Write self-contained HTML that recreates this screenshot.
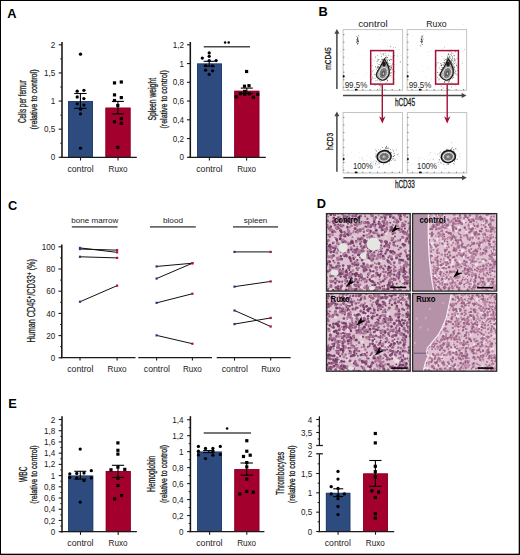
<!DOCTYPE html>
<html><head><meta charset="utf-8"><style>
html,body{margin:0;padding:0;background:#fff;overflow:hidden;}
svg{display:block;}
text{font-family:"Liberation Sans", sans-serif;}
</style></head><body>
<svg width="520" height="555" viewBox="0 0 520 555">
<text x="7.2" y="18.2" font-size="12.8" text-anchor="start" font-weight="bold" fill="#000">A</text>
<rect x="68" y="101.05000000000001" width="25" height="56.25" fill="#2e4b80"/>
<rect x="68.40" y="101.45" width="24.20" height="55.85" fill="none" stroke="#213d70" stroke-width="0.8"/>
<rect x="105.5" y="107.7" width="25" height="49.60000000000001" fill="#a4002e"/>
<rect x="105.90" y="108.10" width="24.20" height="49.20" fill="none" stroke="#8a0025" stroke-width="0.8"/>
<line x1="62" y1="42" x2="62" y2="158.0" stroke="#161616" stroke-width="1.55"/>
<line x1="58.7" y1="157.3" x2="62" y2="157.3" stroke="#1a1a1a" stroke-width="1.1"/>
<text x="55.2" y="160.4" font-size="8.7" text-anchor="end" fill="#1a1a1a" textLength="4.5" lengthAdjust="spacingAndGlyphs">0</text>
<line x1="58.7" y1="129.175" x2="62" y2="129.175" stroke="#1a1a1a" stroke-width="1.1"/>
<text x="55.2" y="132.28" font-size="8.7" text-anchor="end" fill="#1a1a1a" textLength="11.26" lengthAdjust="spacingAndGlyphs">0,5</text>
<line x1="58.7" y1="101.05000000000001" x2="62" y2="101.05000000000001" stroke="#1a1a1a" stroke-width="1.1"/>
<text x="55.2" y="104.15" font-size="8.7" text-anchor="end" fill="#1a1a1a" textLength="4.5" lengthAdjust="spacingAndGlyphs">1</text>
<line x1="58.7" y1="72.92500000000001" x2="62" y2="72.92500000000001" stroke="#1a1a1a" stroke-width="1.1"/>
<text x="55.2" y="76.03" font-size="8.7" text-anchor="end" fill="#1a1a1a" textLength="11.26" lengthAdjust="spacingAndGlyphs">1,5</text>
<line x1="58.7" y1="44.80000000000001" x2="62" y2="44.80000000000001" stroke="#1a1a1a" stroke-width="1.1"/>
<text x="55.2" y="47.9" font-size="8.7" text-anchor="end" fill="#1a1a1a" textLength="4.5" lengthAdjust="spacingAndGlyphs">2</text>
<line x1="60.3" y1="143.2375" x2="62" y2="143.2375" stroke="#1a1a1a" stroke-width="1.0"/>
<line x1="60.3" y1="115.11250000000001" x2="62" y2="115.11250000000001" stroke="#1a1a1a" stroke-width="1.0"/>
<line x1="60.3" y1="86.98750000000001" x2="62" y2="86.98750000000001" stroke="#1a1a1a" stroke-width="1.0"/>
<line x1="60.3" y1="58.86250000000001" x2="62" y2="58.86250000000001" stroke="#1a1a1a" stroke-width="1.0"/>
<line x1="60.5" y1="157.3" x2="136.8" y2="157.3" stroke="#1a1a1a" stroke-width="1.25"/>
<line x1="80.5" y1="157.3" x2="80.5" y2="160.5" stroke="#1a1a1a" stroke-width="1.1"/>
<line x1="118" y1="157.3" x2="118" y2="160.5" stroke="#1a1a1a" stroke-width="1.1"/>
<text x="80.5" y="171.6" font-size="8.3" text-anchor="middle" fill="#1a1a1a" textLength="26.2" lengthAdjust="spacingAndGlyphs">control</text>
<text x="118.1" y="171.6" font-size="8.3" text-anchor="middle" fill="#1a1a1a" textLength="19.0" lengthAdjust="spacingAndGlyphs">Ruxo</text>
<text transform="translate(26.2,101.5) rotate(-90)" x="0" y="0" font-size="10" text-anchor="middle" fill="#1a1a1a" stroke="#1a1a1a" stroke-width="0.28" textLength="43" lengthAdjust="spacingAndGlyphs">Cells per femur</text>
<text transform="translate(37.3,99.4) rotate(-90)" x="0" y="0" font-size="8.5" text-anchor="middle" fill="#1a1a1a" stroke="#1a1a1a" stroke-width="0.28" textLength="60" lengthAdjust="spacingAndGlyphs">(relative to control)</text>
<line x1="80.4" y1="93.5" x2="80.4" y2="108.3" stroke="#000" stroke-width="1.1"/>
<line x1="74.2" y1="93.5" x2="86.60000000000001" y2="93.5" stroke="#000" stroke-width="1.1"/>
<line x1="74.2" y1="108.3" x2="86.60000000000001" y2="108.3" stroke="#000" stroke-width="1.1"/>
<circle cx="80.5" cy="54.2" r="1.65" fill="#000"/>
<circle cx="77.2" cy="91.2" r="1.65" fill="#000"/>
<circle cx="83.9" cy="90.3" r="1.65" fill="#000"/>
<circle cx="77.2" cy="97" r="1.65" fill="#000"/>
<circle cx="83.9" cy="98.6" r="1.65" fill="#000"/>
<circle cx="77.2" cy="103.8" r="1.65" fill="#000"/>
<circle cx="83.9" cy="105.1" r="1.65" fill="#000"/>
<circle cx="80.5" cy="109.2" r="1.65" fill="#000"/>
<circle cx="80.5" cy="113.9" r="1.65" fill="#000"/>
<circle cx="80.5" cy="148.2" r="1.65" fill="#000"/>
<line x1="117.9" y1="101.4" x2="117.9" y2="113.9" stroke="#000" stroke-width="1.1"/>
<line x1="111.9" y1="101.4" x2="123.9" y2="101.4" stroke="#000" stroke-width="1.1"/>
<line x1="111.9" y1="113.9" x2="123.9" y2="113.9" stroke="#000" stroke-width="1.1"/>
<rect x="112.90" y="81.30" width="3.2" height="3.2" fill="#000"/>
<rect x="119.70" y="80.40" width="3.2" height="3.2" fill="#000"/>
<rect x="112.90" y="93.30" width="3.2" height="3.2" fill="#000"/>
<rect x="119.70" y="96.00" width="3.2" height="3.2" fill="#000"/>
<rect x="112.90" y="98.90" width="3.2" height="3.2" fill="#000"/>
<rect x="116.20" y="103.90" width="3.2" height="3.2" fill="#000"/>
<rect x="119.70" y="117.10" width="3.2" height="3.2" fill="#000"/>
<rect x="112.90" y="120.20" width="3.2" height="3.2" fill="#000"/>
<rect x="119.70" y="121.70" width="3.2" height="3.2" fill="#000"/>
<rect x="116.20" y="145.80" width="3.2" height="3.2" fill="#000"/>
<rect x="197" y="63.55000000000001" width="25" height="93.75" fill="#2e4b80"/>
<rect x="197.40" y="63.95" width="24.20" height="93.35" fill="none" stroke="#213d70" stroke-width="0.8"/>
<rect x="234.3" y="90.8" width="25" height="66.50000000000001" fill="#a4002e"/>
<rect x="234.70" y="91.20" width="24.20" height="66.10" fill="none" stroke="#8a0025" stroke-width="0.8"/>
<line x1="190.3" y1="42" x2="190.3" y2="158.0" stroke="#161616" stroke-width="1.55"/>
<line x1="187.0" y1="157.3" x2="190.3" y2="157.3" stroke="#1a1a1a" stroke-width="1.1"/>
<text x="184" y="160.4" font-size="8.7" text-anchor="end" fill="#1a1a1a" textLength="4.5" lengthAdjust="spacingAndGlyphs">0</text>
<line x1="187.0" y1="138.55" x2="190.3" y2="138.55" stroke="#1a1a1a" stroke-width="1.1"/>
<text x="184" y="141.65" font-size="8.7" text-anchor="end" fill="#1a1a1a" textLength="11.26" lengthAdjust="spacingAndGlyphs">0,2</text>
<line x1="187.0" y1="119.80000000000001" x2="190.3" y2="119.80000000000001" stroke="#1a1a1a" stroke-width="1.1"/>
<text x="184" y="122.9" font-size="8.7" text-anchor="end" fill="#1a1a1a" textLength="11.26" lengthAdjust="spacingAndGlyphs">0,4</text>
<line x1="187.0" y1="101.05000000000001" x2="190.3" y2="101.05000000000001" stroke="#1a1a1a" stroke-width="1.1"/>
<text x="184" y="104.15" font-size="8.7" text-anchor="end" fill="#1a1a1a" textLength="11.26" lengthAdjust="spacingAndGlyphs">0,6</text>
<line x1="187.0" y1="82.30000000000001" x2="190.3" y2="82.30000000000001" stroke="#1a1a1a" stroke-width="1.1"/>
<text x="184" y="85.4" font-size="8.7" text-anchor="end" fill="#1a1a1a" textLength="11.26" lengthAdjust="spacingAndGlyphs">0,8</text>
<line x1="187.0" y1="63.55000000000001" x2="190.3" y2="63.55000000000001" stroke="#1a1a1a" stroke-width="1.1"/>
<text x="184" y="66.65" font-size="8.7" text-anchor="end" fill="#1a1a1a" textLength="4.5" lengthAdjust="spacingAndGlyphs">1</text>
<line x1="187.0" y1="44.80000000000001" x2="190.3" y2="44.80000000000001" stroke="#1a1a1a" stroke-width="1.1"/>
<text x="184" y="47.9" font-size="8.7" text-anchor="end" fill="#1a1a1a" textLength="11.26" lengthAdjust="spacingAndGlyphs">1,2</text>
<line x1="188.5" y1="157.3" x2="265.8" y2="157.3" stroke="#1a1a1a" stroke-width="1.25"/>
<line x1="209.4" y1="157.3" x2="209.4" y2="160.5" stroke="#1a1a1a" stroke-width="1.1"/>
<line x1="246.6" y1="157.3" x2="246.6" y2="160.5" stroke="#1a1a1a" stroke-width="1.1"/>
<text x="209.35" y="171.6" font-size="8.3" text-anchor="middle" fill="#1a1a1a" textLength="26.2" lengthAdjust="spacingAndGlyphs">control</text>
<text x="246.65" y="171.6" font-size="8.3" text-anchor="middle" fill="#1a1a1a" textLength="19.0" lengthAdjust="spacingAndGlyphs">Ruxo</text>
<text transform="translate(156.2,99.2) rotate(-90)" x="0" y="0" font-size="10" text-anchor="middle" fill="#1a1a1a" stroke="#1a1a1a" stroke-width="0.28" textLength="42.4" lengthAdjust="spacingAndGlyphs">Spleen weight</text>
<text transform="translate(166.5,99.4) rotate(-90)" x="0" y="0" font-size="8.5" text-anchor="middle" fill="#1a1a1a" stroke="#1a1a1a" stroke-width="0.28" textLength="58.3" lengthAdjust="spacingAndGlyphs">(relative to control)</text>
<line x1="203.7" y1="46.8" x2="250" y2="46.8" stroke="#4a4a4a" stroke-width="1.5"/>
<circle cx="225.1" cy="42.5" r="1.25" fill="#000"/>
<circle cx="228.7" cy="42.5" r="1.25" fill="#000"/>
<line x1="209.2" y1="61.3" x2="209.2" y2="66.2" stroke="#000" stroke-width="1.1"/>
<line x1="203.6" y1="61.3" x2="214.79999999999998" y2="61.3" stroke="#000" stroke-width="1.1"/>
<line x1="203.6" y1="66.2" x2="214.79999999999998" y2="66.2" stroke="#000" stroke-width="1.1"/>
<circle cx="209.2" cy="52.9" r="1.65" fill="#000"/>
<circle cx="202.3" cy="58.1" r="1.65" fill="#000"/>
<circle cx="209.2" cy="56.3" r="1.65" fill="#000"/>
<circle cx="209.2" cy="60.6" r="1.65" fill="#000"/>
<circle cx="216.1" cy="60.6" r="1.65" fill="#000"/>
<circle cx="205.6" cy="65.6" r="1.65" fill="#000"/>
<circle cx="212.6" cy="65.9" r="1.65" fill="#000"/>
<circle cx="205.6" cy="70.2" r="1.65" fill="#000"/>
<circle cx="212.6" cy="70.8" r="1.65" fill="#000"/>
<circle cx="209.2" cy="74.4" r="1.65" fill="#000"/>
<line x1="246.8" y1="88.1" x2="246.8" y2="93.6" stroke="#000" stroke-width="1.1"/>
<line x1="240.8" y1="88.1" x2="252.8" y2="88.1" stroke="#000" stroke-width="1.1"/>
<line x1="240.8" y1="93.6" x2="252.8" y2="93.6" stroke="#000" stroke-width="1.1"/>
<rect x="245.00" y="69.90" width="3.2" height="3.2" fill="#000"/>
<rect x="242.90" y="84.60" width="3.2" height="3.2" fill="#000"/>
<rect x="247.40" y="84.10" width="3.2" height="3.2" fill="#000"/>
<rect x="238.80" y="92.10" width="3.2" height="3.2" fill="#000"/>
<rect x="243.10" y="92.70" width="3.2" height="3.2" fill="#000"/>
<rect x="247.70" y="92.20" width="3.2" height="3.2" fill="#000"/>
<rect x="256.10" y="92.70" width="3.2" height="3.2" fill="#000"/>
<rect x="234.50" y="95.10" width="3.2" height="3.2" fill="#000"/>
<rect x="251.80" y="95.60" width="3.2" height="3.2" fill="#000"/>
<rect x="243.10" y="89.80" width="3.2" height="3.2" fill="#000"/>
<text x="318.4" y="16.0" font-size="12.8" text-anchor="start" font-weight="bold" fill="#000">B</text>
<text x="372.9" y="27.1" font-size="9.8" text-anchor="middle" fill="#1a1a1a" textLength="29.4" lengthAdjust="spacingAndGlyphs">control</text>
<text x="436.5" y="26.9" font-size="9.8" text-anchor="middle" fill="#1a1a1a" textLength="20.4" lengthAdjust="spacingAndGlyphs">Ruxo</text>
<line x1="336.9" y1="33.0" x2="336.9" y2="89.0" stroke="#444" stroke-width="1.5"/>
<path d="M334.4,33.8 L336.9,29.0 L339.4,33.8 Z" fill="#444"/>
<line x1="343" y1="95.4" x2="462.5" y2="95.4" stroke="#444" stroke-width="1.5"/>
<path d="M461.7,92.9 L466.5,95.4 L461.7,97.9 Z" fill="#444"/>
<line x1="336.9" y1="115.4" x2="336.9" y2="171.8" stroke="#444" stroke-width="1.5"/>
<path d="M334.4,116.2 L336.9,111.4 L339.4,116.2 Z" fill="#444"/>
<line x1="343.4" y1="177.7" x2="462.8" y2="177.7" stroke="#444" stroke-width="1.5"/>
<path d="M462.0,175.2 L466.8,177.7 L462.0,180.2 Z" fill="#444"/>
<text transform="translate(331.4,58.6) rotate(-90)" x="0" y="0" font-size="9.4" text-anchor="middle" fill="#1a1a1a" stroke="#1a1a1a" stroke-width="0.28" textLength="22.5" lengthAdjust="spacingAndGlyphs">mCD45</text>
<text transform="translate(332.5,141.4) rotate(-90)" x="0" y="0" font-size="9.4" text-anchor="middle" fill="#1a1a1a" stroke="#1a1a1a" stroke-width="0.28" textLength="17.3" lengthAdjust="spacingAndGlyphs">hCD3</text>
<text x="394.9" y="105.6" font-size="10" text-anchor="start" fill="#1a1a1a" textLength="20.1" lengthAdjust="spacingAndGlyphs" stroke="#1a1a1a" stroke-width="0.3">hCD45</text>
<text x="394.9" y="188.1" font-size="10" text-anchor="start" fill="#1a1a1a" textLength="19.9" lengthAdjust="spacingAndGlyphs" stroke="#1a1a1a" stroke-width="0.3">hCD33</text>
<rect x="343.1" y="29.6" width="59.5" height="60.699999999999996" fill="#fff" stroke="#c4c4c4" stroke-width="1"/>
<line x1="343.1" y1="34.6" x2="344.40000000000003" y2="34.6" stroke="#666" stroke-width="0.8"/>
<line x1="343.1" y1="42.1" x2="344.40000000000003" y2="42.1" stroke="#666" stroke-width="0.8"/>
<line x1="343.1" y1="49.7" x2="344.40000000000003" y2="49.7" stroke="#666" stroke-width="0.8"/>
<line x1="343.1" y1="57.2" x2="344.40000000000003" y2="57.2" stroke="#666" stroke-width="0.8"/>
<line x1="343.1" y1="64.7" x2="344.40000000000003" y2="64.7" stroke="#666" stroke-width="0.8"/>
<line x1="343.1" y1="72.2" x2="344.40000000000003" y2="72.2" stroke="#666" stroke-width="0.8"/>
<line x1="343.1" y1="79.8" x2="344.40000000000003" y2="79.8" stroke="#666" stroke-width="0.8"/>
<line x1="343.1" y1="87.3" x2="344.40000000000003" y2="87.3" stroke="#666" stroke-width="0.8"/>
<line x1="348.1" y1="89.0" x2="348.1" y2="90.3" stroke="#666" stroke-width="0.8"/>
<line x1="355.5" y1="89.0" x2="355.5" y2="90.3" stroke="#666" stroke-width="0.8"/>
<line x1="362.8" y1="89.0" x2="362.8" y2="90.3" stroke="#666" stroke-width="0.8"/>
<line x1="370.2" y1="89.0" x2="370.2" y2="90.3" stroke="#666" stroke-width="0.8"/>
<line x1="377.5" y1="89.0" x2="377.5" y2="90.3" stroke="#666" stroke-width="0.8"/>
<line x1="384.9" y1="89.0" x2="384.9" y2="90.3" stroke="#666" stroke-width="0.8"/>
<line x1="392.2" y1="89.0" x2="392.2" y2="90.3" stroke="#666" stroke-width="0.8"/>
<line x1="399.6" y1="89.0" x2="399.6" y2="90.3" stroke="#666" stroke-width="0.8"/>
<ellipse cx="343.70000000000005" cy="76.3" rx="0.9" ry="1.4" fill="#111"/>
<ellipse cx="356.2" cy="89.7" rx="1.5" ry="0.9" fill="#111"/>
<circle cx="357.5" cy="41.8" r="0.4" fill="#333"/>
<circle cx="357.6" cy="39.8" r="0.4" fill="#333"/>
<circle cx="357.1" cy="40.1" r="0.4" fill="#333"/>
<circle cx="358.4" cy="41.6" r="0.4" fill="#333"/>
<circle cx="358.3" cy="41.2" r="0.4" fill="#333"/>
<circle cx="357.9" cy="41.0" r="0.4" fill="#333"/>
<circle cx="356.7" cy="42.7" r="0.4" fill="#333"/>
<circle cx="358.0" cy="41.8" r="0.4" fill="#333"/>
<circle cx="356.7" cy="36.4" r="0.4" fill="#333"/>
<circle cx="357.2" cy="39.5" r="0.4" fill="#333"/>
<circle cx="357.9" cy="40.5" r="0.4" fill="#333"/>
<circle cx="358.0" cy="39.1" r="0.4" fill="#333"/>
<circle cx="357.9" cy="41.5" r="0.4" fill="#333"/>
<circle cx="357.3" cy="44.7" r="0.4" fill="#333"/>
<circle cx="358.0" cy="43.5" r="0.4" fill="#333"/>
<circle cx="357.3" cy="38.8" r="0.4" fill="#333"/>
<circle cx="357.5" cy="40.3" r="0.4" fill="#333"/>
<circle cx="358.1" cy="41.2" r="0.4" fill="#333"/>
<circle cx="357.4" cy="38.3" r="0.4" fill="#333"/>
<circle cx="357.4" cy="43.5" r="0.4" fill="#333"/>
<circle cx="357.2" cy="41.2" r="0.4" fill="#333"/>
<circle cx="358.0" cy="37.0" r="0.4" fill="#333"/>
<circle cx="357.7" cy="43.7" r="0.4" fill="#333"/>
<circle cx="356.5" cy="39.8" r="0.4" fill="#333"/>
<circle cx="357.6" cy="38.6" r="0.4" fill="#333"/>
<circle cx="358.0" cy="40.5" r="0.4" fill="#333"/>
<circle cx="356.8" cy="42.6" r="0.4" fill="#333"/>
<circle cx="358.1" cy="42.9" r="0.4" fill="#333"/>
<circle cx="358.6" cy="41.5" r="0.4" fill="#333"/>
<circle cx="357.8" cy="37.5" r="0.4" fill="#333"/>
<circle cx="358.1" cy="39.1" r="0.4" fill="#333"/>
<circle cx="357.4" cy="37.6" r="0.4" fill="#333"/>
<circle cx="357.1" cy="39.3" r="0.4" fill="#333"/>
<circle cx="358.5" cy="35.7" r="0.4" fill="#333"/>
<circle cx="356.8" cy="41.2" r="0.4" fill="#333"/>
<circle cx="388.3" cy="68.1" r="0.3" fill="#aaa"/>
<circle cx="341.5" cy="24.7" r="0.3" fill="#aaa"/>
<circle cx="373.1" cy="49.7" r="0.3" fill="#aaa"/>
<circle cx="352.4" cy="73.7" r="0.3" fill="#aaa"/>
<circle cx="383.5" cy="62.2" r="0.3" fill="#aaa"/>
<circle cx="371.5" cy="66.1" r="0.3" fill="#aaa"/>
<circle cx="390.4" cy="68.7" r="0.3" fill="#aaa"/>
<circle cx="375.4" cy="67.7" r="0.3" fill="#aaa"/>
<circle cx="346.1" cy="77.9" r="0.3" fill="#aaa"/>
<circle cx="381.5" cy="67.4" r="0.3" fill="#aaa"/>
<circle cx="340.5" cy="51.1" r="0.3" fill="#aaa"/>
<circle cx="379.9" cy="34.6" r="0.3" fill="#aaa"/>
<circle cx="365.5" cy="74.3" r="0.3" fill="#aaa"/>
<circle cx="349.7" cy="82.5" r="0.3" fill="#aaa"/>
<circle cx="375.8" cy="57.9" r="0.3" fill="#aaa"/>
<circle cx="372.6" cy="69.1" r="0.3" fill="#aaa"/>
<circle cx="369.8" cy="76.0" r="0.3" fill="#aaa"/>
<circle cx="358.8" cy="54.2" r="0.3" fill="#aaa"/>
<circle cx="382.7" cy="60.4" r="0.3" fill="#aaa"/>
<circle cx="355.8" cy="73.3" r="0.3" fill="#aaa"/>
<circle cx="388.6" cy="53.8" r="0.3" fill="#aaa"/>
<circle cx="348.8" cy="58.1" r="0.3" fill="#aaa"/>
<circle cx="366.0" cy="55.8" r="0.3" fill="#aaa"/>
<circle cx="387.8" cy="45.6" r="0.3" fill="#aaa"/>
<circle cx="385.7" cy="42.2" r="0.3" fill="#aaa"/>
<circle cx="357.1" cy="68.8" r="0.3" fill="#aaa"/>
<circle cx="383.9" cy="72.0" r="0.3" fill="#aaa"/>
<circle cx="372.9" cy="62.0" r="0.3" fill="#aaa"/>
<circle cx="370.2" cy="68.1" r="0.3" fill="#aaa"/>
<circle cx="365.6" cy="63.9" r="0.3" fill="#aaa"/>
<circle cx="376.1" cy="60.0" r="0.3" fill="#aaa"/>
<circle cx="378.8" cy="67.9" r="0.3" fill="#aaa"/>
<circle cx="396.2" cy="64.5" r="0.3" fill="#aaa"/>
<circle cx="362.1" cy="54.8" r="0.3" fill="#aaa"/>
<circle cx="367.9" cy="72.9" r="0.3" fill="#aaa"/>
<circle cx="381.7" cy="69.1" r="0.4" fill="#666"/>
<circle cx="399.0" cy="49.7" r="0.4" fill="#666"/>
<circle cx="378.3" cy="66.8" r="0.4" fill="#666"/>
<circle cx="385.5" cy="69.0" r="0.4" fill="#666"/>
<circle cx="380.6" cy="71.0" r="0.4" fill="#666"/>
<circle cx="386.8" cy="63.0" r="0.4" fill="#666"/>
<circle cx="395.0" cy="72.9" r="0.4" fill="#666"/>
<circle cx="381.8" cy="65.0" r="0.4" fill="#666"/>
<circle cx="383.3" cy="65.8" r="0.4" fill="#666"/>
<circle cx="372.3" cy="58.8" r="0.4" fill="#666"/>
<circle cx="391.8" cy="59.2" r="0.4" fill="#666"/>
<circle cx="381.6" cy="73.8" r="0.4" fill="#666"/>
<circle cx="384.8" cy="79.3" r="0.4" fill="#666"/>
<circle cx="376.9" cy="61.4" r="0.4" fill="#666"/>
<circle cx="381.1" cy="70.9" r="0.4" fill="#666"/>
<circle cx="395.8" cy="47.7" r="0.4" fill="#666"/>
<circle cx="392.8" cy="57.1" r="0.4" fill="#666"/>
<circle cx="391.0" cy="56.2" r="0.4" fill="#666"/>
<circle cx="382.2" cy="76.0" r="0.4" fill="#666"/>
<circle cx="383.0" cy="67.8" r="0.4" fill="#666"/>
<circle cx="387.7" cy="68.9" r="0.4" fill="#666"/>
<circle cx="380.2" cy="78.2" r="0.4" fill="#666"/>
<circle cx="389.9" cy="65.9" r="0.4" fill="#666"/>
<circle cx="400.0" cy="61.9" r="0.4" fill="#666"/>
<circle cx="389.2" cy="65.9" r="0.4" fill="#666"/>
<circle cx="383.2" cy="72.2" r="0.4" fill="#666"/>
<circle cx="383.8" cy="71.8" r="0.4" fill="#666"/>
<circle cx="380.5" cy="52.8" r="0.4" fill="#666"/>
<circle cx="389.4" cy="60.1" r="0.4" fill="#666"/>
<circle cx="382.8" cy="53.8" r="0.4" fill="#666"/>
<circle cx="388.5" cy="74.2" r="0.4" fill="#666"/>
<circle cx="393.5" cy="61.6" r="0.4" fill="#666"/>
<circle cx="386.9" cy="57.9" r="0.4" fill="#666"/>
<circle cx="384.1" cy="79.9" r="0.4" fill="#666"/>
<circle cx="376.3" cy="77.2" r="0.4" fill="#666"/>
<circle cx="389.3" cy="66.7" r="0.4" fill="#666"/>
<circle cx="371.5" cy="74.4" r="0.4" fill="#666"/>
<circle cx="385.2" cy="61.9" r="0.4" fill="#666"/>
<circle cx="385.1" cy="70.3" r="0.4" fill="#666"/>
<circle cx="393.8" cy="61.0" r="0.4" fill="#666"/>
<circle cx="386.1" cy="79.6" r="0.4" fill="#666"/>
<circle cx="391.6" cy="67.4" r="0.4" fill="#666"/>
<circle cx="378.2" cy="73.3" r="0.4" fill="#666"/>
<circle cx="384.5" cy="67.7" r="0.4" fill="#666"/>
<circle cx="391.6" cy="66.7" r="0.4" fill="#666"/>
<circle cx="374.1" cy="60.2" r="0.4" fill="#666"/>
<circle cx="373.4" cy="70.1" r="0.4" fill="#666"/>
<circle cx="387.2" cy="62.4" r="0.4" fill="#666"/>
<circle cx="382.2" cy="72.9" r="0.4" fill="#666"/>
<circle cx="381.4" cy="76.9" r="0.4" fill="#666"/>
<circle cx="381.4" cy="74.5" r="0.4" fill="#666"/>
<circle cx="387.5" cy="81.1" r="0.4" fill="#666"/>
<circle cx="378.9" cy="72.3" r="0.4" fill="#666"/>
<circle cx="377.8" cy="55.5" r="0.4" fill="#666"/>
<circle cx="372.3" cy="71.9" r="0.4" fill="#666"/>
<circle cx="378.3" cy="64.7" r="0.4" fill="#666"/>
<circle cx="383.3" cy="66.1" r="0.4" fill="#666"/>
<circle cx="380.8" cy="67.5" r="0.4" fill="#666"/>
<circle cx="392.7" cy="69.6" r="0.4" fill="#666"/>
<circle cx="384.4" cy="75.0" r="0.4" fill="#666"/>
<circle cx="386.2" cy="56.7" r="0.4" fill="#666"/>
<circle cx="379.0" cy="74.0" r="0.4" fill="#666"/>
<circle cx="377.7" cy="59.6" r="0.4" fill="#666"/>
<circle cx="387.1" cy="74.1" r="0.4" fill="#666"/>
<circle cx="382.3" cy="72.8" r="0.4" fill="#666"/>
<circle cx="387.8" cy="57.8" r="0.4" fill="#666"/>
<circle cx="378.2" cy="59.4" r="0.4" fill="#666"/>
<circle cx="389.9" cy="63.6" r="0.4" fill="#666"/>
<circle cx="381.7" cy="59.4" r="0.4" fill="#666"/>
<circle cx="377.2" cy="63.4" r="0.4" fill="#666"/>
<circle cx="377.7" cy="67.6" r="0.4" fill="#666"/>
<circle cx="372.2" cy="65.6" r="0.4" fill="#666"/>
<circle cx="385.7" cy="50.8" r="0.4" fill="#666"/>
<circle cx="388.3" cy="65.6" r="0.4" fill="#666"/>
<circle cx="375.6" cy="56.6" r="0.4" fill="#666"/>
<circle cx="386.7" cy="63.5" r="0.4" fill="#666"/>
<circle cx="386.2" cy="73.5" r="0.4" fill="#666"/>
<circle cx="386.6" cy="70.1" r="0.4" fill="#666"/>
<circle cx="389.0" cy="73.6" r="0.4" fill="#666"/>
<circle cx="391.3" cy="51.3" r="0.4" fill="#666"/>
<circle cx="385.4" cy="77.9" r="0.4" fill="#666"/>
<circle cx="383.9" cy="62.6" r="0.4" fill="#666"/>
<circle cx="397.6" cy="56.0" r="0.4" fill="#666"/>
<circle cx="380.7" cy="85.8" r="0.4" fill="#666"/>
<circle cx="378.1" cy="70.5" r="0.4" fill="#666"/>
<circle cx="393.5" cy="68.5" r="0.4" fill="#666"/>
<circle cx="384.7" cy="74.3" r="0.4" fill="#666"/>
<circle cx="380.1" cy="64.6" r="0.4" fill="#666"/>
<circle cx="383.6" cy="73.3" r="0.4" fill="#666"/>
<circle cx="384.5" cy="65.1" r="0.4" fill="#666"/>
<circle cx="380.2" cy="62.4" r="0.4" fill="#666"/>
<circle cx="388.2" cy="68.7" r="0.4" fill="#666"/>
<circle cx="382.1" cy="58.9" r="0.4" fill="#666"/>
<circle cx="394.2" cy="79.3" r="0.4" fill="#666"/>
<circle cx="393.4" cy="47.7" r="0.4" fill="#666"/>
<circle cx="386.0" cy="71.2" r="0.4" fill="#666"/>
<circle cx="391.2" cy="72.4" r="0.4" fill="#666"/>
<circle cx="382.6" cy="70.5" r="0.4" fill="#666"/>
<circle cx="372.5" cy="71.6" r="0.4" fill="#666"/>
<circle cx="387.4" cy="61.7" r="0.4" fill="#666"/>
<circle cx="386.3" cy="82.4" r="0.4" fill="#666"/>
<circle cx="379.1" cy="59.4" r="0.4" fill="#666"/>
<circle cx="385.2" cy="68.4" r="0.4" fill="#666"/>
<circle cx="384.6" cy="58.6" r="0.4" fill="#666"/>
<circle cx="391.9" cy="77.7" r="0.4" fill="#666"/>
<circle cx="381.7" cy="54.6" r="0.4" fill="#666"/>
<circle cx="390.0" cy="76.7" r="0.4" fill="#666"/>
<circle cx="391.0" cy="75.5" r="0.4" fill="#666"/>
<circle cx="379.4" cy="67.3" r="0.4" fill="#666"/>
<circle cx="375.7" cy="57.7" r="0.4" fill="#666"/>
<circle cx="384.0" cy="64.3" r="0.45" fill="#333"/>
<circle cx="383.3" cy="61.7" r="0.45" fill="#333"/>
<circle cx="385.3" cy="64.2" r="0.45" fill="#333"/>
<circle cx="385.8" cy="63.7" r="0.45" fill="#333"/>
<circle cx="383.2" cy="65.0" r="0.45" fill="#333"/>
<circle cx="385.7" cy="59.9" r="0.45" fill="#333"/>
<circle cx="383.4" cy="62.2" r="0.45" fill="#333"/>
<circle cx="384.3" cy="63.1" r="0.45" fill="#333"/>
<circle cx="384.5" cy="63.2" r="0.45" fill="#333"/>
<circle cx="385.7" cy="58.3" r="0.45" fill="#333"/>
<circle cx="384.5" cy="66.4" r="0.45" fill="#333"/>
<circle cx="385.8" cy="62.2" r="0.45" fill="#333"/>
<circle cx="386.6" cy="59.7" r="0.45" fill="#333"/>
<circle cx="380.7" cy="61.6" r="0.45" fill="#333"/>
<circle cx="382.0" cy="64.5" r="0.45" fill="#333"/>
<circle cx="385.1" cy="53.1" r="0.45" fill="#333"/>
<circle cx="380.9" cy="67.2" r="0.45" fill="#333"/>
<circle cx="385.3" cy="57.8" r="0.45" fill="#333"/>
<circle cx="382.6" cy="63.8" r="0.45" fill="#333"/>
<circle cx="385.6" cy="63.5" r="0.45" fill="#333"/>
<circle cx="387.1" cy="65.9" r="0.45" fill="#333"/>
<circle cx="384.0" cy="64.6" r="0.45" fill="#333"/>
<circle cx="387.2" cy="66.9" r="0.45" fill="#333"/>
<circle cx="388.0" cy="59.6" r="0.45" fill="#333"/>
<circle cx="383.6" cy="64.9" r="0.45" fill="#333"/>
<circle cx="383.0" cy="66.0" r="0.45" fill="#333"/>
<circle cx="385.0" cy="66.0" r="0.45" fill="#333"/>
<circle cx="381.6" cy="71.0" r="0.45" fill="#333"/>
<circle cx="387.5" cy="62.7" r="0.45" fill="#333"/>
<circle cx="382.2" cy="71.3" r="0.45" fill="#333"/>
<circle cx="383.1" cy="65.3" r="0.45" fill="#333"/>
<circle cx="386.8" cy="63.3" r="0.45" fill="#333"/>
<circle cx="382.1" cy="62.5" r="0.45" fill="#333"/>
<circle cx="384.3" cy="66.6" r="0.45" fill="#333"/>
<circle cx="386.3" cy="63.2" r="0.45" fill="#333"/>
<circle cx="385.9" cy="65.0" r="0.45" fill="#333"/>
<circle cx="385.1" cy="62.9" r="0.45" fill="#333"/>
<circle cx="383.5" cy="64.7" r="0.45" fill="#333"/>
<circle cx="383.1" cy="59.8" r="0.45" fill="#333"/>
<circle cx="386.2" cy="57.7" r="0.45" fill="#333"/>
<circle cx="385.9" cy="55.6" r="0.45" fill="#333"/>
<circle cx="382.7" cy="64.1" r="0.45" fill="#333"/>
<circle cx="385.9" cy="62.8" r="0.45" fill="#333"/>
<circle cx="385.7" cy="57.7" r="0.45" fill="#333"/>
<circle cx="388.0" cy="65.5" r="0.45" fill="#333"/>
<circle cx="390.6" cy="65.9" r="0.45" fill="#2a2a2a"/>
<circle cx="387.4" cy="57.5" r="0.45" fill="#2a2a2a"/>
<circle cx="384.8" cy="77.7" r="0.45" fill="#2a2a2a"/>
<circle cx="375.6" cy="66.8" r="0.45" fill="#2a2a2a"/>
<circle cx="390.8" cy="59.2" r="0.45" fill="#2a2a2a"/>
<circle cx="378.4" cy="60.0" r="0.45" fill="#2a2a2a"/>
<circle cx="384.4" cy="59.6" r="0.45" fill="#2a2a2a"/>
<circle cx="383.2" cy="71.8" r="0.45" fill="#2a2a2a"/>
<circle cx="384.7" cy="75.8" r="0.45" fill="#2a2a2a"/>
<circle cx="387.3" cy="80.3" r="0.45" fill="#2a2a2a"/>
<circle cx="379.3" cy="64.6" r="0.45" fill="#2a2a2a"/>
<circle cx="381.8" cy="61.1" r="0.45" fill="#2a2a2a"/>
<circle cx="383.3" cy="70.0" r="0.45" fill="#2a2a2a"/>
<circle cx="389.7" cy="60.1" r="0.45" fill="#2a2a2a"/>
<circle cx="378.4" cy="68.0" r="0.45" fill="#2a2a2a"/>
<circle cx="383.6" cy="67.7" r="0.45" fill="#2a2a2a"/>
<circle cx="385.3" cy="64.9" r="0.45" fill="#2a2a2a"/>
<circle cx="385.9" cy="73.6" r="0.45" fill="#2a2a2a"/>
<circle cx="385.0" cy="65.4" r="0.45" fill="#2a2a2a"/>
<circle cx="389.7" cy="51.4" r="0.45" fill="#2a2a2a"/>
<circle cx="379.4" cy="68.8" r="0.45" fill="#2a2a2a"/>
<circle cx="376.7" cy="69.1" r="0.45" fill="#2a2a2a"/>
<circle cx="387.7" cy="61.0" r="0.45" fill="#2a2a2a"/>
<circle cx="383.4" cy="67.6" r="0.45" fill="#2a2a2a"/>
<circle cx="384.2" cy="75.0" r="0.45" fill="#2a2a2a"/>
<circle cx="385.6" cy="64.3" r="0.45" fill="#2a2a2a"/>
<circle cx="383.2" cy="69.4" r="0.45" fill="#2a2a2a"/>
<circle cx="386.1" cy="73.2" r="0.45" fill="#2a2a2a"/>
<circle cx="383.9" cy="59.8" r="0.45" fill="#2a2a2a"/>
<circle cx="383.9" cy="64.5" r="0.45" fill="#2a2a2a"/>
<circle cx="379.2" cy="67.6" r="0.45" fill="#2a2a2a"/>
<circle cx="381.3" cy="70.0" r="0.45" fill="#2a2a2a"/>
<circle cx="387.0" cy="68.1" r="0.45" fill="#2a2a2a"/>
<circle cx="394.5" cy="71.6" r="0.45" fill="#2a2a2a"/>
<circle cx="388.2" cy="72.7" r="0.45" fill="#2a2a2a"/>
<circle cx="394.4" cy="55.8" r="0.45" fill="#2a2a2a"/>
<circle cx="379.8" cy="70.6" r="0.45" fill="#2a2a2a"/>
<circle cx="380.5" cy="86.9" r="0.45" fill="#2a2a2a"/>
<circle cx="381.9" cy="79.3" r="0.45" fill="#2a2a2a"/>
<circle cx="384.7" cy="77.7" r="0.45" fill="#2a2a2a"/>
<circle cx="386.3" cy="69.8" r="0.45" fill="#2a2a2a"/>
<circle cx="388.6" cy="63.6" r="0.45" fill="#2a2a2a"/>
<circle cx="391.3" cy="65.1" r="0.45" fill="#2a2a2a"/>
<circle cx="379.5" cy="84.8" r="0.45" fill="#2a2a2a"/>
<circle cx="382.7" cy="69.9" r="0.45" fill="#2a2a2a"/>
<circle cx="388.7" cy="72.1" r="0.45" fill="#2a2a2a"/>
<circle cx="379.6" cy="70.6" r="0.45" fill="#2a2a2a"/>
<circle cx="384.5" cy="75.8" r="0.45" fill="#2a2a2a"/>
<circle cx="376.0" cy="80.7" r="0.45" fill="#2a2a2a"/>
<circle cx="390.9" cy="72.9" r="0.45" fill="#2a2a2a"/>
<circle cx="385.9" cy="67.6" r="0.45" fill="#2a2a2a"/>
<circle cx="391.6" cy="67.6" r="0.45" fill="#2a2a2a"/>
<circle cx="387.8" cy="67.9" r="0.45" fill="#2a2a2a"/>
<circle cx="378.9" cy="73.9" r="0.45" fill="#2a2a2a"/>
<circle cx="389.5" cy="72.1" r="0.45" fill="#2a2a2a"/>
<circle cx="378.8" cy="74.5" r="0.45" fill="#2a2a2a"/>
<circle cx="382.7" cy="72.1" r="0.45" fill="#2a2a2a"/>
<circle cx="387.5" cy="80.2" r="0.45" fill="#2a2a2a"/>
<circle cx="375.8" cy="84.7" r="0.45" fill="#2a2a2a"/>
<circle cx="381.8" cy="75.4" r="0.45" fill="#2a2a2a"/>
<circle cx="381.0" cy="68.8" r="0.45" fill="#2a2a2a"/>
<circle cx="371.7" cy="79.4" r="0.45" fill="#2a2a2a"/>
<circle cx="392.6" cy="64.0" r="0.45" fill="#2a2a2a"/>
<circle cx="381.2" cy="56.8" r="0.45" fill="#2a2a2a"/>
<circle cx="389.9" cy="68.8" r="0.45" fill="#2a2a2a"/>
<circle cx="384.2" cy="67.9" r="0.45" fill="#2a2a2a"/>
<circle cx="385.9" cy="62.5" r="0.45" fill="#2a2a2a"/>
<circle cx="387.4" cy="60.4" r="0.45" fill="#2a2a2a"/>
<circle cx="382.6" cy="72.1" r="0.45" fill="#2a2a2a"/>
<circle cx="386.3" cy="69.3" r="0.45" fill="#2a2a2a"/>
<circle cx="379.4" cy="69.8" r="0.45" fill="#2a2a2a"/>
<circle cx="377.7" cy="79.9" r="0.45" fill="#2a2a2a"/>
<circle cx="387.3" cy="70.5" r="0.45" fill="#2a2a2a"/>
<circle cx="383.4" cy="64.6" r="0.45" fill="#2a2a2a"/>
<circle cx="380.5" cy="66.2" r="0.45" fill="#2a2a2a"/>
<circle cx="383.7" cy="74.1" r="0.45" fill="#2a2a2a"/>
<circle cx="381.0" cy="85.2" r="0.45" fill="#2a2a2a"/>
<circle cx="380.6" cy="69.1" r="0.45" fill="#2a2a2a"/>
<circle cx="400.4" cy="61.9" r="0.45" fill="#2a2a2a"/>
<circle cx="381.0" cy="70.4" r="0.45" fill="#2a2a2a"/>
<circle cx="383.4" cy="73.1" r="0.45" fill="#2a2a2a"/>
<circle cx="381.8" cy="72.2" r="0.45" fill="#2a2a2a"/>
<circle cx="382.0" cy="75.4" r="0.45" fill="#2a2a2a"/>
<circle cx="377.7" cy="61.1" r="0.45" fill="#2a2a2a"/>
<circle cx="386.2" cy="63.1" r="0.45" fill="#2a2a2a"/>
<circle cx="377.6" cy="72.7" r="0.45" fill="#2a2a2a"/>
<circle cx="379.3" cy="73.4" r="0.45" fill="#2a2a2a"/>
<circle cx="386.2" cy="73.3" r="0.45" fill="#2a2a2a"/>
<circle cx="386.2" cy="70.2" r="0.45" fill="#2a2a2a"/>
<circle cx="377.7" cy="67.7" r="0.45" fill="#2a2a2a"/>
<circle cx="387.0" cy="67.2" r="0.45" fill="#2a2a2a"/>
<circle cx="381.4" cy="75.0" r="0.45" fill="#2a2a2a"/>
<circle cx="378.3" cy="73.0" r="0.45" fill="#2a2a2a"/>
<circle cx="393.1" cy="69.3" r="0.45" fill="#2a2a2a"/>
<circle cx="384.7" cy="69.3" r="0.45" fill="#2a2a2a"/>
<circle cx="389.6" cy="74.7" r="0.45" fill="#2a2a2a"/>
<circle cx="389.3" cy="66.8" r="0.45" fill="#2a2a2a"/>
<circle cx="383.7" cy="70.0" r="0.45" fill="#2a2a2a"/>
<circle cx="372.5" cy="77.0" r="0.45" fill="#2a2a2a"/>
<circle cx="391.9" cy="59.7" r="0.45" fill="#2a2a2a"/>
<circle cx="387.2" cy="70.4" r="0.45" fill="#2a2a2a"/>
<circle cx="384.7" cy="73.3" r="0.45" fill="#2a2a2a"/>
<circle cx="377.7" cy="66.3" r="0.45" fill="#2a2a2a"/>
<circle cx="391.6" cy="68.6" r="0.45" fill="#2a2a2a"/>
<circle cx="382.6" cy="59.3" r="0.45" fill="#2a2a2a"/>
<circle cx="377.6" cy="70.4" r="0.45" fill="#2a2a2a"/>
<circle cx="390.0" cy="75.7" r="0.45" fill="#2a2a2a"/>
<circle cx="379.2" cy="85.6" r="0.45" fill="#2a2a2a"/>
<circle cx="383.1" cy="64.7" r="0.45" fill="#2a2a2a"/>
<circle cx="384.6" cy="74.6" r="0.45" fill="#2a2a2a"/>
<circle cx="382.2" cy="60.6" r="0.45" fill="#2a2a2a"/>
<circle cx="384.3" cy="72.2" r="0.45" fill="#2a2a2a"/>
<circle cx="378.6" cy="66.7" r="0.45" fill="#2a2a2a"/>
<circle cx="380.2" cy="72.4" r="0.45" fill="#2a2a2a"/>
<circle cx="383.4" cy="69.3" r="0.45" fill="#2a2a2a"/>
<circle cx="379.6" cy="76.7" r="0.45" fill="#2a2a2a"/>
<circle cx="390.6" cy="69.8" r="0.45" fill="#2a2a2a"/>
<circle cx="389.2" cy="66.3" r="0.45" fill="#2a2a2a"/>
<circle cx="382.2" cy="75.3" r="0.45" fill="#2a2a2a"/>
<circle cx="391.2" cy="69.9" r="0.45" fill="#2a2a2a"/>
<circle cx="382.9" cy="71.3" r="0.45" fill="#2a2a2a"/>
<circle cx="377.2" cy="67.8" r="0.45" fill="#2a2a2a"/>
<circle cx="379.9" cy="71.5" r="0.45" fill="#2a2a2a"/>
<circle cx="383.7" cy="54.9" r="0.45" fill="#2a2a2a"/>
<circle cx="383.2" cy="71.9" r="0.45" fill="#2a2a2a"/>
<circle cx="379.1" cy="75.2" r="0.45" fill="#2a2a2a"/>
<circle cx="384.0" cy="65.6" r="0.45" fill="#2a2a2a"/>
<circle cx="389.6" cy="60.2" r="0.45" fill="#2a2a2a"/>
<circle cx="380.8" cy="68.9" r="0.45" fill="#2a2a2a"/>
<circle cx="387.8" cy="70.3" r="0.45" fill="#2a2a2a"/>
<circle cx="386.7" cy="66.2" r="0.45" fill="#2a2a2a"/>
<circle cx="380.9" cy="81.8" r="0.45" fill="#2a2a2a"/>
<circle cx="374.9" cy="85.0" r="0.45" fill="#2a2a2a"/>
<circle cx="380.9" cy="69.2" r="0.45" fill="#2a2a2a"/>
<circle cx="381.9" cy="77.3" r="0.45" fill="#2a2a2a"/>
<circle cx="383.5" cy="53.9" r="0.45" fill="#2a2a2a"/>
<circle cx="384.4" cy="76.4" r="0.45" fill="#2a2a2a"/>
<circle cx="379.9" cy="88.9" r="0.45" fill="#2a2a2a"/>
<circle cx="384.0" cy="72.1" r="0.45" fill="#2a2a2a"/>
<circle cx="386.8" cy="74.1" r="0.45" fill="#2a2a2a"/>
<circle cx="393.9" cy="64.3" r="0.45" fill="#2a2a2a"/>
<circle cx="390.6" cy="46.2" r="0.45" fill="#2a2a2a"/>
<circle cx="388.1" cy="68.9" r="0.45" fill="#2a2a2a"/>
<circle cx="382.4" cy="86.1" r="0.45" fill="#2a2a2a"/>
<circle cx="384.3" cy="68.4" r="0.45" fill="#2a2a2a"/>
<circle cx="383.6" cy="63.6" r="0.45" fill="#2a2a2a"/>
<circle cx="379.4" cy="73.4" r="0.45" fill="#2a2a2a"/>
<circle cx="383.7" cy="70.6" r="0.45" fill="#2a2a2a"/>
<circle cx="380.7" cy="76.0" r="0.45" fill="#2a2a2a"/>
<circle cx="386.2" cy="69.9" r="0.45" fill="#2a2a2a"/>
<circle cx="386.9" cy="70.1" r="0.45" fill="#2a2a2a"/>
<circle cx="375.1" cy="78.1" r="0.45" fill="#2a2a2a"/>
<circle cx="388.1" cy="64.4" r="0.45" fill="#2a2a2a"/>
<circle cx="387.5" cy="74.1" r="0.45" fill="#2a2a2a"/>
<circle cx="373.0" cy="78.5" r="0.45" fill="#2a2a2a"/>
<circle cx="382.9" cy="76.7" r="0.45" fill="#2a2a2a"/>
<circle cx="384.9" cy="69.4" r="0.45" fill="#2a2a2a"/>
<circle cx="374.6" cy="74.2" r="0.45" fill="#2a2a2a"/>
<circle cx="384.5" cy="68.2" r="0.45" fill="#2a2a2a"/>
<circle cx="385.0" cy="71.2" r="0.45" fill="#2a2a2a"/>
<circle cx="387.5" cy="68.7" r="0.45" fill="#2a2a2a"/>
<circle cx="388.8" cy="55.6" r="0.45" fill="#2a2a2a"/>
<circle cx="380.2" cy="74.0" r="0.45" fill="#2a2a2a"/>
<circle cx="390.4" cy="69.7" r="0.45" fill="#2a2a2a"/>
<circle cx="379.3" cy="80.6" r="0.45" fill="#2a2a2a"/>
<circle cx="380.5" cy="74.6" r="0.45" fill="#2a2a2a"/>
<circle cx="390.9" cy="73.0" r="0.45" fill="#2a2a2a"/>
<circle cx="390.8" cy="67.2" r="0.45" fill="#2a2a2a"/>
<circle cx="384.8" cy="69.9" r="0.45" fill="#2a2a2a"/>
<circle cx="381.4" cy="77.9" r="0.45" fill="#2a2a2a"/>
<path d="M384.40000000000003,58.99999999999999 C386.70000000000005,63.599999999999994 390.20000000000005,66.6 389.20000000000005,73.6 C388.20000000000005,78.6 384.20000000000005,80.8 381.70000000000005,80.1 C377.20000000000005,78.6 375.20000000000005,75.6 376.70000000000005,73.1 C379.20000000000005,68.6 382.20000000000005,63.599999999999994 384.40000000000003,58.99999999999999 Z" fill="#a5a5a5" stroke="#1a1a1a" stroke-width="1.2"/>
<ellipse cx="383.20000000000005" cy="73.1" rx="4.0" ry="5.8" transform="rotate(20 383.20000000000005 73.1)" fill="#7a7a7a" stroke="#e8e8e8" stroke-width="0.9"/>
<ellipse cx="383.20000000000005" cy="73.39999999999999" rx="2.3" ry="3.5" transform="rotate(20 383.20000000000005 73.39999999999999)" fill="#5a5a5a" stroke="#9a9a9a" stroke-width="0.5"/>
<ellipse cx="383.40000000000003" cy="73.6" rx="0.6" ry="1.2" fill="#ddd"/>
<ellipse cx="384.00000000000006" cy="64.1" rx="1.8" ry="2.6" fill="#1a1a1a"/>
<rect x="370.7" y="50.6" width="22.8" height="33.5" fill="none" stroke="#a31035" stroke-width="1.5"/>
<text x="344.70000000000005" y="87.6" font-size="8.9" text-anchor="start" fill="#262626" textLength="22.6" lengthAdjust="spacingAndGlyphs">99.5%</text>
<rect x="407.1" y="29.6" width="59.5" height="60.699999999999996" fill="#fff" stroke="#c4c4c4" stroke-width="1"/>
<line x1="407.1" y1="34.6" x2="408.40000000000003" y2="34.6" stroke="#666" stroke-width="0.8"/>
<line x1="407.1" y1="42.1" x2="408.40000000000003" y2="42.1" stroke="#666" stroke-width="0.8"/>
<line x1="407.1" y1="49.7" x2="408.40000000000003" y2="49.7" stroke="#666" stroke-width="0.8"/>
<line x1="407.1" y1="57.2" x2="408.40000000000003" y2="57.2" stroke="#666" stroke-width="0.8"/>
<line x1="407.1" y1="64.7" x2="408.40000000000003" y2="64.7" stroke="#666" stroke-width="0.8"/>
<line x1="407.1" y1="72.2" x2="408.40000000000003" y2="72.2" stroke="#666" stroke-width="0.8"/>
<line x1="407.1" y1="79.8" x2="408.40000000000003" y2="79.8" stroke="#666" stroke-width="0.8"/>
<line x1="407.1" y1="87.3" x2="408.40000000000003" y2="87.3" stroke="#666" stroke-width="0.8"/>
<line x1="412.1" y1="89.0" x2="412.1" y2="90.3" stroke="#666" stroke-width="0.8"/>
<line x1="419.5" y1="89.0" x2="419.5" y2="90.3" stroke="#666" stroke-width="0.8"/>
<line x1="426.8" y1="89.0" x2="426.8" y2="90.3" stroke="#666" stroke-width="0.8"/>
<line x1="434.2" y1="89.0" x2="434.2" y2="90.3" stroke="#666" stroke-width="0.8"/>
<line x1="441.5" y1="89.0" x2="441.5" y2="90.3" stroke="#666" stroke-width="0.8"/>
<line x1="448.9" y1="89.0" x2="448.9" y2="90.3" stroke="#666" stroke-width="0.8"/>
<line x1="456.2" y1="89.0" x2="456.2" y2="90.3" stroke="#666" stroke-width="0.8"/>
<line x1="463.6" y1="89.0" x2="463.6" y2="90.3" stroke="#666" stroke-width="0.8"/>
<ellipse cx="407.70000000000005" cy="76.3" rx="0.9" ry="1.4" fill="#111"/>
<ellipse cx="420.2" cy="89.7" rx="1.5" ry="0.9" fill="#111"/>
<circle cx="423.1" cy="39.0" r="0.4" fill="#333"/>
<circle cx="421.4" cy="41.8" r="0.4" fill="#333"/>
<circle cx="421.1" cy="41.8" r="0.4" fill="#333"/>
<circle cx="422.0" cy="39.9" r="0.4" fill="#333"/>
<circle cx="422.0" cy="36.9" r="0.4" fill="#333"/>
<circle cx="422.2" cy="36.9" r="0.4" fill="#333"/>
<circle cx="421.3" cy="39.3" r="0.4" fill="#333"/>
<circle cx="421.5" cy="42.7" r="0.4" fill="#333"/>
<circle cx="421.7" cy="39.6" r="0.4" fill="#333"/>
<circle cx="422.0" cy="44.4" r="0.4" fill="#333"/>
<circle cx="421.7" cy="41.5" r="0.4" fill="#333"/>
<circle cx="422.4" cy="41.2" r="0.4" fill="#333"/>
<circle cx="420.9" cy="46.6" r="0.4" fill="#333"/>
<circle cx="423.0" cy="35.8" r="0.4" fill="#333"/>
<circle cx="421.7" cy="41.6" r="0.4" fill="#333"/>
<circle cx="422.3" cy="42.2" r="0.4" fill="#333"/>
<circle cx="421.5" cy="38.1" r="0.4" fill="#333"/>
<circle cx="421.8" cy="43.1" r="0.4" fill="#333"/>
<circle cx="421.0" cy="38.1" r="0.4" fill="#333"/>
<circle cx="421.7" cy="36.0" r="0.4" fill="#333"/>
<circle cx="421.5" cy="39.6" r="0.4" fill="#333"/>
<circle cx="422.0" cy="38.9" r="0.4" fill="#333"/>
<circle cx="421.2" cy="39.7" r="0.4" fill="#333"/>
<circle cx="421.7" cy="39.0" r="0.4" fill="#333"/>
<circle cx="421.7" cy="42.4" r="0.4" fill="#333"/>
<circle cx="422.4" cy="44.7" r="0.4" fill="#333"/>
<circle cx="421.2" cy="39.6" r="0.4" fill="#333"/>
<circle cx="420.2" cy="45.2" r="0.4" fill="#333"/>
<circle cx="421.3" cy="40.5" r="0.4" fill="#333"/>
<circle cx="422.0" cy="37.3" r="0.4" fill="#333"/>
<circle cx="422.0" cy="40.5" r="0.4" fill="#333"/>
<circle cx="420.6" cy="41.3" r="0.4" fill="#333"/>
<circle cx="422.4" cy="36.1" r="0.4" fill="#333"/>
<circle cx="422.2" cy="41.1" r="0.4" fill="#333"/>
<circle cx="422.0" cy="41.7" r="0.4" fill="#333"/>
<circle cx="450.4" cy="56.9" r="0.3" fill="#aaa"/>
<circle cx="444.3" cy="54.3" r="0.3" fill="#aaa"/>
<circle cx="442.3" cy="48.6" r="0.3" fill="#aaa"/>
<circle cx="430.6" cy="84.2" r="0.3" fill="#aaa"/>
<circle cx="438.3" cy="57.8" r="0.3" fill="#aaa"/>
<circle cx="416.1" cy="48.9" r="0.3" fill="#aaa"/>
<circle cx="434.8" cy="73.2" r="0.3" fill="#aaa"/>
<circle cx="438.1" cy="67.3" r="0.3" fill="#aaa"/>
<circle cx="431.5" cy="78.9" r="0.3" fill="#aaa"/>
<circle cx="426.6" cy="52.3" r="0.3" fill="#aaa"/>
<circle cx="444.5" cy="60.9" r="0.3" fill="#aaa"/>
<circle cx="428.2" cy="51.9" r="0.3" fill="#aaa"/>
<circle cx="428.5" cy="68.7" r="0.3" fill="#aaa"/>
<circle cx="437.1" cy="43.1" r="0.3" fill="#aaa"/>
<circle cx="438.1" cy="62.5" r="0.3" fill="#aaa"/>
<circle cx="418.1" cy="70.8" r="0.3" fill="#aaa"/>
<circle cx="428.2" cy="55.3" r="0.3" fill="#aaa"/>
<circle cx="443.2" cy="78.5" r="0.3" fill="#aaa"/>
<circle cx="422.5" cy="66.1" r="0.3" fill="#aaa"/>
<circle cx="419.8" cy="92.4" r="0.3" fill="#aaa"/>
<circle cx="425.2" cy="76.7" r="0.3" fill="#aaa"/>
<circle cx="423.0" cy="71.4" r="0.3" fill="#aaa"/>
<circle cx="463.2" cy="24.4" r="0.3" fill="#aaa"/>
<circle cx="426.0" cy="67.0" r="0.3" fill="#aaa"/>
<circle cx="430.8" cy="50.6" r="0.3" fill="#aaa"/>
<circle cx="462.2" cy="61.1" r="0.3" fill="#aaa"/>
<circle cx="409.1" cy="72.0" r="0.3" fill="#aaa"/>
<circle cx="408.0" cy="76.1" r="0.3" fill="#aaa"/>
<circle cx="424.0" cy="62.0" r="0.3" fill="#aaa"/>
<circle cx="449.8" cy="61.7" r="0.3" fill="#aaa"/>
<circle cx="412.6" cy="36.3" r="0.3" fill="#aaa"/>
<circle cx="448.7" cy="70.4" r="0.3" fill="#aaa"/>
<circle cx="420.7" cy="72.0" r="0.3" fill="#aaa"/>
<circle cx="439.1" cy="69.1" r="0.3" fill="#aaa"/>
<circle cx="400.5" cy="55.8" r="0.3" fill="#aaa"/>
<circle cx="450.8" cy="73.5" r="0.4" fill="#666"/>
<circle cx="458.2" cy="49.1" r="0.4" fill="#666"/>
<circle cx="447.8" cy="70.6" r="0.4" fill="#666"/>
<circle cx="462.6" cy="63.1" r="0.4" fill="#666"/>
<circle cx="446.5" cy="66.4" r="0.4" fill="#666"/>
<circle cx="453.5" cy="64.5" r="0.4" fill="#666"/>
<circle cx="455.5" cy="62.3" r="0.4" fill="#666"/>
<circle cx="450.7" cy="63.0" r="0.4" fill="#666"/>
<circle cx="450.6" cy="61.6" r="0.4" fill="#666"/>
<circle cx="438.0" cy="72.6" r="0.4" fill="#666"/>
<circle cx="451.0" cy="62.8" r="0.4" fill="#666"/>
<circle cx="446.8" cy="74.5" r="0.4" fill="#666"/>
<circle cx="443.8" cy="64.3" r="0.4" fill="#666"/>
<circle cx="449.5" cy="71.4" r="0.4" fill="#666"/>
<circle cx="451.6" cy="50.0" r="0.4" fill="#666"/>
<circle cx="453.4" cy="70.9" r="0.4" fill="#666"/>
<circle cx="448.9" cy="64.5" r="0.4" fill="#666"/>
<circle cx="450.5" cy="63.7" r="0.4" fill="#666"/>
<circle cx="445.1" cy="59.4" r="0.4" fill="#666"/>
<circle cx="446.8" cy="61.0" r="0.4" fill="#666"/>
<circle cx="441.2" cy="69.8" r="0.4" fill="#666"/>
<circle cx="440.4" cy="69.7" r="0.4" fill="#666"/>
<circle cx="442.5" cy="67.8" r="0.4" fill="#666"/>
<circle cx="454.3" cy="70.2" r="0.4" fill="#666"/>
<circle cx="444.6" cy="65.9" r="0.4" fill="#666"/>
<circle cx="453.0" cy="53.6" r="0.4" fill="#666"/>
<circle cx="444.9" cy="66.9" r="0.4" fill="#666"/>
<circle cx="445.8" cy="66.5" r="0.4" fill="#666"/>
<circle cx="449.9" cy="73.5" r="0.4" fill="#666"/>
<circle cx="451.1" cy="72.4" r="0.4" fill="#666"/>
<circle cx="446.9" cy="66.0" r="0.4" fill="#666"/>
<circle cx="447.6" cy="63.8" r="0.4" fill="#666"/>
<circle cx="451.4" cy="53.2" r="0.4" fill="#666"/>
<circle cx="446.7" cy="65.9" r="0.4" fill="#666"/>
<circle cx="443.6" cy="65.0" r="0.4" fill="#666"/>
<circle cx="451.1" cy="66.1" r="0.4" fill="#666"/>
<circle cx="464.3" cy="49.7" r="0.4" fill="#666"/>
<circle cx="451.5" cy="52.3" r="0.4" fill="#666"/>
<circle cx="446.6" cy="88.3" r="0.4" fill="#666"/>
<circle cx="435.9" cy="63.9" r="0.4" fill="#666"/>
<circle cx="451.4" cy="65.1" r="0.4" fill="#666"/>
<circle cx="456.1" cy="50.3" r="0.4" fill="#666"/>
<circle cx="451.4" cy="70.7" r="0.4" fill="#666"/>
<circle cx="449.7" cy="62.1" r="0.4" fill="#666"/>
<circle cx="452.4" cy="63.8" r="0.4" fill="#666"/>
<circle cx="450.5" cy="63.0" r="0.4" fill="#666"/>
<circle cx="437.5" cy="63.0" r="0.4" fill="#666"/>
<circle cx="447.4" cy="72.7" r="0.4" fill="#666"/>
<circle cx="444.1" cy="65.1" r="0.4" fill="#666"/>
<circle cx="450.8" cy="68.6" r="0.4" fill="#666"/>
<circle cx="449.4" cy="83.7" r="0.4" fill="#666"/>
<circle cx="448.4" cy="50.6" r="0.4" fill="#666"/>
<circle cx="448.7" cy="79.6" r="0.4" fill="#666"/>
<circle cx="450.7" cy="74.2" r="0.4" fill="#666"/>
<circle cx="446.9" cy="60.2" r="0.4" fill="#666"/>
<circle cx="454.6" cy="60.9" r="0.4" fill="#666"/>
<circle cx="441.9" cy="56.3" r="0.4" fill="#666"/>
<circle cx="455.6" cy="85.0" r="0.4" fill="#666"/>
<circle cx="446.6" cy="60.0" r="0.4" fill="#666"/>
<circle cx="451.1" cy="61.2" r="0.4" fill="#666"/>
<circle cx="454.6" cy="67.9" r="0.4" fill="#666"/>
<circle cx="439.9" cy="75.0" r="0.4" fill="#666"/>
<circle cx="444.9" cy="67.4" r="0.4" fill="#666"/>
<circle cx="448.9" cy="64.2" r="0.4" fill="#666"/>
<circle cx="451.4" cy="61.8" r="0.4" fill="#666"/>
<circle cx="444.6" cy="47.0" r="0.4" fill="#666"/>
<circle cx="443.9" cy="58.9" r="0.4" fill="#666"/>
<circle cx="448.0" cy="67.0" r="0.4" fill="#666"/>
<circle cx="450.6" cy="68.3" r="0.4" fill="#666"/>
<circle cx="446.1" cy="60.0" r="0.4" fill="#666"/>
<circle cx="438.5" cy="62.2" r="0.4" fill="#666"/>
<circle cx="449.3" cy="71.4" r="0.4" fill="#666"/>
<circle cx="448.0" cy="65.1" r="0.4" fill="#666"/>
<circle cx="452.6" cy="68.1" r="0.4" fill="#666"/>
<circle cx="450.3" cy="72.1" r="0.4" fill="#666"/>
<circle cx="446.1" cy="76.9" r="0.4" fill="#666"/>
<circle cx="446.3" cy="63.0" r="0.4" fill="#666"/>
<circle cx="446.2" cy="59.3" r="0.4" fill="#666"/>
<circle cx="451.5" cy="82.3" r="0.4" fill="#666"/>
<circle cx="447.0" cy="71.0" r="0.4" fill="#666"/>
<circle cx="451.9" cy="74.5" r="0.4" fill="#666"/>
<circle cx="456.9" cy="58.7" r="0.4" fill="#666"/>
<circle cx="444.1" cy="69.1" r="0.4" fill="#666"/>
<circle cx="454.8" cy="69.5" r="0.4" fill="#666"/>
<circle cx="444.9" cy="62.6" r="0.4" fill="#666"/>
<circle cx="447.1" cy="59.1" r="0.4" fill="#666"/>
<circle cx="456.8" cy="64.0" r="0.4" fill="#666"/>
<circle cx="443.2" cy="83.2" r="0.4" fill="#666"/>
<circle cx="453.1" cy="70.9" r="0.4" fill="#666"/>
<circle cx="444.3" cy="68.8" r="0.4" fill="#666"/>
<circle cx="454.5" cy="73.8" r="0.4" fill="#666"/>
<circle cx="454.0" cy="69.2" r="0.4" fill="#666"/>
<circle cx="451.1" cy="65.8" r="0.4" fill="#666"/>
<circle cx="447.2" cy="77.2" r="0.4" fill="#666"/>
<circle cx="441.5" cy="64.0" r="0.4" fill="#666"/>
<circle cx="450.7" cy="62.6" r="0.4" fill="#666"/>
<circle cx="444.9" cy="72.2" r="0.4" fill="#666"/>
<circle cx="456.3" cy="74.4" r="0.4" fill="#666"/>
<circle cx="453.4" cy="55.2" r="0.4" fill="#666"/>
<circle cx="457.2" cy="70.0" r="0.4" fill="#666"/>
<circle cx="450.7" cy="58.0" r="0.4" fill="#666"/>
<circle cx="450.5" cy="58.1" r="0.4" fill="#666"/>
<circle cx="447.4" cy="70.3" r="0.4" fill="#666"/>
<circle cx="447.7" cy="68.8" r="0.4" fill="#666"/>
<circle cx="440.8" cy="76.3" r="0.4" fill="#666"/>
<circle cx="449.4" cy="51.7" r="0.4" fill="#666"/>
<circle cx="449.1" cy="60.5" r="0.4" fill="#666"/>
<circle cx="444.2" cy="62.4" r="0.4" fill="#666"/>
<circle cx="452.4" cy="58.0" r="0.4" fill="#666"/>
<circle cx="444.2" cy="77.3" r="0.4" fill="#666"/>
<circle cx="450.3" cy="62.5" r="0.45" fill="#333"/>
<circle cx="449.1" cy="62.3" r="0.45" fill="#333"/>
<circle cx="447.8" cy="65.0" r="0.45" fill="#333"/>
<circle cx="451.0" cy="54.5" r="0.45" fill="#333"/>
<circle cx="449.6" cy="59.6" r="0.45" fill="#333"/>
<circle cx="450.7" cy="61.0" r="0.45" fill="#333"/>
<circle cx="446.8" cy="70.0" r="0.45" fill="#333"/>
<circle cx="447.7" cy="58.2" r="0.45" fill="#333"/>
<circle cx="448.2" cy="53.7" r="0.45" fill="#333"/>
<circle cx="444.4" cy="62.6" r="0.45" fill="#333"/>
<circle cx="449.3" cy="55.9" r="0.45" fill="#333"/>
<circle cx="444.9" cy="63.7" r="0.45" fill="#333"/>
<circle cx="447.5" cy="60.9" r="0.45" fill="#333"/>
<circle cx="448.0" cy="67.4" r="0.45" fill="#333"/>
<circle cx="451.7" cy="67.3" r="0.45" fill="#333"/>
<circle cx="448.8" cy="63.3" r="0.45" fill="#333"/>
<circle cx="451.0" cy="68.5" r="0.45" fill="#333"/>
<circle cx="447.6" cy="63.9" r="0.45" fill="#333"/>
<circle cx="449.2" cy="63.0" r="0.45" fill="#333"/>
<circle cx="449.0" cy="57.8" r="0.45" fill="#333"/>
<circle cx="449.2" cy="57.1" r="0.45" fill="#333"/>
<circle cx="450.7" cy="65.2" r="0.45" fill="#333"/>
<circle cx="444.7" cy="66.5" r="0.45" fill="#333"/>
<circle cx="452.5" cy="56.8" r="0.45" fill="#333"/>
<circle cx="451.7" cy="66.5" r="0.45" fill="#333"/>
<circle cx="454.3" cy="59.8" r="0.45" fill="#333"/>
<circle cx="449.4" cy="64.4" r="0.45" fill="#333"/>
<circle cx="448.9" cy="63.3" r="0.45" fill="#333"/>
<circle cx="452.5" cy="58.3" r="0.45" fill="#333"/>
<circle cx="447.5" cy="57.1" r="0.45" fill="#333"/>
<circle cx="448.2" cy="60.2" r="0.45" fill="#333"/>
<circle cx="449.2" cy="63.7" r="0.45" fill="#333"/>
<circle cx="449.5" cy="60.4" r="0.45" fill="#333"/>
<circle cx="446.8" cy="65.5" r="0.45" fill="#333"/>
<circle cx="450.2" cy="63.4" r="0.45" fill="#333"/>
<circle cx="446.4" cy="67.6" r="0.45" fill="#333"/>
<circle cx="446.8" cy="64.4" r="0.45" fill="#333"/>
<circle cx="451.4" cy="62.5" r="0.45" fill="#333"/>
<circle cx="451.6" cy="59.4" r="0.45" fill="#333"/>
<circle cx="450.6" cy="63.9" r="0.45" fill="#333"/>
<circle cx="444.7" cy="63.8" r="0.45" fill="#333"/>
<circle cx="445.5" cy="66.3" r="0.45" fill="#333"/>
<circle cx="447.4" cy="61.6" r="0.45" fill="#333"/>
<circle cx="449.6" cy="61.7" r="0.45" fill="#333"/>
<circle cx="449.8" cy="60.9" r="0.45" fill="#333"/>
<circle cx="450.6" cy="71.2" r="0.45" fill="#2a2a2a"/>
<circle cx="455.4" cy="51.8" r="0.45" fill="#2a2a2a"/>
<circle cx="452.6" cy="72.1" r="0.45" fill="#2a2a2a"/>
<circle cx="439.8" cy="67.9" r="0.45" fill="#2a2a2a"/>
<circle cx="447.1" cy="78.1" r="0.45" fill="#2a2a2a"/>
<circle cx="439.2" cy="78.9" r="0.45" fill="#2a2a2a"/>
<circle cx="441.1" cy="86.0" r="0.45" fill="#2a2a2a"/>
<circle cx="445.4" cy="74.5" r="0.45" fill="#2a2a2a"/>
<circle cx="448.9" cy="62.0" r="0.45" fill="#2a2a2a"/>
<circle cx="450.2" cy="78.0" r="0.45" fill="#2a2a2a"/>
<circle cx="452.2" cy="78.3" r="0.45" fill="#2a2a2a"/>
<circle cx="449.3" cy="58.0" r="0.45" fill="#2a2a2a"/>
<circle cx="446.6" cy="64.5" r="0.45" fill="#2a2a2a"/>
<circle cx="442.7" cy="72.8" r="0.45" fill="#2a2a2a"/>
<circle cx="449.8" cy="68.8" r="0.45" fill="#2a2a2a"/>
<circle cx="448.8" cy="69.4" r="0.45" fill="#2a2a2a"/>
<circle cx="446.8" cy="75.5" r="0.45" fill="#2a2a2a"/>
<circle cx="453.5" cy="67.0" r="0.45" fill="#2a2a2a"/>
<circle cx="437.7" cy="77.4" r="0.45" fill="#2a2a2a"/>
<circle cx="445.5" cy="77.8" r="0.45" fill="#2a2a2a"/>
<circle cx="441.4" cy="65.3" r="0.45" fill="#2a2a2a"/>
<circle cx="451.4" cy="60.4" r="0.45" fill="#2a2a2a"/>
<circle cx="443.7" cy="74.2" r="0.45" fill="#2a2a2a"/>
<circle cx="448.4" cy="82.6" r="0.45" fill="#2a2a2a"/>
<circle cx="447.4" cy="59.3" r="0.45" fill="#2a2a2a"/>
<circle cx="447.6" cy="77.3" r="0.45" fill="#2a2a2a"/>
<circle cx="451.7" cy="61.6" r="0.45" fill="#2a2a2a"/>
<circle cx="449.1" cy="76.7" r="0.45" fill="#2a2a2a"/>
<circle cx="451.3" cy="67.7" r="0.45" fill="#2a2a2a"/>
<circle cx="447.1" cy="75.9" r="0.45" fill="#2a2a2a"/>
<circle cx="449.8" cy="56.7" r="0.45" fill="#2a2a2a"/>
<circle cx="447.9" cy="73.9" r="0.45" fill="#2a2a2a"/>
<circle cx="445.6" cy="76.1" r="0.45" fill="#2a2a2a"/>
<circle cx="445.4" cy="68.6" r="0.45" fill="#2a2a2a"/>
<circle cx="445.0" cy="73.5" r="0.45" fill="#2a2a2a"/>
<circle cx="455.2" cy="70.9" r="0.45" fill="#2a2a2a"/>
<circle cx="452.8" cy="83.7" r="0.45" fill="#2a2a2a"/>
<circle cx="449.7" cy="75.3" r="0.45" fill="#2a2a2a"/>
<circle cx="455.8" cy="71.7" r="0.45" fill="#2a2a2a"/>
<circle cx="449.8" cy="62.7" r="0.45" fill="#2a2a2a"/>
<circle cx="446.4" cy="79.9" r="0.45" fill="#2a2a2a"/>
<circle cx="449.0" cy="73.8" r="0.45" fill="#2a2a2a"/>
<circle cx="446.4" cy="70.9" r="0.45" fill="#2a2a2a"/>
<circle cx="439.0" cy="74.9" r="0.45" fill="#2a2a2a"/>
<circle cx="448.7" cy="62.0" r="0.45" fill="#2a2a2a"/>
<circle cx="446.5" cy="63.3" r="0.45" fill="#2a2a2a"/>
<circle cx="448.8" cy="78.6" r="0.45" fill="#2a2a2a"/>
<circle cx="439.5" cy="74.2" r="0.45" fill="#2a2a2a"/>
<circle cx="453.0" cy="67.6" r="0.45" fill="#2a2a2a"/>
<circle cx="443.1" cy="62.7" r="0.45" fill="#2a2a2a"/>
<circle cx="444.1" cy="71.4" r="0.45" fill="#2a2a2a"/>
<circle cx="451.2" cy="55.8" r="0.45" fill="#2a2a2a"/>
<circle cx="452.5" cy="60.1" r="0.45" fill="#2a2a2a"/>
<circle cx="454.6" cy="63.4" r="0.45" fill="#2a2a2a"/>
<circle cx="446.8" cy="63.2" r="0.45" fill="#2a2a2a"/>
<circle cx="442.2" cy="78.0" r="0.45" fill="#2a2a2a"/>
<circle cx="449.9" cy="75.5" r="0.45" fill="#2a2a2a"/>
<circle cx="452.9" cy="60.1" r="0.45" fill="#2a2a2a"/>
<circle cx="446.8" cy="65.5" r="0.45" fill="#2a2a2a"/>
<circle cx="442.2" cy="72.0" r="0.45" fill="#2a2a2a"/>
<circle cx="446.3" cy="64.1" r="0.45" fill="#2a2a2a"/>
<circle cx="448.3" cy="54.5" r="0.45" fill="#2a2a2a"/>
<circle cx="447.0" cy="80.0" r="0.45" fill="#2a2a2a"/>
<circle cx="450.9" cy="63.8" r="0.45" fill="#2a2a2a"/>
<circle cx="435.6" cy="67.0" r="0.45" fill="#2a2a2a"/>
<circle cx="452.2" cy="74.0" r="0.45" fill="#2a2a2a"/>
<circle cx="448.1" cy="81.6" r="0.45" fill="#2a2a2a"/>
<circle cx="453.7" cy="68.9" r="0.45" fill="#2a2a2a"/>
<circle cx="450.3" cy="77.0" r="0.45" fill="#2a2a2a"/>
<circle cx="442.1" cy="64.9" r="0.45" fill="#2a2a2a"/>
<circle cx="441.8" cy="67.1" r="0.45" fill="#2a2a2a"/>
<circle cx="452.8" cy="63.8" r="0.45" fill="#2a2a2a"/>
<circle cx="435.6" cy="75.6" r="0.45" fill="#2a2a2a"/>
<circle cx="445.7" cy="80.6" r="0.45" fill="#2a2a2a"/>
<circle cx="439.4" cy="75.2" r="0.45" fill="#2a2a2a"/>
<circle cx="451.7" cy="86.9" r="0.45" fill="#2a2a2a"/>
<circle cx="446.1" cy="71.6" r="0.45" fill="#2a2a2a"/>
<circle cx="444.6" cy="76.6" r="0.45" fill="#2a2a2a"/>
<circle cx="452.0" cy="72.3" r="0.45" fill="#2a2a2a"/>
<circle cx="440.0" cy="73.0" r="0.45" fill="#2a2a2a"/>
<circle cx="444.1" cy="73.6" r="0.45" fill="#2a2a2a"/>
<circle cx="444.8" cy="81.5" r="0.45" fill="#2a2a2a"/>
<circle cx="453.7" cy="68.8" r="0.45" fill="#2a2a2a"/>
<circle cx="444.9" cy="82.6" r="0.45" fill="#2a2a2a"/>
<circle cx="444.3" cy="72.2" r="0.45" fill="#2a2a2a"/>
<circle cx="449.7" cy="80.5" r="0.45" fill="#2a2a2a"/>
<circle cx="453.2" cy="62.0" r="0.45" fill="#2a2a2a"/>
<circle cx="441.6" cy="69.8" r="0.45" fill="#2a2a2a"/>
<circle cx="443.1" cy="87.9" r="0.45" fill="#2a2a2a"/>
<circle cx="441.2" cy="76.4" r="0.45" fill="#2a2a2a"/>
<circle cx="455.2" cy="60.0" r="0.45" fill="#2a2a2a"/>
<circle cx="443.8" cy="69.9" r="0.45" fill="#2a2a2a"/>
<circle cx="445.9" cy="68.3" r="0.45" fill="#2a2a2a"/>
<circle cx="451.7" cy="65.4" r="0.45" fill="#2a2a2a"/>
<circle cx="451.3" cy="66.5" r="0.45" fill="#2a2a2a"/>
<circle cx="444.0" cy="72.9" r="0.45" fill="#2a2a2a"/>
<circle cx="444.5" cy="71.1" r="0.45" fill="#2a2a2a"/>
<circle cx="454.5" cy="72.8" r="0.45" fill="#2a2a2a"/>
<circle cx="445.3" cy="74.8" r="0.45" fill="#2a2a2a"/>
<circle cx="443.4" cy="76.8" r="0.45" fill="#2a2a2a"/>
<circle cx="440.6" cy="72.3" r="0.45" fill="#2a2a2a"/>
<circle cx="447.5" cy="63.9" r="0.45" fill="#2a2a2a"/>
<circle cx="457.4" cy="67.1" r="0.45" fill="#2a2a2a"/>
<circle cx="453.7" cy="77.3" r="0.45" fill="#2a2a2a"/>
<circle cx="456.4" cy="65.8" r="0.45" fill="#2a2a2a"/>
<circle cx="449.3" cy="81.8" r="0.45" fill="#2a2a2a"/>
<circle cx="447.5" cy="69.0" r="0.45" fill="#2a2a2a"/>
<circle cx="457.9" cy="75.2" r="0.45" fill="#2a2a2a"/>
<circle cx="447.4" cy="65.2" r="0.45" fill="#2a2a2a"/>
<circle cx="448.8" cy="73.0" r="0.45" fill="#2a2a2a"/>
<circle cx="444.2" cy="82.0" r="0.45" fill="#2a2a2a"/>
<circle cx="445.1" cy="72.8" r="0.45" fill="#2a2a2a"/>
<circle cx="456.5" cy="65.6" r="0.45" fill="#2a2a2a"/>
<circle cx="447.7" cy="84.1" r="0.45" fill="#2a2a2a"/>
<circle cx="444.6" cy="60.5" r="0.45" fill="#2a2a2a"/>
<circle cx="447.8" cy="56.0" r="0.45" fill="#2a2a2a"/>
<circle cx="454.2" cy="58.3" r="0.45" fill="#2a2a2a"/>
<circle cx="446.3" cy="80.7" r="0.45" fill="#2a2a2a"/>
<circle cx="441.5" cy="65.4" r="0.45" fill="#2a2a2a"/>
<circle cx="437.5" cy="72.3" r="0.45" fill="#2a2a2a"/>
<circle cx="445.2" cy="67.1" r="0.45" fill="#2a2a2a"/>
<circle cx="446.6" cy="73.9" r="0.45" fill="#2a2a2a"/>
<circle cx="446.2" cy="69.7" r="0.45" fill="#2a2a2a"/>
<circle cx="445.1" cy="70.0" r="0.45" fill="#2a2a2a"/>
<circle cx="442.5" cy="68.7" r="0.45" fill="#2a2a2a"/>
<circle cx="440.6" cy="63.7" r="0.45" fill="#2a2a2a"/>
<circle cx="455.8" cy="73.7" r="0.45" fill="#2a2a2a"/>
<circle cx="441.6" cy="69.9" r="0.45" fill="#2a2a2a"/>
<circle cx="447.6" cy="57.4" r="0.45" fill="#2a2a2a"/>
<circle cx="442.7" cy="73.9" r="0.45" fill="#2a2a2a"/>
<circle cx="449.6" cy="70.0" r="0.45" fill="#2a2a2a"/>
<circle cx="446.4" cy="61.3" r="0.45" fill="#2a2a2a"/>
<circle cx="452.9" cy="73.9" r="0.45" fill="#2a2a2a"/>
<circle cx="448.8" cy="54.3" r="0.45" fill="#2a2a2a"/>
<circle cx="435.7" cy="84.7" r="0.45" fill="#2a2a2a"/>
<circle cx="442.9" cy="67.8" r="0.45" fill="#2a2a2a"/>
<circle cx="449.0" cy="69.4" r="0.45" fill="#2a2a2a"/>
<circle cx="449.9" cy="60.4" r="0.45" fill="#2a2a2a"/>
<circle cx="439.0" cy="79.9" r="0.45" fill="#2a2a2a"/>
<circle cx="442.3" cy="74.6" r="0.45" fill="#2a2a2a"/>
<circle cx="441.1" cy="65.6" r="0.45" fill="#2a2a2a"/>
<circle cx="446.3" cy="77.5" r="0.45" fill="#2a2a2a"/>
<circle cx="441.4" cy="72.4" r="0.45" fill="#2a2a2a"/>
<circle cx="451.2" cy="65.7" r="0.45" fill="#2a2a2a"/>
<circle cx="452.0" cy="64.8" r="0.45" fill="#2a2a2a"/>
<circle cx="444.3" cy="68.7" r="0.45" fill="#2a2a2a"/>
<circle cx="436.2" cy="65.1" r="0.45" fill="#2a2a2a"/>
<circle cx="447.0" cy="58.6" r="0.45" fill="#2a2a2a"/>
<circle cx="444.0" cy="74.6" r="0.45" fill="#2a2a2a"/>
<circle cx="442.8" cy="78.0" r="0.45" fill="#2a2a2a"/>
<circle cx="445.9" cy="59.4" r="0.45" fill="#2a2a2a"/>
<circle cx="453.4" cy="75.2" r="0.45" fill="#2a2a2a"/>
<circle cx="453.8" cy="66.0" r="0.45" fill="#2a2a2a"/>
<circle cx="450.5" cy="73.1" r="0.45" fill="#2a2a2a"/>
<circle cx="450.4" cy="71.3" r="0.45" fill="#2a2a2a"/>
<circle cx="454.5" cy="67.6" r="0.45" fill="#2a2a2a"/>
<circle cx="447.2" cy="58.6" r="0.45" fill="#2a2a2a"/>
<circle cx="454.5" cy="66.9" r="0.45" fill="#2a2a2a"/>
<circle cx="445.5" cy="62.1" r="0.45" fill="#2a2a2a"/>
<circle cx="448.9" cy="60.8" r="0.45" fill="#2a2a2a"/>
<circle cx="448.0" cy="65.4" r="0.45" fill="#2a2a2a"/>
<circle cx="447.7" cy="62.7" r="0.45" fill="#2a2a2a"/>
<circle cx="449.0" cy="67.0" r="0.45" fill="#2a2a2a"/>
<circle cx="447.6" cy="72.0" r="0.45" fill="#2a2a2a"/>
<circle cx="454.6" cy="55.8" r="0.45" fill="#2a2a2a"/>
<circle cx="447.4" cy="63.9" r="0.45" fill="#2a2a2a"/>
<circle cx="454.9" cy="60.7" r="0.45" fill="#2a2a2a"/>
<circle cx="445.3" cy="67.0" r="0.45" fill="#2a2a2a"/>
<circle cx="443.8" cy="76.3" r="0.45" fill="#2a2a2a"/>
<circle cx="443.4" cy="75.9" r="0.45" fill="#2a2a2a"/>
<path d="M448.40000000000003,58.99999999999999 C450.70000000000005,63.599999999999994 454.20000000000005,66.6 453.20000000000005,73.6 C452.20000000000005,78.6 448.20000000000005,80.8 445.70000000000005,80.1 C441.20000000000005,78.6 439.20000000000005,75.6 440.70000000000005,73.1 C443.20000000000005,68.6 446.20000000000005,63.599999999999994 448.40000000000003,58.99999999999999 Z" fill="#a5a5a5" stroke="#1a1a1a" stroke-width="1.2"/>
<ellipse cx="447.20000000000005" cy="73.1" rx="4.0" ry="5.8" transform="rotate(20 447.20000000000005 73.1)" fill="#7a7a7a" stroke="#e8e8e8" stroke-width="0.9"/>
<ellipse cx="447.20000000000005" cy="73.39999999999999" rx="2.3" ry="3.5" transform="rotate(20 447.20000000000005 73.39999999999999)" fill="#5a5a5a" stroke="#9a9a9a" stroke-width="0.5"/>
<ellipse cx="447.40000000000003" cy="73.6" rx="0.6" ry="1.2" fill="#ddd"/>
<ellipse cx="448.00000000000006" cy="64.1" rx="1.8" ry="2.6" fill="#1a1a1a"/>
<rect x="435.6" y="50.6" width="22.8" height="33.5" fill="none" stroke="#a31035" stroke-width="1.5"/>
<text x="408.70000000000005" y="87.6" font-size="8.9" text-anchor="start" fill="#262626" textLength="22.6" lengthAdjust="spacingAndGlyphs">99.5%</text>
<rect x="343.1" y="112.5" width="59.39999999999998" height="60.5" fill="#fff" stroke="#c4c4c4" stroke-width="1"/>
<line x1="343.1" y1="117.5" x2="344.40000000000003" y2="117.5" stroke="#666" stroke-width="0.8"/>
<line x1="343.1" y1="125.0" x2="344.40000000000003" y2="125.0" stroke="#666" stroke-width="0.8"/>
<line x1="343.1" y1="132.5" x2="344.40000000000003" y2="132.5" stroke="#666" stroke-width="0.8"/>
<line x1="343.1" y1="140.0" x2="344.40000000000003" y2="140.0" stroke="#666" stroke-width="0.8"/>
<line x1="343.1" y1="147.5" x2="344.40000000000003" y2="147.5" stroke="#666" stroke-width="0.8"/>
<line x1="343.1" y1="155.0" x2="344.40000000000003" y2="155.0" stroke="#666" stroke-width="0.8"/>
<line x1="343.1" y1="162.5" x2="344.40000000000003" y2="162.5" stroke="#666" stroke-width="0.8"/>
<line x1="343.1" y1="170.0" x2="344.40000000000003" y2="170.0" stroke="#666" stroke-width="0.8"/>
<line x1="348.1" y1="171.7" x2="348.1" y2="173.0" stroke="#666" stroke-width="0.8"/>
<line x1="355.4" y1="171.7" x2="355.4" y2="173.0" stroke="#666" stroke-width="0.8"/>
<line x1="362.8" y1="171.7" x2="362.8" y2="173.0" stroke="#666" stroke-width="0.8"/>
<line x1="370.1" y1="171.7" x2="370.1" y2="173.0" stroke="#666" stroke-width="0.8"/>
<line x1="377.5" y1="171.7" x2="377.5" y2="173.0" stroke="#666" stroke-width="0.8"/>
<line x1="384.8" y1="171.7" x2="384.8" y2="173.0" stroke="#666" stroke-width="0.8"/>
<line x1="392.2" y1="171.7" x2="392.2" y2="173.0" stroke="#666" stroke-width="0.8"/>
<line x1="399.5" y1="171.7" x2="399.5" y2="173.0" stroke="#666" stroke-width="0.8"/>
<ellipse cx="343.70000000000005" cy="159.1" rx="0.9" ry="1.4" fill="#111"/>
<ellipse cx="356.2" cy="172.4" rx="1.5" ry="0.9" fill="#111"/>
<circle cx="351.4" cy="152.8" r="0.3" fill="#aaa"/>
<circle cx="372.9" cy="161.7" r="0.3" fill="#aaa"/>
<circle cx="367.0" cy="160.5" r="0.3" fill="#aaa"/>
<circle cx="367.0" cy="155.1" r="0.3" fill="#aaa"/>
<circle cx="370.7" cy="157.9" r="0.3" fill="#aaa"/>
<circle cx="371.0" cy="160.4" r="0.3" fill="#aaa"/>
<circle cx="347.3" cy="154.9" r="0.3" fill="#aaa"/>
<circle cx="372.1" cy="159.5" r="0.3" fill="#aaa"/>
<circle cx="359.9" cy="161.0" r="0.3" fill="#aaa"/>
<circle cx="359.7" cy="157.8" r="0.3" fill="#aaa"/>
<circle cx="363.9" cy="160.6" r="0.3" fill="#aaa"/>
<circle cx="375.2" cy="160.2" r="0.3" fill="#aaa"/>
<circle cx="378.1" cy="167.2" r="0.3" fill="#aaa"/>
<circle cx="376.8" cy="164.2" r="0.3" fill="#aaa"/>
<circle cx="364.1" cy="160.5" r="0.3" fill="#aaa"/>
<circle cx="362.0" cy="157.1" r="0.3" fill="#aaa"/>
<circle cx="362.6" cy="157.4" r="0.3" fill="#aaa"/>
<circle cx="376.2" cy="162.1" r="0.3" fill="#aaa"/>
<circle cx="359.5" cy="152.3" r="0.3" fill="#aaa"/>
<circle cx="362.7" cy="158.3" r="0.3" fill="#aaa"/>
<circle cx="354.4" cy="155.5" r="0.3" fill="#aaa"/>
<circle cx="345.1" cy="162.3" r="0.3" fill="#aaa"/>
<circle cx="362.6" cy="170.3" r="0.3" fill="#aaa"/>
<circle cx="362.9" cy="159.4" r="0.3" fill="#aaa"/>
<circle cx="374.7" cy="160.5" r="0.3" fill="#aaa"/>
<circle cx="385.8" cy="153.4" r="0.4" fill="#777"/>
<circle cx="385.1" cy="161.8" r="0.4" fill="#777"/>
<circle cx="392.9" cy="159.5" r="0.4" fill="#777"/>
<circle cx="384.0" cy="155.9" r="0.4" fill="#777"/>
<circle cx="383.1" cy="160.4" r="0.4" fill="#777"/>
<circle cx="380.1" cy="159.9" r="0.4" fill="#777"/>
<circle cx="392.8" cy="158.2" r="0.4" fill="#777"/>
<circle cx="383.0" cy="160.9" r="0.4" fill="#777"/>
<circle cx="381.1" cy="153.7" r="0.4" fill="#777"/>
<circle cx="381.3" cy="161.9" r="0.4" fill="#777"/>
<circle cx="392.3" cy="149.7" r="0.4" fill="#777"/>
<circle cx="381.6" cy="155.3" r="0.4" fill="#777"/>
<circle cx="398.7" cy="153.9" r="0.4" fill="#777"/>
<circle cx="380.3" cy="149.5" r="0.4" fill="#777"/>
<circle cx="384.4" cy="160.8" r="0.4" fill="#777"/>
<circle cx="393.8" cy="150.5" r="0.4" fill="#777"/>
<circle cx="381.6" cy="154.6" r="0.4" fill="#777"/>
<circle cx="378.3" cy="162.1" r="0.4" fill="#777"/>
<circle cx="382.3" cy="161.1" r="0.4" fill="#777"/>
<circle cx="375.8" cy="153.7" r="0.4" fill="#777"/>
<circle cx="385.7" cy="151.7" r="0.4" fill="#777"/>
<circle cx="389.2" cy="153.6" r="0.4" fill="#777"/>
<circle cx="381.2" cy="159.7" r="0.4" fill="#777"/>
<circle cx="386.5" cy="146.4" r="0.4" fill="#777"/>
<circle cx="394.8" cy="153.4" r="0.4" fill="#777"/>
<circle cx="386.2" cy="146.8" r="0.4" fill="#777"/>
<circle cx="381.7" cy="155.2" r="0.4" fill="#777"/>
<circle cx="388.3" cy="147.6" r="0.4" fill="#777"/>
<circle cx="378.4" cy="149.3" r="0.4" fill="#777"/>
<circle cx="385.0" cy="156.8" r="0.4" fill="#777"/>
<circle cx="376.9" cy="156.2" r="0.4" fill="#777"/>
<circle cx="390.4" cy="159.9" r="0.4" fill="#777"/>
<circle cx="388.2" cy="152.7" r="0.4" fill="#777"/>
<circle cx="378.7" cy="153.9" r="0.4" fill="#777"/>
<circle cx="382.8" cy="156.9" r="0.4" fill="#777"/>
<circle cx="388.0" cy="161.3" r="0.4" fill="#777"/>
<circle cx="385.3" cy="150.6" r="0.4" fill="#777"/>
<circle cx="394.2" cy="155.6" r="0.4" fill="#777"/>
<circle cx="384.9" cy="152.2" r="0.4" fill="#777"/>
<circle cx="375.4" cy="155.0" r="0.4" fill="#777"/>
<circle cx="388.5" cy="150.4" r="0.4" fill="#777"/>
<circle cx="379.8" cy="158.4" r="0.4" fill="#777"/>
<circle cx="387.7" cy="156.9" r="0.4" fill="#777"/>
<circle cx="390.8" cy="159.0" r="0.4" fill="#777"/>
<circle cx="383.3" cy="160.3" r="0.4" fill="#777"/>
<circle cx="382.1" cy="159.6" r="0.4" fill="#777"/>
<circle cx="386.8" cy="155.6" r="0.4" fill="#777"/>
<circle cx="390.0" cy="153.2" r="0.4" fill="#777"/>
<circle cx="392.1" cy="156.2" r="0.4" fill="#777"/>
<circle cx="385.3" cy="152.7" r="0.4" fill="#777"/>
<circle cx="381.3" cy="155.1" r="0.45" fill="#333"/>
<circle cx="384.1" cy="156.3" r="0.45" fill="#333"/>
<circle cx="397.6" cy="154.7" r="0.45" fill="#333"/>
<circle cx="387.0" cy="152.0" r="0.45" fill="#333"/>
<circle cx="381.7" cy="155.8" r="0.45" fill="#333"/>
<circle cx="384.5" cy="152.1" r="0.45" fill="#333"/>
<circle cx="390.7" cy="152.1" r="0.45" fill="#333"/>
<circle cx="386.6" cy="146.3" r="0.45" fill="#333"/>
<circle cx="385.2" cy="157.1" r="0.45" fill="#333"/>
<circle cx="386.3" cy="158.0" r="0.45" fill="#333"/>
<circle cx="386.2" cy="156.3" r="0.45" fill="#333"/>
<circle cx="376.5" cy="155.9" r="0.45" fill="#333"/>
<circle cx="376.2" cy="161.3" r="0.45" fill="#333"/>
<circle cx="385.9" cy="155.0" r="0.45" fill="#333"/>
<circle cx="381.0" cy="155.0" r="0.45" fill="#333"/>
<circle cx="394.2" cy="160.1" r="0.45" fill="#333"/>
<circle cx="386.1" cy="160.8" r="0.45" fill="#333"/>
<circle cx="376.4" cy="151.0" r="0.45" fill="#333"/>
<circle cx="382.0" cy="153.5" r="0.45" fill="#333"/>
<circle cx="382.9" cy="157.5" r="0.45" fill="#333"/>
<circle cx="396.3" cy="149.9" r="0.45" fill="#333"/>
<circle cx="385.4" cy="157.0" r="0.45" fill="#333"/>
<circle cx="385.8" cy="159.5" r="0.45" fill="#333"/>
<circle cx="390.6" cy="149.4" r="0.45" fill="#333"/>
<circle cx="385.3" cy="154.9" r="0.45" fill="#333"/>
<circle cx="384.6" cy="150.1" r="0.45" fill="#333"/>
<circle cx="375.2" cy="149.9" r="0.45" fill="#333"/>
<circle cx="387.2" cy="156.1" r="0.45" fill="#333"/>
<circle cx="382.5" cy="147.4" r="0.45" fill="#333"/>
<circle cx="382.6" cy="153.8" r="0.45" fill="#333"/>
<circle cx="378.2" cy="154.5" r="0.45" fill="#333"/>
<circle cx="388.3" cy="157.2" r="0.45" fill="#333"/>
<circle cx="385.4" cy="158.0" r="0.45" fill="#333"/>
<circle cx="382.6" cy="157.1" r="0.45" fill="#333"/>
<circle cx="385.7" cy="158.1" r="0.45" fill="#333"/>
<circle cx="384.5" cy="155.7" r="0.45" fill="#333"/>
<circle cx="383.6" cy="153.9" r="0.45" fill="#333"/>
<circle cx="394.4" cy="155.2" r="0.45" fill="#333"/>
<circle cx="389.2" cy="163.9" r="0.45" fill="#333"/>
<circle cx="388.8" cy="148.7" r="0.45" fill="#333"/>
<circle cx="388.6" cy="158.3" r="0.45" fill="#333"/>
<circle cx="393.9" cy="158.5" r="0.45" fill="#333"/>
<circle cx="386.7" cy="150.9" r="0.45" fill="#333"/>
<circle cx="381.7" cy="158.2" r="0.45" fill="#333"/>
<circle cx="385.8" cy="151.8" r="0.45" fill="#333"/>
<circle cx="382.9" cy="155.1" r="0.45" fill="#333"/>
<circle cx="385.5" cy="157.2" r="0.45" fill="#333"/>
<circle cx="382.4" cy="152.0" r="0.45" fill="#333"/>
<circle cx="391.7" cy="160.4" r="0.45" fill="#333"/>
<circle cx="385.6" cy="160.0" r="0.45" fill="#333"/>
<circle cx="387.4" cy="157.9" r="0.45" fill="#333"/>
<circle cx="386.0" cy="152.7" r="0.45" fill="#333"/>
<circle cx="388.3" cy="159.1" r="0.45" fill="#333"/>
<circle cx="383.5" cy="164.4" r="0.45" fill="#333"/>
<circle cx="395.3" cy="160.1" r="0.45" fill="#333"/>
<circle cx="393.7" cy="156.3" r="0.45" fill="#333"/>
<circle cx="382.9" cy="154.3" r="0.45" fill="#333"/>
<circle cx="381.8" cy="157.5" r="0.45" fill="#333"/>
<circle cx="385.5" cy="158.6" r="0.45" fill="#333"/>
<circle cx="379.4" cy="167.0" r="0.45" fill="#333"/>
<circle cx="394.0" cy="153.2" r="0.45" fill="#333"/>
<circle cx="388.1" cy="157.0" r="0.45" fill="#333"/>
<circle cx="385.8" cy="155.0" r="0.45" fill="#333"/>
<circle cx="383.5" cy="153.3" r="0.45" fill="#333"/>
<circle cx="385.6" cy="155.8" r="0.45" fill="#333"/>
<circle cx="385.2" cy="152.6" r="0.45" fill="#333"/>
<circle cx="385.1" cy="156.2" r="0.45" fill="#333"/>
<circle cx="386.1" cy="151.5" r="0.45" fill="#333"/>
<circle cx="387.7" cy="159.1" r="0.45" fill="#333"/>
<circle cx="386.9" cy="154.0" r="0.45" fill="#333"/>
<circle cx="382.7" cy="155.9" r="0.45" fill="#333"/>
<circle cx="389.6" cy="160.8" r="0.45" fill="#333"/>
<circle cx="383.5" cy="154.0" r="0.45" fill="#333"/>
<circle cx="386.6" cy="156.4" r="0.45" fill="#333"/>
<circle cx="380.4" cy="154.6" r="0.45" fill="#333"/>
<circle cx="385.2" cy="158.7" r="0.45" fill="#333"/>
<circle cx="379.0" cy="153.9" r="0.45" fill="#333"/>
<circle cx="385.5" cy="151.0" r="0.45" fill="#333"/>
<circle cx="385.7" cy="157.2" r="0.45" fill="#333"/>
<circle cx="383.3" cy="152.5" r="0.45" fill="#333"/>
<circle cx="384.3" cy="155.0" r="0.45" fill="#333"/>
<circle cx="385.3" cy="152.6" r="0.45" fill="#333"/>
<circle cx="387.4" cy="148.7" r="0.45" fill="#333"/>
<circle cx="384.2" cy="156.3" r="0.45" fill="#333"/>
<circle cx="388.1" cy="152.7" r="0.45" fill="#333"/>
<circle cx="386.5" cy="153.4" r="0.45" fill="#333"/>
<circle cx="389.8" cy="161.5" r="0.45" fill="#333"/>
<circle cx="383.8" cy="158.2" r="0.45" fill="#333"/>
<circle cx="382.3" cy="160.8" r="0.45" fill="#333"/>
<circle cx="389.8" cy="154.7" r="0.45" fill="#333"/>
<circle cx="380.8" cy="159.0" r="0.45" fill="#333"/>
<circle cx="390.7" cy="158.6" r="0.45" fill="#333"/>
<circle cx="386.1" cy="148.4" r="0.45" fill="#333"/>
<circle cx="383.8" cy="162.1" r="0.45" fill="#333"/>
<circle cx="381.3" cy="161.7" r="0.45" fill="#333"/>
<circle cx="393.3" cy="156.5" r="0.45" fill="#333"/>
<circle cx="389.0" cy="153.5" r="0.45" fill="#333"/>
<circle cx="379.9" cy="157.2" r="0.45" fill="#333"/>
<circle cx="384.0" cy="156.2" r="0.45" fill="#333"/>
<circle cx="387.5" cy="154.7" r="0.45" fill="#333"/>
<circle cx="386.1" cy="157.4" r="0.45" fill="#333"/>
<circle cx="386.9" cy="162.8" r="0.45" fill="#333"/>
<circle cx="386.8" cy="155.9" r="0.45" fill="#333"/>
<circle cx="383.4" cy="154.1" r="0.45" fill="#333"/>
<circle cx="390.5" cy="155.0" r="0.45" fill="#333"/>
<circle cx="379.9" cy="155.4" r="0.45" fill="#333"/>
<circle cx="383.9" cy="154.7" r="0.45" fill="#333"/>
<circle cx="387.9" cy="150.5" r="0.45" fill="#333"/>
<circle cx="387.0" cy="156.0" r="0.45" fill="#333"/>
<circle cx="380.2" cy="157.7" r="0.45" fill="#333"/>
<circle cx="385.1" cy="158.0" r="0.45" fill="#333"/>
<circle cx="383.4" cy="157.8" r="0.45" fill="#333"/>
<circle cx="377.0" cy="154.2" r="0.45" fill="#333"/>
<circle cx="389.2" cy="158.9" r="0.45" fill="#333"/>
<circle cx="384.2" cy="153.9" r="0.45" fill="#333"/>
<circle cx="386.9" cy="147.2" r="0.45" fill="#333"/>
<circle cx="382.4" cy="159.5" r="0.45" fill="#333"/>
<circle cx="386.4" cy="151.5" r="0.45" fill="#333"/>
<circle cx="379.0" cy="163.7" r="0.45" fill="#333"/>
<circle cx="384.5" cy="152.7" r="0.45" fill="#333"/>
<circle cx="386.1" cy="159.3" r="0.45" fill="#333"/>
<circle cx="375.7" cy="163.3" r="0.45" fill="#333"/>
<circle cx="385.5" cy="147.6" r="0.45" fill="#333"/>
<circle cx="386.0" cy="148.7" r="0.45" fill="#333"/>
<circle cx="389.9" cy="156.1" r="0.45" fill="#333"/>
<circle cx="393.3" cy="151.1" r="0.45" fill="#333"/>
<circle cx="386.1" cy="159.9" r="0.45" fill="#333"/>
<circle cx="381.5" cy="154.3" r="0.45" fill="#333"/>
<circle cx="383.3" cy="156.3" r="0.45" fill="#333"/>
<circle cx="381.1" cy="159.2" r="0.45" fill="#333"/>
<circle cx="387.2" cy="155.7" r="0.45" fill="#333"/>
<circle cx="391.4" cy="152.8" r="0.45" fill="#333"/>
<circle cx="389.5" cy="152.5" r="0.45" fill="#333"/>
<circle cx="385.8" cy="148.1" r="0.45" fill="#333"/>
<circle cx="385.5" cy="155.2" r="0.45" fill="#333"/>
<circle cx="382.2" cy="154.5" r="0.45" fill="#333"/>
<circle cx="382.7" cy="153.9" r="0.45" fill="#333"/>
<circle cx="375.4" cy="156.7" r="0.45" fill="#333"/>
<circle cx="382.1" cy="154.9" r="0.45" fill="#333"/>
<circle cx="380.5" cy="156.9" r="0.45" fill="#333"/>
<circle cx="387.8" cy="154.2" r="0.45" fill="#333"/>
<circle cx="384.4" cy="161.6" r="0.45" fill="#333"/>
<circle cx="389.9" cy="158.2" r="0.45" fill="#333"/>
<circle cx="389.2" cy="153.5" r="0.45" fill="#333"/>
<circle cx="385.6" cy="160.3" r="0.45" fill="#333"/>
<circle cx="382.5" cy="156.4" r="0.45" fill="#333"/>
<circle cx="386.8" cy="157.0" r="0.45" fill="#333"/>
<circle cx="384.9" cy="160.0" r="0.45" fill="#333"/>
<circle cx="385.0" cy="159.0" r="0.45" fill="#333"/>
<circle cx="389.9" cy="157.2" r="0.45" fill="#333"/>
<circle cx="380.2" cy="156.8" r="0.35" fill="#999"/>
<circle cx="371.8" cy="162.7" r="0.35" fill="#999"/>
<circle cx="381.6" cy="162.1" r="0.35" fill="#999"/>
<circle cx="373.0" cy="164.1" r="0.35" fill="#999"/>
<circle cx="373.6" cy="161.4" r="0.35" fill="#999"/>
<circle cx="377.6" cy="162.5" r="0.35" fill="#999"/>
<circle cx="380.2" cy="162.2" r="0.35" fill="#999"/>
<circle cx="374.6" cy="164.5" r="0.35" fill="#999"/>
<circle cx="382.2" cy="158.5" r="0.35" fill="#999"/>
<circle cx="379.7" cy="158.5" r="0.35" fill="#999"/>
<circle cx="372.9" cy="162.5" r="0.35" fill="#999"/>
<circle cx="378.1" cy="167.2" r="0.35" fill="#999"/>
<circle cx="377.6" cy="164.7" r="0.35" fill="#999"/>
<circle cx="379.3" cy="160.7" r="0.35" fill="#999"/>
<circle cx="380.6" cy="157.5" r="0.35" fill="#999"/>
<circle cx="382.5" cy="159.1" r="0.35" fill="#999"/>
<circle cx="372.0" cy="165.3" r="0.35" fill="#999"/>
<circle cx="381.0" cy="160.1" r="0.35" fill="#999"/>
<circle cx="384.7" cy="156.1" r="0.35" fill="#999"/>
<circle cx="381.1" cy="160.7" r="0.35" fill="#999"/>
<circle cx="375.3" cy="164.9" r="0.35" fill="#999"/>
<circle cx="370.5" cy="161.8" r="0.35" fill="#999"/>
<circle cx="379.3" cy="157.4" r="0.35" fill="#999"/>
<circle cx="376.0" cy="158.0" r="0.35" fill="#999"/>
<circle cx="377.3" cy="158.4" r="0.35" fill="#999"/>
<ellipse cx="384.1" cy="156.6" rx="7.1" ry="6.0" transform="rotate(-10 384.1 156.6)" fill="#8a8a8a" stroke="#111" stroke-width="1.4"/>
<ellipse cx="384.1" cy="156.79999999999998" rx="5.2" ry="4.3" transform="rotate(-10 384.1 156.6)" fill="#777" stroke="#f2f2f2" stroke-width="0.9"/>
<ellipse cx="384.1" cy="156.9" rx="3" ry="2.4" fill="#8d8d8d" stroke="#555" stroke-width="0.6"/>
<circle cx="383.8" cy="156.79999999999998" r="0.8" fill="#eee"/>
<text x="352.90000000000003" y="168.6" font-size="8.9" text-anchor="start" fill="#262626" textLength="19.9" lengthAdjust="spacingAndGlyphs">100%</text>
<rect x="407.3" y="112.5" width="59.39999999999998" height="60.5" fill="#fff" stroke="#c4c4c4" stroke-width="1"/>
<line x1="407.3" y1="117.5" x2="408.6" y2="117.5" stroke="#666" stroke-width="0.8"/>
<line x1="407.3" y1="125.0" x2="408.6" y2="125.0" stroke="#666" stroke-width="0.8"/>
<line x1="407.3" y1="132.5" x2="408.6" y2="132.5" stroke="#666" stroke-width="0.8"/>
<line x1="407.3" y1="140.0" x2="408.6" y2="140.0" stroke="#666" stroke-width="0.8"/>
<line x1="407.3" y1="147.5" x2="408.6" y2="147.5" stroke="#666" stroke-width="0.8"/>
<line x1="407.3" y1="155.0" x2="408.6" y2="155.0" stroke="#666" stroke-width="0.8"/>
<line x1="407.3" y1="162.5" x2="408.6" y2="162.5" stroke="#666" stroke-width="0.8"/>
<line x1="407.3" y1="170.0" x2="408.6" y2="170.0" stroke="#666" stroke-width="0.8"/>
<line x1="412.3" y1="171.7" x2="412.3" y2="173.0" stroke="#666" stroke-width="0.8"/>
<line x1="419.6" y1="171.7" x2="419.6" y2="173.0" stroke="#666" stroke-width="0.8"/>
<line x1="427.0" y1="171.7" x2="427.0" y2="173.0" stroke="#666" stroke-width="0.8"/>
<line x1="434.3" y1="171.7" x2="434.3" y2="173.0" stroke="#666" stroke-width="0.8"/>
<line x1="441.7" y1="171.7" x2="441.7" y2="173.0" stroke="#666" stroke-width="0.8"/>
<line x1="449.0" y1="171.7" x2="449.0" y2="173.0" stroke="#666" stroke-width="0.8"/>
<line x1="456.4" y1="171.7" x2="456.4" y2="173.0" stroke="#666" stroke-width="0.8"/>
<line x1="463.7" y1="171.7" x2="463.7" y2="173.0" stroke="#666" stroke-width="0.8"/>
<ellipse cx="407.90000000000003" cy="159.1" rx="0.9" ry="1.4" fill="#111"/>
<ellipse cx="420.4" cy="172.4" rx="1.5" ry="0.9" fill="#111"/>
<circle cx="430.0" cy="153.9" r="0.3" fill="#aaa"/>
<circle cx="430.9" cy="158.9" r="0.3" fill="#aaa"/>
<circle cx="427.8" cy="159.7" r="0.3" fill="#aaa"/>
<circle cx="428.3" cy="154.7" r="0.3" fill="#aaa"/>
<circle cx="406.8" cy="160.1" r="0.3" fill="#aaa"/>
<circle cx="419.8" cy="158.2" r="0.3" fill="#aaa"/>
<circle cx="430.7" cy="152.1" r="0.3" fill="#aaa"/>
<circle cx="421.2" cy="157.6" r="0.3" fill="#aaa"/>
<circle cx="418.8" cy="161.3" r="0.3" fill="#aaa"/>
<circle cx="426.2" cy="156.7" r="0.3" fill="#aaa"/>
<circle cx="419.4" cy="163.2" r="0.3" fill="#aaa"/>
<circle cx="422.0" cy="162.3" r="0.3" fill="#aaa"/>
<circle cx="430.9" cy="152.4" r="0.3" fill="#aaa"/>
<circle cx="418.6" cy="160.0" r="0.3" fill="#aaa"/>
<circle cx="430.0" cy="163.1" r="0.3" fill="#aaa"/>
<circle cx="433.7" cy="164.1" r="0.3" fill="#aaa"/>
<circle cx="424.3" cy="159.2" r="0.3" fill="#aaa"/>
<circle cx="433.5" cy="158.3" r="0.3" fill="#aaa"/>
<circle cx="435.8" cy="153.6" r="0.3" fill="#aaa"/>
<circle cx="432.5" cy="159.3" r="0.3" fill="#aaa"/>
<circle cx="411.6" cy="163.9" r="0.3" fill="#aaa"/>
<circle cx="429.8" cy="160.1" r="0.3" fill="#aaa"/>
<circle cx="418.7" cy="158.1" r="0.3" fill="#aaa"/>
<circle cx="439.4" cy="156.7" r="0.3" fill="#aaa"/>
<circle cx="399.5" cy="156.6" r="0.3" fill="#aaa"/>
<circle cx="444.1" cy="156.9" r="0.4" fill="#777"/>
<circle cx="446.6" cy="152.5" r="0.4" fill="#777"/>
<circle cx="447.6" cy="160.6" r="0.4" fill="#777"/>
<circle cx="446.2" cy="165.1" r="0.4" fill="#777"/>
<circle cx="445.6" cy="152.1" r="0.4" fill="#777"/>
<circle cx="454.3" cy="155.6" r="0.4" fill="#777"/>
<circle cx="446.2" cy="159.9" r="0.4" fill="#777"/>
<circle cx="439.9" cy="155.3" r="0.4" fill="#777"/>
<circle cx="454.6" cy="152.0" r="0.4" fill="#777"/>
<circle cx="444.6" cy="159.5" r="0.4" fill="#777"/>
<circle cx="454.0" cy="153.2" r="0.4" fill="#777"/>
<circle cx="440.9" cy="157.3" r="0.4" fill="#777"/>
<circle cx="452.9" cy="157.1" r="0.4" fill="#777"/>
<circle cx="457.9" cy="150.6" r="0.4" fill="#777"/>
<circle cx="447.5" cy="155.9" r="0.4" fill="#777"/>
<circle cx="453.9" cy="149.3" r="0.4" fill="#777"/>
<circle cx="451.5" cy="142.4" r="0.4" fill="#777"/>
<circle cx="452.4" cy="151.1" r="0.4" fill="#777"/>
<circle cx="453.0" cy="156.7" r="0.4" fill="#777"/>
<circle cx="444.2" cy="157.1" r="0.4" fill="#777"/>
<circle cx="451.8" cy="156.8" r="0.4" fill="#777"/>
<circle cx="444.0" cy="153.3" r="0.4" fill="#777"/>
<circle cx="444.9" cy="168.2" r="0.4" fill="#777"/>
<circle cx="448.6" cy="154.7" r="0.4" fill="#777"/>
<circle cx="444.4" cy="161.4" r="0.4" fill="#777"/>
<circle cx="449.6" cy="161.4" r="0.4" fill="#777"/>
<circle cx="453.8" cy="153.5" r="0.4" fill="#777"/>
<circle cx="451.4" cy="149.6" r="0.4" fill="#777"/>
<circle cx="447.4" cy="153.6" r="0.4" fill="#777"/>
<circle cx="444.0" cy="157.6" r="0.4" fill="#777"/>
<circle cx="451.4" cy="160.7" r="0.4" fill="#777"/>
<circle cx="433.3" cy="159.2" r="0.4" fill="#777"/>
<circle cx="444.8" cy="155.2" r="0.4" fill="#777"/>
<circle cx="452.4" cy="155.8" r="0.4" fill="#777"/>
<circle cx="449.2" cy="153.3" r="0.4" fill="#777"/>
<circle cx="452.6" cy="155.5" r="0.4" fill="#777"/>
<circle cx="440.9" cy="157.7" r="0.4" fill="#777"/>
<circle cx="441.6" cy="153.4" r="0.4" fill="#777"/>
<circle cx="450.6" cy="155.0" r="0.4" fill="#777"/>
<circle cx="449.0" cy="151.7" r="0.4" fill="#777"/>
<circle cx="447.5" cy="152.1" r="0.4" fill="#777"/>
<circle cx="452.6" cy="156.9" r="0.4" fill="#777"/>
<circle cx="459.9" cy="156.3" r="0.4" fill="#777"/>
<circle cx="445.4" cy="155.0" r="0.4" fill="#777"/>
<circle cx="446.0" cy="158.1" r="0.4" fill="#777"/>
<circle cx="460.0" cy="153.9" r="0.4" fill="#777"/>
<circle cx="437.7" cy="154.7" r="0.4" fill="#777"/>
<circle cx="444.6" cy="159.5" r="0.4" fill="#777"/>
<circle cx="450.3" cy="156.2" r="0.4" fill="#777"/>
<circle cx="456.7" cy="148.6" r="0.4" fill="#777"/>
<circle cx="447.9" cy="164.3" r="0.45" fill="#333"/>
<circle cx="449.6" cy="152.8" r="0.45" fill="#333"/>
<circle cx="439.2" cy="153.1" r="0.45" fill="#333"/>
<circle cx="439.4" cy="159.4" r="0.45" fill="#333"/>
<circle cx="450.4" cy="159.6" r="0.45" fill="#333"/>
<circle cx="447.8" cy="153.8" r="0.45" fill="#333"/>
<circle cx="448.3" cy="163.9" r="0.45" fill="#333"/>
<circle cx="442.2" cy="158.9" r="0.45" fill="#333"/>
<circle cx="449.9" cy="158.3" r="0.45" fill="#333"/>
<circle cx="448.0" cy="158.4" r="0.45" fill="#333"/>
<circle cx="452.2" cy="154.6" r="0.45" fill="#333"/>
<circle cx="447.1" cy="156.0" r="0.45" fill="#333"/>
<circle cx="445.0" cy="156.5" r="0.45" fill="#333"/>
<circle cx="448.1" cy="157.2" r="0.45" fill="#333"/>
<circle cx="455.9" cy="159.2" r="0.45" fill="#333"/>
<circle cx="448.0" cy="158.8" r="0.45" fill="#333"/>
<circle cx="451.1" cy="158.5" r="0.45" fill="#333"/>
<circle cx="449.5" cy="157.0" r="0.45" fill="#333"/>
<circle cx="446.3" cy="153.8" r="0.45" fill="#333"/>
<circle cx="454.1" cy="159.7" r="0.45" fill="#333"/>
<circle cx="452.2" cy="156.9" r="0.45" fill="#333"/>
<circle cx="449.7" cy="154.1" r="0.45" fill="#333"/>
<circle cx="442.7" cy="160.7" r="0.45" fill="#333"/>
<circle cx="449.3" cy="153.8" r="0.45" fill="#333"/>
<circle cx="446.7" cy="161.9" r="0.45" fill="#333"/>
<circle cx="443.8" cy="164.7" r="0.45" fill="#333"/>
<circle cx="454.3" cy="163.9" r="0.45" fill="#333"/>
<circle cx="446.2" cy="156.9" r="0.45" fill="#333"/>
<circle cx="447.2" cy="157.3" r="0.45" fill="#333"/>
<circle cx="447.4" cy="153.6" r="0.45" fill="#333"/>
<circle cx="452.5" cy="151.9" r="0.45" fill="#333"/>
<circle cx="447.7" cy="158.7" r="0.45" fill="#333"/>
<circle cx="446.5" cy="155.2" r="0.45" fill="#333"/>
<circle cx="450.1" cy="154.3" r="0.45" fill="#333"/>
<circle cx="444.0" cy="157.3" r="0.45" fill="#333"/>
<circle cx="450.1" cy="162.6" r="0.45" fill="#333"/>
<circle cx="445.8" cy="161.0" r="0.45" fill="#333"/>
<circle cx="445.5" cy="155.8" r="0.45" fill="#333"/>
<circle cx="448.1" cy="157.5" r="0.45" fill="#333"/>
<circle cx="454.5" cy="161.4" r="0.45" fill="#333"/>
<circle cx="448.0" cy="161.7" r="0.45" fill="#333"/>
<circle cx="454.0" cy="157.8" r="0.45" fill="#333"/>
<circle cx="447.1" cy="160.3" r="0.45" fill="#333"/>
<circle cx="449.1" cy="157.5" r="0.45" fill="#333"/>
<circle cx="448.8" cy="158.8" r="0.45" fill="#333"/>
<circle cx="454.8" cy="158.8" r="0.45" fill="#333"/>
<circle cx="449.4" cy="160.0" r="0.45" fill="#333"/>
<circle cx="453.9" cy="150.9" r="0.45" fill="#333"/>
<circle cx="453.5" cy="149.4" r="0.45" fill="#333"/>
<circle cx="451.9" cy="157.6" r="0.45" fill="#333"/>
<circle cx="455.4" cy="155.3" r="0.45" fill="#333"/>
<circle cx="446.3" cy="153.8" r="0.45" fill="#333"/>
<circle cx="444.9" cy="160.4" r="0.45" fill="#333"/>
<circle cx="447.3" cy="153.8" r="0.45" fill="#333"/>
<circle cx="450.4" cy="152.7" r="0.45" fill="#333"/>
<circle cx="446.8" cy="155.0" r="0.45" fill="#333"/>
<circle cx="457.4" cy="159.4" r="0.45" fill="#333"/>
<circle cx="446.7" cy="150.6" r="0.45" fill="#333"/>
<circle cx="450.3" cy="156.0" r="0.45" fill="#333"/>
<circle cx="451.1" cy="157.7" r="0.45" fill="#333"/>
<circle cx="448.9" cy="159.9" r="0.45" fill="#333"/>
<circle cx="452.7" cy="155.8" r="0.45" fill="#333"/>
<circle cx="446.9" cy="154.9" r="0.45" fill="#333"/>
<circle cx="450.6" cy="151.2" r="0.45" fill="#333"/>
<circle cx="447.6" cy="153.6" r="0.45" fill="#333"/>
<circle cx="444.2" cy="160.0" r="0.45" fill="#333"/>
<circle cx="449.0" cy="156.3" r="0.45" fill="#333"/>
<circle cx="450.9" cy="149.6" r="0.45" fill="#333"/>
<circle cx="449.2" cy="157.2" r="0.45" fill="#333"/>
<circle cx="451.2" cy="151.1" r="0.45" fill="#333"/>
<circle cx="452.2" cy="156.0" r="0.45" fill="#333"/>
<circle cx="455.8" cy="158.6" r="0.45" fill="#333"/>
<circle cx="453.7" cy="163.2" r="0.45" fill="#333"/>
<circle cx="448.6" cy="154.6" r="0.45" fill="#333"/>
<circle cx="446.7" cy="153.1" r="0.45" fill="#333"/>
<circle cx="446.9" cy="149.3" r="0.45" fill="#333"/>
<circle cx="449.2" cy="157.8" r="0.45" fill="#333"/>
<circle cx="452.7" cy="153.6" r="0.45" fill="#333"/>
<circle cx="453.9" cy="152.0" r="0.45" fill="#333"/>
<circle cx="446.5" cy="149.5" r="0.45" fill="#333"/>
<circle cx="445.2" cy="154.2" r="0.45" fill="#333"/>
<circle cx="455.5" cy="156.2" r="0.45" fill="#333"/>
<circle cx="445.4" cy="159.3" r="0.45" fill="#333"/>
<circle cx="450.7" cy="154.7" r="0.45" fill="#333"/>
<circle cx="448.9" cy="155.0" r="0.45" fill="#333"/>
<circle cx="445.0" cy="150.5" r="0.45" fill="#333"/>
<circle cx="450.2" cy="160.8" r="0.45" fill="#333"/>
<circle cx="454.4" cy="153.4" r="0.45" fill="#333"/>
<circle cx="445.9" cy="156.3" r="0.45" fill="#333"/>
<circle cx="453.0" cy="156.3" r="0.45" fill="#333"/>
<circle cx="447.2" cy="158.1" r="0.45" fill="#333"/>
<circle cx="448.9" cy="158.2" r="0.45" fill="#333"/>
<circle cx="445.9" cy="151.4" r="0.45" fill="#333"/>
<circle cx="450.2" cy="158.7" r="0.45" fill="#333"/>
<circle cx="444.6" cy="157.1" r="0.45" fill="#333"/>
<circle cx="452.1" cy="153.7" r="0.45" fill="#333"/>
<circle cx="448.8" cy="164.1" r="0.45" fill="#333"/>
<circle cx="453.5" cy="158.7" r="0.45" fill="#333"/>
<circle cx="447.2" cy="163.0" r="0.45" fill="#333"/>
<circle cx="442.1" cy="156.3" r="0.45" fill="#333"/>
<circle cx="453.4" cy="159.9" r="0.45" fill="#333"/>
<circle cx="444.7" cy="154.9" r="0.45" fill="#333"/>
<circle cx="447.8" cy="149.1" r="0.45" fill="#333"/>
<circle cx="452.2" cy="157.3" r="0.45" fill="#333"/>
<circle cx="447.9" cy="158.5" r="0.45" fill="#333"/>
<circle cx="452.5" cy="156.3" r="0.45" fill="#333"/>
<circle cx="452.8" cy="160.8" r="0.45" fill="#333"/>
<circle cx="447.4" cy="157.2" r="0.45" fill="#333"/>
<circle cx="448.2" cy="160.4" r="0.45" fill="#333"/>
<circle cx="448.0" cy="158.3" r="0.45" fill="#333"/>
<circle cx="449.7" cy="156.2" r="0.45" fill="#333"/>
<circle cx="455.7" cy="153.7" r="0.45" fill="#333"/>
<circle cx="455.5" cy="157.3" r="0.45" fill="#333"/>
<circle cx="454.0" cy="153.9" r="0.45" fill="#333"/>
<circle cx="453.5" cy="157.6" r="0.45" fill="#333"/>
<circle cx="447.0" cy="157.8" r="0.45" fill="#333"/>
<circle cx="448.6" cy="156.1" r="0.45" fill="#333"/>
<circle cx="453.4" cy="152.0" r="0.45" fill="#333"/>
<circle cx="440.7" cy="152.0" r="0.45" fill="#333"/>
<circle cx="446.6" cy="154.4" r="0.45" fill="#333"/>
<circle cx="449.8" cy="158.1" r="0.45" fill="#333"/>
<circle cx="456.3" cy="155.1" r="0.45" fill="#333"/>
<circle cx="450.1" cy="153.0" r="0.45" fill="#333"/>
<circle cx="452.8" cy="160.2" r="0.45" fill="#333"/>
<circle cx="452.2" cy="147.7" r="0.45" fill="#333"/>
<circle cx="454.3" cy="160.6" r="0.45" fill="#333"/>
<circle cx="450.7" cy="149.9" r="0.45" fill="#333"/>
<circle cx="448.5" cy="158.5" r="0.45" fill="#333"/>
<circle cx="449.8" cy="152.8" r="0.45" fill="#333"/>
<circle cx="446.7" cy="160.5" r="0.45" fill="#333"/>
<circle cx="445.5" cy="162.7" r="0.45" fill="#333"/>
<circle cx="449.5" cy="157.1" r="0.45" fill="#333"/>
<circle cx="443.3" cy="155.6" r="0.45" fill="#333"/>
<circle cx="450.2" cy="150.1" r="0.45" fill="#333"/>
<circle cx="455.6" cy="148.7" r="0.45" fill="#333"/>
<circle cx="444.4" cy="157.7" r="0.45" fill="#333"/>
<circle cx="451.8" cy="158.1" r="0.45" fill="#333"/>
<circle cx="447.4" cy="155.8" r="0.45" fill="#333"/>
<circle cx="447.6" cy="154.4" r="0.45" fill="#333"/>
<circle cx="440.2" cy="162.5" r="0.45" fill="#333"/>
<circle cx="450.2" cy="156.4" r="0.45" fill="#333"/>
<circle cx="446.9" cy="157.7" r="0.45" fill="#333"/>
<circle cx="449.0" cy="155.8" r="0.45" fill="#333"/>
<circle cx="451.5" cy="148.8" r="0.45" fill="#333"/>
<circle cx="448.9" cy="152.1" r="0.45" fill="#333"/>
<circle cx="449.5" cy="161.7" r="0.45" fill="#333"/>
<circle cx="444.8" cy="157.0" r="0.45" fill="#333"/>
<circle cx="447.8" cy="160.1" r="0.45" fill="#333"/>
<circle cx="443.5" cy="151.4" r="0.45" fill="#333"/>
<circle cx="450.7" cy="154.3" r="0.45" fill="#333"/>
<circle cx="441.9" cy="163.2" r="0.35" fill="#999"/>
<circle cx="438.2" cy="162.0" r="0.35" fill="#999"/>
<circle cx="443.3" cy="161.0" r="0.35" fill="#999"/>
<circle cx="441.1" cy="163.5" r="0.35" fill="#999"/>
<circle cx="451.4" cy="154.8" r="0.35" fill="#999"/>
<circle cx="448.2" cy="152.7" r="0.35" fill="#999"/>
<circle cx="447.9" cy="156.8" r="0.35" fill="#999"/>
<circle cx="442.6" cy="159.7" r="0.35" fill="#999"/>
<circle cx="438.4" cy="159.9" r="0.35" fill="#999"/>
<circle cx="441.8" cy="163.7" r="0.35" fill="#999"/>
<circle cx="446.8" cy="157.4" r="0.35" fill="#999"/>
<circle cx="439.4" cy="160.6" r="0.35" fill="#999"/>
<circle cx="438.9" cy="166.4" r="0.35" fill="#999"/>
<circle cx="445.2" cy="159.3" r="0.35" fill="#999"/>
<circle cx="439.3" cy="160.0" r="0.35" fill="#999"/>
<circle cx="448.6" cy="158.9" r="0.35" fill="#999"/>
<circle cx="439.2" cy="164.5" r="0.35" fill="#999"/>
<circle cx="438.2" cy="164.2" r="0.35" fill="#999"/>
<circle cx="437.9" cy="162.1" r="0.35" fill="#999"/>
<circle cx="444.8" cy="160.2" r="0.35" fill="#999"/>
<circle cx="445.8" cy="156.9" r="0.35" fill="#999"/>
<circle cx="450.2" cy="159.2" r="0.35" fill="#999"/>
<circle cx="442.7" cy="161.4" r="0.35" fill="#999"/>
<circle cx="438.9" cy="162.1" r="0.35" fill="#999"/>
<circle cx="436.8" cy="163.8" r="0.35" fill="#999"/>
<ellipse cx="448.3" cy="156.6" rx="7.1" ry="6.0" transform="rotate(-10 448.3 156.6)" fill="#8a8a8a" stroke="#111" stroke-width="1.4"/>
<ellipse cx="448.3" cy="156.79999999999998" rx="5.2" ry="4.3" transform="rotate(-10 448.3 156.6)" fill="#777" stroke="#f2f2f2" stroke-width="0.9"/>
<ellipse cx="448.3" cy="156.9" rx="3" ry="2.4" fill="#8d8d8d" stroke="#555" stroke-width="0.6"/>
<circle cx="448.0" cy="156.79999999999998" r="0.8" fill="#eee"/>
<text x="417.1" y="168.6" font-size="8.9" text-anchor="start" fill="#262626" textLength="19.9" lengthAdjust="spacingAndGlyphs">100%</text>
<line x1="382.3" y1="84.8" x2="382.3" y2="121" stroke="#a31035" stroke-width="1.4"/>
<path d="M379.1,116.2 L382.3,123.6 L385.5,116.2 L382.3,118.6 Z" fill="#a31035"/>
<line x1="447.20000000000005" y1="84.8" x2="447.20000000000005" y2="121" stroke="#a31035" stroke-width="1.4"/>
<path d="M444.00000000000006,116.2 L447.20000000000005,123.6 L450.40000000000003,116.2 L447.20000000000005,118.6 Z" fill="#a31035"/>
<text x="8.0" y="210.2" font-size="12.8" text-anchor="start" font-weight="bold" fill="#000">C</text>
<line x1="61.8" y1="244.4" x2="61.8" y2="358.2" stroke="#161616" stroke-width="1.55"/>
<line x1="58.5" y1="357.8" x2="61.8" y2="357.8" stroke="#1a1a1a" stroke-width="1.1"/>
<text x="55.2" y="360.9" font-size="8.7" text-anchor="end" fill="#1a1a1a" textLength="4.5" lengthAdjust="spacingAndGlyphs">0</text>
<line x1="58.5" y1="335.6" x2="61.8" y2="335.6" stroke="#1a1a1a" stroke-width="1.1"/>
<text x="55.2" y="338.7" font-size="8.7" text-anchor="end" fill="#1a1a1a" textLength="9.01" lengthAdjust="spacingAndGlyphs">20</text>
<line x1="58.5" y1="313.4" x2="61.8" y2="313.4" stroke="#1a1a1a" stroke-width="1.1"/>
<text x="55.2" y="316.5" font-size="8.7" text-anchor="end" fill="#1a1a1a" textLength="9.01" lengthAdjust="spacingAndGlyphs">40</text>
<line x1="58.5" y1="291.2" x2="61.8" y2="291.2" stroke="#1a1a1a" stroke-width="1.1"/>
<text x="55.2" y="294.3" font-size="8.7" text-anchor="end" fill="#1a1a1a" textLength="9.01" lengthAdjust="spacingAndGlyphs">60</text>
<line x1="58.5" y1="269.0" x2="61.8" y2="269.0" stroke="#1a1a1a" stroke-width="1.1"/>
<text x="55.2" y="272.1" font-size="8.7" text-anchor="end" fill="#1a1a1a" textLength="9.01" lengthAdjust="spacingAndGlyphs">80</text>
<line x1="58.5" y1="246.8" x2="61.8" y2="246.8" stroke="#1a1a1a" stroke-width="1.1"/>
<text x="55.2" y="249.9" font-size="8.7" text-anchor="end" fill="#1a1a1a" textLength="13.51" lengthAdjust="spacingAndGlyphs">100</text>
<line x1="60.099999999999994" y1="346.7" x2="61.8" y2="346.7" stroke="#1a1a1a" stroke-width="1.0"/>
<line x1="60.099999999999994" y1="324.5" x2="61.8" y2="324.5" stroke="#1a1a1a" stroke-width="1.0"/>
<line x1="60.099999999999994" y1="302.3" x2="61.8" y2="302.3" stroke="#1a1a1a" stroke-width="1.0"/>
<line x1="60.099999999999994" y1="280.1" x2="61.8" y2="280.1" stroke="#1a1a1a" stroke-width="1.0"/>
<line x1="60.099999999999994" y1="257.9" x2="61.8" y2="257.9" stroke="#1a1a1a" stroke-width="1.0"/>
<text transform="translate(34.8,300.8) rotate(-90)" font-size="10" stroke="#1a1a1a" stroke-width="0.25" text-anchor="middle" fill="#1a1a1a" textLength="83.4" lengthAdjust="spacingAndGlyphs">Human CD45<tspan dy="-3.2" font-size="7">+</tspan><tspan dy="3.2">/CD33</tspan><tspan dy="-3.2" font-size="7">+</tspan><tspan dy="3.2"> (%)</tspan></text>
<text x="94.8" y="223.4" font-size="8.1" text-anchor="middle" fill="#1a1a1a" textLength="47" lengthAdjust="spacingAndGlyphs">bone marrow</text>
<line x1="71.8" y1="226.9" x2="117.6" y2="226.9" stroke="#6a6a6a" stroke-width="1.6"/>
<line x1="60.5" y1="357.5" x2="135.5" y2="357.5" stroke="#1a1a1a" stroke-width="1.25"/>
<line x1="80" y1="357.5" x2="80" y2="360.6" stroke="#1a1a1a" stroke-width="1.1"/>
<line x1="117.1" y1="357.5" x2="117.1" y2="360.6" stroke="#1a1a1a" stroke-width="1.1"/>
<text x="80.3" y="371.6" font-size="8.3" text-anchor="middle" fill="#1a1a1a" textLength="26.2" lengthAdjust="spacingAndGlyphs">control</text>
<text x="117.1" y="371.6" font-size="8.3" text-anchor="middle" fill="#1a1a1a" textLength="19.0" lengthAdjust="spacingAndGlyphs">Ruxo</text>
<line x1="80" y1="247.91" x2="117.1" y2="252.35" stroke="#111" stroke-width="1.0"/>
<line x1="80" y1="249.02" x2="117.1" y2="250.13" stroke="#111" stroke-width="1.0"/>
<line x1="80" y1="256.79" x2="117.1" y2="257.9" stroke="#111" stroke-width="1.0"/>
<line x1="80" y1="301.75" x2="117.1" y2="285.65" stroke="#111" stroke-width="1.0"/>
<rect x="78.90" y="246.81" width="2.2" height="2.2" fill="#203c80"/>
<rect x="116.00" y="251.25" width="2.2" height="2.2" fill="#b3122f"/>
<rect x="78.90" y="247.92" width="2.2" height="2.2" fill="#203c80"/>
<rect x="116.00" y="249.03" width="2.2" height="2.2" fill="#b3122f"/>
<rect x="78.90" y="255.69" width="2.2" height="2.2" fill="#203c80"/>
<rect x="116.00" y="256.80" width="2.2" height="2.2" fill="#b3122f"/>
<rect x="78.90" y="300.64" width="2.2" height="2.2" fill="#203c80"/>
<rect x="116.00" y="284.55" width="2.2" height="2.2" fill="#b3122f"/>
<text x="173" y="223.4" font-size="8.1" text-anchor="middle" fill="#1a1a1a" textLength="20" lengthAdjust="spacingAndGlyphs">blood</text>
<line x1="149.9" y1="226.9" x2="195.8" y2="226.9" stroke="#6a6a6a" stroke-width="1.6"/>
<line x1="138.3" y1="357.5" x2="212" y2="357.5" stroke="#1a1a1a" stroke-width="1.25"/>
<line x1="156.6" y1="357.5" x2="156.6" y2="360.6" stroke="#1a1a1a" stroke-width="1.1"/>
<line x1="192.4" y1="357.5" x2="192.4" y2="360.6" stroke="#1a1a1a" stroke-width="1.1"/>
<text x="156.9" y="371.6" font-size="8.3" text-anchor="middle" fill="#1a1a1a" textLength="26.2" lengthAdjust="spacingAndGlyphs">control</text>
<text x="192.4" y="371.6" font-size="8.3" text-anchor="middle" fill="#1a1a1a" textLength="19.0" lengthAdjust="spacingAndGlyphs">Ruxo</text>
<line x1="156.6" y1="266.45" x2="192.4" y2="263.23" stroke="#111" stroke-width="1.0"/>
<line x1="156.6" y1="278.55" x2="192.4" y2="263.23" stroke="#111" stroke-width="1.0"/>
<line x1="156.6" y1="302.86" x2="192.4" y2="293.75" stroke="#111" stroke-width="1.0"/>
<line x1="156.6" y1="335.38" x2="192.4" y2="343.7" stroke="#111" stroke-width="1.0"/>
<rect x="155.50" y="265.35" width="2.2" height="2.2" fill="#203c80"/>
<rect x="191.30" y="262.13" width="2.2" height="2.2" fill="#b3122f"/>
<rect x="155.50" y="277.45" width="2.2" height="2.2" fill="#203c80"/>
<rect x="191.30" y="262.13" width="2.2" height="2.2" fill="#b3122f"/>
<rect x="155.50" y="301.75" width="2.2" height="2.2" fill="#203c80"/>
<rect x="191.30" y="292.65" width="2.2" height="2.2" fill="#b3122f"/>
<rect x="155.50" y="334.28" width="2.2" height="2.2" fill="#203c80"/>
<rect x="191.30" y="342.60" width="2.2" height="2.2" fill="#b3122f"/>
<text x="255.5" y="223.4" font-size="8.1" text-anchor="middle" fill="#1a1a1a" textLength="23.7" lengthAdjust="spacingAndGlyphs">spleen</text>
<line x1="233" y1="226.9" x2="278.1" y2="226.9" stroke="#6a6a6a" stroke-width="1.6"/>
<line x1="216.7" y1="357.5" x2="290.7" y2="357.5" stroke="#1a1a1a" stroke-width="1.25"/>
<line x1="234.5" y1="357.5" x2="234.5" y2="360.6" stroke="#1a1a1a" stroke-width="1.1"/>
<line x1="270.7" y1="357.5" x2="270.7" y2="360.6" stroke="#1a1a1a" stroke-width="1.1"/>
<text x="234.8" y="371.6" font-size="8.3" text-anchor="middle" fill="#1a1a1a" textLength="26.2" lengthAdjust="spacingAndGlyphs">control</text>
<text x="270.7" y="371.6" font-size="8.3" text-anchor="middle" fill="#1a1a1a" textLength="19.0" lengthAdjust="spacingAndGlyphs">Ruxo</text>
<line x1="234.5" y1="251.91" x2="270.7" y2="251.91" stroke="#111" stroke-width="1.0"/>
<line x1="234.5" y1="286.65" x2="270.7" y2="281.43" stroke="#111" stroke-width="1.0"/>
<line x1="234.5" y1="310.51" x2="270.7" y2="326.5" stroke="#111" stroke-width="1.0"/>
<line x1="234.5" y1="324.06" x2="270.7" y2="317.95" stroke="#111" stroke-width="1.0"/>
<rect x="233.40" y="250.81" width="2.2" height="2.2" fill="#203c80"/>
<rect x="269.60" y="250.81" width="2.2" height="2.2" fill="#b3122f"/>
<rect x="233.40" y="285.55" width="2.2" height="2.2" fill="#203c80"/>
<rect x="269.60" y="280.33" width="2.2" height="2.2" fill="#b3122f"/>
<rect x="233.40" y="309.41" width="2.2" height="2.2" fill="#203c80"/>
<rect x="269.60" y="325.40" width="2.2" height="2.2" fill="#b3122f"/>
<rect x="233.40" y="322.96" width="2.2" height="2.2" fill="#203c80"/>
<rect x="269.60" y="316.85" width="2.2" height="2.2" fill="#b3122f"/>
<text x="316.8" y="208.1" font-size="12.8" text-anchor="start" font-weight="bold" fill="#000">D</text>
<defs><filter id="hb" x="-5%" y="-5%" width="110%" height="110%"><feGaussianBlur stdDeviation="0.35"/></filter></defs>
<clipPath id="c1"><rect x="326.5" y="213.6" width="83.69999999999999" height="77.50000000000003"/></clipPath>
<g clip-path="url(#c1)"><g filter="url(#hb)">
<rect x="324.5" y="211.6" width="87.69999999999999" height="81.50000000000003" fill="#dcc2cf"/>
<g fill="#e8d8e0"><circle cx="364.4" cy="257.0" r="1.7"/><circle cx="365.5" cy="253.0" r="1.4"/><circle cx="342.0" cy="253.3" r="1.4"/><circle cx="392.9" cy="220.9" r="1.1"/><circle cx="334.1" cy="276.3" r="1.5"/><circle cx="330.0" cy="289.7" r="1.8"/><circle cx="381.2" cy="261.3" r="1.0"/><circle cx="327.8" cy="254.5" r="0.9"/><circle cx="342.4" cy="232.4" r="0.8"/><circle cx="365.3" cy="247.7" r="1.6"/><circle cx="370.0" cy="263.2" r="1.3"/><circle cx="381.9" cy="249.0" r="1.1"/><circle cx="410.0" cy="290.8" r="1.6"/><circle cx="385.7" cy="238.0" r="1.0"/><circle cx="350.7" cy="219.0" r="1.6"/><circle cx="360.0" cy="279.2" r="1.2"/><circle cx="406.7" cy="279.3" r="0.8"/><circle cx="344.1" cy="284.1" r="1.3"/><circle cx="408.6" cy="244.4" r="0.9"/><circle cx="379.2" cy="273.9" r="1.1"/><circle cx="333.8" cy="239.4" r="1.8"/><circle cx="389.9" cy="222.7" r="1.0"/><circle cx="335.0" cy="218.2" r="1.6"/><circle cx="341.4" cy="256.9" r="1.2"/><circle cx="342.5" cy="270.3" r="0.9"/><circle cx="380.4" cy="222.6" r="1.2"/><circle cx="344.3" cy="234.5" r="1.8"/><circle cx="393.7" cy="237.2" r="1.7"/><circle cx="344.1" cy="244.2" r="1.7"/><circle cx="380.2" cy="221.4" r="1.8"/><circle cx="344.3" cy="233.6" r="1.6"/><circle cx="354.0" cy="236.6" r="0.9"/><circle cx="334.0" cy="258.8" r="1.0"/><circle cx="376.8" cy="242.4" r="1.3"/><circle cx="406.8" cy="251.1" r="1.4"/><circle cx="399.0" cy="227.8" r="1.0"/><circle cx="402.5" cy="277.0" r="1.0"/><circle cx="342.4" cy="270.9" r="1.7"/><circle cx="343.0" cy="287.2" r="1.7"/><circle cx="377.0" cy="246.3" r="0.9"/><circle cx="329.7" cy="288.2" r="1.0"/><circle cx="385.5" cy="233.5" r="1.6"/><circle cx="376.4" cy="236.3" r="1.0"/><circle cx="386.8" cy="218.9" r="1.0"/><circle cx="373.3" cy="279.7" r="1.4"/><circle cx="350.0" cy="284.7" r="1.0"/><circle cx="327.9" cy="234.5" r="1.2"/><circle cx="331.6" cy="227.3" r="1.2"/><circle cx="374.4" cy="223.8" r="1.2"/><circle cx="401.1" cy="289.6" r="1.5"/><circle cx="384.4" cy="258.9" r="0.9"/><circle cx="329.4" cy="215.0" r="1.7"/><circle cx="385.2" cy="288.2" r="0.8"/><circle cx="379.7" cy="251.0" r="1.5"/><circle cx="353.2" cy="291.1" r="0.9"/><circle cx="372.2" cy="270.7" r="1.7"/><circle cx="388.2" cy="268.1" r="1.6"/><circle cx="403.1" cy="240.9" r="1.5"/><circle cx="401.9" cy="281.1" r="1.2"/><circle cx="392.7" cy="280.5" r="1.4"/><circle cx="378.8" cy="243.2" r="1.4"/><circle cx="377.5" cy="219.8" r="1.4"/><circle cx="409.6" cy="281.8" r="1.5"/><circle cx="359.0" cy="270.6" r="1.4"/><circle cx="363.4" cy="278.6" r="0.9"/><circle cx="389.3" cy="215.9" r="1.4"/><circle cx="366.8" cy="231.4" r="1.5"/><circle cx="368.1" cy="261.2" r="1.7"/><circle cx="347.9" cy="214.5" r="1.1"/><circle cx="383.3" cy="229.3" r="1.0"/><circle cx="402.3" cy="264.7" r="1.2"/><circle cx="401.1" cy="238.9" r="1.5"/><circle cx="343.1" cy="247.0" r="1.6"/><circle cx="403.0" cy="281.8" r="1.2"/><circle cx="375.3" cy="238.1" r="0.9"/><circle cx="368.1" cy="278.5" r="1.6"/><circle cx="386.0" cy="287.2" r="1.1"/><circle cx="340.7" cy="248.5" r="1.1"/><circle cx="344.4" cy="245.7" r="1.4"/><circle cx="367.8" cy="238.0" r="1.6"/><circle cx="408.7" cy="248.7" r="0.9"/><circle cx="329.1" cy="281.2" r="0.8"/><circle cx="385.8" cy="257.8" r="1.1"/><circle cx="392.7" cy="215.1" r="0.9"/><circle cx="364.6" cy="215.5" r="1.6"/><circle cx="346.4" cy="224.5" r="0.8"/><circle cx="379.2" cy="248.2" r="1.4"/><circle cx="381.3" cy="276.2" r="1.8"/><circle cx="383.8" cy="229.0" r="1.3"/><circle cx="341.5" cy="214.4" r="1.3"/><circle cx="386.3" cy="227.5" r="1.1"/><circle cx="355.4" cy="267.6" r="1.3"/><circle cx="377.9" cy="272.2" r="1.2"/><circle cx="392.8" cy="283.8" r="0.9"/><circle cx="404.6" cy="269.6" r="0.9"/><circle cx="364.5" cy="262.1" r="1.7"/><circle cx="358.0" cy="257.7" r="1.7"/><circle cx="393.2" cy="286.8" r="1.3"/><circle cx="381.0" cy="229.5" r="1.5"/><circle cx="395.0" cy="263.3" r="1.5"/><circle cx="344.4" cy="283.3" r="1.8"/><circle cx="408.3" cy="255.2" r="1.6"/><circle cx="353.3" cy="284.1" r="1.7"/><circle cx="355.7" cy="220.0" r="1.2"/><circle cx="372.6" cy="273.1" r="1.3"/><circle cx="328.9" cy="276.3" r="0.9"/><circle cx="393.4" cy="227.0" r="1.1"/><circle cx="392.4" cy="224.5" r="0.9"/><circle cx="369.7" cy="269.7" r="1.6"/><circle cx="384.2" cy="286.9" r="1.3"/><circle cx="405.9" cy="220.3" r="1.0"/><circle cx="370.6" cy="236.1" r="1.5"/><circle cx="380.0" cy="254.1" r="1.6"/><circle cx="373.4" cy="237.8" r="1.2"/><circle cx="397.2" cy="283.4" r="1.0"/><circle cx="397.7" cy="288.7" r="1.3"/><circle cx="374.5" cy="229.2" r="1.3"/><circle cx="368.6" cy="260.5" r="0.8"/><circle cx="407.6" cy="253.6" r="1.2"/><circle cx="393.5" cy="257.2" r="1.3"/><circle cx="384.3" cy="218.7" r="1.3"/><circle cx="361.1" cy="287.8" r="1.7"/><circle cx="349.0" cy="250.3" r="0.9"/><circle cx="362.8" cy="276.8" r="1.7"/><circle cx="366.4" cy="238.2" r="1.0"/><circle cx="378.2" cy="285.3" r="0.9"/><circle cx="391.7" cy="215.4" r="1.0"/><circle cx="345.5" cy="266.8" r="1.1"/><circle cx="356.2" cy="261.6" r="0.9"/><circle cx="387.7" cy="223.1" r="1.3"/><circle cx="347.5" cy="228.9" r="1.3"/><circle cx="363.1" cy="242.7" r="1.2"/><circle cx="370.8" cy="226.0" r="1.0"/><circle cx="379.3" cy="263.1" r="1.3"/><circle cx="397.8" cy="261.0" r="1.7"/><circle cx="346.0" cy="271.0" r="1.6"/><circle cx="402.1" cy="238.1" r="1.1"/><circle cx="403.7" cy="230.5" r="1.8"/><circle cx="400.8" cy="224.0" r="1.0"/><circle cx="387.3" cy="233.7" r="0.9"/></g>
<g fill="#80466f"><circle cx="379.6" cy="276.7" r="1.0"/><circle cx="366.7" cy="227.1" r="1.0"/><circle cx="398.2" cy="292.3" r="1.3"/><circle cx="336.3" cy="267.1" r="1.4"/><circle cx="342.9" cy="242.0" r="1.4"/><circle cx="391.3" cy="291.5" r="0.9"/><circle cx="333.2" cy="247.8" r="1.2"/><circle cx="390.8" cy="215.3" r="1.5"/><circle cx="381.8" cy="227.6" r="1.3"/><circle cx="325.3" cy="232.8" r="1.3"/><circle cx="333.5" cy="255.7" r="1.4"/><circle cx="367.9" cy="222.5" r="1.4"/><circle cx="365.2" cy="278.7" r="0.9"/><circle cx="343.2" cy="265.6" r="1.3"/><circle cx="372.5" cy="275.8" r="1.1"/><circle cx="367.8" cy="255.4" r="1.3"/><circle cx="380.7" cy="254.3" r="1.4"/><circle cx="329.7" cy="236.7" r="1.1"/><circle cx="338.1" cy="286.6" r="1.4"/><circle cx="326.0" cy="250.8" r="1.1"/><circle cx="394.2" cy="274.7" r="1.3"/><circle cx="398.7" cy="278.6" r="1.1"/><circle cx="351.3" cy="249.7" r="1.1"/><circle cx="390.0" cy="275.5" r="1.3"/><circle cx="374.0" cy="248.9" r="1.4"/><circle cx="390.7" cy="256.9" r="1.0"/><circle cx="327.7" cy="249.3" r="0.9"/><circle cx="326.8" cy="265.3" r="0.9"/><circle cx="340.8" cy="256.3" r="1.2"/><circle cx="374.3" cy="238.7" r="1.4"/><circle cx="370.2" cy="245.9" r="1.1"/><circle cx="361.5" cy="221.6" r="0.9"/><circle cx="342.3" cy="281.6" r="1.0"/><circle cx="380.0" cy="227.2" r="1.3"/><circle cx="339.4" cy="281.8" r="1.3"/><circle cx="331.0" cy="285.6" r="1.3"/><circle cx="399.6" cy="214.1" r="1.5"/><circle cx="370.3" cy="291.9" r="1.0"/><circle cx="365.9" cy="287.8" r="1.3"/><circle cx="410.6" cy="261.4" r="1.0"/><circle cx="345.6" cy="280.0" r="0.9"/><circle cx="352.7" cy="242.9" r="1.4"/><circle cx="337.7" cy="260.1" r="1.0"/><circle cx="386.5" cy="229.2" r="1.3"/><circle cx="389.2" cy="283.1" r="1.4"/><circle cx="400.5" cy="247.6" r="1.2"/><circle cx="363.4" cy="279.5" r="1.0"/><circle cx="326.8" cy="225.4" r="1.3"/><circle cx="371.1" cy="265.9" r="1.5"/><circle cx="326.4" cy="244.2" r="1.1"/><circle cx="355.1" cy="228.5" r="1.5"/><circle cx="330.8" cy="252.1" r="1.4"/><circle cx="365.4" cy="222.1" r="1.0"/><circle cx="392.0" cy="227.9" r="1.3"/><circle cx="336.2" cy="221.7" r="1.1"/><circle cx="335.3" cy="283.1" r="1.3"/><circle cx="360.8" cy="229.6" r="1.1"/><circle cx="354.7" cy="284.8" r="1.3"/><circle cx="344.7" cy="255.7" r="1.5"/><circle cx="335.0" cy="249.8" r="1.1"/><circle cx="356.6" cy="279.4" r="0.9"/><circle cx="360.7" cy="257.3" r="1.4"/><circle cx="374.3" cy="222.2" r="1.2"/><circle cx="344.6" cy="276.6" r="1.4"/><circle cx="374.3" cy="252.4" r="1.1"/><circle cx="362.3" cy="248.3" r="1.1"/><circle cx="359.6" cy="229.7" r="1.3"/><circle cx="342.9" cy="273.8" r="1.1"/><circle cx="349.6" cy="267.0" r="1.1"/><circle cx="344.3" cy="232.0" r="1.1"/><circle cx="336.6" cy="239.3" r="1.3"/><circle cx="389.1" cy="245.7" r="1.0"/><circle cx="363.8" cy="247.2" r="1.2"/><circle cx="403.2" cy="270.9" r="1.5"/><circle cx="355.7" cy="279.4" r="1.3"/><circle cx="358.5" cy="275.1" r="1.2"/><circle cx="386.2" cy="243.9" r="1.3"/><circle cx="351.4" cy="280.7" r="1.5"/><circle cx="397.4" cy="291.6" r="1.0"/><circle cx="382.1" cy="217.5" r="0.9"/><circle cx="401.0" cy="216.6" r="0.9"/><circle cx="362.8" cy="267.0" r="1.2"/><circle cx="370.1" cy="258.9" r="0.9"/><circle cx="403.3" cy="231.3" r="1.3"/><circle cx="370.3" cy="232.4" r="1.0"/><circle cx="407.3" cy="217.2" r="0.9"/><circle cx="395.0" cy="232.9" r="0.9"/><circle cx="359.7" cy="278.6" r="0.9"/><circle cx="365.3" cy="226.5" r="1.0"/><circle cx="352.5" cy="263.7" r="1.3"/><circle cx="355.5" cy="216.3" r="1.2"/><circle cx="366.2" cy="269.8" r="1.5"/><circle cx="379.1" cy="221.8" r="1.2"/><circle cx="360.2" cy="243.8" r="1.2"/><circle cx="407.1" cy="238.5" r="1.5"/><circle cx="365.2" cy="216.2" r="1.0"/><circle cx="370.3" cy="251.4" r="0.9"/><circle cx="346.5" cy="255.7" r="1.2"/><circle cx="341.1" cy="274.0" r="1.3"/><circle cx="352.5" cy="274.1" r="1.3"/><circle cx="364.5" cy="246.8" r="1.5"/><circle cx="341.5" cy="232.2" r="1.2"/><circle cx="329.3" cy="250.2" r="1.1"/><circle cx="401.1" cy="287.1" r="1.1"/><circle cx="381.8" cy="230.0" r="1.2"/><circle cx="341.7" cy="286.0" r="1.2"/><circle cx="340.1" cy="221.2" r="1.3"/><circle cx="326.8" cy="227.2" r="1.2"/><circle cx="383.2" cy="280.9" r="1.4"/><circle cx="384.2" cy="288.3" r="0.9"/><circle cx="400.1" cy="216.7" r="1.1"/><circle cx="392.9" cy="229.6" r="1.1"/><circle cx="348.1" cy="220.8" r="1.2"/><circle cx="350.5" cy="243.5" r="1.3"/><circle cx="404.9" cy="279.7" r="0.9"/><circle cx="408.3" cy="254.9" r="0.9"/><circle cx="337.5" cy="243.3" r="1.2"/><circle cx="405.3" cy="261.7" r="1.0"/><circle cx="382.1" cy="229.1" r="1.0"/><circle cx="388.0" cy="273.4" r="1.1"/><circle cx="378.5" cy="287.8" r="1.5"/><circle cx="381.3" cy="245.5" r="1.0"/><circle cx="349.0" cy="286.4" r="0.9"/><circle cx="358.2" cy="254.9" r="0.9"/><circle cx="363.8" cy="251.1" r="0.9"/><circle cx="391.2" cy="270.5" r="1.1"/><circle cx="404.9" cy="214.6" r="1.0"/><circle cx="386.6" cy="241.9" r="1.5"/><circle cx="332.4" cy="274.9" r="1.2"/><circle cx="348.0" cy="266.0" r="1.0"/><circle cx="324.6" cy="211.7" r="1.3"/><circle cx="327.1" cy="224.8" r="1.0"/><circle cx="373.1" cy="259.0" r="1.3"/><circle cx="399.5" cy="218.2" r="0.9"/><circle cx="404.5" cy="271.0" r="1.5"/><circle cx="404.9" cy="228.6" r="1.1"/><circle cx="388.0" cy="285.2" r="1.4"/><circle cx="351.0" cy="242.4" r="1.3"/><circle cx="410.5" cy="254.9" r="1.2"/><circle cx="392.7" cy="251.5" r="1.5"/><circle cx="325.5" cy="245.8" r="1.4"/><circle cx="390.9" cy="267.3" r="0.9"/><circle cx="393.7" cy="278.9" r="1.4"/><circle cx="324.6" cy="256.2" r="1.5"/><circle cx="356.0" cy="214.2" r="1.5"/><circle cx="340.0" cy="220.2" r="1.2"/><circle cx="391.7" cy="226.8" r="1.0"/><circle cx="357.7" cy="249.9" r="1.4"/><circle cx="333.3" cy="290.6" r="1.5"/><circle cx="377.2" cy="289.8" r="1.0"/><circle cx="356.9" cy="248.8" r="1.1"/><circle cx="327.1" cy="250.8" r="1.4"/><circle cx="369.7" cy="292.2" r="1.4"/><circle cx="392.7" cy="234.0" r="1.1"/><circle cx="335.9" cy="287.6" r="1.3"/><circle cx="333.2" cy="221.2" r="1.5"/><circle cx="396.5" cy="257.8" r="1.5"/><circle cx="406.5" cy="272.2" r="0.9"/><circle cx="385.3" cy="241.6" r="1.4"/><circle cx="351.4" cy="225.9" r="1.1"/><circle cx="330.8" cy="265.7" r="1.4"/><circle cx="378.2" cy="241.2" r="1.3"/><circle cx="403.2" cy="243.9" r="1.2"/><circle cx="348.6" cy="267.9" r="1.3"/><circle cx="389.8" cy="272.2" r="1.3"/><circle cx="388.9" cy="213.5" r="1.0"/><circle cx="375.5" cy="217.8" r="1.2"/><circle cx="370.6" cy="287.0" r="1.1"/><circle cx="341.2" cy="211.7" r="1.4"/><circle cx="410.6" cy="259.6" r="1.2"/><circle cx="377.9" cy="282.9" r="1.0"/><circle cx="338.2" cy="290.4" r="1.5"/><circle cx="343.5" cy="225.5" r="0.9"/><circle cx="389.3" cy="247.5" r="1.0"/><circle cx="359.0" cy="276.2" r="1.2"/><circle cx="399.1" cy="229.8" r="1.2"/><circle cx="337.3" cy="258.0" r="1.1"/><circle cx="394.3" cy="288.8" r="1.2"/><circle cx="333.8" cy="217.9" r="1.5"/><circle cx="390.2" cy="222.7" r="1.0"/><circle cx="327.8" cy="271.4" r="1.3"/><circle cx="399.9" cy="256.3" r="1.1"/><circle cx="378.9" cy="235.9" r="1.5"/><circle cx="393.7" cy="287.1" r="1.4"/><circle cx="326.2" cy="225.1" r="1.3"/><circle cx="399.5" cy="259.7" r="1.3"/><circle cx="329.6" cy="261.6" r="1.0"/><circle cx="406.2" cy="233.0" r="1.1"/><circle cx="346.5" cy="272.2" r="1.4"/><circle cx="334.1" cy="215.2" r="1.0"/><circle cx="346.3" cy="275.2" r="1.5"/><circle cx="367.7" cy="244.1" r="1.1"/><circle cx="362.1" cy="260.1" r="1.4"/><circle cx="338.2" cy="262.9" r="1.1"/><circle cx="409.1" cy="241.6" r="1.4"/><circle cx="370.6" cy="226.7" r="1.4"/><circle cx="403.5" cy="225.6" r="1.5"/><circle cx="374.9" cy="284.9" r="1.4"/><circle cx="393.4" cy="217.7" r="1.4"/><circle cx="346.7" cy="221.3" r="1.3"/><circle cx="338.6" cy="244.2" r="1.1"/><circle cx="361.6" cy="251.1" r="1.3"/><circle cx="345.8" cy="255.2" r="1.4"/><circle cx="380.0" cy="275.2" r="1.3"/><circle cx="349.7" cy="220.9" r="1.3"/><circle cx="390.7" cy="286.5" r="1.5"/><circle cx="349.2" cy="267.8" r="1.1"/><circle cx="348.0" cy="223.7" r="1.0"/><circle cx="407.0" cy="255.6" r="1.3"/><circle cx="394.3" cy="262.7" r="1.3"/><circle cx="367.4" cy="230.6" r="1.3"/><circle cx="373.3" cy="271.3" r="1.2"/><circle cx="385.2" cy="218.1" r="1.5"/><circle cx="340.8" cy="225.3" r="1.5"/><circle cx="340.6" cy="235.8" r="1.4"/><circle cx="379.0" cy="263.5" r="1.5"/><circle cx="388.4" cy="257.6" r="1.1"/><circle cx="342.6" cy="272.8" r="1.4"/><circle cx="406.7" cy="291.3" r="1.4"/><circle cx="391.1" cy="252.6" r="1.2"/><circle cx="366.4" cy="281.7" r="1.1"/></g>
<g fill="#8f567f"><circle cx="397.5" cy="246.0" r="1.0"/><circle cx="347.1" cy="285.9" r="1.4"/><circle cx="369.6" cy="252.2" r="1.3"/><circle cx="338.5" cy="250.0" r="1.4"/><circle cx="392.2" cy="259.3" r="1.1"/><circle cx="387.9" cy="249.8" r="1.3"/><circle cx="400.0" cy="240.7" r="0.9"/><circle cx="388.1" cy="268.6" r="1.3"/><circle cx="390.6" cy="227.1" r="1.2"/><circle cx="404.6" cy="224.7" r="1.3"/><circle cx="357.2" cy="250.6" r="1.1"/><circle cx="363.7" cy="278.6" r="1.2"/><circle cx="390.0" cy="243.4" r="1.1"/><circle cx="391.1" cy="278.9" r="1.1"/><circle cx="343.9" cy="216.3" r="1.2"/><circle cx="361.5" cy="245.9" r="1.0"/><circle cx="338.7" cy="263.4" r="1.1"/><circle cx="387.4" cy="260.1" r="1.2"/><circle cx="404.1" cy="277.6" r="1.3"/><circle cx="374.7" cy="226.1" r="1.4"/><circle cx="372.2" cy="254.4" r="1.5"/><circle cx="383.9" cy="269.3" r="1.0"/><circle cx="336.7" cy="228.3" r="1.4"/><circle cx="350.2" cy="220.0" r="1.0"/><circle cx="371.8" cy="235.9" r="1.1"/><circle cx="368.4" cy="223.2" r="1.5"/><circle cx="369.8" cy="269.9" r="1.2"/><circle cx="364.2" cy="271.1" r="1.5"/><circle cx="359.9" cy="275.4" r="1.1"/><circle cx="380.7" cy="273.8" r="1.0"/><circle cx="360.1" cy="239.0" r="1.0"/><circle cx="361.5" cy="277.2" r="1.3"/><circle cx="341.7" cy="226.4" r="1.2"/><circle cx="340.3" cy="230.0" r="1.3"/><circle cx="349.5" cy="273.2" r="1.0"/><circle cx="388.9" cy="213.9" r="1.5"/><circle cx="406.0" cy="252.3" r="0.9"/><circle cx="374.4" cy="255.9" r="1.3"/><circle cx="386.2" cy="289.6" r="1.2"/><circle cx="391.3" cy="292.0" r="1.4"/><circle cx="346.7" cy="256.6" r="1.1"/><circle cx="404.5" cy="283.7" r="1.2"/><circle cx="328.8" cy="245.7" r="1.0"/><circle cx="372.7" cy="225.0" r="1.1"/><circle cx="348.6" cy="213.1" r="1.4"/><circle cx="369.4" cy="257.8" r="1.0"/><circle cx="360.5" cy="250.6" r="1.2"/><circle cx="391.9" cy="240.2" r="1.2"/><circle cx="389.6" cy="285.6" r="1.2"/><circle cx="374.1" cy="232.9" r="1.3"/><circle cx="404.3" cy="214.7" r="1.3"/><circle cx="337.6" cy="227.3" r="1.0"/><circle cx="333.6" cy="213.2" r="1.3"/><circle cx="384.7" cy="290.2" r="1.0"/><circle cx="381.2" cy="241.1" r="1.5"/><circle cx="374.3" cy="245.9" r="1.3"/><circle cx="397.4" cy="276.9" r="1.0"/><circle cx="379.0" cy="235.4" r="1.5"/><circle cx="365.9" cy="268.1" r="1.0"/><circle cx="384.1" cy="222.9" r="1.3"/><circle cx="387.8" cy="244.9" r="1.5"/><circle cx="324.9" cy="239.0" r="1.5"/><circle cx="341.0" cy="235.3" r="1.5"/><circle cx="369.6" cy="212.5" r="0.9"/><circle cx="347.7" cy="229.0" r="1.0"/><circle cx="389.7" cy="256.1" r="1.0"/><circle cx="352.7" cy="255.4" r="0.9"/><circle cx="411.1" cy="246.7" r="1.2"/><circle cx="358.7" cy="286.7" r="1.4"/><circle cx="376.6" cy="287.5" r="1.2"/><circle cx="340.9" cy="286.9" r="1.4"/><circle cx="341.7" cy="234.4" r="0.9"/><circle cx="372.7" cy="285.4" r="1.4"/><circle cx="367.4" cy="218.8" r="1.2"/><circle cx="352.2" cy="289.6" r="1.2"/><circle cx="342.9" cy="274.1" r="1.3"/><circle cx="385.4" cy="266.4" r="0.9"/><circle cx="382.2" cy="248.5" r="0.9"/><circle cx="338.2" cy="217.5" r="1.2"/><circle cx="351.6" cy="240.4" r="1.0"/><circle cx="360.8" cy="216.0" r="1.3"/><circle cx="339.4" cy="220.1" r="1.4"/><circle cx="333.7" cy="280.9" r="1.0"/><circle cx="327.3" cy="240.9" r="1.2"/><circle cx="331.8" cy="267.5" r="1.1"/><circle cx="333.1" cy="275.5" r="1.5"/><circle cx="377.9" cy="255.9" r="1.2"/><circle cx="364.2" cy="241.8" r="1.5"/><circle cx="355.6" cy="252.3" r="1.5"/><circle cx="333.4" cy="223.0" r="0.9"/><circle cx="403.4" cy="232.5" r="1.3"/><circle cx="406.8" cy="291.1" r="1.5"/><circle cx="339.4" cy="274.3" r="1.5"/><circle cx="326.6" cy="214.2" r="1.3"/><circle cx="345.1" cy="283.5" r="1.0"/><circle cx="343.0" cy="248.4" r="1.4"/><circle cx="342.4" cy="214.4" r="1.2"/><circle cx="331.4" cy="273.8" r="1.2"/><circle cx="328.4" cy="257.0" r="1.1"/><circle cx="361.3" cy="266.2" r="1.1"/><circle cx="406.2" cy="239.5" r="0.9"/><circle cx="387.2" cy="288.7" r="1.0"/><circle cx="388.2" cy="286.9" r="1.5"/><circle cx="406.4" cy="266.8" r="1.0"/><circle cx="398.7" cy="249.5" r="1.0"/><circle cx="359.6" cy="215.8" r="0.9"/><circle cx="410.3" cy="286.3" r="1.4"/><circle cx="386.9" cy="277.6" r="0.9"/><circle cx="381.0" cy="216.9" r="0.9"/><circle cx="386.9" cy="214.8" r="1.2"/><circle cx="342.0" cy="258.9" r="1.2"/><circle cx="346.0" cy="278.0" r="1.3"/><circle cx="389.3" cy="282.5" r="1.0"/><circle cx="331.1" cy="230.1" r="1.4"/><circle cx="395.2" cy="245.8" r="0.9"/><circle cx="357.3" cy="265.2" r="1.4"/><circle cx="402.3" cy="225.9" r="1.5"/><circle cx="344.4" cy="241.3" r="1.2"/><circle cx="363.5" cy="270.1" r="1.1"/><circle cx="375.0" cy="292.9" r="1.0"/><circle cx="376.4" cy="259.1" r="0.9"/><circle cx="410.1" cy="226.6" r="1.4"/><circle cx="388.2" cy="269.9" r="1.3"/><circle cx="400.3" cy="214.3" r="1.1"/><circle cx="380.7" cy="225.3" r="1.4"/><circle cx="349.6" cy="265.8" r="1.1"/><circle cx="411.9" cy="219.7" r="1.3"/><circle cx="356.6" cy="268.1" r="1.2"/><circle cx="330.2" cy="270.0" r="1.4"/><circle cx="337.8" cy="275.4" r="0.9"/><circle cx="366.8" cy="285.8" r="1.2"/><circle cx="359.5" cy="218.1" r="1.2"/><circle cx="374.4" cy="219.6" r="1.4"/><circle cx="366.9" cy="222.4" r="0.9"/><circle cx="349.2" cy="215.6" r="1.1"/><circle cx="403.5" cy="276.0" r="1.4"/><circle cx="338.3" cy="248.9" r="1.1"/><circle cx="354.0" cy="245.8" r="1.2"/><circle cx="334.9" cy="219.4" r="1.0"/><circle cx="398.8" cy="276.8" r="1.4"/><circle cx="374.4" cy="290.6" r="1.5"/><circle cx="355.4" cy="250.2" r="1.4"/><circle cx="340.4" cy="238.4" r="1.1"/><circle cx="367.4" cy="289.9" r="1.4"/><circle cx="335.1" cy="225.0" r="1.5"/><circle cx="332.5" cy="212.0" r="1.5"/><circle cx="411.5" cy="227.9" r="0.9"/><circle cx="325.2" cy="273.4" r="0.9"/><circle cx="394.0" cy="279.7" r="1.3"/><circle cx="385.9" cy="272.1" r="1.0"/><circle cx="409.6" cy="228.8" r="1.4"/><circle cx="375.8" cy="267.6" r="1.3"/><circle cx="338.2" cy="292.0" r="1.4"/><circle cx="325.8" cy="261.7" r="1.5"/><circle cx="399.3" cy="274.5" r="1.2"/><circle cx="410.1" cy="257.4" r="1.5"/><circle cx="408.3" cy="235.7" r="0.9"/><circle cx="326.1" cy="280.7" r="1.2"/><circle cx="335.5" cy="237.9" r="1.0"/><circle cx="407.6" cy="231.1" r="0.9"/><circle cx="385.4" cy="229.8" r="0.9"/><circle cx="342.8" cy="211.9" r="1.2"/><circle cx="340.9" cy="251.8" r="1.1"/><circle cx="409.2" cy="235.5" r="1.5"/><circle cx="369.4" cy="249.9" r="0.9"/><circle cx="325.8" cy="258.6" r="1.0"/><circle cx="377.7" cy="235.2" r="1.0"/><circle cx="346.2" cy="217.0" r="1.4"/><circle cx="402.1" cy="211.7" r="1.3"/><circle cx="380.8" cy="282.0" r="1.3"/><circle cx="345.8" cy="221.2" r="1.4"/><circle cx="344.5" cy="234.3" r="0.9"/><circle cx="382.5" cy="226.2" r="1.3"/><circle cx="350.8" cy="233.5" r="1.1"/><circle cx="409.6" cy="250.8" r="1.1"/><circle cx="340.0" cy="269.6" r="1.2"/><circle cx="363.4" cy="228.6" r="1.1"/><circle cx="380.2" cy="287.7" r="1.0"/><circle cx="360.9" cy="246.5" r="1.0"/><circle cx="368.8" cy="267.6" r="0.9"/><circle cx="398.7" cy="272.7" r="1.5"/><circle cx="398.3" cy="254.9" r="1.5"/><circle cx="349.0" cy="213.2" r="0.9"/><circle cx="349.9" cy="265.9" r="1.2"/><circle cx="374.3" cy="282.8" r="1.2"/><circle cx="400.7" cy="253.8" r="1.4"/><circle cx="364.4" cy="268.9" r="1.3"/><circle cx="340.1" cy="271.2" r="1.1"/><circle cx="393.4" cy="233.1" r="1.1"/><circle cx="337.5" cy="265.9" r="1.3"/><circle cx="379.5" cy="242.3" r="1.0"/><circle cx="354.6" cy="265.0" r="1.4"/><circle cx="364.0" cy="267.8" r="1.0"/><circle cx="340.3" cy="289.2" r="1.5"/><circle cx="335.3" cy="267.6" r="1.0"/><circle cx="352.6" cy="216.1" r="1.4"/><circle cx="370.4" cy="236.4" r="1.2"/></g>
<g fill="#733d65"><circle cx="384.3" cy="285.9" r="0.9"/><circle cx="340.4" cy="248.6" r="1.1"/><circle cx="341.2" cy="259.2" r="1.4"/><circle cx="340.7" cy="276.6" r="1.2"/><circle cx="348.4" cy="290.0" r="1.1"/><circle cx="347.2" cy="234.1" r="1.2"/><circle cx="371.0" cy="251.0" r="1.2"/><circle cx="349.4" cy="270.0" r="0.9"/><circle cx="384.5" cy="215.9" r="1.4"/><circle cx="328.9" cy="292.2" r="0.9"/><circle cx="380.6" cy="267.2" r="1.4"/><circle cx="371.0" cy="292.9" r="1.4"/><circle cx="345.4" cy="220.9" r="1.4"/><circle cx="379.3" cy="240.9" r="1.3"/><circle cx="381.8" cy="292.2" r="1.1"/><circle cx="356.9" cy="219.5" r="0.9"/><circle cx="367.9" cy="273.9" r="1.0"/><circle cx="337.0" cy="240.8" r="1.1"/><circle cx="403.6" cy="267.6" r="1.2"/><circle cx="394.9" cy="236.4" r="1.0"/><circle cx="356.2" cy="241.4" r="1.3"/><circle cx="340.0" cy="273.5" r="1.4"/><circle cx="348.5" cy="220.2" r="0.9"/><circle cx="364.8" cy="240.2" r="1.3"/><circle cx="404.7" cy="245.1" r="1.4"/><circle cx="358.6" cy="254.7" r="1.5"/><circle cx="402.9" cy="244.4" r="1.3"/><circle cx="407.1" cy="256.5" r="1.2"/><circle cx="338.3" cy="224.4" r="1.0"/><circle cx="379.6" cy="288.0" r="1.5"/><circle cx="342.0" cy="271.2" r="1.1"/><circle cx="348.5" cy="249.9" r="1.2"/><circle cx="388.3" cy="261.6" r="1.5"/><circle cx="347.4" cy="227.0" r="1.3"/><circle cx="366.4" cy="245.6" r="1.1"/><circle cx="339.3" cy="272.4" r="1.3"/><circle cx="335.3" cy="278.8" r="1.3"/><circle cx="356.4" cy="273.4" r="1.4"/><circle cx="374.0" cy="244.8" r="1.2"/><circle cx="376.9" cy="272.9" r="1.5"/><circle cx="370.6" cy="231.1" r="1.3"/><circle cx="407.0" cy="283.3" r="1.5"/><circle cx="364.2" cy="235.7" r="0.9"/><circle cx="351.4" cy="248.7" r="1.1"/><circle cx="351.3" cy="278.2" r="1.5"/><circle cx="376.2" cy="230.3" r="1.5"/><circle cx="392.6" cy="285.7" r="1.3"/><circle cx="383.1" cy="256.2" r="1.4"/><circle cx="399.3" cy="260.8" r="0.9"/><circle cx="329.2" cy="246.3" r="1.4"/><circle cx="329.9" cy="245.1" r="1.3"/><circle cx="332.0" cy="230.1" r="1.1"/><circle cx="375.8" cy="292.7" r="1.2"/><circle cx="358.1" cy="217.5" r="1.1"/><circle cx="356.2" cy="224.1" r="0.9"/><circle cx="337.4" cy="228.3" r="1.2"/><circle cx="344.3" cy="235.4" r="1.3"/><circle cx="395.4" cy="291.1" r="1.3"/><circle cx="383.0" cy="289.4" r="1.0"/><circle cx="367.7" cy="251.5" r="1.0"/><circle cx="347.0" cy="281.1" r="1.3"/><circle cx="326.5" cy="243.5" r="1.5"/><circle cx="375.9" cy="249.8" r="1.5"/><circle cx="330.8" cy="214.5" r="1.5"/><circle cx="358.2" cy="239.4" r="0.9"/><circle cx="396.7" cy="283.7" r="1.0"/><circle cx="400.8" cy="216.0" r="1.1"/><circle cx="389.4" cy="268.1" r="1.4"/><circle cx="346.6" cy="269.9" r="1.0"/><circle cx="334.9" cy="215.1" r="1.1"/><circle cx="330.4" cy="247.4" r="1.0"/><circle cx="348.5" cy="244.2" r="1.0"/><circle cx="366.8" cy="241.4" r="1.2"/><circle cx="337.8" cy="212.2" r="1.3"/><circle cx="356.5" cy="274.1" r="1.4"/><circle cx="349.0" cy="285.4" r="1.3"/><circle cx="333.8" cy="223.2" r="1.0"/><circle cx="392.9" cy="284.0" r="0.9"/><circle cx="329.3" cy="261.8" r="1.5"/><circle cx="370.8" cy="248.4" r="1.3"/><circle cx="394.5" cy="253.3" r="0.9"/><circle cx="400.8" cy="269.6" r="1.2"/><circle cx="340.2" cy="238.8" r="1.5"/><circle cx="411.7" cy="242.4" r="1.3"/><circle cx="354.7" cy="262.4" r="1.0"/><circle cx="411.7" cy="268.0" r="1.5"/><circle cx="353.7" cy="259.2" r="1.1"/><circle cx="357.4" cy="260.0" r="1.1"/><circle cx="350.8" cy="271.9" r="1.0"/><circle cx="370.7" cy="271.4" r="1.1"/><circle cx="346.1" cy="290.1" r="1.4"/><circle cx="368.1" cy="253.7" r="0.9"/><circle cx="332.6" cy="232.1" r="1.4"/><circle cx="407.3" cy="264.3" r="1.1"/><circle cx="396.4" cy="275.8" r="0.9"/><circle cx="400.6" cy="219.5" r="1.2"/><circle cx="398.1" cy="221.7" r="1.2"/><circle cx="399.5" cy="274.6" r="1.0"/><circle cx="354.9" cy="225.0" r="1.1"/><circle cx="347.0" cy="216.8" r="1.1"/><circle cx="337.8" cy="289.1" r="1.4"/><circle cx="400.0" cy="271.7" r="0.9"/><circle cx="391.6" cy="259.1" r="1.3"/><circle cx="356.4" cy="289.1" r="1.3"/><circle cx="326.3" cy="255.4" r="1.3"/><circle cx="349.6" cy="257.3" r="1.2"/><circle cx="348.4" cy="234.8" r="1.5"/><circle cx="382.4" cy="286.5" r="1.1"/><circle cx="368.8" cy="257.7" r="1.5"/><circle cx="374.1" cy="221.4" r="1.1"/><circle cx="327.3" cy="220.7" r="1.5"/><circle cx="360.2" cy="238.9" r="1.1"/><circle cx="370.6" cy="238.9" r="1.2"/><circle cx="344.9" cy="236.2" r="1.4"/><circle cx="393.8" cy="242.5" r="1.2"/><circle cx="330.8" cy="226.7" r="1.3"/><circle cx="344.1" cy="217.9" r="1.5"/><circle cx="353.5" cy="257.9" r="1.2"/><circle cx="402.8" cy="260.3" r="1.3"/><circle cx="384.8" cy="232.0" r="1.0"/><circle cx="371.9" cy="249.1" r="1.5"/><circle cx="405.1" cy="274.0" r="1.0"/><circle cx="375.7" cy="224.4" r="1.0"/><circle cx="333.0" cy="267.6" r="1.2"/><circle cx="326.5" cy="253.3" r="1.2"/><circle cx="410.6" cy="282.6" r="1.0"/><circle cx="378.0" cy="274.8" r="1.5"/><circle cx="385.4" cy="253.6" r="1.2"/><circle cx="385.1" cy="213.8" r="1.3"/><circle cx="359.4" cy="239.3" r="1.1"/><circle cx="379.2" cy="245.1" r="1.3"/><circle cx="361.0" cy="274.1" r="0.9"/><circle cx="357.8" cy="282.0" r="1.5"/><circle cx="410.2" cy="269.7" r="1.4"/><circle cx="388.2" cy="289.1" r="1.4"/><circle cx="354.6" cy="289.3" r="1.0"/><circle cx="374.4" cy="289.3" r="1.2"/><circle cx="385.5" cy="213.9" r="1.5"/><circle cx="343.0" cy="268.9" r="1.1"/><circle cx="378.8" cy="223.8" r="1.4"/><circle cx="383.9" cy="225.6" r="1.3"/><circle cx="355.0" cy="274.3" r="1.5"/><circle cx="383.0" cy="268.3" r="0.9"/><circle cx="356.1" cy="231.9" r="1.1"/><circle cx="363.7" cy="255.9" r="1.5"/><circle cx="389.4" cy="283.8" r="1.4"/><circle cx="403.5" cy="272.1" r="1.3"/><circle cx="351.2" cy="283.2" r="1.1"/><circle cx="340.9" cy="230.9" r="1.5"/><circle cx="387.1" cy="222.9" r="1.3"/><circle cx="411.1" cy="213.9" r="1.5"/><circle cx="328.1" cy="234.8" r="1.0"/><circle cx="400.4" cy="239.5" r="0.9"/><circle cx="410.4" cy="271.9" r="1.3"/><circle cx="356.0" cy="264.3" r="0.9"/><circle cx="327.6" cy="249.0" r="1.3"/><circle cx="372.5" cy="281.4" r="1.5"/><circle cx="355.0" cy="219.2" r="1.5"/><circle cx="357.2" cy="264.6" r="1.5"/><circle cx="410.0" cy="235.0" r="1.3"/><circle cx="333.0" cy="289.8" r="0.9"/><circle cx="377.9" cy="245.8" r="1.1"/><circle cx="363.5" cy="235.7" r="1.1"/><circle cx="331.1" cy="256.7" r="1.2"/><circle cx="401.2" cy="260.1" r="1.4"/><circle cx="358.4" cy="264.0" r="1.1"/><circle cx="406.3" cy="277.3" r="1.4"/><circle cx="327.1" cy="263.7" r="1.2"/><circle cx="355.5" cy="290.8" r="1.3"/><circle cx="411.5" cy="258.7" r="1.5"/><circle cx="389.9" cy="281.8" r="0.9"/><circle cx="392.8" cy="238.6" r="1.4"/><circle cx="394.1" cy="252.8" r="1.5"/><circle cx="383.1" cy="229.9" r="0.9"/><circle cx="352.3" cy="241.6" r="1.4"/><circle cx="351.1" cy="248.4" r="0.9"/><circle cx="346.0" cy="271.2" r="1.2"/><circle cx="368.3" cy="274.8" r="1.1"/><circle cx="367.6" cy="242.4" r="1.3"/><circle cx="333.0" cy="243.1" r="1.2"/><circle cx="375.4" cy="284.7" r="1.0"/><circle cx="390.6" cy="251.5" r="1.4"/><circle cx="335.4" cy="247.9" r="1.2"/><circle cx="355.2" cy="292.4" r="1.3"/><circle cx="347.6" cy="219.9" r="1.5"/><circle cx="387.3" cy="250.1" r="1.4"/><circle cx="361.6" cy="277.0" r="1.3"/><circle cx="384.5" cy="258.6" r="1.0"/><circle cx="325.7" cy="236.2" r="1.1"/><circle cx="351.7" cy="242.4" r="0.9"/><circle cx="365.2" cy="242.8" r="1.2"/><circle cx="351.0" cy="261.1" r="1.4"/><circle cx="405.3" cy="232.2" r="0.9"/><circle cx="367.9" cy="248.2" r="0.9"/><circle cx="369.7" cy="279.6" r="1.3"/><circle cx="404.0" cy="269.1" r="1.3"/><circle cx="361.3" cy="241.6" r="1.1"/><circle cx="372.0" cy="215.8" r="1.4"/><circle cx="404.9" cy="282.3" r="0.9"/><circle cx="408.4" cy="212.8" r="0.9"/><circle cx="373.0" cy="224.6" r="1.5"/><circle cx="408.2" cy="259.1" r="1.4"/><circle cx="337.0" cy="273.1" r="1.0"/><circle cx="333.3" cy="260.8" r="1.0"/><circle cx="350.2" cy="258.5" r="1.5"/><circle cx="393.4" cy="290.8" r="1.1"/><circle cx="381.3" cy="251.3" r="1.2"/><circle cx="410.2" cy="256.1" r="1.1"/><circle cx="346.9" cy="281.7" r="1.1"/><circle cx="337.8" cy="227.4" r="1.5"/><circle cx="325.9" cy="215.9" r="1.5"/><circle cx="367.6" cy="277.2" r="1.0"/><circle cx="388.8" cy="266.9" r="1.4"/><circle cx="355.6" cy="276.1" r="1.2"/><circle cx="337.4" cy="271.3" r="1.5"/><circle cx="384.5" cy="246.3" r="1.2"/><circle cx="333.7" cy="251.7" r="1.4"/><circle cx="375.9" cy="217.3" r="1.0"/><circle cx="363.7" cy="264.7" r="1.0"/><circle cx="390.8" cy="230.0" r="1.4"/><circle cx="390.2" cy="216.8" r="1.3"/><circle cx="382.2" cy="234.9" r="1.4"/><circle cx="356.8" cy="231.7" r="1.1"/><circle cx="370.8" cy="281.1" r="1.1"/><circle cx="354.2" cy="249.7" r="0.9"/><circle cx="327.7" cy="290.0" r="1.2"/><circle cx="390.0" cy="271.9" r="1.5"/><circle cx="331.2" cy="281.2" r="1.5"/><circle cx="363.6" cy="263.5" r="1.3"/><circle cx="399.3" cy="290.8" r="1.2"/></g>
<g fill="#9d648c"><circle cx="397.5" cy="277.0" r="0.9"/><circle cx="352.9" cy="218.5" r="1.2"/><circle cx="391.8" cy="274.0" r="1.0"/><circle cx="334.0" cy="230.9" r="1.1"/><circle cx="328.9" cy="227.5" r="0.9"/><circle cx="383.1" cy="289.5" r="1.5"/><circle cx="372.0" cy="260.2" r="1.5"/><circle cx="403.9" cy="246.6" r="1.0"/><circle cx="334.6" cy="262.5" r="0.9"/><circle cx="363.3" cy="266.0" r="1.3"/><circle cx="331.8" cy="257.6" r="1.4"/><circle cx="409.3" cy="264.7" r="0.9"/><circle cx="380.1" cy="223.3" r="1.0"/><circle cx="395.2" cy="279.6" r="1.5"/><circle cx="332.6" cy="281.9" r="0.9"/><circle cx="407.6" cy="276.9" r="1.5"/><circle cx="345.3" cy="212.5" r="1.5"/><circle cx="364.0" cy="231.7" r="1.3"/><circle cx="378.4" cy="254.6" r="1.3"/><circle cx="351.1" cy="275.9" r="1.0"/><circle cx="384.3" cy="275.3" r="1.0"/><circle cx="409.0" cy="237.4" r="0.9"/><circle cx="384.8" cy="220.2" r="1.3"/><circle cx="325.6" cy="242.3" r="1.0"/><circle cx="327.3" cy="292.1" r="1.1"/><circle cx="330.9" cy="286.6" r="1.5"/><circle cx="358.3" cy="238.6" r="1.3"/><circle cx="406.0" cy="241.0" r="1.5"/><circle cx="383.4" cy="271.7" r="1.3"/><circle cx="365.5" cy="223.3" r="0.9"/><circle cx="393.6" cy="244.5" r="1.3"/><circle cx="411.7" cy="279.9" r="1.4"/><circle cx="329.3" cy="270.7" r="1.4"/><circle cx="401.4" cy="231.5" r="1.0"/><circle cx="401.1" cy="290.9" r="1.3"/><circle cx="339.6" cy="247.5" r="1.4"/><circle cx="368.2" cy="287.7" r="1.5"/><circle cx="398.0" cy="240.5" r="0.9"/><circle cx="387.0" cy="222.6" r="1.1"/><circle cx="332.4" cy="291.7" r="1.5"/><circle cx="393.9" cy="230.8" r="1.2"/><circle cx="368.0" cy="247.0" r="1.4"/><circle cx="381.5" cy="253.2" r="1.0"/><circle cx="402.6" cy="223.1" r="1.2"/><circle cx="359.0" cy="280.3" r="1.1"/><circle cx="376.6" cy="273.5" r="1.2"/><circle cx="411.6" cy="267.0" r="1.0"/><circle cx="351.0" cy="261.1" r="0.9"/><circle cx="372.6" cy="237.2" r="1.3"/><circle cx="336.8" cy="280.7" r="1.2"/><circle cx="380.0" cy="218.9" r="0.9"/><circle cx="386.2" cy="229.7" r="1.0"/><circle cx="404.5" cy="233.8" r="1.2"/><circle cx="378.9" cy="245.1" r="0.9"/><circle cx="330.5" cy="249.4" r="1.1"/><circle cx="348.4" cy="251.9" r="1.5"/><circle cx="402.2" cy="236.9" r="1.2"/><circle cx="348.3" cy="232.1" r="1.1"/><circle cx="371.7" cy="276.9" r="1.1"/><circle cx="326.8" cy="255.8" r="1.0"/><circle cx="403.1" cy="283.4" r="0.9"/><circle cx="342.2" cy="282.3" r="0.9"/><circle cx="394.0" cy="271.5" r="1.1"/><circle cx="366.8" cy="280.1" r="1.0"/><circle cx="395.6" cy="241.3" r="1.1"/><circle cx="370.6" cy="212.4" r="1.5"/><circle cx="405.6" cy="221.5" r="1.2"/><circle cx="389.1" cy="292.2" r="0.9"/><circle cx="409.4" cy="273.0" r="0.9"/><circle cx="373.2" cy="275.8" r="1.5"/><circle cx="343.8" cy="235.1" r="1.0"/><circle cx="361.7" cy="278.4" r="1.0"/><circle cx="364.4" cy="287.7" r="1.0"/><circle cx="344.0" cy="213.3" r="1.2"/><circle cx="330.3" cy="249.3" r="1.4"/><circle cx="356.9" cy="223.3" r="0.9"/><circle cx="404.0" cy="265.7" r="1.4"/><circle cx="400.3" cy="290.1" r="1.4"/><circle cx="398.8" cy="215.4" r="1.1"/><circle cx="343.3" cy="255.3" r="1.1"/><circle cx="331.9" cy="276.1" r="1.1"/><circle cx="371.1" cy="224.9" r="1.2"/><circle cx="327.3" cy="246.8" r="1.0"/><circle cx="386.1" cy="251.9" r="1.3"/><circle cx="394.9" cy="267.3" r="1.3"/><circle cx="345.0" cy="232.9" r="1.3"/><circle cx="355.4" cy="224.6" r="1.1"/><circle cx="406.5" cy="213.2" r="1.4"/><circle cx="330.5" cy="276.3" r="1.4"/><circle cx="355.8" cy="285.8" r="1.5"/><circle cx="327.4" cy="289.4" r="1.5"/><circle cx="337.1" cy="228.4" r="1.5"/><circle cx="386.0" cy="230.9" r="1.1"/><circle cx="365.6" cy="266.9" r="1.4"/><circle cx="384.6" cy="265.6" r="1.0"/><circle cx="374.9" cy="263.1" r="0.9"/><circle cx="409.6" cy="234.4" r="0.9"/><circle cx="405.7" cy="264.3" r="1.4"/><circle cx="381.0" cy="266.6" r="1.5"/><circle cx="407.2" cy="263.7" r="1.0"/><circle cx="360.2" cy="230.8" r="1.5"/><circle cx="331.4" cy="246.6" r="1.3"/><circle cx="408.1" cy="281.0" r="1.5"/><circle cx="393.9" cy="269.3" r="1.0"/><circle cx="382.6" cy="228.3" r="1.1"/><circle cx="357.5" cy="284.8" r="1.5"/><circle cx="407.8" cy="265.0" r="1.2"/><circle cx="410.4" cy="239.4" r="0.9"/><circle cx="329.0" cy="229.2" r="0.9"/><circle cx="379.4" cy="284.4" r="1.1"/><circle cx="385.0" cy="279.1" r="1.3"/><circle cx="401.5" cy="229.4" r="1.3"/><circle cx="328.4" cy="240.4" r="1.3"/><circle cx="325.8" cy="241.3" r="1.3"/><circle cx="358.7" cy="252.7" r="1.2"/><circle cx="385.2" cy="272.3" r="0.9"/><circle cx="371.4" cy="239.0" r="1.2"/><circle cx="389.8" cy="231.3" r="1.0"/><circle cx="382.9" cy="221.4" r="1.5"/><circle cx="352.6" cy="212.2" r="1.2"/><circle cx="344.3" cy="247.1" r="1.4"/><circle cx="327.0" cy="283.1" r="1.0"/><circle cx="340.3" cy="248.3" r="1.0"/><circle cx="393.9" cy="245.0" r="1.2"/><circle cx="369.0" cy="243.2" r="1.1"/><circle cx="361.6" cy="275.9" r="1.1"/><circle cx="348.8" cy="230.7" r="1.3"/><circle cx="408.7" cy="223.3" r="1.2"/><circle cx="340.1" cy="249.3" r="1.5"/><circle cx="361.4" cy="237.5" r="1.0"/><circle cx="377.0" cy="267.5" r="1.1"/><circle cx="329.5" cy="264.4" r="1.0"/><circle cx="365.6" cy="212.5" r="1.4"/><circle cx="405.2" cy="251.0" r="1.3"/><circle cx="404.4" cy="226.1" r="1.1"/><circle cx="361.4" cy="280.6" r="1.1"/><circle cx="410.3" cy="279.2" r="1.1"/><circle cx="381.4" cy="242.1" r="1.4"/><circle cx="335.3" cy="232.0" r="1.1"/><circle cx="377.4" cy="212.8" r="1.2"/><circle cx="391.0" cy="264.2" r="0.9"/><circle cx="328.2" cy="216.4" r="0.9"/><circle cx="357.8" cy="224.5" r="1.0"/><circle cx="362.8" cy="248.8" r="1.4"/><circle cx="350.4" cy="286.0" r="1.1"/><circle cx="331.3" cy="281.4" r="0.9"/><circle cx="328.8" cy="250.3" r="0.9"/><circle cx="362.3" cy="238.4" r="1.5"/><circle cx="370.8" cy="214.3" r="1.0"/><circle cx="339.5" cy="258.9" r="1.5"/><circle cx="368.5" cy="226.4" r="1.1"/><circle cx="345.9" cy="249.1" r="1.3"/><circle cx="334.6" cy="214.6" r="1.4"/><circle cx="329.9" cy="271.1" r="0.9"/><circle cx="357.7" cy="269.9" r="1.2"/><circle cx="372.7" cy="215.9" r="1.3"/><circle cx="395.4" cy="289.8" r="1.2"/><circle cx="352.9" cy="251.7" r="1.3"/><circle cx="348.1" cy="291.5" r="1.4"/><circle cx="396.9" cy="222.3" r="1.5"/><circle cx="350.2" cy="218.6" r="1.1"/><circle cx="341.0" cy="246.7" r="0.9"/><circle cx="371.4" cy="216.2" r="0.9"/><circle cx="357.4" cy="231.2" r="1.5"/><circle cx="406.5" cy="280.8" r="1.5"/><circle cx="345.2" cy="216.7" r="1.5"/><circle cx="354.9" cy="280.7" r="1.1"/><circle cx="351.2" cy="223.3" r="1.2"/><circle cx="380.0" cy="224.6" r="1.5"/><circle cx="342.2" cy="247.9" r="1.2"/><circle cx="411.0" cy="235.2" r="1.4"/><circle cx="411.5" cy="273.2" r="1.4"/><circle cx="389.3" cy="281.2" r="1.2"/><circle cx="360.3" cy="223.4" r="1.4"/><circle cx="336.5" cy="253.1" r="0.9"/><circle cx="328.7" cy="227.9" r="0.9"/><circle cx="328.6" cy="257.1" r="1.4"/><circle cx="327.0" cy="277.4" r="1.0"/><circle cx="384.5" cy="276.4" r="1.2"/><circle cx="408.2" cy="291.6" r="1.2"/><circle cx="354.2" cy="224.4" r="0.9"/><circle cx="391.7" cy="292.5" r="1.3"/><circle cx="344.0" cy="235.4" r="0.9"/><circle cx="410.2" cy="285.6" r="0.9"/><circle cx="362.6" cy="292.0" r="1.3"/><circle cx="412.1" cy="243.7" r="1.3"/><circle cx="345.5" cy="241.9" r="1.4"/><circle cx="347.6" cy="274.1" r="1.1"/><circle cx="363.5" cy="255.5" r="1.4"/><circle cx="349.4" cy="288.5" r="1.5"/><circle cx="392.2" cy="238.2" r="1.1"/><circle cx="370.6" cy="240.7" r="1.0"/><circle cx="349.7" cy="275.8" r="1.2"/><circle cx="380.3" cy="257.6" r="1.1"/><circle cx="352.5" cy="237.2" r="0.9"/><circle cx="395.5" cy="270.7" r="1.2"/><circle cx="349.2" cy="277.6" r="1.2"/><circle cx="387.0" cy="245.8" r="1.4"/><circle cx="328.6" cy="288.6" r="1.0"/><circle cx="372.8" cy="232.4" r="1.0"/><circle cx="328.3" cy="256.6" r="1.0"/><circle cx="386.7" cy="227.5" r="1.3"/><circle cx="410.0" cy="283.3" r="1.4"/><circle cx="404.6" cy="287.4" r="1.0"/><circle cx="379.1" cy="212.2" r="0.9"/><circle cx="338.1" cy="258.6" r="1.0"/><circle cx="367.0" cy="255.0" r="1.0"/><circle cx="397.0" cy="220.2" r="1.2"/><circle cx="401.0" cy="269.6" r="1.5"/><circle cx="350.3" cy="220.8" r="1.2"/><circle cx="389.5" cy="262.4" r="1.5"/><circle cx="409.4" cy="243.2" r="1.4"/><circle cx="403.1" cy="237.4" r="1.2"/><circle cx="327.9" cy="261.7" r="1.3"/><circle cx="339.6" cy="228.8" r="1.0"/><circle cx="329.7" cy="228.8" r="1.5"/><circle cx="391.9" cy="282.0" r="1.3"/><circle cx="357.4" cy="229.8" r="1.0"/><circle cx="407.0" cy="233.7" r="1.5"/><circle cx="339.3" cy="265.9" r="1.5"/><circle cx="330.0" cy="234.5" r="0.9"/><circle cx="371.9" cy="292.3" r="1.2"/><circle cx="374.5" cy="233.0" r="1.3"/></g>
<g fill="#ad7b9a"><circle cx="368.8" cy="273.4" r="1.5"/><circle cx="327.8" cy="256.6" r="1.5"/><circle cx="353.2" cy="249.7" r="1.1"/><circle cx="341.6" cy="225.1" r="1.4"/><circle cx="360.1" cy="284.7" r="1.3"/><circle cx="325.4" cy="240.6" r="0.9"/><circle cx="382.4" cy="258.0" r="0.9"/><circle cx="369.0" cy="290.4" r="1.4"/><circle cx="361.4" cy="254.5" r="1.1"/><circle cx="334.8" cy="269.4" r="1.3"/><circle cx="409.4" cy="271.1" r="1.0"/><circle cx="375.8" cy="276.5" r="1.1"/><circle cx="358.7" cy="224.2" r="1.2"/><circle cx="343.8" cy="274.0" r="1.1"/><circle cx="341.8" cy="240.9" r="1.0"/><circle cx="359.8" cy="289.5" r="1.4"/><circle cx="411.6" cy="233.3" r="0.9"/><circle cx="331.8" cy="272.6" r="1.5"/><circle cx="398.6" cy="270.2" r="1.0"/><circle cx="358.0" cy="219.9" r="0.9"/><circle cx="393.8" cy="265.4" r="1.2"/><circle cx="333.8" cy="242.4" r="1.1"/><circle cx="372.2" cy="257.3" r="1.5"/><circle cx="365.7" cy="245.1" r="1.5"/><circle cx="334.8" cy="220.9" r="1.1"/><circle cx="394.0" cy="221.7" r="1.3"/><circle cx="359.3" cy="240.7" r="1.0"/><circle cx="380.2" cy="268.5" r="1.0"/><circle cx="350.4" cy="233.9" r="1.5"/><circle cx="349.5" cy="232.0" r="0.9"/><circle cx="327.4" cy="249.2" r="1.1"/><circle cx="393.2" cy="253.7" r="1.4"/><circle cx="380.2" cy="291.7" r="1.0"/><circle cx="392.9" cy="225.1" r="1.2"/><circle cx="376.8" cy="269.8" r="1.2"/><circle cx="401.7" cy="238.1" r="0.9"/><circle cx="389.3" cy="275.2" r="1.2"/><circle cx="338.5" cy="267.9" r="1.4"/><circle cx="387.4" cy="291.1" r="1.0"/><circle cx="357.9" cy="232.5" r="1.3"/><circle cx="363.9" cy="222.7" r="1.5"/><circle cx="330.4" cy="281.1" r="1.3"/><circle cx="343.8" cy="254.0" r="1.5"/><circle cx="324.8" cy="256.2" r="0.9"/><circle cx="379.0" cy="251.6" r="1.1"/><circle cx="360.9" cy="241.5" r="1.2"/><circle cx="384.1" cy="214.9" r="1.5"/><circle cx="399.6" cy="228.3" r="1.4"/><circle cx="358.6" cy="268.2" r="1.0"/><circle cx="352.9" cy="213.2" r="1.2"/><circle cx="355.3" cy="257.2" r="0.9"/><circle cx="372.8" cy="265.1" r="1.0"/><circle cx="348.3" cy="213.6" r="1.1"/><circle cx="404.3" cy="213.5" r="0.9"/><circle cx="352.9" cy="270.6" r="1.3"/><circle cx="339.8" cy="217.0" r="0.9"/><circle cx="399.6" cy="262.8" r="1.5"/><circle cx="365.5" cy="279.8" r="1.0"/><circle cx="377.2" cy="258.3" r="1.5"/><circle cx="353.3" cy="232.5" r="1.1"/><circle cx="358.6" cy="280.8" r="1.2"/><circle cx="398.6" cy="288.7" r="1.0"/><circle cx="386.2" cy="230.8" r="0.9"/><circle cx="348.9" cy="219.9" r="0.9"/><circle cx="356.4" cy="242.1" r="1.3"/><circle cx="352.2" cy="266.3" r="0.9"/><circle cx="406.2" cy="253.8" r="1.0"/><circle cx="394.2" cy="211.9" r="1.4"/><circle cx="332.8" cy="293.0" r="0.9"/><circle cx="374.0" cy="225.8" r="1.3"/><circle cx="387.0" cy="224.4" r="1.3"/><circle cx="360.0" cy="251.8" r="1.3"/><circle cx="367.4" cy="264.9" r="1.5"/><circle cx="409.2" cy="212.2" r="1.1"/><circle cx="391.5" cy="215.5" r="0.9"/><circle cx="384.4" cy="228.8" r="0.9"/><circle cx="359.3" cy="267.9" r="0.9"/><circle cx="398.4" cy="240.8" r="1.0"/><circle cx="387.3" cy="246.9" r="0.9"/><circle cx="340.3" cy="245.3" r="1.2"/><circle cx="367.2" cy="230.5" r="0.9"/><circle cx="337.8" cy="243.4" r="1.4"/><circle cx="362.0" cy="275.2" r="1.0"/><circle cx="331.1" cy="256.4" r="1.5"/><circle cx="360.7" cy="223.3" r="1.2"/><circle cx="367.2" cy="257.0" r="0.9"/><circle cx="411.9" cy="258.2" r="1.1"/><circle cx="353.7" cy="231.0" r="1.0"/><circle cx="335.3" cy="237.8" r="0.9"/><circle cx="370.7" cy="255.6" r="1.2"/><circle cx="361.7" cy="290.0" r="1.3"/><circle cx="409.7" cy="239.0" r="1.2"/><circle cx="337.1" cy="258.8" r="1.1"/><circle cx="367.6" cy="266.8" r="1.4"/><circle cx="401.9" cy="224.9" r="1.2"/><circle cx="334.3" cy="272.3" r="1.3"/><circle cx="349.1" cy="215.7" r="1.4"/><circle cx="394.5" cy="232.4" r="0.9"/><circle cx="366.8" cy="235.3" r="1.2"/><circle cx="410.4" cy="230.4" r="1.4"/><circle cx="350.0" cy="289.2" r="1.1"/><circle cx="386.3" cy="215.7" r="1.0"/><circle cx="399.9" cy="281.4" r="1.1"/><circle cx="391.4" cy="256.8" r="1.5"/><circle cx="340.6" cy="290.6" r="1.4"/><circle cx="324.7" cy="249.5" r="1.2"/><circle cx="335.7" cy="246.3" r="1.4"/><circle cx="378.5" cy="215.4" r="0.9"/><circle cx="389.7" cy="271.1" r="0.9"/><circle cx="326.4" cy="279.7" r="1.3"/><circle cx="332.3" cy="271.5" r="1.2"/><circle cx="375.3" cy="232.1" r="1.1"/><circle cx="338.3" cy="213.7" r="1.1"/><circle cx="328.7" cy="249.3" r="1.5"/><circle cx="329.0" cy="212.3" r="1.3"/><circle cx="337.3" cy="258.7" r="0.9"/><circle cx="379.4" cy="279.6" r="1.0"/><circle cx="326.9" cy="286.4" r="1.0"/><circle cx="368.8" cy="240.9" r="1.0"/><circle cx="404.2" cy="261.7" r="1.0"/><circle cx="369.4" cy="237.0" r="1.4"/><circle cx="349.5" cy="227.2" r="1.3"/><circle cx="368.5" cy="230.1" r="1.5"/><circle cx="351.7" cy="281.9" r="1.1"/><circle cx="411.3" cy="284.6" r="1.4"/><circle cx="351.8" cy="226.0" r="1.2"/><circle cx="356.1" cy="261.2" r="1.1"/><circle cx="337.5" cy="259.9" r="1.0"/><circle cx="368.4" cy="252.3" r="1.3"/><circle cx="330.4" cy="234.2" r="0.9"/><circle cx="383.8" cy="258.6" r="1.5"/><circle cx="375.3" cy="228.6" r="1.1"/><circle cx="347.5" cy="242.6" r="1.1"/><circle cx="380.7" cy="249.8" r="1.3"/><circle cx="388.0" cy="275.3" r="1.3"/><circle cx="340.6" cy="271.2" r="1.3"/><circle cx="329.7" cy="222.3" r="1.1"/><circle cx="401.4" cy="271.4" r="1.3"/><circle cx="343.3" cy="247.9" r="1.5"/><circle cx="345.4" cy="280.4" r="1.5"/><circle cx="400.4" cy="231.9" r="1.2"/><circle cx="356.9" cy="225.9" r="1.3"/><circle cx="335.8" cy="268.9" r="1.2"/><circle cx="367.3" cy="237.6" r="1.1"/><circle cx="395.3" cy="218.9" r="1.3"/><circle cx="368.7" cy="226.2" r="1.0"/><circle cx="351.9" cy="221.3" r="1.2"/><circle cx="360.8" cy="253.6" r="1.2"/><circle cx="336.8" cy="225.4" r="1.0"/><circle cx="343.1" cy="240.0" r="1.4"/><circle cx="336.6" cy="227.7" r="1.2"/><circle cx="390.8" cy="278.3" r="1.0"/><circle cx="332.5" cy="234.8" r="1.4"/><circle cx="385.7" cy="224.2" r="1.1"/><circle cx="329.7" cy="267.6" r="1.1"/><circle cx="351.0" cy="247.6" r="1.3"/><circle cx="342.4" cy="284.8" r="0.9"/><circle cx="372.4" cy="244.2" r="1.2"/><circle cx="327.0" cy="212.2" r="1.2"/><circle cx="326.6" cy="219.9" r="1.3"/><circle cx="365.0" cy="255.1" r="1.4"/><circle cx="397.0" cy="255.4" r="1.5"/><circle cx="365.0" cy="287.4" r="1.5"/><circle cx="366.0" cy="247.1" r="1.1"/><circle cx="326.2" cy="271.6" r="1.0"/><circle cx="369.2" cy="233.7" r="1.3"/><circle cx="342.5" cy="248.4" r="1.4"/><circle cx="336.5" cy="290.5" r="1.5"/><circle cx="383.8" cy="213.3" r="1.0"/><circle cx="405.0" cy="216.5" r="1.1"/><circle cx="399.5" cy="261.4" r="1.1"/><circle cx="360.3" cy="284.4" r="0.9"/><circle cx="390.1" cy="280.1" r="1.4"/><circle cx="338.3" cy="257.8" r="1.2"/><circle cx="384.9" cy="229.8" r="1.3"/><circle cx="340.0" cy="245.4" r="0.9"/><circle cx="354.7" cy="281.7" r="0.9"/><circle cx="376.6" cy="264.0" r="0.9"/><circle cx="405.5" cy="233.7" r="1.2"/><circle cx="411.1" cy="284.0" r="1.2"/><circle cx="378.4" cy="288.6" r="1.3"/><circle cx="342.1" cy="291.3" r="1.0"/><circle cx="400.7" cy="266.9" r="1.1"/><circle cx="406.5" cy="262.3" r="1.3"/><circle cx="372.5" cy="253.8" r="1.4"/><circle cx="327.6" cy="225.6" r="1.3"/><circle cx="407.5" cy="235.5" r="1.1"/><circle cx="405.8" cy="250.0" r="0.9"/><circle cx="336.8" cy="252.9" r="1.3"/><circle cx="343.4" cy="271.4" r="1.5"/><circle cx="357.2" cy="246.8" r="1.0"/><circle cx="326.0" cy="259.8" r="1.0"/><circle cx="380.1" cy="256.3" r="1.0"/><circle cx="349.6" cy="275.6" r="1.2"/><circle cx="365.8" cy="256.7" r="1.3"/><circle cx="352.9" cy="289.4" r="1.3"/><circle cx="354.4" cy="253.6" r="0.9"/><circle cx="377.2" cy="233.6" r="1.3"/><circle cx="370.4" cy="256.3" r="1.0"/><circle cx="358.8" cy="250.2" r="1.3"/><circle cx="411.9" cy="248.7" r="1.3"/><circle cx="365.0" cy="281.9" r="1.3"/><circle cx="331.7" cy="229.8" r="1.2"/><circle cx="326.0" cy="237.6" r="1.2"/><circle cx="368.0" cy="225.5" r="1.4"/><circle cx="330.4" cy="230.6" r="1.4"/><circle cx="345.0" cy="253.0" r="1.3"/><circle cx="397.1" cy="274.5" r="1.2"/><circle cx="378.2" cy="256.4" r="1.1"/><circle cx="348.0" cy="230.6" r="1.2"/><circle cx="350.7" cy="288.1" r="1.4"/><circle cx="397.6" cy="226.1" r="1.5"/><circle cx="391.8" cy="291.8" r="1.3"/><circle cx="364.7" cy="213.9" r="1.1"/><circle cx="362.8" cy="253.6" r="1.1"/><circle cx="406.8" cy="293.1" r="0.9"/><circle cx="380.8" cy="247.7" r="0.9"/><circle cx="349.6" cy="275.3" r="1.4"/><circle cx="392.0" cy="238.6" r="1.4"/><circle cx="378.5" cy="251.6" r="0.9"/><circle cx="337.1" cy="221.3" r="1.2"/><circle cx="349.4" cy="218.6" r="0.9"/><circle cx="374.1" cy="218.5" r="1.4"/><circle cx="354.9" cy="213.9" r="1.2"/><circle cx="405.9" cy="265.6" r="1.4"/><circle cx="362.7" cy="229.0" r="1.3"/><circle cx="383.6" cy="234.1" r="1.2"/><circle cx="357.4" cy="291.6" r="1.2"/><circle cx="357.5" cy="263.0" r="1.5"/></g>
<ellipse cx="373.5" cy="244.1" rx="6.8" ry="6.6" fill="#e4e6e1"/>
<ellipse cx="342.8" cy="247.9" rx="4.7" ry="4.5" fill="#e4e6e1"/>
<ellipse cx="363.3" cy="255.9" rx="3.2" ry="3.0" fill="#e4e6e1"/>
<ellipse cx="334.5" cy="272.4" rx="4.2" ry="3.0" fill="#e4e6e1"/>
<ellipse cx="372" cy="288" rx="3" ry="2" fill="#e4e6e1"/>
</g></g>
<rect x="326.5" y="213.6" width="83.69999999999999" height="77.50000000000003" fill="none" stroke="#2a2a2a" stroke-width="1.3"/>
<clipPath id="c2"><rect x="412.6" y="213.6" width="84.09999999999997" height="77.50000000000003"/></clipPath>
<g clip-path="url(#c2)"><g filter="url(#hb)">
<rect x="410.6" y="211.6" width="88.09999999999997" height="81.50000000000003" fill="#dfc3d1"/>
<g fill="#efe2e9"><circle cx="452.5" cy="264.6" r="1.5"/><circle cx="424.6" cy="214.4" r="1.2"/><circle cx="435.6" cy="276.4" r="1.5"/><circle cx="463.2" cy="256.9" r="1.5"/><circle cx="424.8" cy="247.7" r="1.0"/><circle cx="488.8" cy="218.2" r="1.6"/><circle cx="418.9" cy="266.8" r="1.1"/><circle cx="446.6" cy="278.9" r="0.8"/><circle cx="417.7" cy="284.5" r="1.3"/><circle cx="420.3" cy="290.1" r="1.7"/><circle cx="422.1" cy="246.4" r="0.9"/><circle cx="438.9" cy="261.8" r="1.0"/><circle cx="471.2" cy="217.6" r="1.0"/><circle cx="481.2" cy="244.6" r="1.2"/><circle cx="462.7" cy="250.5" r="1.2"/><circle cx="415.2" cy="269.9" r="1.8"/><circle cx="494.7" cy="265.0" r="1.2"/><circle cx="443.1" cy="267.1" r="1.5"/><circle cx="422.2" cy="231.8" r="1.2"/><circle cx="455.6" cy="276.4" r="1.3"/><circle cx="415.0" cy="277.3" r="1.2"/><circle cx="456.2" cy="230.8" r="1.2"/><circle cx="445.3" cy="273.4" r="0.9"/><circle cx="458.9" cy="227.4" r="1.5"/><circle cx="415.7" cy="235.0" r="1.1"/><circle cx="466.2" cy="217.6" r="1.3"/><circle cx="430.2" cy="235.4" r="1.3"/><circle cx="493.2" cy="250.9" r="1.8"/><circle cx="426.7" cy="285.2" r="1.2"/><circle cx="428.5" cy="271.6" r="1.7"/><circle cx="413.2" cy="234.4" r="1.6"/><circle cx="441.3" cy="232.3" r="0.8"/><circle cx="416.0" cy="261.6" r="1.8"/><circle cx="496.6" cy="252.6" r="0.8"/><circle cx="439.7" cy="274.6" r="1.6"/><circle cx="466.4" cy="231.4" r="1.3"/><circle cx="452.7" cy="262.2" r="1.1"/><circle cx="492.2" cy="282.9" r="1.0"/><circle cx="437.1" cy="281.3" r="1.1"/><circle cx="492.0" cy="253.5" r="1.5"/><circle cx="471.9" cy="230.2" r="1.1"/><circle cx="434.0" cy="266.6" r="1.5"/><circle cx="423.7" cy="282.3" r="1.2"/><circle cx="432.9" cy="247.3" r="1.8"/><circle cx="459.7" cy="262.0" r="1.7"/><circle cx="493.5" cy="272.5" r="1.2"/><circle cx="462.1" cy="283.4" r="1.6"/><circle cx="461.4" cy="240.5" r="1.2"/><circle cx="474.5" cy="257.3" r="0.8"/><circle cx="472.3" cy="283.6" r="1.6"/><circle cx="488.1" cy="284.2" r="1.3"/><circle cx="479.0" cy="243.0" r="0.9"/><circle cx="442.3" cy="237.8" r="1.7"/><circle cx="470.6" cy="255.6" r="1.4"/><circle cx="423.1" cy="255.0" r="1.5"/><circle cx="445.7" cy="232.6" r="1.2"/><circle cx="439.8" cy="266.7" r="0.9"/><circle cx="420.2" cy="237.8" r="1.5"/><circle cx="476.5" cy="264.7" r="1.7"/><circle cx="443.3" cy="215.9" r="1.3"/><circle cx="449.9" cy="227.5" r="1.5"/><circle cx="441.3" cy="232.1" r="1.1"/><circle cx="492.0" cy="214.2" r="1.2"/><circle cx="436.1" cy="229.2" r="1.2"/><circle cx="431.1" cy="284.8" r="1.3"/><circle cx="471.3" cy="226.2" r="1.3"/><circle cx="463.6" cy="278.9" r="1.0"/><circle cx="451.3" cy="279.8" r="1.6"/><circle cx="431.7" cy="255.3" r="1.6"/><circle cx="445.8" cy="265.8" r="1.5"/><circle cx="494.4" cy="256.5" r="1.5"/><circle cx="442.1" cy="270.3" r="1.1"/><circle cx="454.6" cy="241.6" r="1.1"/><circle cx="424.0" cy="231.1" r="1.3"/><circle cx="433.8" cy="217.2" r="1.6"/><circle cx="436.6" cy="286.2" r="1.4"/><circle cx="445.3" cy="281.3" r="1.7"/><circle cx="439.6" cy="223.4" r="1.4"/><circle cx="483.5" cy="260.8" r="1.6"/><circle cx="447.3" cy="261.5" r="1.1"/><circle cx="446.8" cy="243.0" r="1.2"/><circle cx="446.2" cy="276.2" r="1.0"/><circle cx="429.8" cy="233.3" r="1.8"/><circle cx="456.6" cy="217.7" r="1.6"/><circle cx="486.1" cy="277.2" r="1.2"/><circle cx="474.4" cy="237.3" r="0.9"/><circle cx="485.4" cy="278.2" r="1.0"/><circle cx="486.6" cy="215.5" r="1.1"/><circle cx="413.7" cy="226.9" r="1.0"/><circle cx="472.8" cy="236.6" r="1.0"/><circle cx="428.1" cy="237.8" r="1.7"/><circle cx="463.6" cy="221.5" r="1.5"/><circle cx="457.7" cy="248.4" r="1.3"/><circle cx="467.4" cy="275.7" r="1.3"/><circle cx="466.0" cy="249.8" r="1.4"/><circle cx="445.3" cy="245.8" r="1.3"/><circle cx="472.7" cy="235.2" r="1.7"/><circle cx="453.9" cy="279.9" r="1.5"/><circle cx="493.0" cy="266.5" r="1.2"/><circle cx="446.7" cy="260.7" r="1.6"/><circle cx="483.2" cy="223.6" r="0.9"/><circle cx="421.7" cy="220.1" r="0.9"/><circle cx="413.3" cy="232.9" r="0.9"/><circle cx="470.2" cy="261.3" r="1.8"/><circle cx="493.4" cy="271.5" r="1.7"/><circle cx="415.0" cy="231.3" r="1.7"/><circle cx="452.6" cy="229.6" r="1.6"/><circle cx="448.2" cy="255.7" r="1.1"/><circle cx="432.9" cy="220.4" r="1.4"/><circle cx="492.7" cy="290.1" r="1.6"/><circle cx="491.1" cy="241.7" r="1.1"/><circle cx="490.3" cy="260.1" r="1.5"/><circle cx="413.7" cy="231.3" r="1.3"/><circle cx="474.1" cy="277.6" r="1.6"/><circle cx="441.2" cy="243.2" r="1.7"/><circle cx="495.8" cy="251.2" r="1.0"/><circle cx="465.1" cy="255.1" r="1.2"/><circle cx="432.0" cy="243.5" r="1.4"/><circle cx="423.3" cy="255.5" r="1.8"/><circle cx="475.2" cy="233.1" r="1.2"/><circle cx="421.2" cy="270.7" r="1.4"/><circle cx="427.1" cy="256.1" r="1.4"/><circle cx="461.1" cy="242.9" r="1.1"/><circle cx="442.4" cy="290.9" r="1.1"/><circle cx="454.9" cy="249.2" r="1.0"/><circle cx="446.2" cy="229.5" r="1.1"/><circle cx="443.5" cy="240.7" r="1.7"/><circle cx="437.6" cy="239.4" r="1.5"/><circle cx="446.0" cy="253.6" r="1.4"/><circle cx="418.8" cy="265.6" r="0.9"/><circle cx="433.6" cy="276.4" r="1.8"/><circle cx="469.3" cy="226.9" r="1.2"/><circle cx="436.4" cy="278.8" r="1.0"/><circle cx="429.1" cy="263.1" r="1.4"/><circle cx="462.2" cy="250.7" r="1.8"/><circle cx="451.2" cy="286.2" r="1.2"/><circle cx="451.7" cy="241.5" r="1.5"/><circle cx="475.8" cy="232.1" r="1.3"/><circle cx="473.7" cy="252.5" r="1.5"/><circle cx="464.4" cy="269.0" r="1.2"/><circle cx="438.4" cy="215.5" r="1.7"/><circle cx="479.0" cy="243.8" r="1.8"/><circle cx="488.5" cy="225.3" r="1.6"/><circle cx="448.0" cy="238.0" r="1.1"/><circle cx="447.4" cy="217.6" r="0.9"/><circle cx="422.4" cy="237.4" r="1.0"/><circle cx="422.8" cy="278.1" r="1.2"/><circle cx="453.8" cy="260.2" r="1.7"/><circle cx="424.9" cy="231.3" r="1.7"/><circle cx="489.1" cy="285.8" r="1.3"/></g>
<g fill="#b0799a"><circle cx="426.9" cy="279.9" r="1.0"/><circle cx="442.6" cy="235.0" r="1.1"/><circle cx="414.1" cy="236.3" r="0.9"/><circle cx="487.4" cy="237.3" r="1.3"/><circle cx="473.8" cy="291.9" r="0.8"/><circle cx="446.8" cy="225.9" r="0.9"/><circle cx="497.6" cy="267.4" r="1.0"/><circle cx="465.8" cy="265.6" r="0.8"/><circle cx="445.2" cy="256.3" r="1.0"/><circle cx="469.8" cy="213.1" r="1.1"/><circle cx="468.0" cy="269.4" r="1.0"/><circle cx="412.8" cy="238.8" r="0.8"/><circle cx="411.0" cy="218.5" r="0.8"/><circle cx="478.0" cy="243.1" r="0.8"/><circle cx="436.9" cy="270.9" r="0.7"/><circle cx="496.7" cy="286.7" r="0.9"/><circle cx="415.9" cy="222.6" r="1.1"/><circle cx="495.8" cy="262.3" r="1.2"/><circle cx="491.5" cy="213.9" r="0.7"/><circle cx="475.3" cy="274.2" r="1.3"/><circle cx="470.1" cy="291.9" r="1.0"/><circle cx="446.3" cy="262.8" r="1.3"/><circle cx="435.3" cy="260.1" r="0.8"/><circle cx="483.3" cy="279.1" r="0.8"/><circle cx="465.8" cy="248.8" r="1.1"/><circle cx="411.1" cy="263.7" r="1.0"/><circle cx="491.4" cy="213.8" r="1.0"/><circle cx="465.8" cy="255.7" r="1.2"/><circle cx="482.4" cy="242.1" r="1.3"/><circle cx="478.3" cy="259.1" r="0.9"/><circle cx="492.8" cy="268.3" r="0.9"/><circle cx="461.4" cy="272.8" r="1.0"/><circle cx="463.4" cy="277.4" r="0.9"/><circle cx="470.1" cy="271.8" r="1.0"/><circle cx="435.0" cy="244.8" r="1.3"/><circle cx="433.9" cy="266.5" r="1.3"/><circle cx="478.2" cy="213.5" r="1.2"/><circle cx="442.4" cy="226.9" r="0.9"/><circle cx="455.4" cy="237.3" r="1.3"/><circle cx="411.6" cy="257.2" r="0.9"/><circle cx="439.5" cy="274.4" r="0.8"/><circle cx="457.1" cy="264.6" r="1.0"/><circle cx="439.0" cy="215.8" r="1.0"/><circle cx="448.5" cy="275.0" r="0.7"/><circle cx="433.5" cy="270.1" r="0.9"/><circle cx="460.7" cy="283.2" r="0.8"/><circle cx="442.4" cy="268.0" r="0.9"/><circle cx="466.1" cy="230.1" r="0.9"/><circle cx="442.7" cy="244.5" r="0.8"/><circle cx="432.0" cy="215.8" r="0.7"/><circle cx="411.0" cy="222.2" r="1.0"/><circle cx="460.1" cy="240.2" r="1.0"/><circle cx="493.4" cy="247.1" r="0.8"/><circle cx="485.9" cy="250.6" r="0.9"/><circle cx="437.9" cy="233.7" r="1.0"/><circle cx="458.4" cy="242.5" r="0.8"/><circle cx="478.1" cy="224.0" r="0.8"/><circle cx="465.4" cy="263.5" r="0.9"/><circle cx="433.6" cy="239.6" r="0.9"/><circle cx="486.9" cy="289.4" r="0.8"/><circle cx="493.7" cy="284.7" r="1.0"/><circle cx="456.6" cy="265.6" r="1.3"/><circle cx="488.4" cy="291.2" r="0.9"/><circle cx="439.9" cy="283.7" r="1.1"/><circle cx="426.5" cy="228.0" r="1.0"/><circle cx="486.9" cy="265.5" r="1.2"/><circle cx="459.8" cy="267.8" r="0.8"/><circle cx="483.2" cy="286.4" r="1.0"/><circle cx="434.6" cy="289.7" r="1.2"/><circle cx="494.7" cy="241.7" r="1.1"/><circle cx="459.0" cy="283.9" r="0.7"/><circle cx="478.2" cy="248.7" r="0.9"/><circle cx="490.8" cy="278.8" r="1.2"/><circle cx="478.5" cy="219.2" r="1.0"/><circle cx="420.2" cy="276.8" r="1.3"/><circle cx="453.5" cy="219.0" r="1.2"/><circle cx="430.0" cy="279.4" r="0.8"/><circle cx="424.9" cy="275.2" r="0.8"/><circle cx="412.4" cy="269.9" r="0.8"/><circle cx="493.0" cy="229.5" r="1.1"/><circle cx="469.0" cy="250.4" r="1.3"/><circle cx="452.6" cy="279.5" r="1.1"/><circle cx="428.1" cy="252.3" r="0.9"/><circle cx="484.8" cy="234.2" r="1.2"/><circle cx="453.8" cy="219.1" r="0.8"/><circle cx="484.2" cy="233.9" r="1.0"/><circle cx="474.1" cy="284.2" r="0.8"/><circle cx="433.2" cy="234.0" r="1.0"/><circle cx="421.5" cy="243.6" r="1.3"/><circle cx="446.6" cy="226.1" r="1.2"/><circle cx="415.7" cy="240.8" r="1.2"/><circle cx="474.2" cy="282.3" r="1.2"/><circle cx="489.4" cy="259.0" r="1.0"/><circle cx="420.2" cy="254.8" r="1.3"/><circle cx="420.2" cy="281.2" r="0.9"/><circle cx="427.2" cy="275.1" r="1.2"/><circle cx="439.6" cy="222.7" r="0.8"/><circle cx="473.4" cy="253.9" r="1.1"/><circle cx="491.8" cy="264.8" r="0.9"/><circle cx="429.3" cy="251.7" r="0.8"/><circle cx="437.1" cy="217.2" r="0.8"/><circle cx="481.1" cy="270.7" r="1.0"/><circle cx="450.3" cy="222.1" r="1.2"/><circle cx="464.3" cy="286.8" r="0.9"/><circle cx="494.3" cy="255.0" r="1.3"/><circle cx="497.8" cy="243.5" r="0.8"/><circle cx="419.3" cy="270.4" r="1.1"/><circle cx="454.0" cy="247.8" r="1.0"/><circle cx="481.5" cy="224.8" r="0.9"/><circle cx="444.3" cy="262.3" r="0.8"/><circle cx="475.7" cy="232.4" r="1.2"/><circle cx="483.9" cy="274.6" r="1.1"/><circle cx="440.1" cy="212.0" r="0.8"/><circle cx="464.9" cy="273.4" r="1.2"/><circle cx="417.9" cy="275.8" r="1.1"/><circle cx="460.0" cy="250.5" r="1.0"/><circle cx="473.4" cy="258.2" r="1.3"/><circle cx="412.6" cy="233.5" r="0.9"/><circle cx="494.6" cy="289.3" r="1.2"/><circle cx="411.7" cy="245.2" r="1.0"/><circle cx="413.1" cy="215.5" r="1.2"/><circle cx="487.1" cy="240.1" r="1.0"/><circle cx="437.9" cy="224.9" r="1.1"/><circle cx="437.9" cy="265.3" r="1.3"/><circle cx="468.9" cy="292.6" r="0.8"/><circle cx="440.7" cy="216.1" r="1.0"/><circle cx="497.6" cy="279.9" r="1.2"/><circle cx="460.3" cy="254.7" r="0.7"/><circle cx="480.8" cy="262.1" r="0.8"/><circle cx="479.3" cy="262.4" r="0.8"/><circle cx="458.1" cy="267.2" r="0.8"/><circle cx="435.5" cy="285.4" r="1.3"/><circle cx="493.9" cy="216.6" r="1.1"/><circle cx="433.9" cy="292.6" r="1.2"/><circle cx="428.5" cy="280.6" r="1.0"/><circle cx="461.7" cy="223.1" r="1.2"/><circle cx="433.5" cy="278.5" r="1.2"/><circle cx="498.0" cy="285.9" r="1.2"/><circle cx="477.5" cy="213.8" r="0.9"/><circle cx="496.1" cy="237.9" r="1.1"/><circle cx="453.2" cy="288.8" r="0.8"/><circle cx="429.8" cy="256.5" r="1.3"/><circle cx="459.0" cy="245.2" r="1.0"/><circle cx="453.4" cy="266.4" r="1.1"/><circle cx="440.0" cy="290.5" r="1.2"/><circle cx="494.5" cy="291.8" r="0.8"/><circle cx="474.5" cy="279.6" r="1.1"/><circle cx="424.9" cy="235.9" r="1.1"/><circle cx="419.5" cy="225.8" r="1.1"/><circle cx="477.3" cy="252.0" r="0.8"/><circle cx="453.2" cy="242.6" r="1.2"/><circle cx="440.0" cy="273.0" r="0.9"/><circle cx="427.0" cy="231.9" r="0.9"/><circle cx="498.6" cy="227.0" r="0.9"/><circle cx="426.2" cy="278.9" r="1.1"/><circle cx="495.5" cy="250.3" r="0.8"/><circle cx="443.4" cy="268.1" r="1.0"/><circle cx="474.9" cy="250.8" r="1.2"/><circle cx="474.6" cy="285.3" r="1.2"/><circle cx="452.9" cy="282.7" r="1.1"/><circle cx="413.6" cy="245.2" r="1.3"/><circle cx="486.3" cy="247.3" r="1.3"/><circle cx="455.9" cy="223.8" r="1.1"/><circle cx="433.4" cy="249.8" r="1.0"/><circle cx="443.3" cy="234.2" r="1.2"/><circle cx="494.9" cy="286.5" r="0.7"/><circle cx="441.6" cy="290.3" r="1.1"/><circle cx="423.3" cy="281.9" r="0.8"/><circle cx="425.3" cy="263.2" r="0.9"/><circle cx="458.6" cy="263.8" r="1.1"/><circle cx="483.5" cy="237.4" r="0.8"/><circle cx="459.5" cy="287.9" r="0.8"/><circle cx="442.0" cy="264.3" r="1.1"/><circle cx="457.4" cy="217.6" r="0.9"/><circle cx="491.5" cy="246.7" r="0.8"/><circle cx="476.6" cy="215.4" r="1.3"/><circle cx="487.2" cy="278.5" r="1.0"/><circle cx="447.7" cy="218.9" r="1.2"/><circle cx="421.2" cy="261.5" r="1.0"/><circle cx="423.9" cy="217.3" r="0.9"/><circle cx="439.9" cy="242.9" r="0.8"/><circle cx="472.0" cy="255.8" r="1.0"/><circle cx="483.3" cy="234.3" r="1.2"/><circle cx="492.9" cy="283.6" r="1.0"/><circle cx="417.9" cy="267.9" r="0.8"/><circle cx="447.4" cy="284.6" r="1.1"/><circle cx="420.9" cy="258.9" r="0.9"/><circle cx="414.8" cy="229.3" r="1.1"/><circle cx="448.7" cy="258.2" r="1.1"/><circle cx="424.4" cy="257.3" r="1.2"/><circle cx="417.8" cy="286.6" r="1.0"/><circle cx="452.4" cy="222.0" r="0.8"/><circle cx="417.0" cy="270.4" r="1.2"/><circle cx="483.3" cy="265.5" r="1.2"/><circle cx="436.1" cy="223.9" r="0.8"/><circle cx="411.0" cy="272.6" r="1.2"/><circle cx="425.0" cy="216.1" r="1.1"/><circle cx="472.4" cy="264.8" r="0.9"/><circle cx="491.0" cy="236.9" r="0.9"/><circle cx="417.9" cy="279.9" r="0.9"/><circle cx="437.4" cy="260.8" r="1.2"/><circle cx="489.7" cy="266.5" r="0.8"/><circle cx="496.9" cy="212.7" r="1.0"/><circle cx="448.3" cy="292.1" r="0.8"/><circle cx="455.0" cy="217.7" r="0.9"/><circle cx="460.6" cy="284.2" r="0.9"/><circle cx="423.2" cy="281.6" r="1.0"/><circle cx="437.1" cy="258.2" r="1.1"/><circle cx="466.0" cy="247.0" r="1.0"/><circle cx="452.0" cy="286.3" r="1.2"/><circle cx="440.2" cy="221.8" r="1.0"/><circle cx="490.5" cy="219.4" r="0.8"/><circle cx="461.7" cy="280.7" r="1.0"/><circle cx="477.5" cy="271.3" r="0.9"/><circle cx="450.2" cy="283.3" r="1.0"/><circle cx="494.6" cy="276.8" r="1.0"/><circle cx="473.9" cy="275.1" r="1.0"/><circle cx="414.5" cy="269.0" r="0.9"/><circle cx="497.7" cy="263.3" r="1.1"/><circle cx="424.1" cy="253.1" r="1.3"/><circle cx="454.0" cy="222.9" r="1.2"/><circle cx="425.1" cy="253.5" r="0.8"/><circle cx="480.5" cy="253.1" r="1.0"/><circle cx="457.2" cy="272.7" r="1.1"/><circle cx="417.6" cy="248.0" r="1.2"/><circle cx="460.4" cy="223.3" r="1.2"/><circle cx="421.7" cy="277.2" r="1.0"/><circle cx="431.0" cy="287.3" r="1.1"/><circle cx="433.5" cy="286.4" r="0.9"/><circle cx="429.8" cy="216.4" r="0.9"/><circle cx="469.1" cy="228.4" r="1.2"/><circle cx="497.5" cy="255.1" r="1.2"/><circle cx="475.7" cy="234.3" r="0.7"/><circle cx="461.6" cy="237.6" r="0.9"/><circle cx="447.0" cy="272.3" r="1.2"/><circle cx="423.0" cy="266.2" r="1.0"/><circle cx="437.8" cy="281.6" r="0.8"/><circle cx="484.0" cy="239.7" r="1.3"/><circle cx="486.1" cy="264.2" r="1.0"/><circle cx="442.3" cy="215.6" r="1.0"/><circle cx="414.7" cy="237.9" r="1.0"/><circle cx="417.2" cy="227.4" r="1.1"/><circle cx="469.3" cy="274.8" r="1.2"/><circle cx="472.6" cy="238.5" r="0.9"/><circle cx="477.5" cy="250.8" r="0.9"/><circle cx="473.1" cy="251.8" r="1.1"/><circle cx="435.4" cy="259.4" r="1.3"/><circle cx="453.4" cy="234.7" r="0.7"/><circle cx="488.7" cy="279.2" r="1.3"/><circle cx="468.4" cy="245.0" r="1.2"/><circle cx="470.0" cy="288.8" r="0.8"/><circle cx="471.4" cy="261.4" r="1.0"/><circle cx="425.8" cy="219.6" r="0.9"/><circle cx="456.5" cy="255.2" r="0.8"/><circle cx="491.0" cy="213.4" r="1.1"/><circle cx="416.1" cy="232.4" r="0.7"/><circle cx="467.5" cy="237.5" r="1.0"/><circle cx="473.7" cy="252.1" r="1.1"/><circle cx="495.0" cy="253.3" r="0.7"/><circle cx="421.9" cy="214.1" r="0.8"/><circle cx="496.3" cy="261.4" r="1.2"/><circle cx="491.5" cy="220.6" r="1.2"/><circle cx="485.9" cy="221.3" r="0.9"/><circle cx="451.5" cy="238.7" r="1.1"/><circle cx="489.8" cy="270.5" r="1.1"/><circle cx="418.7" cy="240.7" r="1.0"/><circle cx="421.1" cy="269.9" r="1.0"/><circle cx="415.7" cy="231.1" r="1.1"/><circle cx="431.9" cy="235.3" r="0.7"/><circle cx="459.9" cy="281.7" r="0.8"/><circle cx="465.8" cy="278.8" r="0.9"/><circle cx="497.9" cy="279.5" r="0.8"/><circle cx="488.7" cy="279.7" r="0.9"/><circle cx="423.1" cy="227.5" r="0.7"/><circle cx="459.7" cy="222.1" r="1.3"/><circle cx="453.4" cy="227.6" r="0.9"/><circle cx="451.6" cy="245.3" r="1.0"/><circle cx="430.8" cy="221.4" r="0.8"/><circle cx="477.9" cy="266.5" r="0.7"/><circle cx="461.0" cy="254.3" r="1.0"/><circle cx="457.6" cy="262.6" r="1.1"/><circle cx="475.6" cy="285.7" r="1.1"/><circle cx="433.2" cy="288.3" r="0.9"/><circle cx="433.3" cy="284.3" r="0.7"/><circle cx="420.6" cy="268.1" r="0.7"/><circle cx="441.8" cy="254.6" r="1.2"/><circle cx="460.7" cy="237.2" r="1.1"/><circle cx="438.9" cy="232.7" r="1.3"/><circle cx="482.3" cy="282.0" r="0.9"/><circle cx="473.0" cy="243.9" r="1.1"/><circle cx="469.5" cy="284.0" r="1.2"/><circle cx="493.5" cy="281.7" r="1.2"/><circle cx="437.3" cy="270.9" r="0.9"/><circle cx="436.2" cy="214.8" r="0.9"/><circle cx="417.7" cy="238.1" r="1.0"/><circle cx="429.6" cy="268.8" r="1.2"/><circle cx="426.4" cy="214.4" r="1.2"/><circle cx="454.6" cy="214.6" r="1.2"/><circle cx="459.4" cy="234.4" r="0.7"/><circle cx="435.8" cy="212.0" r="0.7"/><circle cx="477.9" cy="225.6" r="1.2"/><circle cx="441.8" cy="272.2" r="0.9"/><circle cx="442.9" cy="263.8" r="1.3"/><circle cx="431.1" cy="233.7" r="1.2"/></g>
<g fill="#a26a8c"><circle cx="442.9" cy="227.0" r="1.2"/><circle cx="485.2" cy="242.0" r="0.7"/><circle cx="483.3" cy="221.0" r="0.7"/><circle cx="423.8" cy="275.7" r="0.8"/><circle cx="483.4" cy="281.7" r="1.2"/><circle cx="431.7" cy="256.0" r="1.2"/><circle cx="418.3" cy="289.7" r="1.1"/><circle cx="452.9" cy="228.2" r="1.1"/><circle cx="445.0" cy="239.0" r="1.2"/><circle cx="470.3" cy="259.7" r="1.0"/><circle cx="445.1" cy="227.9" r="1.1"/><circle cx="423.3" cy="255.7" r="1.1"/><circle cx="475.0" cy="251.1" r="0.8"/><circle cx="418.4" cy="288.1" r="0.8"/><circle cx="496.7" cy="252.0" r="1.2"/><circle cx="414.3" cy="279.4" r="1.3"/><circle cx="466.1" cy="274.2" r="1.1"/><circle cx="423.0" cy="236.0" r="0.8"/><circle cx="480.5" cy="217.2" r="1.2"/><circle cx="474.1" cy="221.3" r="1.0"/><circle cx="412.4" cy="239.0" r="0.9"/><circle cx="430.6" cy="220.5" r="0.7"/><circle cx="453.0" cy="281.1" r="1.0"/><circle cx="478.7" cy="238.5" r="1.2"/><circle cx="425.7" cy="247.3" r="0.7"/><circle cx="492.3" cy="220.0" r="1.2"/><circle cx="458.3" cy="223.4" r="1.0"/><circle cx="487.7" cy="291.0" r="1.2"/><circle cx="448.8" cy="266.9" r="0.9"/><circle cx="473.0" cy="237.2" r="0.9"/><circle cx="465.9" cy="283.4" r="0.7"/><circle cx="476.8" cy="217.0" r="1.1"/><circle cx="452.9" cy="266.7" r="0.9"/><circle cx="470.5" cy="281.0" r="0.9"/><circle cx="434.4" cy="282.8" r="1.0"/><circle cx="456.7" cy="249.4" r="1.0"/><circle cx="435.3" cy="213.8" r="1.0"/><circle cx="458.4" cy="289.2" r="0.8"/><circle cx="454.5" cy="271.8" r="1.2"/><circle cx="447.9" cy="263.6" r="1.2"/><circle cx="413.4" cy="284.6" r="0.7"/><circle cx="433.4" cy="225.0" r="1.2"/><circle cx="445.2" cy="287.3" r="1.2"/><circle cx="442.7" cy="239.2" r="1.0"/><circle cx="447.9" cy="256.9" r="1.3"/><circle cx="410.9" cy="256.5" r="0.9"/><circle cx="416.3" cy="284.7" r="1.0"/><circle cx="489.9" cy="272.4" r="1.0"/><circle cx="436.4" cy="270.0" r="1.0"/><circle cx="479.5" cy="217.5" r="1.3"/><circle cx="494.5" cy="262.3" r="1.3"/><circle cx="461.6" cy="245.6" r="1.3"/><circle cx="435.3" cy="226.5" r="0.7"/><circle cx="419.2" cy="230.8" r="1.3"/><circle cx="425.0" cy="221.3" r="0.8"/><circle cx="467.6" cy="279.9" r="0.9"/><circle cx="471.7" cy="242.2" r="0.8"/><circle cx="424.0" cy="233.9" r="1.0"/><circle cx="464.1" cy="211.6" r="1.1"/><circle cx="444.9" cy="284.6" r="1.3"/><circle cx="469.6" cy="239.0" r="1.2"/><circle cx="482.1" cy="254.4" r="0.9"/><circle cx="426.3" cy="265.8" r="1.2"/><circle cx="472.3" cy="270.5" r="0.7"/><circle cx="428.7" cy="267.0" r="0.8"/><circle cx="435.9" cy="279.6" r="0.9"/><circle cx="491.1" cy="231.7" r="1.0"/><circle cx="451.5" cy="239.3" r="1.1"/><circle cx="434.9" cy="267.5" r="1.0"/><circle cx="459.3" cy="246.3" r="0.9"/><circle cx="455.7" cy="251.1" r="1.1"/><circle cx="430.0" cy="281.9" r="1.1"/><circle cx="457.6" cy="280.6" r="0.9"/><circle cx="493.6" cy="220.6" r="0.9"/><circle cx="485.4" cy="227.1" r="0.8"/><circle cx="468.6" cy="269.6" r="1.1"/><circle cx="419.3" cy="240.9" r="1.3"/><circle cx="491.8" cy="234.6" r="0.8"/><circle cx="481.0" cy="281.0" r="0.7"/><circle cx="420.0" cy="263.9" r="1.1"/><circle cx="475.8" cy="218.5" r="1.0"/><circle cx="424.1" cy="245.3" r="1.0"/><circle cx="417.1" cy="227.9" r="0.7"/><circle cx="424.5" cy="221.6" r="1.2"/><circle cx="440.0" cy="223.3" r="0.9"/><circle cx="494.4" cy="271.4" r="1.2"/><circle cx="474.6" cy="261.6" r="1.2"/><circle cx="469.5" cy="286.9" r="1.2"/><circle cx="418.8" cy="243.3" r="1.3"/><circle cx="431.0" cy="286.6" r="1.0"/><circle cx="413.9" cy="283.2" r="0.9"/><circle cx="442.3" cy="243.4" r="1.2"/><circle cx="444.0" cy="234.4" r="0.7"/><circle cx="413.1" cy="238.8" r="0.7"/><circle cx="497.9" cy="228.0" r="1.2"/><circle cx="413.1" cy="285.3" r="1.2"/><circle cx="462.8" cy="243.8" r="1.0"/><circle cx="426.2" cy="233.3" r="1.1"/><circle cx="428.9" cy="259.5" r="1.1"/><circle cx="468.0" cy="275.0" r="0.7"/><circle cx="445.6" cy="274.5" r="0.8"/><circle cx="476.8" cy="219.2" r="0.8"/><circle cx="490.0" cy="268.9" r="1.1"/><circle cx="474.0" cy="254.1" r="1.1"/><circle cx="437.4" cy="252.8" r="1.2"/><circle cx="488.5" cy="280.9" r="1.1"/><circle cx="476.3" cy="237.1" r="0.8"/><circle cx="451.1" cy="234.6" r="1.0"/><circle cx="486.7" cy="231.0" r="0.9"/><circle cx="471.4" cy="269.4" r="1.1"/><circle cx="486.3" cy="260.8" r="0.9"/><circle cx="491.7" cy="260.3" r="0.8"/><circle cx="414.2" cy="257.4" r="1.0"/><circle cx="436.2" cy="227.3" r="0.9"/><circle cx="493.0" cy="261.6" r="0.8"/><circle cx="491.6" cy="288.0" r="1.2"/><circle cx="454.1" cy="227.5" r="1.1"/><circle cx="493.1" cy="227.7" r="1.3"/><circle cx="438.9" cy="278.1" r="0.9"/><circle cx="463.8" cy="247.0" r="1.1"/><circle cx="473.1" cy="219.1" r="0.8"/><circle cx="430.5" cy="214.3" r="0.9"/><circle cx="492.2" cy="287.8" r="0.8"/><circle cx="489.4" cy="244.9" r="0.9"/><circle cx="469.6" cy="240.2" r="0.8"/><circle cx="470.2" cy="268.9" r="1.3"/><circle cx="420.9" cy="216.9" r="1.0"/><circle cx="415.5" cy="274.8" r="1.2"/><circle cx="421.3" cy="282.2" r="0.9"/><circle cx="440.4" cy="234.4" r="1.1"/><circle cx="443.9" cy="273.6" r="0.9"/><circle cx="411.3" cy="264.4" r="0.7"/><circle cx="449.2" cy="237.5" r="0.9"/><circle cx="429.2" cy="240.1" r="1.0"/><circle cx="496.5" cy="253.1" r="1.0"/><circle cx="498.5" cy="277.5" r="1.0"/><circle cx="467.8" cy="217.7" r="1.2"/><circle cx="481.0" cy="269.7" r="1.2"/><circle cx="435.9" cy="246.6" r="1.2"/><circle cx="459.7" cy="230.3" r="1.3"/><circle cx="467.9" cy="239.6" r="0.8"/><circle cx="487.1" cy="270.6" r="0.7"/><circle cx="431.2" cy="247.3" r="1.3"/><circle cx="435.0" cy="241.0" r="0.9"/><circle cx="431.5" cy="262.2" r="1.1"/><circle cx="420.8" cy="248.3" r="1.1"/><circle cx="488.6" cy="214.2" r="1.0"/><circle cx="433.4" cy="273.7" r="1.2"/><circle cx="414.6" cy="274.8" r="1.2"/><circle cx="437.5" cy="262.8" r="1.2"/><circle cx="417.6" cy="270.7" r="1.1"/><circle cx="453.6" cy="224.5" r="1.1"/><circle cx="493.4" cy="242.0" r="1.0"/><circle cx="459.7" cy="216.2" r="0.9"/><circle cx="440.6" cy="290.2" r="1.0"/><circle cx="445.2" cy="251.7" r="0.9"/><circle cx="462.0" cy="245.6" r="0.8"/><circle cx="423.5" cy="225.8" r="0.8"/><circle cx="426.1" cy="213.9" r="0.8"/><circle cx="459.2" cy="287.9" r="1.1"/><circle cx="440.8" cy="276.0" r="0.7"/><circle cx="421.3" cy="223.9" r="1.1"/><circle cx="435.6" cy="285.3" r="0.8"/><circle cx="457.0" cy="241.7" r="1.0"/><circle cx="430.1" cy="229.3" r="0.9"/><circle cx="471.0" cy="253.2" r="1.1"/><circle cx="458.1" cy="265.1" r="1.2"/><circle cx="485.6" cy="223.5" r="0.7"/><circle cx="465.1" cy="213.3" r="0.8"/><circle cx="481.2" cy="292.1" r="1.2"/><circle cx="442.4" cy="218.8" r="1.0"/><circle cx="466.3" cy="266.1" r="0.8"/><circle cx="413.6" cy="252.5" r="0.9"/><circle cx="459.0" cy="277.0" r="1.0"/><circle cx="497.2" cy="242.8" r="1.2"/><circle cx="445.0" cy="249.9" r="1.2"/><circle cx="437.1" cy="250.6" r="1.1"/><circle cx="452.5" cy="227.1" r="0.8"/><circle cx="465.9" cy="222.6" r="0.8"/><circle cx="436.2" cy="257.8" r="1.0"/><circle cx="491.4" cy="251.1" r="0.8"/><circle cx="421.1" cy="252.8" r="1.1"/><circle cx="457.2" cy="287.0" r="1.3"/><circle cx="484.4" cy="283.5" r="1.3"/><circle cx="421.6" cy="273.3" r="1.3"/><circle cx="413.8" cy="285.0" r="0.8"/><circle cx="461.9" cy="224.2" r="1.1"/><circle cx="447.3" cy="254.2" r="1.0"/><circle cx="463.3" cy="271.2" r="1.1"/><circle cx="457.5" cy="243.0" r="0.9"/><circle cx="442.6" cy="223.2" r="1.3"/><circle cx="492.2" cy="268.5" r="1.1"/><circle cx="464.1" cy="218.3" r="1.1"/><circle cx="468.5" cy="224.2" r="0.8"/><circle cx="419.5" cy="269.7" r="1.2"/><circle cx="452.6" cy="288.1" r="1.2"/><circle cx="422.1" cy="288.2" r="1.0"/><circle cx="437.0" cy="269.7" r="1.2"/><circle cx="475.3" cy="281.5" r="1.0"/><circle cx="488.8" cy="225.1" r="1.1"/><circle cx="441.3" cy="265.2" r="1.0"/><circle cx="467.4" cy="273.0" r="1.3"/><circle cx="427.0" cy="265.3" r="1.0"/><circle cx="448.5" cy="288.1" r="0.8"/><circle cx="436.7" cy="279.4" r="1.0"/><circle cx="427.7" cy="248.1" r="1.2"/><circle cx="411.8" cy="244.0" r="1.2"/><circle cx="472.2" cy="229.5" r="1.2"/><circle cx="438.9" cy="228.6" r="1.2"/><circle cx="450.1" cy="262.5" r="0.9"/><circle cx="424.3" cy="224.6" r="0.8"/><circle cx="423.2" cy="265.5" r="0.7"/><circle cx="450.1" cy="255.5" r="1.2"/><circle cx="490.6" cy="224.9" r="1.1"/><circle cx="441.1" cy="228.4" r="1.1"/><circle cx="476.5" cy="261.2" r="0.8"/><circle cx="455.8" cy="221.1" r="0.8"/><circle cx="440.0" cy="261.6" r="0.7"/><circle cx="441.5" cy="231.4" r="1.2"/><circle cx="462.3" cy="247.2" r="1.0"/><circle cx="463.9" cy="212.4" r="0.9"/><circle cx="465.1" cy="264.8" r="1.1"/><circle cx="420.7" cy="229.9" r="1.1"/><circle cx="458.0" cy="240.5" r="1.2"/><circle cx="456.6" cy="212.7" r="1.1"/><circle cx="483.8" cy="249.7" r="1.0"/><circle cx="447.3" cy="254.3" r="0.8"/><circle cx="423.4" cy="220.0" r="0.9"/><circle cx="440.3" cy="218.2" r="1.2"/><circle cx="459.0" cy="233.7" r="0.9"/><circle cx="477.7" cy="226.8" r="1.1"/><circle cx="419.9" cy="228.4" r="0.8"/><circle cx="447.9" cy="237.6" r="0.8"/><circle cx="457.8" cy="246.5" r="1.0"/><circle cx="450.7" cy="233.4" r="1.3"/><circle cx="479.6" cy="271.8" r="0.8"/><circle cx="494.4" cy="246.7" r="0.9"/><circle cx="455.6" cy="227.4" r="1.0"/><circle cx="482.7" cy="253.0" r="0.9"/><circle cx="440.4" cy="289.5" r="1.2"/><circle cx="492.5" cy="292.8" r="1.2"/><circle cx="442.5" cy="225.5" r="0.9"/><circle cx="444.0" cy="236.6" r="0.8"/><circle cx="489.8" cy="238.9" r="1.1"/><circle cx="420.2" cy="266.2" r="0.9"/><circle cx="485.2" cy="254.1" r="0.8"/><circle cx="432.5" cy="282.5" r="0.9"/><circle cx="412.5" cy="292.1" r="1.2"/><circle cx="429.3" cy="260.1" r="1.1"/><circle cx="429.1" cy="271.6" r="1.1"/><circle cx="450.0" cy="260.0" r="1.3"/><circle cx="445.4" cy="262.0" r="0.8"/><circle cx="437.6" cy="291.2" r="1.0"/><circle cx="492.0" cy="260.4" r="0.8"/><circle cx="487.0" cy="222.8" r="0.8"/><circle cx="475.9" cy="254.8" r="1.1"/><circle cx="411.1" cy="284.9" r="1.3"/><circle cx="424.5" cy="277.0" r="1.0"/><circle cx="451.7" cy="220.6" r="0.9"/><circle cx="422.9" cy="251.9" r="0.9"/><circle cx="485.7" cy="250.9" r="1.0"/><circle cx="486.1" cy="229.9" r="1.0"/><circle cx="421.9" cy="262.2" r="1.1"/><circle cx="456.5" cy="293.0" r="1.2"/><circle cx="446.2" cy="224.8" r="0.9"/><circle cx="432.2" cy="229.0" r="1.2"/><circle cx="416.3" cy="233.4" r="0.9"/><circle cx="494.0" cy="265.7" r="1.1"/><circle cx="439.2" cy="224.8" r="0.8"/><circle cx="425.6" cy="251.5" r="1.1"/><circle cx="438.8" cy="236.6" r="1.1"/><circle cx="449.7" cy="272.7" r="1.0"/><circle cx="427.2" cy="264.0" r="0.8"/><circle cx="471.3" cy="249.0" r="1.0"/><circle cx="497.0" cy="281.3" r="1.2"/><circle cx="483.9" cy="278.6" r="0.7"/><circle cx="476.9" cy="243.6" r="1.0"/><circle cx="483.2" cy="269.6" r="1.2"/><circle cx="436.7" cy="211.7" r="1.0"/><circle cx="446.2" cy="265.2" r="1.1"/><circle cx="478.8" cy="234.2" r="1.3"/><circle cx="469.4" cy="267.7" r="0.8"/><circle cx="423.0" cy="245.7" r="0.8"/><circle cx="486.0" cy="268.2" r="1.2"/><circle cx="433.6" cy="281.1" r="0.7"/><circle cx="420.9" cy="226.2" r="1.0"/><circle cx="453.9" cy="231.7" r="0.7"/><circle cx="451.0" cy="284.8" r="0.8"/><circle cx="474.6" cy="287.4" r="1.3"/><circle cx="460.2" cy="212.4" r="0.9"/><circle cx="467.9" cy="289.1" r="0.9"/><circle cx="474.0" cy="265.5" r="0.7"/><circle cx="495.4" cy="255.1" r="0.8"/><circle cx="457.2" cy="220.2" r="0.7"/><circle cx="437.6" cy="245.2" r="1.2"/><circle cx="458.5" cy="221.1" r="1.0"/><circle cx="435.5" cy="269.6" r="0.7"/><circle cx="470.4" cy="246.0" r="1.0"/><circle cx="493.8" cy="249.4" r="1.2"/><circle cx="478.1" cy="283.8" r="0.9"/><circle cx="464.2" cy="264.8" r="1.1"/><circle cx="434.8" cy="277.8" r="0.7"/><circle cx="428.6" cy="273.0" r="1.1"/><circle cx="479.4" cy="274.3" r="0.8"/><circle cx="456.6" cy="211.9" r="1.1"/><circle cx="487.1" cy="273.2" r="1.2"/><circle cx="490.4" cy="218.4" r="0.9"/><circle cx="456.2" cy="268.6" r="0.8"/><circle cx="431.7" cy="235.9" r="1.2"/><circle cx="449.0" cy="278.7" r="0.7"/><circle cx="418.8" cy="246.1" r="1.1"/><circle cx="448.4" cy="220.2" r="1.2"/><circle cx="440.5" cy="271.8" r="1.1"/><circle cx="459.1" cy="253.3" r="1.2"/><circle cx="448.7" cy="246.9" r="0.9"/><circle cx="411.8" cy="218.9" r="1.1"/><circle cx="467.5" cy="276.6" r="0.7"/><circle cx="424.9" cy="251.8" r="1.3"/><circle cx="442.5" cy="214.3" r="1.0"/><circle cx="455.3" cy="219.0" r="1.0"/><circle cx="435.0" cy="278.3" r="1.3"/><circle cx="473.3" cy="243.4" r="1.2"/><circle cx="468.5" cy="225.8" r="1.1"/><circle cx="424.0" cy="292.3" r="0.9"/><circle cx="461.6" cy="241.6" r="0.9"/><circle cx="427.2" cy="223.3" r="1.0"/><circle cx="472.5" cy="211.9" r="1.0"/><circle cx="417.5" cy="290.0" r="1.1"/><circle cx="424.8" cy="260.3" r="1.2"/><circle cx="443.8" cy="258.7" r="0.7"/><circle cx="491.3" cy="216.7" r="0.9"/><circle cx="490.5" cy="223.2" r="1.0"/><circle cx="420.2" cy="275.4" r="1.2"/><circle cx="426.8" cy="239.6" r="1.0"/><circle cx="423.7" cy="220.5" r="0.9"/><circle cx="419.7" cy="292.9" r="0.9"/><circle cx="489.7" cy="241.4" r="1.1"/><circle cx="492.5" cy="261.4" r="0.8"/><circle cx="468.0" cy="290.6" r="1.3"/><circle cx="478.3" cy="287.4" r="0.7"/><circle cx="497.8" cy="248.9" r="0.9"/><circle cx="463.7" cy="253.5" r="1.2"/><circle cx="483.6" cy="273.3" r="0.7"/><circle cx="454.9" cy="237.9" r="1.0"/><circle cx="493.6" cy="260.1" r="1.0"/><circle cx="437.8" cy="256.5" r="1.0"/><circle cx="459.9" cy="218.4" r="0.9"/><circle cx="444.5" cy="225.2" r="0.9"/><circle cx="412.4" cy="275.5" r="0.7"/><circle cx="471.5" cy="231.1" r="1.2"/><circle cx="480.7" cy="272.1" r="0.8"/><circle cx="426.1" cy="253.1" r="0.7"/><circle cx="417.2" cy="273.5" r="1.0"/><circle cx="483.1" cy="268.4" r="0.9"/><circle cx="464.9" cy="228.1" r="1.1"/><circle cx="430.2" cy="272.2" r="0.8"/><circle cx="498.1" cy="235.9" r="1.0"/><circle cx="488.8" cy="213.1" r="1.1"/><circle cx="490.3" cy="256.2" r="1.2"/><circle cx="419.2" cy="231.2" r="1.2"/><circle cx="417.2" cy="236.1" r="1.2"/><circle cx="451.5" cy="282.1" r="0.7"/><circle cx="450.7" cy="277.6" r="1.0"/><circle cx="442.5" cy="230.3" r="0.8"/><circle cx="453.1" cy="223.6" r="1.0"/><circle cx="415.6" cy="224.9" r="0.9"/><circle cx="474.1" cy="242.9" r="1.0"/><circle cx="445.0" cy="254.7" r="1.1"/></g>
<g fill="#bd88a7"><circle cx="459.2" cy="276.1" r="0.7"/><circle cx="412.5" cy="251.9" r="1.2"/><circle cx="480.7" cy="254.6" r="1.3"/><circle cx="479.1" cy="266.8" r="1.1"/><circle cx="472.4" cy="272.9" r="1.2"/><circle cx="494.7" cy="287.5" r="0.9"/><circle cx="498.1" cy="292.0" r="1.3"/><circle cx="479.3" cy="247.2" r="0.9"/><circle cx="415.1" cy="289.8" r="1.1"/><circle cx="456.1" cy="260.1" r="0.9"/><circle cx="417.6" cy="233.3" r="0.9"/><circle cx="479.6" cy="241.9" r="1.2"/><circle cx="498.6" cy="220.2" r="0.8"/><circle cx="427.9" cy="251.8" r="1.2"/><circle cx="451.3" cy="240.6" r="0.9"/><circle cx="443.1" cy="281.4" r="0.8"/><circle cx="465.8" cy="270.3" r="1.0"/><circle cx="467.1" cy="246.0" r="1.1"/><circle cx="433.2" cy="269.9" r="1.0"/><circle cx="492.9" cy="215.1" r="0.7"/><circle cx="494.1" cy="220.1" r="0.9"/><circle cx="427.2" cy="243.5" r="0.8"/><circle cx="453.3" cy="221.3" r="0.9"/><circle cx="455.9" cy="264.3" r="0.8"/><circle cx="464.4" cy="215.1" r="0.8"/><circle cx="419.8" cy="248.7" r="1.2"/><circle cx="436.1" cy="282.2" r="1.0"/><circle cx="430.9" cy="261.0" r="0.7"/><circle cx="446.3" cy="251.3" r="0.9"/><circle cx="451.3" cy="236.7" r="1.1"/><circle cx="448.6" cy="223.0" r="1.1"/><circle cx="472.4" cy="253.8" r="1.0"/><circle cx="481.7" cy="285.0" r="1.1"/><circle cx="451.1" cy="287.2" r="0.9"/><circle cx="497.0" cy="254.4" r="1.2"/><circle cx="437.0" cy="220.4" r="0.8"/><circle cx="469.6" cy="259.7" r="1.2"/><circle cx="419.1" cy="253.0" r="1.1"/><circle cx="460.2" cy="266.1" r="0.9"/><circle cx="468.9" cy="257.3" r="1.0"/><circle cx="447.5" cy="244.3" r="1.1"/><circle cx="424.6" cy="291.9" r="1.0"/><circle cx="476.7" cy="253.6" r="1.1"/><circle cx="423.5" cy="227.4" r="0.8"/><circle cx="481.0" cy="280.7" r="0.8"/><circle cx="427.1" cy="256.1" r="0.9"/><circle cx="486.6" cy="247.9" r="1.2"/><circle cx="462.0" cy="292.9" r="0.9"/><circle cx="420.0" cy="290.4" r="1.1"/><circle cx="483.3" cy="271.5" r="1.1"/><circle cx="490.2" cy="235.6" r="1.2"/><circle cx="459.0" cy="222.8" r="0.8"/><circle cx="437.3" cy="217.9" r="1.1"/><circle cx="410.7" cy="224.5" r="1.0"/><circle cx="486.5" cy="251.8" r="0.8"/><circle cx="493.2" cy="254.5" r="1.1"/><circle cx="492.4" cy="293.0" r="0.8"/><circle cx="479.2" cy="244.9" r="1.3"/><circle cx="449.6" cy="273.2" r="0.8"/><circle cx="420.5" cy="235.3" r="1.1"/><circle cx="429.6" cy="262.9" r="1.0"/><circle cx="443.1" cy="238.6" r="1.2"/><circle cx="424.2" cy="259.7" r="0.7"/><circle cx="428.0" cy="254.8" r="1.2"/><circle cx="469.3" cy="270.5" r="1.0"/><circle cx="474.0" cy="232.2" r="1.1"/><circle cx="494.0" cy="213.9" r="0.9"/><circle cx="439.1" cy="252.9" r="1.1"/><circle cx="493.6" cy="263.3" r="0.8"/><circle cx="459.6" cy="255.3" r="0.8"/><circle cx="488.6" cy="231.0" r="1.2"/><circle cx="423.1" cy="218.7" r="0.9"/><circle cx="438.9" cy="290.0" r="1.3"/><circle cx="461.2" cy="254.9" r="0.9"/><circle cx="472.5" cy="228.2" r="1.0"/><circle cx="417.0" cy="228.4" r="0.9"/><circle cx="436.1" cy="290.3" r="1.0"/><circle cx="434.2" cy="267.0" r="1.1"/><circle cx="497.7" cy="215.1" r="0.7"/><circle cx="411.8" cy="235.0" r="1.2"/><circle cx="422.8" cy="250.5" r="1.0"/><circle cx="484.7" cy="218.9" r="1.3"/><circle cx="429.9" cy="260.9" r="0.8"/><circle cx="437.0" cy="268.1" r="1.3"/><circle cx="439.0" cy="214.2" r="1.2"/><circle cx="430.7" cy="246.1" r="1.1"/><circle cx="485.4" cy="248.4" r="1.2"/><circle cx="433.5" cy="217.4" r="0.9"/><circle cx="413.2" cy="237.8" r="1.1"/><circle cx="447.4" cy="238.9" r="1.0"/><circle cx="419.6" cy="242.3" r="0.8"/><circle cx="420.6" cy="212.1" r="1.2"/><circle cx="444.7" cy="238.9" r="1.2"/><circle cx="455.0" cy="282.8" r="1.2"/><circle cx="439.9" cy="244.0" r="0.8"/><circle cx="463.8" cy="271.1" r="1.1"/><circle cx="462.2" cy="256.8" r="0.9"/><circle cx="436.7" cy="220.8" r="1.2"/><circle cx="420.3" cy="235.0" r="1.0"/><circle cx="497.4" cy="274.4" r="0.7"/><circle cx="417.8" cy="222.1" r="0.7"/><circle cx="426.0" cy="224.9" r="0.8"/><circle cx="486.5" cy="240.3" r="1.1"/><circle cx="465.8" cy="254.6" r="0.8"/><circle cx="473.1" cy="220.3" r="1.2"/><circle cx="420.4" cy="243.6" r="1.2"/><circle cx="484.6" cy="269.2" r="1.2"/><circle cx="417.3" cy="239.1" r="1.0"/><circle cx="434.2" cy="287.6" r="1.2"/><circle cx="411.0" cy="236.2" r="1.1"/><circle cx="424.6" cy="244.2" r="1.2"/><circle cx="444.3" cy="291.7" r="1.0"/><circle cx="463.8" cy="264.0" r="1.3"/><circle cx="426.8" cy="290.9" r="0.9"/><circle cx="471.1" cy="279.3" r="1.1"/><circle cx="436.3" cy="215.9" r="1.0"/><circle cx="492.9" cy="285.0" r="1.1"/><circle cx="472.4" cy="259.5" r="1.0"/><circle cx="494.2" cy="265.8" r="1.2"/><circle cx="483.9" cy="259.0" r="0.9"/><circle cx="435.0" cy="288.6" r="1.1"/><circle cx="474.6" cy="280.2" r="0.9"/><circle cx="426.2" cy="277.4" r="1.2"/><circle cx="443.7" cy="260.1" r="0.9"/><circle cx="484.3" cy="292.0" r="1.0"/><circle cx="471.6" cy="256.6" r="1.3"/><circle cx="497.2" cy="263.4" r="0.9"/><circle cx="451.4" cy="283.1" r="1.1"/><circle cx="489.3" cy="238.1" r="0.7"/><circle cx="411.4" cy="237.0" r="1.2"/><circle cx="475.6" cy="228.8" r="0.7"/><circle cx="430.1" cy="276.6" r="1.2"/><circle cx="455.8" cy="284.9" r="1.2"/><circle cx="436.1" cy="273.7" r="0.7"/><circle cx="474.2" cy="289.5" r="0.9"/><circle cx="425.6" cy="242.7" r="1.3"/><circle cx="452.8" cy="290.9" r="1.2"/><circle cx="454.7" cy="282.4" r="0.7"/><circle cx="433.4" cy="280.3" r="0.9"/><circle cx="455.6" cy="277.0" r="1.1"/><circle cx="447.4" cy="241.9" r="1.0"/><circle cx="436.0" cy="214.1" r="0.8"/><circle cx="453.5" cy="288.4" r="0.7"/><circle cx="423.9" cy="253.5" r="1.1"/><circle cx="476.2" cy="231.8" r="0.8"/><circle cx="495.7" cy="244.2" r="1.3"/><circle cx="426.9" cy="283.4" r="1.1"/><circle cx="488.8" cy="292.3" r="1.0"/><circle cx="433.9" cy="269.0" r="1.0"/><circle cx="476.2" cy="277.8" r="1.1"/><circle cx="495.8" cy="285.1" r="0.9"/><circle cx="421.2" cy="287.1" r="1.2"/><circle cx="491.6" cy="255.5" r="1.2"/><circle cx="497.2" cy="272.1" r="1.3"/><circle cx="431.8" cy="226.8" r="1.1"/><circle cx="482.3" cy="213.2" r="1.0"/><circle cx="427.2" cy="231.5" r="0.8"/><circle cx="426.4" cy="257.1" r="0.7"/><circle cx="472.6" cy="273.6" r="1.1"/><circle cx="424.8" cy="245.9" r="0.8"/><circle cx="440.8" cy="227.4" r="1.3"/><circle cx="473.8" cy="261.6" r="1.1"/><circle cx="489.4" cy="285.8" r="0.9"/><circle cx="412.0" cy="275.5" r="1.1"/><circle cx="440.2" cy="235.4" r="0.9"/><circle cx="464.1" cy="235.5" r="1.2"/><circle cx="497.2" cy="281.5" r="0.7"/><circle cx="483.1" cy="240.7" r="1.0"/><circle cx="458.0" cy="286.0" r="0.8"/><circle cx="414.9" cy="265.2" r="0.7"/><circle cx="434.8" cy="287.9" r="1.0"/><circle cx="419.1" cy="278.7" r="1.1"/><circle cx="430.0" cy="261.9" r="1.2"/><circle cx="454.4" cy="285.9" r="0.9"/><circle cx="460.0" cy="264.7" r="1.0"/><circle cx="467.4" cy="245.8" r="1.0"/><circle cx="426.7" cy="279.6" r="0.9"/><circle cx="458.1" cy="232.4" r="0.8"/><circle cx="422.0" cy="244.1" r="1.2"/><circle cx="410.8" cy="286.3" r="0.8"/><circle cx="458.4" cy="254.3" r="1.1"/><circle cx="456.6" cy="241.2" r="1.1"/><circle cx="456.0" cy="237.3" r="0.7"/><circle cx="493.2" cy="271.1" r="0.8"/><circle cx="421.0" cy="234.8" r="1.1"/><circle cx="437.8" cy="249.0" r="0.7"/><circle cx="468.3" cy="266.2" r="0.9"/><circle cx="498.1" cy="258.3" r="0.9"/><circle cx="457.8" cy="291.3" r="0.7"/><circle cx="498.0" cy="273.8" r="0.7"/><circle cx="472.7" cy="243.9" r="0.9"/><circle cx="447.0" cy="283.9" r="0.8"/><circle cx="459.6" cy="276.5" r="1.0"/><circle cx="491.6" cy="226.7" r="1.0"/><circle cx="431.4" cy="256.0" r="0.8"/><circle cx="444.9" cy="292.4" r="1.0"/><circle cx="490.6" cy="270.6" r="1.1"/><circle cx="453.0" cy="231.0" r="0.9"/><circle cx="441.3" cy="280.3" r="1.0"/><circle cx="467.4" cy="236.9" r="1.0"/><circle cx="490.3" cy="259.2" r="1.0"/><circle cx="414.5" cy="290.0" r="0.9"/><circle cx="414.2" cy="264.8" r="1.3"/><circle cx="471.6" cy="219.1" r="1.0"/><circle cx="453.2" cy="270.8" r="0.9"/><circle cx="474.5" cy="235.8" r="0.7"/><circle cx="494.7" cy="231.9" r="1.1"/><circle cx="428.9" cy="242.9" r="1.2"/><circle cx="476.3" cy="253.2" r="1.1"/><circle cx="492.0" cy="258.9" r="0.9"/><circle cx="486.1" cy="237.6" r="1.2"/><circle cx="458.7" cy="211.9" r="0.9"/><circle cx="472.8" cy="287.8" r="0.9"/><circle cx="414.3" cy="290.7" r="0.9"/><circle cx="449.2" cy="222.0" r="1.0"/><circle cx="442.1" cy="285.1" r="1.1"/><circle cx="428.8" cy="233.8" r="1.3"/><circle cx="456.4" cy="228.5" r="0.8"/><circle cx="413.0" cy="282.3" r="0.7"/><circle cx="446.9" cy="247.8" r="1.1"/><circle cx="492.1" cy="253.1" r="1.1"/><circle cx="425.1" cy="255.8" r="1.2"/><circle cx="428.8" cy="249.6" r="1.1"/><circle cx="468.9" cy="226.3" r="0.8"/><circle cx="463.4" cy="255.0" r="1.0"/><circle cx="497.2" cy="238.3" r="0.8"/><circle cx="439.1" cy="240.1" r="0.8"/><circle cx="446.7" cy="276.5" r="1.2"/><circle cx="426.6" cy="214.6" r="0.9"/><circle cx="470.8" cy="237.8" r="1.3"/><circle cx="480.0" cy="282.5" r="1.2"/><circle cx="422.6" cy="229.5" r="0.7"/><circle cx="446.5" cy="228.5" r="1.1"/><circle cx="498.4" cy="230.1" r="0.9"/><circle cx="446.5" cy="291.7" r="1.1"/><circle cx="431.1" cy="280.0" r="0.7"/><circle cx="421.5" cy="271.5" r="0.9"/><circle cx="462.5" cy="263.6" r="1.2"/><circle cx="431.5" cy="248.1" r="1.0"/><circle cx="424.4" cy="260.2" r="1.2"/><circle cx="414.9" cy="289.7" r="0.9"/><circle cx="450.8" cy="277.1" r="0.7"/><circle cx="474.0" cy="256.8" r="1.3"/><circle cx="420.2" cy="256.6" r="1.1"/><circle cx="416.6" cy="227.2" r="1.2"/><circle cx="451.6" cy="279.4" r="1.1"/><circle cx="455.6" cy="227.6" r="0.8"/><circle cx="436.0" cy="259.0" r="1.3"/><circle cx="498.2" cy="271.9" r="1.1"/><circle cx="428.6" cy="258.1" r="1.1"/><circle cx="458.0" cy="278.3" r="0.9"/><circle cx="422.5" cy="282.1" r="0.7"/><circle cx="419.9" cy="237.9" r="1.0"/><circle cx="436.7" cy="293.0" r="1.2"/><circle cx="457.6" cy="245.0" r="1.1"/><circle cx="471.4" cy="274.9" r="0.9"/><circle cx="455.3" cy="249.0" r="1.1"/><circle cx="498.5" cy="287.8" r="1.2"/><circle cx="486.0" cy="289.9" r="1.1"/><circle cx="470.6" cy="214.8" r="0.9"/><circle cx="439.3" cy="234.7" r="1.3"/><circle cx="448.6" cy="289.7" r="1.1"/><circle cx="430.8" cy="250.2" r="1.0"/><circle cx="429.2" cy="281.4" r="1.2"/><circle cx="443.4" cy="275.9" r="1.2"/><circle cx="495.9" cy="290.4" r="0.7"/><circle cx="452.5" cy="272.3" r="0.8"/><circle cx="466.0" cy="257.8" r="0.9"/><circle cx="482.0" cy="289.1" r="0.8"/><circle cx="459.1" cy="233.9" r="0.8"/><circle cx="485.7" cy="275.6" r="1.0"/><circle cx="481.4" cy="277.8" r="1.1"/><circle cx="489.2" cy="266.6" r="0.8"/><circle cx="492.4" cy="260.2" r="0.9"/><circle cx="450.2" cy="292.6" r="0.7"/><circle cx="493.9" cy="229.5" r="1.2"/><circle cx="459.8" cy="215.4" r="1.0"/><circle cx="455.3" cy="278.4" r="1.1"/><circle cx="473.8" cy="233.9" r="0.9"/><circle cx="461.8" cy="242.1" r="0.8"/><circle cx="473.7" cy="213.7" r="0.8"/><circle cx="425.8" cy="213.7" r="1.2"/><circle cx="449.8" cy="237.9" r="1.1"/><circle cx="439.8" cy="235.8" r="1.2"/><circle cx="488.9" cy="245.5" r="0.9"/><circle cx="436.8" cy="227.3" r="0.8"/><circle cx="477.2" cy="218.5" r="1.1"/><circle cx="443.1" cy="233.6" r="1.2"/><circle cx="491.9" cy="247.2" r="0.8"/><circle cx="472.4" cy="244.2" r="1.1"/><circle cx="471.1" cy="221.5" r="1.2"/><circle cx="483.5" cy="290.8" r="1.0"/><circle cx="462.9" cy="292.5" r="1.0"/><circle cx="490.0" cy="258.5" r="1.0"/><circle cx="439.1" cy="253.5" r="0.8"/><circle cx="477.4" cy="233.3" r="0.8"/><circle cx="470.7" cy="262.8" r="1.1"/><circle cx="421.0" cy="233.5" r="0.9"/><circle cx="490.5" cy="246.3" r="1.0"/><circle cx="469.9" cy="269.3" r="1.1"/><circle cx="492.3" cy="258.0" r="1.2"/><circle cx="464.9" cy="215.9" r="1.0"/><circle cx="455.7" cy="243.9" r="0.9"/><circle cx="435.6" cy="272.0" r="1.2"/><circle cx="430.8" cy="218.3" r="1.2"/><circle cx="442.8" cy="237.3" r="1.1"/><circle cx="455.8" cy="266.4" r="1.3"/><circle cx="456.5" cy="248.2" r="1.1"/><circle cx="460.7" cy="217.5" r="1.2"/><circle cx="497.4" cy="228.9" r="0.7"/><circle cx="422.2" cy="279.5" r="1.1"/><circle cx="425.0" cy="233.1" r="0.7"/><circle cx="460.6" cy="267.0" r="0.8"/><circle cx="455.6" cy="259.4" r="1.0"/><circle cx="449.5" cy="286.6" r="0.8"/><circle cx="471.3" cy="257.4" r="1.0"/><circle cx="494.1" cy="287.7" r="1.3"/><circle cx="484.5" cy="234.8" r="1.2"/><circle cx="483.4" cy="283.1" r="1.3"/><circle cx="492.9" cy="279.7" r="0.9"/><circle cx="485.8" cy="276.1" r="1.2"/><circle cx="436.7" cy="276.0" r="0.7"/><circle cx="492.2" cy="231.1" r="0.8"/><circle cx="430.4" cy="273.2" r="1.0"/><circle cx="445.2" cy="279.5" r="0.7"/><circle cx="466.1" cy="251.5" r="1.0"/><circle cx="423.8" cy="279.7" r="0.8"/><circle cx="467.6" cy="282.3" r="1.2"/><circle cx="490.5" cy="222.3" r="0.8"/><circle cx="425.2" cy="261.5" r="0.7"/><circle cx="493.5" cy="251.3" r="0.7"/><circle cx="484.9" cy="232.8" r="0.8"/><circle cx="441.3" cy="230.7" r="0.8"/><circle cx="494.5" cy="267.6" r="1.0"/><circle cx="480.3" cy="270.1" r="1.1"/><circle cx="467.1" cy="268.9" r="1.1"/><circle cx="419.2" cy="248.8" r="1.1"/><circle cx="487.4" cy="213.2" r="1.0"/><circle cx="459.9" cy="253.5" r="0.8"/><circle cx="441.8" cy="236.6" r="0.9"/><circle cx="435.9" cy="235.9" r="0.9"/><circle cx="453.8" cy="215.2" r="0.9"/><circle cx="415.5" cy="242.3" r="0.8"/></g>
<g fill="#9a6184"><circle cx="458.7" cy="247.8" r="1.1"/><circle cx="418.1" cy="256.1" r="1.0"/><circle cx="484.8" cy="284.7" r="1.0"/><circle cx="430.0" cy="244.8" r="1.0"/><circle cx="412.3" cy="223.4" r="1.0"/><circle cx="435.7" cy="273.2" r="0.8"/><circle cx="418.9" cy="251.5" r="0.9"/><circle cx="483.4" cy="266.1" r="1.2"/><circle cx="492.7" cy="253.5" r="1.0"/><circle cx="480.8" cy="219.5" r="1.2"/><circle cx="439.3" cy="288.0" r="1.0"/><circle cx="449.2" cy="252.3" r="1.2"/><circle cx="488.9" cy="224.4" r="0.8"/><circle cx="497.8" cy="280.5" r="0.9"/><circle cx="417.6" cy="238.4" r="0.7"/><circle cx="491.8" cy="257.2" r="0.8"/><circle cx="427.0" cy="223.9" r="1.2"/><circle cx="425.2" cy="246.0" r="1.2"/><circle cx="439.5" cy="221.7" r="1.3"/><circle cx="459.9" cy="283.5" r="1.2"/><circle cx="497.5" cy="268.4" r="0.8"/><circle cx="490.8" cy="284.3" r="0.9"/><circle cx="449.1" cy="288.5" r="1.2"/><circle cx="492.0" cy="228.5" r="1.1"/><circle cx="423.5" cy="276.1" r="0.9"/><circle cx="455.1" cy="260.4" r="1.1"/><circle cx="428.7" cy="267.8" r="1.1"/><circle cx="482.4" cy="218.7" r="1.2"/><circle cx="414.4" cy="262.0" r="1.2"/><circle cx="477.0" cy="225.9" r="0.8"/><circle cx="491.3" cy="229.8" r="1.2"/><circle cx="422.6" cy="279.4" r="1.2"/><circle cx="447.3" cy="284.6" r="0.8"/><circle cx="498.6" cy="225.8" r="1.1"/><circle cx="482.8" cy="278.2" r="1.1"/><circle cx="482.7" cy="282.2" r="1.1"/><circle cx="443.9" cy="234.4" r="0.9"/><circle cx="424.7" cy="281.7" r="1.0"/><circle cx="413.4" cy="253.3" r="1.0"/><circle cx="492.2" cy="271.0" r="0.9"/><circle cx="492.3" cy="282.6" r="1.1"/><circle cx="477.0" cy="268.2" r="0.9"/><circle cx="469.1" cy="219.9" r="1.2"/><circle cx="479.2" cy="245.5" r="0.7"/><circle cx="497.4" cy="213.4" r="0.9"/><circle cx="419.5" cy="218.1" r="0.8"/><circle cx="472.7" cy="212.2" r="1.2"/><circle cx="480.5" cy="216.8" r="1.2"/><circle cx="486.5" cy="220.9" r="1.3"/><circle cx="452.7" cy="257.5" r="1.0"/><circle cx="422.7" cy="258.1" r="0.8"/><circle cx="461.6" cy="283.1" r="1.0"/><circle cx="479.0" cy="244.3" r="0.8"/><circle cx="455.9" cy="220.9" r="1.2"/><circle cx="469.8" cy="215.7" r="1.1"/><circle cx="421.5" cy="292.3" r="1.2"/><circle cx="421.8" cy="215.6" r="0.8"/><circle cx="476.8" cy="270.5" r="0.7"/><circle cx="475.7" cy="249.2" r="0.8"/><circle cx="461.8" cy="256.1" r="0.8"/><circle cx="472.7" cy="228.6" r="1.2"/><circle cx="415.0" cy="240.9" r="0.9"/><circle cx="420.1" cy="253.2" r="0.7"/><circle cx="446.1" cy="268.5" r="0.9"/><circle cx="428.1" cy="248.1" r="1.1"/><circle cx="420.6" cy="223.4" r="0.9"/><circle cx="416.1" cy="272.4" r="1.0"/><circle cx="467.9" cy="269.6" r="1.2"/><circle cx="464.6" cy="269.8" r="0.9"/><circle cx="416.7" cy="278.7" r="1.0"/><circle cx="431.6" cy="263.2" r="0.7"/><circle cx="459.0" cy="289.6" r="1.3"/><circle cx="453.0" cy="226.2" r="1.0"/><circle cx="416.7" cy="236.7" r="0.7"/><circle cx="412.4" cy="289.6" r="0.8"/><circle cx="432.4" cy="286.4" r="1.2"/><circle cx="453.4" cy="236.4" r="1.3"/><circle cx="485.2" cy="260.1" r="1.0"/><circle cx="423.6" cy="235.1" r="1.0"/><circle cx="468.0" cy="271.4" r="0.9"/><circle cx="469.6" cy="251.9" r="0.9"/><circle cx="418.7" cy="292.8" r="1.1"/><circle cx="433.8" cy="225.9" r="1.0"/><circle cx="461.5" cy="255.5" r="1.2"/><circle cx="415.6" cy="221.0" r="1.2"/><circle cx="483.3" cy="287.0" r="1.1"/><circle cx="460.7" cy="234.8" r="0.9"/><circle cx="456.2" cy="228.9" r="1.0"/><circle cx="434.0" cy="289.2" r="0.9"/><circle cx="444.8" cy="220.6" r="1.0"/><circle cx="440.7" cy="265.1" r="1.2"/><circle cx="445.9" cy="223.4" r="0.7"/><circle cx="450.2" cy="271.4" r="1.2"/><circle cx="466.7" cy="235.2" r="1.2"/><circle cx="494.7" cy="264.2" r="1.2"/><circle cx="475.8" cy="275.6" r="1.2"/><circle cx="497.8" cy="239.7" r="1.0"/><circle cx="480.4" cy="243.1" r="1.2"/><circle cx="475.1" cy="234.6" r="1.0"/><circle cx="481.5" cy="231.5" r="0.9"/><circle cx="446.6" cy="278.1" r="1.1"/><circle cx="446.6" cy="231.9" r="1.2"/><circle cx="446.6" cy="272.3" r="1.0"/><circle cx="415.5" cy="254.1" r="1.2"/><circle cx="447.9" cy="225.1" r="1.2"/><circle cx="489.2" cy="255.5" r="0.9"/><circle cx="457.3" cy="276.6" r="0.8"/><circle cx="483.8" cy="225.1" r="0.9"/><circle cx="461.3" cy="240.8" r="0.8"/><circle cx="458.3" cy="243.1" r="0.7"/><circle cx="490.4" cy="231.8" r="0.8"/><circle cx="460.5" cy="239.5" r="1.1"/><circle cx="478.5" cy="269.2" r="0.9"/><circle cx="416.3" cy="216.8" r="1.0"/><circle cx="460.0" cy="215.1" r="1.0"/><circle cx="452.5" cy="282.9" r="0.8"/><circle cx="452.4" cy="237.3" r="0.7"/><circle cx="475.0" cy="235.3" r="0.7"/><circle cx="418.7" cy="279.4" r="1.0"/><circle cx="475.4" cy="278.3" r="1.0"/><circle cx="411.8" cy="217.3" r="1.2"/><circle cx="475.6" cy="250.7" r="1.1"/><circle cx="444.8" cy="288.3" r="1.1"/><circle cx="496.6" cy="237.4" r="1.0"/><circle cx="465.0" cy="213.7" r="0.8"/><circle cx="440.7" cy="274.1" r="1.0"/><circle cx="489.9" cy="227.0" r="0.9"/><circle cx="483.2" cy="278.2" r="0.8"/><circle cx="473.6" cy="287.1" r="1.2"/><circle cx="413.3" cy="228.4" r="1.3"/><circle cx="447.8" cy="244.5" r="0.9"/><circle cx="465.4" cy="215.6" r="1.3"/><circle cx="472.4" cy="267.0" r="0.7"/><circle cx="464.5" cy="279.7" r="0.8"/><circle cx="444.1" cy="288.8" r="0.8"/><circle cx="461.0" cy="290.5" r="0.8"/><circle cx="490.7" cy="227.8" r="0.8"/><circle cx="498.5" cy="231.0" r="0.8"/><circle cx="479.0" cy="276.4" r="0.8"/><circle cx="435.4" cy="272.1" r="0.8"/><circle cx="411.7" cy="249.4" r="1.0"/><circle cx="414.7" cy="273.8" r="0.8"/><circle cx="426.9" cy="247.9" r="1.0"/><circle cx="433.1" cy="276.4" r="0.9"/><circle cx="480.7" cy="266.6" r="0.8"/><circle cx="429.5" cy="268.4" r="1.1"/><circle cx="486.3" cy="252.0" r="1.0"/><circle cx="430.9" cy="255.4" r="1.0"/><circle cx="476.7" cy="234.1" r="0.7"/><circle cx="488.7" cy="241.1" r="1.3"/><circle cx="466.7" cy="262.1" r="1.1"/><circle cx="415.1" cy="252.1" r="1.2"/><circle cx="413.9" cy="233.2" r="1.0"/><circle cx="475.4" cy="233.3" r="1.2"/><circle cx="447.0" cy="249.6" r="0.9"/><circle cx="471.0" cy="221.7" r="1.2"/><circle cx="473.7" cy="243.8" r="1.3"/><circle cx="479.2" cy="277.5" r="0.9"/><circle cx="471.0" cy="229.6" r="1.2"/><circle cx="411.2" cy="217.7" r="0.9"/><circle cx="412.9" cy="252.0" r="1.1"/><circle cx="445.1" cy="221.8" r="0.7"/><circle cx="490.5" cy="264.8" r="1.2"/><circle cx="493.2" cy="237.1" r="0.9"/><circle cx="469.5" cy="232.3" r="1.2"/><circle cx="432.1" cy="212.3" r="0.7"/><circle cx="453.8" cy="213.8" r="0.7"/><circle cx="452.0" cy="238.5" r="1.0"/><circle cx="447.3" cy="241.6" r="0.8"/><circle cx="497.8" cy="283.0" r="1.1"/><circle cx="490.8" cy="275.4" r="0.8"/><circle cx="444.5" cy="241.1" r="1.0"/><circle cx="488.2" cy="263.4" r="0.8"/><circle cx="416.6" cy="265.5" r="0.8"/><circle cx="491.0" cy="213.5" r="1.0"/><circle cx="485.5" cy="226.9" r="1.1"/><circle cx="441.8" cy="211.8" r="0.9"/><circle cx="491.1" cy="246.7" r="0.7"/><circle cx="436.3" cy="229.2" r="1.2"/><circle cx="415.5" cy="283.5" r="0.8"/><circle cx="475.4" cy="280.7" r="0.9"/><circle cx="488.6" cy="274.7" r="0.8"/><circle cx="480.8" cy="278.8" r="1.0"/><circle cx="481.6" cy="228.7" r="1.0"/><circle cx="467.8" cy="282.4" r="0.7"/><circle cx="453.3" cy="229.7" r="1.2"/><circle cx="449.1" cy="267.3" r="1.2"/><circle cx="417.4" cy="234.5" r="1.3"/><circle cx="451.5" cy="291.6" r="0.7"/><circle cx="438.2" cy="249.1" r="0.7"/><circle cx="436.9" cy="224.8" r="1.3"/><circle cx="489.3" cy="247.9" r="0.7"/><circle cx="418.5" cy="233.9" r="1.0"/><circle cx="413.7" cy="240.8" r="1.2"/><circle cx="424.3" cy="275.3" r="0.8"/><circle cx="478.3" cy="284.0" r="1.2"/><circle cx="452.2" cy="225.4" r="0.8"/><circle cx="445.1" cy="250.7" r="1.0"/><circle cx="455.9" cy="240.3" r="1.2"/><circle cx="497.5" cy="235.6" r="0.8"/><circle cx="428.3" cy="282.5" r="1.0"/><circle cx="440.4" cy="261.8" r="0.8"/><circle cx="438.5" cy="281.6" r="1.2"/><circle cx="495.4" cy="261.8" r="1.2"/><circle cx="456.7" cy="262.6" r="1.0"/><circle cx="424.0" cy="268.0" r="1.1"/><circle cx="427.4" cy="217.2" r="0.8"/><circle cx="422.5" cy="275.2" r="1.1"/><circle cx="492.9" cy="286.8" r="0.8"/><circle cx="491.2" cy="254.3" r="0.8"/><circle cx="413.4" cy="288.1" r="1.0"/><circle cx="448.8" cy="233.1" r="1.3"/><circle cx="418.9" cy="231.9" r="1.1"/><circle cx="498.2" cy="253.3" r="1.2"/><circle cx="411.3" cy="227.6" r="1.3"/><circle cx="416.6" cy="275.0" r="0.7"/><circle cx="492.4" cy="267.0" r="0.9"/><circle cx="420.0" cy="278.0" r="0.8"/><circle cx="442.2" cy="283.0" r="0.9"/><circle cx="430.3" cy="284.8" r="1.3"/><circle cx="482.1" cy="259.4" r="0.8"/><circle cx="446.0" cy="292.6" r="1.3"/><circle cx="442.3" cy="279.1" r="1.2"/><circle cx="463.5" cy="254.8" r="1.0"/><circle cx="474.6" cy="225.8" r="1.1"/><circle cx="413.5" cy="257.2" r="1.0"/><circle cx="465.8" cy="216.9" r="1.2"/><circle cx="464.4" cy="261.3" r="1.3"/><circle cx="441.0" cy="259.5" r="0.9"/><circle cx="410.7" cy="224.8" r="1.2"/><circle cx="419.0" cy="231.0" r="1.0"/><circle cx="440.5" cy="274.5" r="0.9"/><circle cx="473.5" cy="212.1" r="1.1"/><circle cx="441.1" cy="290.0" r="0.8"/><circle cx="472.4" cy="260.8" r="1.0"/><circle cx="426.8" cy="285.8" r="1.2"/><circle cx="427.3" cy="269.0" r="1.1"/><circle cx="496.7" cy="235.2" r="0.9"/><circle cx="456.5" cy="277.8" r="0.8"/><circle cx="458.6" cy="292.4" r="1.0"/><circle cx="444.5" cy="236.4" r="0.7"/><circle cx="430.8" cy="228.9" r="1.1"/><circle cx="423.4" cy="250.2" r="1.1"/><circle cx="485.6" cy="250.8" r="1.2"/><circle cx="476.0" cy="250.0" r="0.8"/><circle cx="490.1" cy="244.2" r="0.9"/><circle cx="438.4" cy="223.0" r="1.0"/><circle cx="448.6" cy="290.4" r="1.1"/><circle cx="493.0" cy="279.1" r="1.0"/><circle cx="473.5" cy="224.1" r="0.8"/><circle cx="444.1" cy="267.3" r="0.8"/><circle cx="421.3" cy="218.2" r="1.2"/><circle cx="451.8" cy="272.0" r="1.0"/><circle cx="417.1" cy="218.6" r="1.1"/><circle cx="464.8" cy="227.5" r="1.2"/><circle cx="443.8" cy="268.4" r="0.8"/><circle cx="413.4" cy="273.1" r="1.3"/><circle cx="476.2" cy="291.9" r="1.2"/><circle cx="483.5" cy="253.1" r="1.1"/><circle cx="447.2" cy="261.7" r="0.8"/><circle cx="415.1" cy="239.6" r="1.2"/><circle cx="443.8" cy="287.4" r="1.2"/><circle cx="453.7" cy="250.4" r="1.2"/><circle cx="479.2" cy="245.5" r="1.2"/><circle cx="496.6" cy="286.3" r="0.9"/><circle cx="472.2" cy="276.6" r="1.0"/><circle cx="477.1" cy="251.2" r="1.1"/><circle cx="422.4" cy="244.0" r="1.1"/><circle cx="429.2" cy="240.8" r="0.7"/><circle cx="461.9" cy="243.8" r="0.9"/><circle cx="476.8" cy="222.1" r="0.7"/><circle cx="471.5" cy="244.8" r="0.8"/><circle cx="480.4" cy="248.9" r="0.9"/><circle cx="472.5" cy="262.0" r="0.8"/><circle cx="476.2" cy="231.9" r="0.9"/><circle cx="454.3" cy="249.2" r="1.2"/><circle cx="467.8" cy="257.9" r="0.9"/><circle cx="457.1" cy="221.5" r="0.7"/><circle cx="489.0" cy="243.6" r="0.9"/><circle cx="429.7" cy="258.4" r="1.1"/><circle cx="496.4" cy="227.9" r="1.2"/><circle cx="460.0" cy="229.8" r="1.2"/><circle cx="473.3" cy="220.1" r="1.2"/><circle cx="464.9" cy="247.6" r="1.0"/><circle cx="438.1" cy="268.6" r="1.2"/><circle cx="433.5" cy="226.9" r="1.3"/><circle cx="477.8" cy="286.9" r="1.2"/><circle cx="462.7" cy="279.4" r="0.9"/><circle cx="461.5" cy="266.6" r="0.8"/><circle cx="431.3" cy="251.7" r="0.9"/><circle cx="477.1" cy="235.0" r="0.7"/><circle cx="475.8" cy="277.0" r="1.2"/><circle cx="486.8" cy="214.8" r="1.2"/><circle cx="413.8" cy="249.6" r="0.8"/><circle cx="432.0" cy="232.4" r="1.0"/><circle cx="442.0" cy="278.5" r="0.9"/><circle cx="429.3" cy="276.4" r="1.2"/><circle cx="490.9" cy="238.3" r="1.0"/><circle cx="467.6" cy="237.8" r="0.8"/><circle cx="460.3" cy="222.2" r="1.1"/><circle cx="469.5" cy="240.1" r="0.7"/><circle cx="433.5" cy="271.0" r="0.8"/><circle cx="427.8" cy="226.5" r="1.1"/><circle cx="472.0" cy="289.1" r="1.0"/><circle cx="438.5" cy="287.0" r="1.3"/><circle cx="469.8" cy="222.1" r="0.9"/><circle cx="426.3" cy="235.4" r="1.0"/><circle cx="482.1" cy="228.6" r="0.9"/><circle cx="437.6" cy="260.9" r="1.1"/><circle cx="433.4" cy="262.4" r="1.0"/><circle cx="449.0" cy="279.5" r="0.9"/><circle cx="432.1" cy="234.6" r="1.1"/><circle cx="451.6" cy="291.1" r="0.9"/><circle cx="474.8" cy="269.7" r="1.0"/><circle cx="412.6" cy="285.7" r="1.2"/><circle cx="486.4" cy="250.8" r="1.1"/><circle cx="430.9" cy="220.9" r="0.8"/><circle cx="454.1" cy="257.0" r="1.3"/><circle cx="424.6" cy="268.4" r="1.3"/><circle cx="484.2" cy="240.7" r="0.9"/><circle cx="480.0" cy="231.0" r="1.2"/><circle cx="426.1" cy="260.3" r="1.2"/><circle cx="495.3" cy="212.5" r="0.9"/><circle cx="464.9" cy="268.5" r="1.2"/><circle cx="468.4" cy="269.7" r="1.1"/><circle cx="485.3" cy="234.7" r="1.0"/><circle cx="467.3" cy="290.2" r="0.9"/><circle cx="417.1" cy="272.4" r="0.8"/><circle cx="488.8" cy="211.9" r="0.9"/><circle cx="457.1" cy="255.9" r="0.8"/><circle cx="457.8" cy="218.7" r="1.1"/><circle cx="464.1" cy="284.4" r="1.0"/><circle cx="491.6" cy="281.3" r="0.8"/><circle cx="471.3" cy="284.0" r="0.7"/><circle cx="459.6" cy="220.6" r="1.1"/></g>
<path d="M405,210 L428.5,210 C428,230 428.5,255 430.5,270 C431.5,280 433,287 434.5,295 L405,295 Z" fill="#b494a9" stroke="#f4eef2" stroke-width="1.2"/>
</g></g>
<rect x="412.6" y="213.6" width="84.09999999999997" height="77.50000000000003" fill="none" stroke="#2a2a2a" stroke-width="1.3"/>
<clipPath id="c3"><rect x="326.5" y="293.5" width="83.69999999999999" height="77.69999999999999"/></clipPath>
<g clip-path="url(#c3)"><g filter="url(#hb)">
<rect x="324.5" y="291.5" width="87.69999999999999" height="81.69999999999999" fill="#dcc2cf"/>
<g fill="#e8d8e0"><circle cx="348.2" cy="346.7" r="1.5"/><circle cx="397.6" cy="307.9" r="1.0"/><circle cx="338.8" cy="311.0" r="1.5"/><circle cx="337.4" cy="334.8" r="1.0"/><circle cx="351.2" cy="327.0" r="1.6"/><circle cx="377.4" cy="294.6" r="1.1"/><circle cx="338.8" cy="361.2" r="1.6"/><circle cx="394.0" cy="357.7" r="1.5"/><circle cx="406.0" cy="355.2" r="1.1"/><circle cx="397.6" cy="331.3" r="1.6"/><circle cx="373.7" cy="326.9" r="1.2"/><circle cx="362.5" cy="317.9" r="0.9"/><circle cx="395.1" cy="355.5" r="1.8"/><circle cx="384.3" cy="336.6" r="1.5"/><circle cx="337.8" cy="346.1" r="1.2"/><circle cx="341.3" cy="309.2" r="1.3"/><circle cx="347.7" cy="329.2" r="1.4"/><circle cx="359.6" cy="303.7" r="1.3"/><circle cx="346.2" cy="311.8" r="1.0"/><circle cx="357.2" cy="299.2" r="1.5"/><circle cx="406.3" cy="323.8" r="1.5"/><circle cx="404.6" cy="296.9" r="0.9"/><circle cx="394.0" cy="358.6" r="1.4"/><circle cx="339.9" cy="325.6" r="1.7"/><circle cx="400.7" cy="355.9" r="1.0"/><circle cx="398.0" cy="322.6" r="1.5"/><circle cx="338.0" cy="369.0" r="1.4"/><circle cx="387.0" cy="310.0" r="1.4"/><circle cx="375.1" cy="339.4" r="1.2"/><circle cx="387.4" cy="320.0" r="1.1"/><circle cx="340.3" cy="346.6" r="0.9"/><circle cx="345.4" cy="298.9" r="1.4"/><circle cx="373.1" cy="335.7" r="0.8"/><circle cx="363.3" cy="320.2" r="0.9"/><circle cx="326.7" cy="371.0" r="0.9"/><circle cx="351.7" cy="314.4" r="1.4"/><circle cx="333.0" cy="330.0" r="1.2"/><circle cx="396.3" cy="293.9" r="1.1"/><circle cx="368.1" cy="368.9" r="1.3"/><circle cx="366.2" cy="345.5" r="1.1"/><circle cx="329.2" cy="332.5" r="1.7"/><circle cx="388.3" cy="313.6" r="1.5"/><circle cx="397.6" cy="313.6" r="1.4"/><circle cx="356.3" cy="312.5" r="1.1"/><circle cx="343.6" cy="320.8" r="0.8"/><circle cx="359.8" cy="300.2" r="1.6"/><circle cx="376.7" cy="293.8" r="1.6"/><circle cx="342.4" cy="330.9" r="1.4"/><circle cx="354.4" cy="316.0" r="1.2"/><circle cx="338.0" cy="360.6" r="0.9"/><circle cx="395.4" cy="310.5" r="1.1"/><circle cx="359.0" cy="296.1" r="0.9"/><circle cx="356.7" cy="327.8" r="1.7"/><circle cx="409.4" cy="296.9" r="1.3"/><circle cx="337.3" cy="355.9" r="1.1"/><circle cx="401.2" cy="335.9" r="0.9"/><circle cx="326.9" cy="312.8" r="1.7"/><circle cx="339.0" cy="330.7" r="1.2"/><circle cx="355.4" cy="355.8" r="1.0"/><circle cx="386.6" cy="345.3" r="1.7"/><circle cx="370.0" cy="365.0" r="1.2"/><circle cx="374.5" cy="341.7" r="1.6"/><circle cx="401.6" cy="302.5" r="0.9"/><circle cx="371.2" cy="356.6" r="1.3"/><circle cx="351.6" cy="368.2" r="1.1"/><circle cx="333.8" cy="297.5" r="0.8"/><circle cx="387.3" cy="301.8" r="1.5"/><circle cx="399.0" cy="371.2" r="1.6"/><circle cx="362.0" cy="341.8" r="1.6"/><circle cx="386.4" cy="316.1" r="1.6"/><circle cx="335.7" cy="317.5" r="1.8"/><circle cx="365.9" cy="314.3" r="1.6"/><circle cx="364.2" cy="293.8" r="0.8"/><circle cx="348.2" cy="319.3" r="1.7"/><circle cx="347.2" cy="359.6" r="1.7"/><circle cx="361.3" cy="370.7" r="1.6"/><circle cx="367.0" cy="313.8" r="1.3"/><circle cx="402.0" cy="335.2" r="1.0"/><circle cx="357.9" cy="330.5" r="1.0"/><circle cx="374.5" cy="296.2" r="1.6"/><circle cx="341.5" cy="301.5" r="1.4"/><circle cx="352.2" cy="362.3" r="1.3"/><circle cx="370.1" cy="358.3" r="1.0"/><circle cx="388.9" cy="343.9" r="1.2"/><circle cx="406.8" cy="295.2" r="1.7"/><circle cx="338.5" cy="358.7" r="1.0"/><circle cx="331.0" cy="332.4" r="1.7"/><circle cx="348.0" cy="331.3" r="1.4"/><circle cx="346.9" cy="334.7" r="0.8"/><circle cx="364.1" cy="352.5" r="1.1"/><circle cx="345.0" cy="297.4" r="1.5"/><circle cx="362.3" cy="364.5" r="1.5"/><circle cx="334.9" cy="364.5" r="1.7"/><circle cx="394.9" cy="358.1" r="1.5"/><circle cx="386.8" cy="345.3" r="1.4"/><circle cx="348.0" cy="303.9" r="1.5"/><circle cx="376.4" cy="297.9" r="1.4"/><circle cx="377.6" cy="333.2" r="1.6"/><circle cx="399.8" cy="323.1" r="1.6"/><circle cx="368.3" cy="337.9" r="1.2"/><circle cx="404.6" cy="328.0" r="1.8"/><circle cx="354.8" cy="345.7" r="1.7"/><circle cx="383.7" cy="322.7" r="0.9"/><circle cx="366.5" cy="325.7" r="1.6"/><circle cx="392.2" cy="370.1" r="1.2"/><circle cx="360.9" cy="337.3" r="1.5"/><circle cx="333.2" cy="310.2" r="0.9"/><circle cx="353.7" cy="316.8" r="1.8"/><circle cx="343.9" cy="366.0" r="1.1"/><circle cx="343.6" cy="369.2" r="0.9"/><circle cx="335.9" cy="303.5" r="0.9"/><circle cx="358.9" cy="310.0" r="1.0"/><circle cx="327.8" cy="347.8" r="0.8"/><circle cx="345.9" cy="337.4" r="1.7"/><circle cx="381.7" cy="348.6" r="1.5"/><circle cx="393.2" cy="359.8" r="1.0"/><circle cx="331.0" cy="341.7" r="1.3"/><circle cx="370.1" cy="354.3" r="1.0"/><circle cx="385.6" cy="326.6" r="1.2"/><circle cx="347.0" cy="315.4" r="1.4"/><circle cx="372.9" cy="364.0" r="1.1"/><circle cx="386.4" cy="301.0" r="1.5"/><circle cx="339.9" cy="360.1" r="1.8"/><circle cx="347.8" cy="356.3" r="1.0"/><circle cx="352.1" cy="301.5" r="1.2"/><circle cx="335.2" cy="348.2" r="1.4"/><circle cx="361.7" cy="348.7" r="1.0"/><circle cx="354.3" cy="321.7" r="0.8"/><circle cx="400.7" cy="300.4" r="0.9"/><circle cx="393.3" cy="357.1" r="1.2"/><circle cx="361.8" cy="304.3" r="0.8"/><circle cx="370.1" cy="312.4" r="1.0"/><circle cx="402.3" cy="295.0" r="1.2"/><circle cx="389.4" cy="351.5" r="0.9"/><circle cx="388.6" cy="337.3" r="1.4"/><circle cx="405.5" cy="355.6" r="1.4"/><circle cx="390.9" cy="331.7" r="1.4"/><circle cx="394.9" cy="341.6" r="1.2"/><circle cx="328.2" cy="354.9" r="1.1"/><circle cx="362.4" cy="315.8" r="1.4"/></g>
<g fill="#80466f"><circle cx="328.8" cy="329.2" r="1.2"/><circle cx="337.5" cy="304.2" r="1.0"/><circle cx="330.5" cy="355.3" r="1.4"/><circle cx="375.2" cy="322.9" r="0.9"/><circle cx="364.1" cy="307.6" r="1.3"/><circle cx="350.3" cy="337.3" r="1.3"/><circle cx="341.1" cy="333.6" r="0.9"/><circle cx="371.1" cy="365.8" r="1.1"/><circle cx="400.5" cy="324.4" r="1.5"/><circle cx="392.1" cy="358.7" r="1.1"/><circle cx="398.8" cy="292.2" r="1.1"/><circle cx="329.2" cy="367.8" r="1.5"/><circle cx="374.5" cy="312.4" r="1.2"/><circle cx="365.0" cy="370.3" r="0.9"/><circle cx="408.9" cy="306.4" r="1.2"/><circle cx="328.5" cy="296.2" r="1.3"/><circle cx="346.5" cy="367.6" r="1.4"/><circle cx="354.2" cy="337.7" r="1.0"/><circle cx="338.0" cy="333.6" r="1.5"/><circle cx="370.4" cy="355.2" r="0.9"/><circle cx="354.4" cy="363.2" r="1.5"/><circle cx="401.2" cy="299.4" r="0.9"/><circle cx="383.8" cy="368.7" r="1.5"/><circle cx="407.9" cy="368.9" r="0.9"/><circle cx="363.7" cy="344.7" r="1.0"/><circle cx="367.0" cy="352.6" r="1.0"/><circle cx="344.8" cy="314.4" r="1.0"/><circle cx="404.2" cy="310.0" r="1.1"/><circle cx="398.9" cy="311.2" r="1.3"/><circle cx="379.1" cy="305.9" r="1.0"/><circle cx="392.2" cy="295.7" r="1.1"/><circle cx="343.8" cy="339.5" r="0.9"/><circle cx="394.5" cy="339.3" r="0.9"/><circle cx="390.4" cy="356.0" r="0.9"/><circle cx="404.8" cy="340.5" r="1.5"/><circle cx="395.8" cy="314.7" r="1.1"/><circle cx="342.8" cy="345.6" r="1.3"/><circle cx="403.5" cy="293.4" r="0.9"/><circle cx="341.5" cy="361.3" r="1.5"/><circle cx="359.1" cy="325.1" r="1.2"/><circle cx="408.8" cy="347.4" r="1.1"/><circle cx="407.4" cy="358.6" r="1.0"/><circle cx="404.2" cy="344.3" r="1.5"/><circle cx="377.2" cy="315.1" r="1.4"/><circle cx="379.1" cy="370.8" r="1.1"/><circle cx="354.7" cy="327.7" r="1.1"/><circle cx="371.0" cy="369.5" r="0.9"/><circle cx="338.0" cy="350.8" r="1.0"/><circle cx="389.3" cy="335.9" r="0.9"/><circle cx="373.1" cy="363.1" r="1.2"/><circle cx="409.6" cy="306.5" r="1.1"/><circle cx="391.3" cy="344.4" r="1.3"/><circle cx="343.0" cy="352.4" r="0.9"/><circle cx="337.3" cy="365.3" r="1.3"/><circle cx="353.0" cy="296.1" r="1.0"/><circle cx="400.4" cy="342.5" r="1.2"/><circle cx="328.9" cy="368.1" r="1.2"/><circle cx="409.8" cy="370.7" r="0.9"/><circle cx="342.9" cy="349.4" r="1.4"/><circle cx="405.7" cy="363.3" r="0.9"/><circle cx="357.3" cy="331.8" r="1.5"/><circle cx="392.9" cy="347.4" r="1.1"/><circle cx="406.6" cy="325.6" r="0.9"/><circle cx="402.3" cy="361.1" r="1.4"/><circle cx="375.9" cy="296.5" r="0.9"/><circle cx="348.4" cy="343.7" r="1.1"/><circle cx="367.3" cy="310.1" r="1.0"/><circle cx="350.0" cy="306.0" r="1.0"/><circle cx="382.5" cy="297.6" r="1.5"/><circle cx="405.5" cy="367.3" r="1.0"/><circle cx="345.2" cy="366.0" r="0.9"/><circle cx="360.6" cy="305.6" r="1.2"/><circle cx="356.2" cy="324.3" r="1.3"/><circle cx="363.3" cy="305.1" r="1.4"/><circle cx="377.4" cy="319.3" r="0.9"/><circle cx="364.0" cy="329.3" r="1.4"/><circle cx="408.9" cy="294.9" r="1.0"/><circle cx="358.9" cy="296.2" r="1.1"/><circle cx="328.8" cy="355.8" r="1.3"/><circle cx="396.6" cy="320.7" r="1.2"/><circle cx="410.3" cy="359.0" r="0.9"/><circle cx="353.3" cy="295.7" r="1.1"/><circle cx="367.9" cy="318.8" r="1.1"/><circle cx="381.0" cy="333.3" r="1.0"/><circle cx="392.7" cy="351.3" r="1.4"/><circle cx="350.1" cy="341.2" r="1.4"/><circle cx="408.2" cy="326.7" r="1.3"/><circle cx="327.1" cy="319.0" r="1.5"/><circle cx="372.2" cy="305.7" r="1.0"/><circle cx="390.5" cy="366.8" r="1.4"/><circle cx="402.2" cy="320.2" r="1.4"/><circle cx="356.4" cy="315.8" r="1.0"/><circle cx="353.6" cy="346.6" r="1.5"/><circle cx="337.4" cy="323.8" r="1.4"/><circle cx="341.8" cy="322.8" r="1.1"/><circle cx="327.9" cy="296.0" r="1.4"/><circle cx="373.6" cy="358.1" r="1.3"/><circle cx="372.4" cy="362.7" r="1.5"/><circle cx="369.9" cy="296.4" r="1.4"/><circle cx="341.0" cy="366.2" r="1.5"/><circle cx="337.2" cy="347.6" r="1.2"/><circle cx="344.1" cy="301.2" r="1.0"/><circle cx="326.5" cy="328.5" r="1.0"/><circle cx="385.5" cy="342.1" r="1.1"/><circle cx="406.7" cy="305.4" r="0.9"/><circle cx="351.8" cy="325.3" r="1.2"/><circle cx="388.4" cy="318.9" r="1.1"/><circle cx="352.7" cy="355.4" r="1.5"/><circle cx="329.5" cy="315.9" r="1.1"/><circle cx="350.8" cy="314.5" r="1.0"/><circle cx="333.1" cy="302.6" r="1.4"/><circle cx="328.9" cy="306.6" r="1.3"/><circle cx="334.1" cy="355.7" r="1.5"/><circle cx="340.1" cy="356.2" r="1.1"/><circle cx="340.2" cy="311.8" r="1.5"/><circle cx="382.1" cy="345.6" r="1.3"/><circle cx="402.2" cy="326.3" r="1.0"/><circle cx="362.9" cy="336.7" r="1.0"/><circle cx="330.4" cy="335.1" r="1.5"/><circle cx="346.4" cy="337.9" r="0.9"/><circle cx="349.8" cy="351.0" r="1.2"/><circle cx="394.9" cy="367.2" r="1.0"/><circle cx="344.7" cy="367.3" r="1.5"/><circle cx="379.5" cy="365.6" r="1.0"/><circle cx="394.3" cy="323.3" r="1.5"/><circle cx="334.7" cy="339.5" r="1.2"/><circle cx="351.5" cy="327.3" r="0.9"/><circle cx="387.0" cy="293.3" r="1.0"/><circle cx="341.6" cy="368.8" r="0.9"/><circle cx="329.8" cy="311.4" r="0.9"/><circle cx="374.3" cy="310.1" r="1.4"/><circle cx="381.1" cy="306.5" r="1.0"/><circle cx="403.2" cy="355.2" r="0.9"/><circle cx="335.7" cy="369.7" r="1.0"/><circle cx="331.1" cy="367.1" r="1.3"/><circle cx="332.9" cy="359.5" r="1.2"/><circle cx="327.0" cy="313.2" r="1.3"/><circle cx="331.3" cy="363.4" r="1.2"/><circle cx="333.8" cy="327.4" r="1.1"/><circle cx="384.9" cy="297.2" r="1.2"/><circle cx="344.8" cy="333.6" r="1.0"/><circle cx="360.2" cy="294.9" r="1.5"/><circle cx="336.4" cy="360.8" r="1.5"/><circle cx="333.4" cy="327.4" r="1.3"/><circle cx="410.5" cy="315.3" r="1.3"/><circle cx="372.1" cy="372.1" r="1.5"/><circle cx="378.1" cy="336.8" r="0.9"/><circle cx="333.5" cy="324.0" r="1.4"/><circle cx="346.9" cy="305.5" r="1.0"/><circle cx="372.9" cy="292.1" r="0.9"/><circle cx="348.0" cy="370.9" r="1.1"/><circle cx="386.6" cy="341.6" r="1.0"/><circle cx="397.9" cy="317.4" r="1.0"/><circle cx="354.3" cy="352.7" r="1.2"/><circle cx="358.5" cy="371.3" r="1.4"/><circle cx="383.1" cy="302.1" r="1.4"/><circle cx="363.2" cy="336.8" r="1.1"/><circle cx="405.7" cy="366.5" r="1.5"/><circle cx="364.5" cy="327.0" r="1.4"/><circle cx="373.2" cy="328.5" r="1.2"/><circle cx="331.1" cy="293.4" r="1.4"/><circle cx="381.6" cy="345.8" r="0.9"/><circle cx="332.1" cy="340.0" r="1.5"/><circle cx="351.3" cy="342.4" r="1.0"/><circle cx="409.0" cy="350.1" r="1.0"/><circle cx="399.0" cy="316.8" r="1.2"/><circle cx="328.4" cy="348.2" r="1.5"/><circle cx="343.8" cy="366.8" r="1.1"/><circle cx="352.0" cy="304.4" r="1.0"/><circle cx="342.8" cy="343.1" r="1.5"/><circle cx="348.4" cy="306.3" r="1.4"/><circle cx="343.9" cy="318.5" r="1.3"/><circle cx="394.8" cy="354.7" r="0.9"/><circle cx="399.5" cy="365.8" r="1.2"/><circle cx="329.2" cy="363.2" r="1.4"/><circle cx="339.3" cy="291.9" r="1.1"/><circle cx="405.0" cy="320.6" r="1.2"/><circle cx="375.0" cy="345.7" r="1.1"/><circle cx="336.2" cy="362.3" r="1.5"/><circle cx="351.0" cy="356.2" r="1.2"/><circle cx="358.8" cy="370.8" r="1.1"/><circle cx="370.9" cy="325.2" r="1.2"/><circle cx="374.6" cy="316.2" r="0.9"/><circle cx="349.7" cy="297.6" r="1.0"/><circle cx="374.8" cy="331.6" r="1.2"/><circle cx="373.7" cy="346.4" r="1.0"/><circle cx="409.3" cy="350.9" r="0.9"/><circle cx="364.7" cy="354.2" r="1.5"/><circle cx="329.5" cy="338.5" r="1.0"/><circle cx="376.7" cy="372.3" r="1.5"/><circle cx="382.7" cy="366.1" r="1.5"/><circle cx="328.9" cy="304.9" r="1.5"/><circle cx="387.1" cy="338.7" r="0.9"/><circle cx="357.6" cy="307.8" r="1.1"/><circle cx="337.2" cy="366.4" r="0.9"/><circle cx="345.1" cy="372.2" r="1.4"/><circle cx="344.3" cy="335.9" r="1.5"/><circle cx="387.1" cy="349.6" r="1.0"/><circle cx="401.6" cy="293.6" r="1.5"/><circle cx="339.0" cy="325.5" r="1.3"/><circle cx="334.4" cy="292.8" r="1.0"/><circle cx="409.9" cy="336.3" r="1.1"/><circle cx="368.7" cy="308.7" r="1.5"/><circle cx="335.5" cy="311.6" r="1.3"/><circle cx="364.0" cy="362.5" r="1.1"/><circle cx="389.8" cy="359.4" r="1.1"/><circle cx="389.4" cy="295.5" r="0.9"/><circle cx="351.8" cy="338.7" r="1.0"/><circle cx="342.3" cy="354.3" r="1.1"/><circle cx="379.6" cy="365.3" r="1.0"/><circle cx="412.0" cy="360.0" r="1.2"/></g>
<g fill="#8f567f"><circle cx="390.3" cy="350.5" r="1.5"/><circle cx="373.4" cy="336.9" r="0.9"/><circle cx="378.5" cy="327.4" r="1.2"/><circle cx="330.3" cy="334.6" r="1.0"/><circle cx="379.6" cy="343.5" r="1.5"/><circle cx="368.7" cy="326.6" r="1.1"/><circle cx="387.0" cy="357.4" r="1.0"/><circle cx="387.6" cy="329.4" r="1.2"/><circle cx="382.6" cy="366.7" r="1.1"/><circle cx="391.6" cy="354.5" r="1.4"/><circle cx="354.4" cy="301.2" r="0.9"/><circle cx="407.5" cy="293.2" r="1.2"/><circle cx="400.5" cy="333.6" r="0.9"/><circle cx="352.1" cy="305.3" r="1.0"/><circle cx="379.8" cy="292.4" r="1.4"/><circle cx="402.9" cy="300.1" r="0.9"/><circle cx="400.0" cy="300.0" r="0.9"/><circle cx="332.1" cy="303.5" r="1.4"/><circle cx="356.6" cy="330.5" r="1.3"/><circle cx="407.6" cy="370.5" r="1.4"/><circle cx="339.6" cy="308.1" r="1.5"/><circle cx="363.3" cy="321.3" r="1.3"/><circle cx="373.0" cy="298.3" r="1.4"/><circle cx="372.8" cy="316.4" r="1.3"/><circle cx="380.1" cy="330.5" r="1.0"/><circle cx="326.9" cy="313.6" r="1.0"/><circle cx="375.2" cy="349.5" r="1.3"/><circle cx="343.8" cy="329.7" r="1.4"/><circle cx="349.0" cy="334.6" r="1.3"/><circle cx="352.3" cy="301.9" r="1.3"/><circle cx="390.5" cy="317.2" r="1.1"/><circle cx="335.1" cy="361.4" r="1.1"/><circle cx="402.5" cy="309.0" r="1.5"/><circle cx="355.4" cy="372.7" r="1.2"/><circle cx="381.2" cy="332.6" r="1.4"/><circle cx="406.3" cy="301.8" r="1.3"/><circle cx="348.6" cy="368.1" r="1.1"/><circle cx="376.9" cy="322.3" r="0.9"/><circle cx="377.4" cy="301.6" r="1.5"/><circle cx="343.5" cy="303.5" r="1.4"/><circle cx="345.1" cy="312.8" r="0.9"/><circle cx="346.7" cy="358.3" r="1.0"/><circle cx="365.3" cy="319.6" r="1.1"/><circle cx="338.8" cy="352.2" r="1.0"/><circle cx="380.7" cy="347.9" r="0.9"/><circle cx="378.3" cy="293.4" r="1.3"/><circle cx="368.8" cy="358.5" r="1.0"/><circle cx="386.1" cy="372.0" r="1.2"/><circle cx="343.0" cy="332.9" r="0.9"/><circle cx="338.4" cy="347.0" r="1.5"/><circle cx="336.5" cy="336.3" r="1.4"/><circle cx="336.2" cy="350.8" r="1.0"/><circle cx="348.6" cy="348.1" r="1.3"/><circle cx="324.5" cy="335.9" r="1.1"/><circle cx="405.9" cy="364.4" r="1.2"/><circle cx="337.3" cy="291.8" r="1.2"/><circle cx="363.0" cy="367.9" r="1.4"/><circle cx="335.7" cy="369.7" r="1.4"/><circle cx="350.1" cy="325.1" r="1.2"/><circle cx="410.7" cy="322.9" r="1.2"/><circle cx="395.5" cy="352.3" r="1.4"/><circle cx="344.1" cy="346.7" r="1.5"/><circle cx="328.0" cy="355.6" r="1.4"/><circle cx="393.1" cy="335.1" r="0.9"/><circle cx="380.5" cy="362.9" r="1.2"/><circle cx="393.0" cy="331.2" r="1.4"/><circle cx="355.9" cy="321.9" r="1.3"/><circle cx="330.0" cy="358.7" r="1.5"/><circle cx="352.9" cy="309.1" r="1.5"/><circle cx="327.8" cy="346.6" r="1.4"/><circle cx="397.0" cy="352.5" r="1.1"/><circle cx="397.6" cy="314.5" r="1.2"/><circle cx="338.1" cy="307.8" r="0.9"/><circle cx="406.7" cy="363.9" r="1.2"/><circle cx="359.2" cy="351.1" r="1.2"/><circle cx="339.8" cy="368.1" r="0.9"/><circle cx="324.6" cy="365.4" r="1.2"/><circle cx="360.1" cy="300.2" r="1.2"/><circle cx="380.3" cy="356.5" r="1.3"/><circle cx="381.7" cy="315.6" r="1.0"/><circle cx="407.4" cy="367.3" r="1.0"/><circle cx="343.1" cy="308.9" r="1.3"/><circle cx="370.3" cy="336.7" r="1.2"/><circle cx="343.1" cy="294.3" r="1.5"/><circle cx="366.0" cy="364.1" r="1.5"/><circle cx="387.9" cy="359.1" r="1.4"/><circle cx="362.1" cy="362.7" r="1.0"/><circle cx="350.0" cy="360.7" r="1.5"/><circle cx="342.8" cy="337.6" r="1.2"/><circle cx="406.4" cy="294.5" r="1.4"/><circle cx="382.3" cy="350.2" r="1.2"/><circle cx="361.5" cy="323.1" r="0.9"/><circle cx="368.8" cy="322.0" r="1.3"/><circle cx="331.6" cy="297.6" r="1.2"/><circle cx="349.8" cy="292.8" r="1.3"/><circle cx="326.9" cy="364.5" r="1.1"/><circle cx="355.1" cy="362.1" r="1.3"/><circle cx="333.2" cy="325.0" r="0.9"/><circle cx="366.0" cy="324.6" r="1.5"/><circle cx="348.1" cy="336.3" r="1.5"/><circle cx="376.6" cy="350.3" r="1.0"/><circle cx="327.9" cy="306.7" r="1.4"/><circle cx="331.8" cy="303.6" r="1.3"/><circle cx="388.1" cy="369.9" r="1.4"/><circle cx="348.4" cy="298.4" r="1.0"/><circle cx="356.6" cy="371.3" r="1.2"/><circle cx="352.0" cy="327.6" r="1.2"/><circle cx="348.7" cy="315.8" r="1.4"/><circle cx="384.5" cy="302.9" r="1.5"/><circle cx="351.4" cy="345.2" r="1.0"/><circle cx="349.2" cy="327.7" r="1.4"/><circle cx="410.3" cy="346.8" r="0.9"/><circle cx="331.4" cy="326.8" r="0.9"/><circle cx="353.1" cy="372.9" r="1.3"/><circle cx="355.8" cy="303.5" r="1.3"/><circle cx="338.1" cy="321.6" r="0.9"/><circle cx="386.3" cy="317.8" r="1.0"/><circle cx="384.9" cy="331.2" r="1.5"/><circle cx="411.4" cy="341.9" r="1.5"/><circle cx="347.5" cy="298.6" r="1.5"/><circle cx="356.1" cy="371.1" r="1.1"/><circle cx="356.3" cy="307.8" r="1.5"/><circle cx="340.3" cy="350.3" r="1.1"/><circle cx="325.6" cy="361.2" r="1.3"/><circle cx="402.2" cy="325.9" r="1.2"/><circle cx="333.8" cy="345.4" r="1.0"/><circle cx="410.4" cy="334.8" r="1.3"/><circle cx="366.7" cy="321.7" r="0.9"/><circle cx="380.3" cy="337.4" r="1.4"/><circle cx="348.6" cy="340.5" r="1.1"/><circle cx="339.5" cy="329.4" r="1.3"/><circle cx="392.6" cy="366.6" r="1.4"/><circle cx="412.1" cy="314.4" r="1.5"/><circle cx="380.4" cy="315.9" r="1.2"/><circle cx="378.1" cy="307.0" r="1.3"/><circle cx="366.0" cy="363.0" r="1.3"/><circle cx="398.8" cy="317.9" r="0.9"/><circle cx="352.0" cy="303.0" r="1.0"/><circle cx="353.9" cy="371.3" r="0.9"/><circle cx="388.0" cy="319.3" r="1.5"/><circle cx="329.4" cy="316.8" r="1.0"/><circle cx="384.2" cy="303.3" r="1.0"/><circle cx="392.4" cy="336.6" r="1.5"/><circle cx="370.8" cy="334.4" r="1.0"/><circle cx="386.1" cy="356.1" r="1.2"/><circle cx="376.1" cy="335.8" r="1.3"/><circle cx="350.3" cy="328.8" r="1.2"/><circle cx="399.3" cy="314.1" r="1.5"/><circle cx="395.1" cy="335.2" r="1.5"/><circle cx="400.2" cy="352.3" r="1.3"/><circle cx="407.6" cy="312.0" r="1.0"/><circle cx="404.9" cy="358.9" r="1.4"/><circle cx="346.2" cy="325.8" r="1.5"/><circle cx="341.8" cy="311.9" r="1.3"/><circle cx="339.2" cy="321.7" r="1.1"/><circle cx="376.3" cy="302.3" r="1.5"/><circle cx="352.5" cy="322.8" r="1.1"/><circle cx="408.6" cy="352.7" r="1.4"/><circle cx="369.9" cy="296.5" r="1.2"/><circle cx="405.8" cy="372.4" r="1.0"/><circle cx="350.1" cy="326.3" r="1.2"/><circle cx="408.1" cy="332.5" r="1.2"/><circle cx="389.3" cy="307.9" r="1.5"/><circle cx="376.8" cy="321.8" r="0.9"/><circle cx="338.8" cy="330.2" r="1.3"/><circle cx="399.2" cy="330.0" r="1.0"/><circle cx="332.2" cy="343.9" r="1.0"/><circle cx="342.7" cy="297.0" r="1.5"/><circle cx="337.6" cy="332.6" r="0.9"/><circle cx="331.5" cy="292.0" r="0.9"/><circle cx="398.5" cy="366.9" r="1.3"/><circle cx="395.8" cy="295.2" r="0.9"/><circle cx="368.3" cy="320.6" r="0.9"/><circle cx="334.0" cy="338.0" r="0.9"/><circle cx="387.1" cy="297.1" r="1.3"/><circle cx="410.7" cy="372.9" r="1.0"/><circle cx="389.5" cy="301.6" r="1.0"/><circle cx="348.8" cy="313.8" r="1.5"/><circle cx="380.6" cy="336.0" r="0.9"/><circle cx="354.7" cy="315.2" r="1.1"/><circle cx="328.0" cy="358.0" r="1.4"/><circle cx="391.7" cy="297.9" r="0.9"/><circle cx="384.9" cy="350.2" r="1.2"/><circle cx="389.1" cy="342.5" r="1.1"/><circle cx="337.7" cy="315.3" r="1.1"/><circle cx="379.7" cy="317.9" r="1.4"/><circle cx="366.0" cy="330.8" r="1.2"/><circle cx="364.1" cy="319.6" r="1.3"/><circle cx="353.6" cy="336.2" r="1.2"/><circle cx="356.4" cy="349.9" r="1.4"/><circle cx="385.4" cy="312.0" r="1.3"/><circle cx="333.0" cy="315.2" r="1.3"/><circle cx="349.6" cy="339.5" r="1.1"/><circle cx="386.9" cy="359.6" r="1.2"/><circle cx="367.8" cy="346.9" r="1.1"/><circle cx="404.9" cy="338.7" r="1.1"/><circle cx="398.3" cy="343.3" r="0.9"/><circle cx="364.1" cy="328.1" r="1.1"/><circle cx="370.6" cy="335.0" r="1.5"/><circle cx="409.0" cy="296.5" r="1.0"/><circle cx="366.5" cy="323.1" r="0.9"/><circle cx="348.5" cy="315.6" r="1.5"/><circle cx="384.8" cy="354.8" r="1.5"/><circle cx="410.6" cy="364.4" r="1.3"/><circle cx="368.0" cy="366.4" r="1.1"/><circle cx="344.8" cy="311.6" r="1.0"/><circle cx="411.1" cy="358.6" r="0.9"/><circle cx="407.0" cy="323.5" r="1.4"/><circle cx="331.3" cy="367.7" r="1.4"/><circle cx="352.9" cy="345.8" r="1.2"/><circle cx="410.3" cy="330.0" r="1.2"/><circle cx="400.4" cy="361.8" r="1.0"/><circle cx="378.0" cy="358.0" r="1.4"/><circle cx="411.5" cy="343.6" r="1.4"/><circle cx="337.0" cy="352.7" r="1.3"/><circle cx="374.0" cy="326.0" r="1.5"/><circle cx="329.0" cy="314.7" r="1.0"/><circle cx="384.3" cy="304.0" r="1.5"/><circle cx="360.3" cy="370.9" r="0.9"/><circle cx="360.8" cy="311.1" r="1.5"/><circle cx="386.0" cy="298.6" r="1.1"/><circle cx="405.6" cy="331.1" r="1.4"/><circle cx="401.9" cy="333.1" r="1.0"/><circle cx="329.3" cy="339.6" r="1.1"/><circle cx="392.6" cy="352.0" r="0.9"/><circle cx="399.4" cy="367.4" r="1.0"/><circle cx="404.1" cy="329.3" r="1.4"/><circle cx="351.4" cy="299.1" r="0.9"/><circle cx="399.8" cy="353.8" r="1.3"/><circle cx="382.0" cy="364.9" r="1.3"/><circle cx="350.4" cy="328.4" r="1.4"/><circle cx="411.8" cy="302.8" r="1.3"/><circle cx="350.3" cy="295.9" r="1.0"/><circle cx="383.3" cy="335.1" r="1.3"/><circle cx="406.9" cy="316.8" r="1.3"/><circle cx="402.6" cy="297.8" r="1.3"/><circle cx="398.5" cy="301.8" r="1.5"/><circle cx="361.5" cy="366.4" r="1.1"/><circle cx="383.7" cy="365.9" r="1.0"/><circle cx="336.8" cy="314.7" r="1.4"/><circle cx="325.3" cy="298.7" r="1.0"/><circle cx="399.0" cy="309.6" r="1.1"/><circle cx="355.3" cy="309.5" r="1.1"/></g>
<g fill="#733d65"><circle cx="409.8" cy="295.2" r="1.5"/><circle cx="387.6" cy="364.1" r="0.9"/><circle cx="360.8" cy="355.1" r="1.2"/><circle cx="398.6" cy="297.7" r="0.9"/><circle cx="375.6" cy="347.6" r="1.4"/><circle cx="380.7" cy="340.7" r="0.9"/><circle cx="343.6" cy="346.9" r="1.1"/><circle cx="397.3" cy="341.9" r="1.1"/><circle cx="363.9" cy="327.4" r="1.4"/><circle cx="396.8" cy="332.2" r="1.5"/><circle cx="357.4" cy="315.0" r="1.5"/><circle cx="400.4" cy="364.8" r="1.5"/><circle cx="377.4" cy="329.8" r="1.4"/><circle cx="399.6" cy="322.1" r="1.5"/><circle cx="396.3" cy="335.4" r="1.1"/><circle cx="374.2" cy="292.3" r="1.0"/><circle cx="408.4" cy="327.8" r="1.1"/><circle cx="333.6" cy="346.3" r="1.2"/><circle cx="380.1" cy="342.4" r="1.0"/><circle cx="349.3" cy="309.9" r="0.9"/><circle cx="335.7" cy="364.6" r="1.0"/><circle cx="353.0" cy="372.8" r="1.4"/><circle cx="375.8" cy="349.6" r="1.4"/><circle cx="329.8" cy="325.2" r="1.2"/><circle cx="388.6" cy="364.5" r="1.2"/><circle cx="373.8" cy="332.3" r="1.0"/><circle cx="378.7" cy="320.8" r="0.9"/><circle cx="403.3" cy="356.6" r="0.9"/><circle cx="357.0" cy="331.1" r="1.0"/><circle cx="337.7" cy="342.3" r="1.5"/><circle cx="411.2" cy="370.6" r="1.0"/><circle cx="343.7" cy="323.2" r="1.4"/><circle cx="347.9" cy="341.0" r="1.4"/><circle cx="328.7" cy="354.7" r="1.5"/><circle cx="374.5" cy="345.3" r="1.1"/><circle cx="336.6" cy="308.1" r="1.5"/><circle cx="334.4" cy="360.8" r="1.4"/><circle cx="358.3" cy="330.8" r="1.2"/><circle cx="328.3" cy="368.4" r="1.5"/><circle cx="406.8" cy="314.9" r="1.2"/><circle cx="360.9" cy="293.2" r="1.3"/><circle cx="344.0" cy="361.6" r="1.2"/><circle cx="365.5" cy="313.3" r="1.1"/><circle cx="344.3" cy="299.5" r="1.4"/><circle cx="409.0" cy="298.1" r="1.4"/><circle cx="373.0" cy="313.5" r="0.9"/><circle cx="359.8" cy="294.0" r="1.1"/><circle cx="394.1" cy="324.3" r="0.9"/><circle cx="356.3" cy="339.9" r="1.5"/><circle cx="361.0" cy="298.1" r="0.9"/><circle cx="385.9" cy="305.6" r="0.9"/><circle cx="354.4" cy="351.2" r="1.1"/><circle cx="372.6" cy="343.8" r="1.4"/><circle cx="406.3" cy="363.2" r="1.1"/><circle cx="364.0" cy="361.7" r="1.2"/><circle cx="397.2" cy="308.8" r="0.9"/><circle cx="382.9" cy="350.3" r="1.0"/><circle cx="407.2" cy="316.6" r="1.4"/><circle cx="373.2" cy="336.4" r="1.4"/><circle cx="364.0" cy="309.5" r="1.1"/><circle cx="401.9" cy="325.6" r="0.9"/><circle cx="355.9" cy="326.5" r="0.9"/><circle cx="363.5" cy="312.5" r="1.5"/><circle cx="391.5" cy="326.6" r="1.4"/><circle cx="372.2" cy="318.6" r="1.1"/><circle cx="380.1" cy="305.5" r="1.4"/><circle cx="359.5" cy="371.8" r="1.0"/><circle cx="398.5" cy="347.6" r="1.0"/><circle cx="362.2" cy="361.1" r="1.3"/><circle cx="409.5" cy="319.5" r="1.5"/><circle cx="338.8" cy="341.4" r="1.5"/><circle cx="369.4" cy="339.4" r="1.0"/><circle cx="326.9" cy="364.9" r="1.5"/><circle cx="377.2" cy="304.1" r="1.5"/><circle cx="358.9" cy="329.2" r="0.9"/><circle cx="380.6" cy="349.4" r="0.9"/><circle cx="380.8" cy="332.3" r="0.9"/><circle cx="395.2" cy="294.5" r="1.3"/><circle cx="367.7" cy="337.8" r="1.1"/><circle cx="379.3" cy="304.9" r="1.4"/><circle cx="385.3" cy="294.5" r="1.2"/><circle cx="346.1" cy="327.3" r="1.4"/><circle cx="402.3" cy="340.0" r="1.1"/><circle cx="335.8" cy="305.3" r="1.1"/><circle cx="385.0" cy="315.7" r="1.2"/><circle cx="344.2" cy="327.1" r="1.5"/><circle cx="363.4" cy="333.4" r="1.1"/><circle cx="403.0" cy="364.9" r="1.5"/><circle cx="334.3" cy="343.8" r="1.2"/><circle cx="391.1" cy="296.2" r="1.1"/><circle cx="366.6" cy="306.3" r="1.4"/><circle cx="373.8" cy="370.0" r="0.9"/><circle cx="336.7" cy="341.4" r="1.1"/><circle cx="328.3" cy="313.8" r="1.1"/><circle cx="341.1" cy="349.3" r="1.5"/><circle cx="335.4" cy="303.7" r="1.3"/><circle cx="361.1" cy="299.2" r="1.1"/><circle cx="324.6" cy="327.1" r="1.1"/><circle cx="402.1" cy="359.9" r="1.2"/><circle cx="390.2" cy="345.8" r="1.3"/><circle cx="380.8" cy="298.0" r="1.4"/><circle cx="366.3" cy="293.6" r="1.3"/><circle cx="389.5" cy="303.4" r="0.9"/><circle cx="385.0" cy="332.6" r="1.4"/><circle cx="369.5" cy="345.9" r="1.0"/><circle cx="396.3" cy="364.3" r="0.9"/><circle cx="405.5" cy="336.5" r="1.1"/><circle cx="367.6" cy="331.8" r="1.3"/><circle cx="401.2" cy="302.9" r="1.0"/><circle cx="331.0" cy="347.5" r="1.4"/><circle cx="336.8" cy="333.2" r="1.0"/><circle cx="390.0" cy="316.6" r="1.1"/><circle cx="325.2" cy="297.4" r="0.9"/><circle cx="384.3" cy="319.1" r="1.5"/><circle cx="330.8" cy="337.8" r="1.4"/><circle cx="356.8" cy="318.5" r="1.3"/><circle cx="325.6" cy="323.7" r="1.4"/><circle cx="399.5" cy="328.2" r="0.9"/><circle cx="396.8" cy="306.1" r="1.3"/><circle cx="326.9" cy="307.9" r="1.0"/><circle cx="386.3" cy="372.7" r="1.5"/><circle cx="391.9" cy="304.9" r="1.1"/><circle cx="370.2" cy="308.4" r="1.2"/><circle cx="336.3" cy="323.8" r="1.5"/><circle cx="391.2" cy="319.6" r="1.5"/><circle cx="351.0" cy="302.0" r="1.4"/><circle cx="406.5" cy="304.4" r="1.4"/><circle cx="406.2" cy="336.2" r="1.1"/><circle cx="364.0" cy="369.6" r="1.2"/><circle cx="356.4" cy="364.9" r="1.5"/><circle cx="371.8" cy="317.6" r="1.2"/><circle cx="371.8" cy="317.6" r="1.1"/><circle cx="343.6" cy="369.5" r="0.9"/><circle cx="334.2" cy="366.1" r="1.4"/><circle cx="342.5" cy="311.2" r="1.3"/><circle cx="390.0" cy="354.9" r="1.0"/><circle cx="368.3" cy="311.0" r="1.2"/><circle cx="375.8" cy="329.6" r="1.1"/><circle cx="356.4" cy="353.7" r="0.9"/><circle cx="407.5" cy="308.4" r="1.1"/><circle cx="343.4" cy="329.3" r="1.0"/><circle cx="343.6" cy="365.6" r="1.2"/><circle cx="336.1" cy="331.0" r="1.4"/><circle cx="407.7" cy="305.4" r="1.3"/><circle cx="363.0" cy="306.5" r="0.9"/><circle cx="407.4" cy="316.8" r="1.3"/><circle cx="340.1" cy="293.2" r="1.4"/><circle cx="403.1" cy="351.0" r="1.4"/><circle cx="397.9" cy="351.0" r="1.1"/><circle cx="332.7" cy="363.0" r="1.4"/><circle cx="336.9" cy="359.3" r="1.1"/><circle cx="381.0" cy="309.3" r="1.0"/><circle cx="401.6" cy="368.3" r="0.9"/><circle cx="407.7" cy="330.8" r="0.9"/><circle cx="365.8" cy="292.6" r="1.4"/><circle cx="406.3" cy="337.3" r="1.0"/><circle cx="335.5" cy="359.2" r="1.1"/><circle cx="326.8" cy="350.4" r="1.5"/><circle cx="403.7" cy="345.6" r="1.2"/><circle cx="338.5" cy="354.1" r="1.2"/><circle cx="410.5" cy="320.1" r="1.3"/><circle cx="341.9" cy="338.1" r="1.0"/><circle cx="338.3" cy="326.3" r="1.3"/><circle cx="401.7" cy="291.9" r="1.0"/><circle cx="409.5" cy="371.4" r="1.3"/><circle cx="347.9" cy="308.7" r="1.2"/><circle cx="350.9" cy="331.0" r="1.2"/><circle cx="398.7" cy="317.6" r="0.9"/><circle cx="397.2" cy="367.8" r="0.9"/><circle cx="374.8" cy="358.2" r="1.2"/><circle cx="363.0" cy="329.0" r="1.3"/><circle cx="378.7" cy="291.6" r="0.9"/><circle cx="376.1" cy="350.7" r="1.5"/><circle cx="378.5" cy="320.0" r="0.9"/><circle cx="343.1" cy="350.7" r="1.4"/><circle cx="374.6" cy="339.2" r="0.9"/><circle cx="370.0" cy="366.7" r="1.5"/><circle cx="332.3" cy="356.0" r="1.0"/><circle cx="355.2" cy="292.9" r="1.2"/><circle cx="403.8" cy="334.5" r="1.5"/><circle cx="341.7" cy="368.5" r="1.5"/><circle cx="406.6" cy="313.8" r="1.3"/><circle cx="347.1" cy="310.5" r="1.1"/><circle cx="403.7" cy="323.4" r="1.4"/><circle cx="366.4" cy="337.3" r="1.1"/><circle cx="361.1" cy="319.6" r="1.1"/><circle cx="384.2" cy="370.4" r="1.4"/><circle cx="353.0" cy="367.6" r="1.2"/><circle cx="367.3" cy="358.4" r="1.0"/><circle cx="331.0" cy="369.5" r="1.0"/><circle cx="380.9" cy="366.1" r="1.3"/><circle cx="343.1" cy="333.0" r="1.0"/><circle cx="392.2" cy="353.6" r="1.1"/><circle cx="371.4" cy="353.7" r="1.0"/><circle cx="337.3" cy="324.4" r="1.4"/><circle cx="328.4" cy="304.1" r="1.4"/><circle cx="385.1" cy="321.4" r="1.5"/><circle cx="327.2" cy="350.8" r="1.1"/><circle cx="398.8" cy="320.4" r="1.2"/><circle cx="362.3" cy="354.7" r="1.4"/><circle cx="365.6" cy="362.4" r="1.4"/><circle cx="355.9" cy="322.9" r="1.3"/><circle cx="354.3" cy="355.2" r="1.3"/><circle cx="411.9" cy="300.5" r="1.5"/><circle cx="378.1" cy="310.0" r="1.3"/><circle cx="351.5" cy="338.2" r="1.2"/><circle cx="327.9" cy="293.2" r="1.3"/><circle cx="369.9" cy="329.2" r="1.5"/><circle cx="359.1" cy="342.8" r="1.0"/><circle cx="334.4" cy="331.5" r="1.5"/><circle cx="340.7" cy="298.1" r="1.2"/><circle cx="372.8" cy="340.6" r="1.3"/><circle cx="388.5" cy="334.0" r="1.2"/><circle cx="394.3" cy="343.6" r="1.5"/><circle cx="342.7" cy="371.6" r="0.9"/><circle cx="367.9" cy="292.7" r="1.4"/><circle cx="396.8" cy="307.3" r="1.0"/><circle cx="328.3" cy="294.4" r="0.9"/><circle cx="357.8" cy="355.8" r="0.9"/><circle cx="395.1" cy="303.2" r="1.4"/><circle cx="408.0" cy="314.6" r="1.5"/><circle cx="345.5" cy="323.6" r="1.4"/><circle cx="346.2" cy="307.1" r="0.9"/><circle cx="347.6" cy="293.4" r="1.3"/><circle cx="327.3" cy="301.5" r="0.9"/><circle cx="367.5" cy="309.9" r="1.1"/><circle cx="378.2" cy="348.8" r="1.2"/><circle cx="330.3" cy="349.6" r="1.2"/><circle cx="368.1" cy="316.3" r="1.3"/><circle cx="378.4" cy="323.7" r="1.4"/><circle cx="396.8" cy="308.3" r="1.4"/><circle cx="358.6" cy="314.2" r="1.3"/><circle cx="399.2" cy="330.8" r="1.3"/><circle cx="377.8" cy="300.6" r="1.4"/></g>
<g fill="#9d648c"><circle cx="328.2" cy="320.1" r="1.1"/><circle cx="374.3" cy="296.2" r="1.0"/><circle cx="382.6" cy="307.1" r="1.0"/><circle cx="408.6" cy="298.5" r="1.3"/><circle cx="325.7" cy="349.6" r="1.3"/><circle cx="345.5" cy="300.8" r="1.3"/><circle cx="373.6" cy="308.1" r="0.9"/><circle cx="397.2" cy="308.0" r="1.2"/><circle cx="330.3" cy="305.3" r="1.5"/><circle cx="404.7" cy="351.3" r="1.3"/><circle cx="390.4" cy="300.2" r="1.2"/><circle cx="345.6" cy="327.5" r="1.0"/><circle cx="336.6" cy="363.3" r="0.9"/><circle cx="389.1" cy="319.7" r="1.4"/><circle cx="383.1" cy="358.2" r="1.0"/><circle cx="327.8" cy="315.3" r="0.9"/><circle cx="361.6" cy="347.3" r="0.9"/><circle cx="338.0" cy="352.9" r="1.0"/><circle cx="355.8" cy="364.5" r="1.4"/><circle cx="345.7" cy="300.0" r="1.2"/><circle cx="349.4" cy="310.1" r="0.9"/><circle cx="353.2" cy="325.2" r="1.1"/><circle cx="350.5" cy="347.9" r="1.2"/><circle cx="338.3" cy="344.9" r="1.4"/><circle cx="398.9" cy="323.9" r="1.3"/><circle cx="365.3" cy="320.2" r="0.9"/><circle cx="353.5" cy="335.8" r="1.2"/><circle cx="335.0" cy="339.1" r="1.4"/><circle cx="401.0" cy="334.6" r="1.4"/><circle cx="384.2" cy="297.5" r="0.9"/><circle cx="401.5" cy="366.0" r="1.0"/><circle cx="405.1" cy="342.1" r="1.3"/><circle cx="358.2" cy="320.0" r="1.2"/><circle cx="339.3" cy="296.7" r="1.0"/><circle cx="334.2" cy="300.8" r="1.3"/><circle cx="383.5" cy="361.7" r="1.0"/><circle cx="382.8" cy="345.7" r="1.2"/><circle cx="358.9" cy="322.0" r="1.2"/><circle cx="376.6" cy="364.4" r="0.9"/><circle cx="379.8" cy="298.6" r="1.2"/><circle cx="346.4" cy="295.1" r="1.0"/><circle cx="364.0" cy="346.5" r="1.3"/><circle cx="356.2" cy="295.8" r="1.5"/><circle cx="329.0" cy="351.0" r="1.3"/><circle cx="339.5" cy="370.5" r="0.9"/><circle cx="396.6" cy="330.3" r="1.0"/><circle cx="388.4" cy="347.1" r="1.1"/><circle cx="392.7" cy="340.9" r="1.3"/><circle cx="401.7" cy="369.6" r="1.1"/><circle cx="378.2" cy="345.0" r="1.1"/><circle cx="384.3" cy="326.6" r="1.2"/><circle cx="332.8" cy="366.9" r="1.2"/><circle cx="406.2" cy="351.4" r="1.0"/><circle cx="370.0" cy="344.0" r="1.2"/><circle cx="392.1" cy="319.8" r="1.1"/><circle cx="356.6" cy="293.1" r="1.2"/><circle cx="338.4" cy="345.3" r="1.1"/><circle cx="366.8" cy="322.1" r="1.2"/><circle cx="353.9" cy="369.0" r="1.3"/><circle cx="350.1" cy="323.8" r="1.3"/><circle cx="375.7" cy="291.9" r="1.2"/><circle cx="375.4" cy="361.5" r="1.2"/><circle cx="345.3" cy="347.6" r="1.3"/><circle cx="396.2" cy="370.8" r="1.3"/><circle cx="391.1" cy="330.9" r="1.2"/><circle cx="391.8" cy="347.7" r="1.0"/><circle cx="393.8" cy="345.3" r="1.1"/><circle cx="390.8" cy="368.0" r="0.9"/><circle cx="400.7" cy="357.5" r="1.3"/><circle cx="324.8" cy="373.1" r="1.1"/><circle cx="338.5" cy="347.9" r="1.4"/><circle cx="349.6" cy="371.9" r="1.2"/><circle cx="385.0" cy="309.8" r="1.2"/><circle cx="404.4" cy="338.0" r="1.2"/><circle cx="398.7" cy="343.6" r="1.3"/><circle cx="375.8" cy="325.9" r="1.2"/><circle cx="404.2" cy="337.7" r="1.3"/><circle cx="338.2" cy="345.8" r="1.2"/><circle cx="389.5" cy="332.3" r="1.0"/><circle cx="344.5" cy="341.4" r="1.5"/><circle cx="358.9" cy="342.3" r="1.1"/><circle cx="401.0" cy="348.3" r="1.2"/><circle cx="386.2" cy="338.3" r="1.4"/><circle cx="348.1" cy="336.9" r="1.4"/><circle cx="370.6" cy="300.8" r="0.9"/><circle cx="327.4" cy="310.9" r="1.1"/><circle cx="407.9" cy="312.4" r="1.0"/><circle cx="379.4" cy="296.7" r="1.3"/><circle cx="359.1" cy="332.0" r="1.5"/><circle cx="366.2" cy="361.3" r="1.4"/><circle cx="347.2" cy="334.5" r="1.5"/><circle cx="353.0" cy="370.3" r="1.0"/><circle cx="410.7" cy="308.0" r="1.3"/><circle cx="364.1" cy="318.2" r="1.5"/><circle cx="356.1" cy="316.3" r="0.9"/><circle cx="386.7" cy="372.4" r="1.1"/><circle cx="388.0" cy="325.2" r="1.5"/><circle cx="393.7" cy="370.1" r="1.5"/><circle cx="378.2" cy="361.1" r="0.9"/><circle cx="326.2" cy="318.2" r="1.2"/><circle cx="356.7" cy="333.1" r="1.2"/><circle cx="374.8" cy="293.4" r="1.4"/><circle cx="357.3" cy="332.1" r="1.5"/><circle cx="403.4" cy="295.5" r="1.1"/><circle cx="333.5" cy="362.7" r="1.5"/><circle cx="395.5" cy="293.2" r="1.2"/><circle cx="327.8" cy="298.3" r="1.3"/><circle cx="394.3" cy="294.8" r="1.5"/><circle cx="366.4" cy="355.8" r="1.3"/><circle cx="361.0" cy="330.4" r="1.3"/><circle cx="364.6" cy="296.7" r="1.1"/><circle cx="352.1" cy="320.4" r="1.0"/><circle cx="407.6" cy="322.2" r="1.2"/><circle cx="332.4" cy="316.5" r="1.5"/><circle cx="388.4" cy="332.7" r="1.0"/><circle cx="359.3" cy="342.8" r="0.9"/><circle cx="366.0" cy="372.9" r="1.4"/><circle cx="364.8" cy="298.5" r="1.4"/><circle cx="409.1" cy="316.7" r="0.9"/><circle cx="404.0" cy="340.9" r="1.2"/><circle cx="355.8" cy="371.4" r="0.9"/><circle cx="400.4" cy="295.7" r="1.4"/><circle cx="371.1" cy="312.8" r="1.3"/><circle cx="331.2" cy="337.8" r="1.4"/><circle cx="327.0" cy="295.0" r="1.5"/><circle cx="382.5" cy="304.6" r="0.9"/><circle cx="350.8" cy="341.1" r="1.3"/><circle cx="374.1" cy="356.3" r="1.2"/><circle cx="357.7" cy="299.7" r="1.1"/><circle cx="355.0" cy="327.2" r="1.5"/><circle cx="342.1" cy="300.2" r="1.4"/><circle cx="371.6" cy="364.3" r="1.2"/><circle cx="404.2" cy="328.1" r="1.5"/><circle cx="358.1" cy="365.6" r="1.1"/><circle cx="396.9" cy="325.7" r="1.2"/><circle cx="361.2" cy="332.7" r="1.1"/><circle cx="345.6" cy="354.6" r="1.2"/><circle cx="378.2" cy="309.4" r="1.2"/><circle cx="411.2" cy="291.5" r="0.9"/><circle cx="384.8" cy="315.9" r="0.9"/><circle cx="395.9" cy="328.0" r="1.3"/><circle cx="372.1" cy="352.6" r="1.0"/><circle cx="396.9" cy="333.5" r="1.1"/><circle cx="383.6" cy="323.1" r="1.1"/><circle cx="338.8" cy="359.6" r="0.9"/><circle cx="363.1" cy="371.7" r="0.9"/><circle cx="340.9" cy="367.5" r="1.1"/><circle cx="350.9" cy="367.8" r="1.1"/><circle cx="350.5" cy="353.2" r="1.2"/><circle cx="371.4" cy="297.9" r="1.3"/><circle cx="355.4" cy="360.8" r="1.1"/><circle cx="377.0" cy="324.8" r="1.5"/><circle cx="360.2" cy="315.2" r="0.9"/><circle cx="361.0" cy="322.8" r="1.5"/><circle cx="378.1" cy="295.4" r="1.2"/><circle cx="395.6" cy="298.7" r="1.2"/><circle cx="355.8" cy="363.3" r="1.4"/><circle cx="355.5" cy="348.8" r="1.5"/><circle cx="399.3" cy="292.7" r="1.3"/><circle cx="355.9" cy="348.5" r="1.0"/><circle cx="378.3" cy="297.3" r="1.1"/><circle cx="397.1" cy="331.4" r="1.5"/><circle cx="332.9" cy="293.4" r="1.0"/><circle cx="341.9" cy="308.9" r="1.3"/><circle cx="404.2" cy="342.1" r="1.2"/><circle cx="342.6" cy="341.3" r="1.0"/><circle cx="344.2" cy="329.7" r="1.4"/><circle cx="350.3" cy="317.5" r="1.3"/><circle cx="349.4" cy="334.4" r="1.4"/><circle cx="337.3" cy="357.8" r="1.2"/><circle cx="339.6" cy="367.8" r="1.2"/><circle cx="331.7" cy="372.5" r="1.0"/><circle cx="379.0" cy="352.3" r="1.2"/><circle cx="353.0" cy="372.0" r="1.1"/><circle cx="349.1" cy="353.3" r="0.9"/><circle cx="395.9" cy="314.3" r="1.4"/><circle cx="328.2" cy="320.8" r="1.5"/><circle cx="395.9" cy="355.5" r="1.3"/><circle cx="351.4" cy="351.8" r="0.9"/><circle cx="324.9" cy="328.4" r="1.5"/><circle cx="328.5" cy="345.3" r="1.0"/><circle cx="383.0" cy="321.3" r="1.0"/><circle cx="374.1" cy="294.8" r="1.1"/><circle cx="325.7" cy="300.8" r="0.9"/><circle cx="393.5" cy="329.8" r="1.4"/><circle cx="382.5" cy="307.0" r="1.2"/><circle cx="396.5" cy="372.5" r="0.9"/><circle cx="377.3" cy="369.9" r="0.9"/><circle cx="369.0" cy="337.1" r="1.4"/><circle cx="332.2" cy="358.9" r="1.0"/><circle cx="330.8" cy="303.3" r="1.0"/><circle cx="395.0" cy="352.6" r="1.4"/><circle cx="364.3" cy="331.9" r="1.2"/><circle cx="342.2" cy="298.9" r="1.2"/><circle cx="376.5" cy="295.7" r="1.3"/><circle cx="374.8" cy="348.5" r="1.5"/><circle cx="325.6" cy="364.8" r="1.1"/><circle cx="341.9" cy="364.4" r="0.9"/><circle cx="374.5" cy="328.6" r="1.0"/><circle cx="325.6" cy="356.9" r="1.2"/><circle cx="359.1" cy="293.7" r="1.5"/></g>
<g fill="#ad7b9a"><circle cx="359.7" cy="359.6" r="1.4"/><circle cx="327.8" cy="292.9" r="1.4"/><circle cx="378.2" cy="324.4" r="0.9"/><circle cx="363.8" cy="368.0" r="1.3"/><circle cx="382.9" cy="331.9" r="1.4"/><circle cx="398.1" cy="338.8" r="1.3"/><circle cx="377.6" cy="366.0" r="1.5"/><circle cx="367.1" cy="338.2" r="1.4"/><circle cx="365.4" cy="350.0" r="1.1"/><circle cx="399.7" cy="362.9" r="1.0"/><circle cx="361.9" cy="297.3" r="1.1"/><circle cx="347.2" cy="366.7" r="1.4"/><circle cx="331.1" cy="337.9" r="1.0"/><circle cx="375.3" cy="325.4" r="1.1"/><circle cx="378.4" cy="308.1" r="1.3"/><circle cx="328.9" cy="330.7" r="1.5"/><circle cx="406.1" cy="316.4" r="1.1"/><circle cx="350.4" cy="315.9" r="1.3"/><circle cx="339.9" cy="294.7" r="1.0"/><circle cx="404.3" cy="299.5" r="1.5"/><circle cx="369.9" cy="326.3" r="1.0"/><circle cx="385.4" cy="364.4" r="1.2"/><circle cx="375.5" cy="352.3" r="1.1"/><circle cx="409.9" cy="299.3" r="1.3"/><circle cx="379.5" cy="294.8" r="1.1"/><circle cx="353.8" cy="301.5" r="1.0"/><circle cx="376.2" cy="359.8" r="1.2"/><circle cx="397.6" cy="311.9" r="0.9"/><circle cx="402.0" cy="293.8" r="1.3"/><circle cx="381.3" cy="323.3" r="1.0"/><circle cx="373.1" cy="325.4" r="0.9"/><circle cx="382.8" cy="343.8" r="1.5"/><circle cx="334.6" cy="314.3" r="1.4"/><circle cx="408.4" cy="369.8" r="1.2"/><circle cx="331.1" cy="292.6" r="1.5"/><circle cx="408.1" cy="328.5" r="1.0"/><circle cx="395.5" cy="315.8" r="1.2"/><circle cx="331.4" cy="297.0" r="0.9"/><circle cx="390.5" cy="322.2" r="1.2"/><circle cx="372.0" cy="304.6" r="1.4"/><circle cx="400.9" cy="295.2" r="1.2"/><circle cx="381.5" cy="323.9" r="1.4"/><circle cx="368.4" cy="325.3" r="1.1"/><circle cx="329.2" cy="314.8" r="1.1"/><circle cx="354.6" cy="370.7" r="1.0"/><circle cx="358.6" cy="302.8" r="1.4"/><circle cx="357.2" cy="351.4" r="0.9"/><circle cx="383.3" cy="315.4" r="1.4"/><circle cx="367.0" cy="358.0" r="1.0"/><circle cx="362.2" cy="293.2" r="1.1"/><circle cx="409.1" cy="327.6" r="1.1"/><circle cx="333.6" cy="348.8" r="1.0"/><circle cx="401.3" cy="355.0" r="1.0"/><circle cx="385.3" cy="315.3" r="1.0"/><circle cx="384.7" cy="336.0" r="1.1"/><circle cx="401.7" cy="335.3" r="1.0"/><circle cx="402.0" cy="304.8" r="0.9"/><circle cx="350.9" cy="343.1" r="1.2"/><circle cx="373.4" cy="336.0" r="1.2"/><circle cx="378.8" cy="298.3" r="1.4"/><circle cx="348.9" cy="302.3" r="1.4"/><circle cx="355.6" cy="323.3" r="1.3"/><circle cx="385.3" cy="347.3" r="1.0"/><circle cx="411.8" cy="320.3" r="1.1"/><circle cx="359.0" cy="327.3" r="1.3"/><circle cx="398.9" cy="358.4" r="1.4"/><circle cx="381.7" cy="365.4" r="1.0"/><circle cx="350.7" cy="352.9" r="1.1"/><circle cx="406.9" cy="293.8" r="0.9"/><circle cx="393.7" cy="299.8" r="1.0"/><circle cx="334.8" cy="305.3" r="1.0"/><circle cx="339.8" cy="327.9" r="0.9"/><circle cx="380.2" cy="371.0" r="1.0"/><circle cx="336.5" cy="341.3" r="1.3"/><circle cx="378.9" cy="361.0" r="1.5"/><circle cx="370.8" cy="324.8" r="1.0"/><circle cx="367.0" cy="329.7" r="1.3"/><circle cx="404.8" cy="341.4" r="1.1"/><circle cx="376.7" cy="295.9" r="1.3"/><circle cx="403.6" cy="292.7" r="1.0"/><circle cx="347.2" cy="318.9" r="1.0"/><circle cx="341.5" cy="336.5" r="1.2"/><circle cx="338.6" cy="336.4" r="1.4"/><circle cx="337.7" cy="366.9" r="1.5"/><circle cx="350.4" cy="312.3" r="1.2"/><circle cx="335.3" cy="342.2" r="1.2"/><circle cx="332.3" cy="296.1" r="1.0"/><circle cx="335.1" cy="312.6" r="1.1"/><circle cx="397.8" cy="368.3" r="1.2"/><circle cx="337.3" cy="366.3" r="1.3"/><circle cx="373.2" cy="302.2" r="0.9"/><circle cx="400.1" cy="333.3" r="1.5"/><circle cx="397.9" cy="325.8" r="1.0"/><circle cx="340.7" cy="304.8" r="1.4"/><circle cx="334.4" cy="301.1" r="1.3"/><circle cx="408.5" cy="308.1" r="1.2"/><circle cx="387.0" cy="323.6" r="0.9"/><circle cx="408.7" cy="331.1" r="1.1"/><circle cx="387.2" cy="339.9" r="1.5"/><circle cx="337.8" cy="343.2" r="1.0"/><circle cx="331.4" cy="316.0" r="1.2"/><circle cx="342.1" cy="354.3" r="0.9"/><circle cx="357.6" cy="319.1" r="1.2"/><circle cx="382.9" cy="312.3" r="1.2"/><circle cx="325.5" cy="300.2" r="1.1"/><circle cx="388.3" cy="352.3" r="0.9"/><circle cx="394.8" cy="351.5" r="1.0"/><circle cx="364.0" cy="333.0" r="1.2"/><circle cx="370.7" cy="336.4" r="1.2"/><circle cx="380.9" cy="361.8" r="1.0"/><circle cx="378.2" cy="353.5" r="1.5"/><circle cx="329.0" cy="314.8" r="1.1"/><circle cx="347.8" cy="316.9" r="1.5"/><circle cx="404.4" cy="347.8" r="1.2"/><circle cx="392.3" cy="298.8" r="1.0"/><circle cx="341.6" cy="300.9" r="1.2"/><circle cx="387.6" cy="310.0" r="0.9"/><circle cx="351.8" cy="320.7" r="0.9"/><circle cx="356.3" cy="345.1" r="0.9"/><circle cx="364.9" cy="303.2" r="1.1"/><circle cx="383.1" cy="320.7" r="1.4"/><circle cx="395.3" cy="301.0" r="1.2"/><circle cx="339.8" cy="312.1" r="1.1"/><circle cx="402.9" cy="338.6" r="1.1"/><circle cx="382.6" cy="337.8" r="1.0"/><circle cx="348.0" cy="307.0" r="1.3"/><circle cx="386.7" cy="323.2" r="0.9"/><circle cx="397.9" cy="347.7" r="1.0"/><circle cx="380.0" cy="308.1" r="1.5"/><circle cx="401.5" cy="348.2" r="1.0"/><circle cx="325.7" cy="296.5" r="1.1"/><circle cx="379.1" cy="360.4" r="1.4"/><circle cx="394.0" cy="330.7" r="1.1"/><circle cx="365.4" cy="349.2" r="1.1"/><circle cx="370.0" cy="371.0" r="1.4"/><circle cx="353.0" cy="347.1" r="1.3"/><circle cx="353.2" cy="337.9" r="1.3"/><circle cx="402.9" cy="337.1" r="1.0"/><circle cx="371.1" cy="296.2" r="1.4"/><circle cx="408.8" cy="361.0" r="0.9"/><circle cx="388.3" cy="322.8" r="1.3"/><circle cx="365.6" cy="333.0" r="1.2"/><circle cx="372.2" cy="292.4" r="1.1"/><circle cx="382.8" cy="370.3" r="1.0"/><circle cx="388.3" cy="326.2" r="1.2"/><circle cx="345.4" cy="346.7" r="1.4"/><circle cx="361.9" cy="323.8" r="1.1"/><circle cx="350.9" cy="341.7" r="1.2"/><circle cx="410.9" cy="320.5" r="1.2"/><circle cx="351.2" cy="327.9" r="1.0"/><circle cx="340.2" cy="341.4" r="1.4"/><circle cx="361.6" cy="330.1" r="0.9"/><circle cx="361.4" cy="328.2" r="1.0"/><circle cx="364.5" cy="329.5" r="1.4"/><circle cx="411.4" cy="372.7" r="1.3"/><circle cx="396.6" cy="309.3" r="1.2"/><circle cx="383.3" cy="310.6" r="1.0"/><circle cx="360.1" cy="333.5" r="1.0"/><circle cx="327.6" cy="367.4" r="1.3"/><circle cx="326.8" cy="370.2" r="1.5"/><circle cx="386.9" cy="319.1" r="1.5"/><circle cx="345.7" cy="310.1" r="1.5"/><circle cx="327.8" cy="371.6" r="1.0"/><circle cx="357.7" cy="347.9" r="0.9"/><circle cx="329.7" cy="331.4" r="0.9"/><circle cx="337.4" cy="345.6" r="1.0"/><circle cx="348.5" cy="369.3" r="1.3"/><circle cx="324.6" cy="340.2" r="1.2"/><circle cx="335.5" cy="312.3" r="1.0"/><circle cx="402.9" cy="315.3" r="1.5"/><circle cx="345.7" cy="304.9" r="1.4"/><circle cx="359.7" cy="360.4" r="1.2"/><circle cx="410.2" cy="320.9" r="1.3"/><circle cx="380.8" cy="332.3" r="1.1"/><circle cx="364.0" cy="369.1" r="1.1"/><circle cx="404.3" cy="362.5" r="1.1"/><circle cx="406.3" cy="367.1" r="0.9"/><circle cx="363.4" cy="354.5" r="1.3"/><circle cx="380.4" cy="358.7" r="1.3"/><circle cx="368.6" cy="329.9" r="0.9"/><circle cx="374.7" cy="369.6" r="1.5"/><circle cx="379.8" cy="368.2" r="1.1"/><circle cx="405.6" cy="292.4" r="1.4"/><circle cx="390.7" cy="330.0" r="1.4"/><circle cx="381.7" cy="363.9" r="0.9"/><circle cx="341.7" cy="322.5" r="0.9"/><circle cx="398.5" cy="370.5" r="1.5"/><circle cx="396.0" cy="313.5" r="1.0"/><circle cx="379.9" cy="359.6" r="1.5"/><circle cx="354.1" cy="340.2" r="0.9"/><circle cx="376.4" cy="341.9" r="1.1"/><circle cx="382.3" cy="330.5" r="1.4"/><circle cx="403.5" cy="337.4" r="0.9"/><circle cx="361.9" cy="324.1" r="1.0"/><circle cx="370.4" cy="332.4" r="1.2"/><circle cx="351.7" cy="318.5" r="1.4"/><circle cx="327.5" cy="323.9" r="1.0"/><circle cx="374.9" cy="312.5" r="1.1"/><circle cx="344.0" cy="356.8" r="1.4"/><circle cx="382.5" cy="362.0" r="0.9"/><circle cx="398.4" cy="300.6" r="0.9"/><circle cx="395.8" cy="309.3" r="1.3"/><circle cx="325.1" cy="369.9" r="1.5"/><circle cx="354.8" cy="323.9" r="1.5"/><circle cx="341.6" cy="326.8" r="1.1"/><circle cx="326.8" cy="370.2" r="1.3"/><circle cx="339.7" cy="362.6" r="0.9"/><circle cx="342.6" cy="313.0" r="1.5"/><circle cx="361.4" cy="304.6" r="1.3"/><circle cx="388.2" cy="357.8" r="1.1"/><circle cx="382.3" cy="335.9" r="1.1"/></g>
<ellipse cx="351" cy="368" rx="3" ry="2" fill="#e4e6e1"/>
<ellipse cx="397" cy="361" rx="2.5" ry="2" fill="#e4e6e1"/>
</g></g>
<rect x="326.5" y="293.5" width="83.69999999999999" height="77.69999999999999" fill="none" stroke="#2a2a2a" stroke-width="1.3"/>
<clipPath id="c4"><rect x="412.6" y="293.5" width="84.09999999999997" height="77.69999999999999"/></clipPath>
<g clip-path="url(#c4)"><g filter="url(#hb)">
<rect x="410.6" y="291.5" width="88.09999999999997" height="81.69999999999999" fill="#dfc3d1"/>
<g fill="#efe2e9"><circle cx="421.6" cy="348.1" r="1.5"/><circle cx="491.7" cy="314.6" r="1.1"/><circle cx="474.3" cy="344.7" r="1.1"/><circle cx="470.1" cy="324.3" r="1.6"/><circle cx="422.6" cy="310.8" r="1.7"/><circle cx="442.7" cy="313.7" r="1.6"/><circle cx="465.7" cy="305.1" r="1.4"/><circle cx="468.4" cy="306.3" r="1.5"/><circle cx="422.9" cy="319.7" r="0.9"/><circle cx="429.8" cy="369.5" r="1.2"/><circle cx="495.9" cy="327.6" r="1.4"/><circle cx="486.0" cy="346.9" r="0.9"/><circle cx="462.1" cy="342.7" r="1.0"/><circle cx="420.6" cy="361.5" r="1.3"/><circle cx="428.9" cy="328.7" r="1.0"/><circle cx="479.7" cy="332.4" r="0.9"/><circle cx="481.4" cy="300.5" r="1.1"/><circle cx="415.0" cy="351.0" r="0.9"/><circle cx="456.8" cy="300.7" r="1.3"/><circle cx="470.2" cy="335.1" r="1.3"/><circle cx="453.4" cy="327.5" r="1.4"/><circle cx="420.6" cy="330.4" r="1.0"/><circle cx="485.4" cy="366.5" r="0.9"/><circle cx="424.7" cy="348.2" r="1.4"/><circle cx="414.2" cy="348.3" r="1.7"/><circle cx="448.2" cy="320.5" r="1.4"/><circle cx="491.6" cy="314.0" r="1.1"/><circle cx="428.5" cy="342.3" r="1.3"/><circle cx="434.1" cy="323.6" r="0.8"/><circle cx="438.9" cy="369.9" r="1.4"/><circle cx="436.4" cy="366.2" r="1.2"/><circle cx="433.8" cy="296.2" r="0.9"/><circle cx="429.3" cy="311.4" r="1.7"/><circle cx="434.8" cy="312.8" r="1.4"/><circle cx="489.7" cy="316.1" r="1.6"/><circle cx="443.6" cy="337.1" r="1.4"/><circle cx="491.8" cy="352.3" r="1.3"/><circle cx="483.4" cy="322.0" r="1.2"/><circle cx="493.3" cy="335.9" r="1.6"/><circle cx="439.0" cy="364.6" r="1.4"/><circle cx="433.4" cy="366.0" r="1.3"/><circle cx="441.1" cy="313.9" r="0.9"/><circle cx="429.5" cy="347.3" r="0.9"/><circle cx="434.4" cy="328.3" r="1.3"/><circle cx="444.6" cy="354.5" r="1.1"/><circle cx="443.6" cy="326.5" r="0.9"/><circle cx="431.3" cy="304.9" r="1.5"/><circle cx="424.9" cy="345.4" r="1.0"/><circle cx="467.0" cy="344.5" r="1.2"/><circle cx="491.1" cy="344.5" r="1.4"/><circle cx="416.5" cy="325.1" r="1.1"/><circle cx="452.1" cy="366.0" r="1.7"/><circle cx="417.8" cy="346.3" r="1.7"/><circle cx="458.2" cy="301.0" r="1.7"/><circle cx="448.5" cy="369.7" r="1.7"/><circle cx="482.3" cy="365.9" r="0.9"/><circle cx="479.4" cy="317.2" r="0.9"/><circle cx="444.5" cy="339.3" r="0.8"/><circle cx="450.4" cy="354.4" r="1.3"/><circle cx="457.0" cy="316.5" r="1.8"/><circle cx="433.5" cy="346.4" r="1.4"/><circle cx="412.6" cy="370.9" r="1.0"/><circle cx="495.8" cy="365.6" r="1.7"/><circle cx="484.5" cy="324.4" r="1.2"/><circle cx="441.7" cy="366.2" r="0.8"/><circle cx="424.1" cy="367.8" r="1.6"/><circle cx="472.0" cy="368.7" r="1.3"/><circle cx="482.8" cy="327.9" r="1.7"/><circle cx="418.5" cy="327.6" r="1.4"/><circle cx="479.4" cy="326.3" r="1.5"/><circle cx="494.0" cy="326.0" r="1.0"/><circle cx="415.1" cy="360.5" r="1.3"/><circle cx="445.2" cy="333.9" r="0.9"/><circle cx="431.3" cy="311.8" r="1.1"/><circle cx="484.9" cy="312.7" r="0.9"/><circle cx="485.5" cy="336.9" r="0.8"/><circle cx="469.4" cy="346.8" r="1.4"/><circle cx="477.7" cy="326.4" r="1.0"/><circle cx="475.2" cy="342.1" r="1.5"/><circle cx="428.0" cy="322.5" r="1.5"/><circle cx="444.9" cy="340.3" r="1.3"/><circle cx="476.1" cy="320.6" r="1.3"/><circle cx="482.3" cy="317.6" r="1.0"/><circle cx="466.1" cy="303.8" r="1.7"/><circle cx="435.7" cy="363.8" r="1.3"/><circle cx="425.6" cy="334.0" r="1.5"/><circle cx="453.5" cy="342.9" r="1.2"/><circle cx="493.3" cy="307.1" r="1.6"/><circle cx="414.6" cy="332.9" r="0.9"/><circle cx="423.7" cy="339.2" r="1.7"/><circle cx="438.6" cy="324.8" r="1.3"/><circle cx="463.5" cy="320.7" r="1.2"/><circle cx="484.4" cy="336.7" r="1.2"/><circle cx="481.4" cy="371.1" r="1.2"/><circle cx="413.9" cy="317.2" r="1.7"/><circle cx="427.1" cy="308.9" r="1.6"/><circle cx="422.2" cy="359.5" r="1.0"/><circle cx="445.2" cy="339.7" r="0.9"/><circle cx="477.8" cy="327.6" r="1.6"/><circle cx="476.9" cy="299.5" r="1.6"/><circle cx="481.6" cy="312.3" r="1.4"/><circle cx="429.9" cy="335.3" r="1.6"/><circle cx="444.3" cy="334.9" r="0.9"/><circle cx="485.2" cy="342.2" r="1.6"/><circle cx="419.4" cy="351.4" r="0.9"/><circle cx="459.4" cy="311.4" r="1.7"/><circle cx="421.5" cy="330.3" r="1.3"/><circle cx="445.1" cy="298.5" r="1.5"/><circle cx="494.3" cy="321.5" r="1.7"/><circle cx="441.1" cy="314.7" r="1.3"/><circle cx="494.4" cy="354.1" r="1.4"/><circle cx="415.9" cy="328.6" r="0.8"/><circle cx="417.8" cy="322.7" r="1.0"/><circle cx="421.3" cy="333.3" r="1.6"/><circle cx="490.5" cy="364.7" r="1.2"/><circle cx="427.6" cy="368.4" r="1.2"/><circle cx="441.4" cy="357.5" r="1.4"/><circle cx="492.7" cy="348.0" r="1.7"/><circle cx="425.5" cy="366.8" r="1.3"/><circle cx="471.2" cy="316.9" r="1.0"/><circle cx="437.6" cy="306.7" r="1.8"/><circle cx="422.6" cy="312.4" r="1.4"/><circle cx="429.8" cy="310.1" r="1.1"/><circle cx="432.3" cy="294.3" r="1.5"/><circle cx="468.0" cy="317.6" r="1.7"/><circle cx="459.6" cy="310.6" r="1.8"/><circle cx="431.9" cy="356.4" r="1.6"/><circle cx="412.8" cy="359.3" r="1.2"/><circle cx="454.8" cy="367.0" r="1.3"/><circle cx="432.9" cy="297.3" r="1.7"/><circle cx="450.9" cy="348.8" r="1.4"/><circle cx="495.0" cy="366.2" r="1.7"/><circle cx="455.0" cy="364.2" r="1.1"/><circle cx="423.0" cy="343.2" r="0.8"/><circle cx="494.4" cy="318.7" r="1.2"/><circle cx="437.1" cy="318.6" r="1.3"/><circle cx="480.0" cy="294.6" r="1.1"/><circle cx="433.3" cy="368.0" r="1.2"/><circle cx="450.0" cy="366.3" r="1.2"/><circle cx="444.9" cy="324.5" r="1.0"/><circle cx="471.8" cy="315.8" r="1.3"/><circle cx="460.7" cy="353.1" r="1.5"/><circle cx="453.1" cy="367.3" r="1.7"/><circle cx="491.5" cy="349.0" r="1.3"/><circle cx="442.9" cy="360.3" r="1.3"/><circle cx="475.5" cy="323.6" r="1.2"/><circle cx="414.1" cy="350.2" r="1.1"/><circle cx="454.1" cy="349.9" r="1.6"/><circle cx="492.1" cy="345.1" r="1.0"/><circle cx="490.7" cy="297.7" r="1.2"/></g>
<g fill="#b0799a"><circle cx="484.1" cy="318.3" r="1.0"/><circle cx="428.7" cy="362.7" r="1.1"/><circle cx="481.5" cy="342.0" r="1.1"/><circle cx="452.9" cy="365.2" r="0.7"/><circle cx="418.9" cy="326.6" r="1.2"/><circle cx="421.7" cy="316.1" r="0.7"/><circle cx="440.9" cy="295.6" r="1.3"/><circle cx="455.6" cy="372.7" r="1.0"/><circle cx="487.4" cy="350.1" r="1.1"/><circle cx="496.0" cy="332.8" r="1.3"/><circle cx="412.5" cy="350.3" r="1.1"/><circle cx="487.4" cy="301.8" r="1.0"/><circle cx="472.2" cy="328.1" r="0.8"/><circle cx="468.7" cy="332.7" r="0.8"/><circle cx="445.5" cy="337.7" r="1.1"/><circle cx="443.4" cy="364.9" r="0.8"/><circle cx="478.8" cy="295.2" r="0.9"/><circle cx="423.8" cy="314.4" r="0.9"/><circle cx="431.3" cy="315.6" r="0.8"/><circle cx="495.7" cy="338.6" r="0.7"/><circle cx="431.1" cy="302.5" r="1.2"/><circle cx="445.7" cy="328.4" r="1.2"/><circle cx="498.6" cy="310.9" r="1.1"/><circle cx="415.7" cy="311.2" r="0.8"/><circle cx="452.9" cy="358.5" r="1.1"/><circle cx="440.6" cy="291.5" r="0.7"/><circle cx="453.2" cy="372.8" r="1.2"/><circle cx="433.0" cy="344.2" r="1.2"/><circle cx="487.5" cy="315.2" r="1.3"/><circle cx="453.7" cy="309.1" r="1.2"/><circle cx="479.5" cy="305.8" r="0.8"/><circle cx="497.8" cy="313.6" r="0.8"/><circle cx="437.1" cy="301.3" r="0.7"/><circle cx="452.1" cy="337.4" r="1.1"/><circle cx="495.1" cy="308.7" r="1.3"/><circle cx="424.1" cy="352.0" r="1.2"/><circle cx="432.9" cy="366.0" r="1.2"/><circle cx="455.9" cy="336.6" r="1.1"/><circle cx="485.7" cy="346.7" r="1.1"/><circle cx="450.0" cy="295.9" r="0.9"/><circle cx="425.3" cy="307.7" r="0.9"/><circle cx="429.2" cy="358.2" r="0.7"/><circle cx="466.0" cy="338.4" r="0.7"/><circle cx="427.9" cy="294.5" r="0.7"/><circle cx="481.5" cy="357.1" r="0.8"/><circle cx="412.2" cy="323.6" r="1.0"/><circle cx="454.8" cy="338.9" r="1.3"/><circle cx="481.4" cy="291.9" r="0.7"/><circle cx="443.8" cy="338.6" r="1.1"/><circle cx="423.5" cy="312.7" r="0.8"/><circle cx="443.3" cy="350.1" r="0.9"/><circle cx="492.6" cy="315.5" r="1.1"/><circle cx="442.6" cy="307.0" r="0.9"/><circle cx="445.6" cy="336.5" r="1.2"/><circle cx="473.5" cy="357.4" r="1.1"/><circle cx="417.3" cy="322.6" r="1.2"/><circle cx="425.6" cy="312.4" r="0.7"/><circle cx="476.3" cy="331.6" r="1.1"/><circle cx="494.6" cy="293.4" r="0.8"/><circle cx="427.1" cy="340.7" r="0.9"/><circle cx="425.6" cy="320.8" r="1.3"/><circle cx="426.0" cy="351.8" r="1.2"/><circle cx="426.6" cy="349.6" r="0.9"/><circle cx="486.4" cy="340.4" r="1.2"/><circle cx="469.4" cy="361.0" r="0.8"/><circle cx="446.0" cy="333.8" r="0.8"/><circle cx="443.0" cy="322.5" r="0.8"/><circle cx="468.0" cy="363.1" r="0.9"/><circle cx="417.4" cy="315.2" r="0.9"/><circle cx="478.9" cy="328.4" r="0.7"/><circle cx="452.7" cy="352.5" r="0.7"/><circle cx="448.6" cy="349.2" r="1.0"/><circle cx="465.6" cy="314.1" r="0.9"/><circle cx="445.4" cy="306.6" r="1.1"/><circle cx="439.7" cy="342.1" r="1.2"/><circle cx="415.4" cy="367.1" r="1.2"/><circle cx="451.8" cy="317.4" r="1.2"/><circle cx="482.2" cy="334.4" r="0.9"/><circle cx="473.6" cy="331.4" r="1.0"/><circle cx="460.9" cy="303.6" r="0.8"/><circle cx="422.1" cy="350.4" r="1.3"/><circle cx="420.5" cy="302.7" r="0.9"/><circle cx="452.2" cy="361.1" r="1.1"/><circle cx="419.5" cy="310.5" r="1.3"/><circle cx="474.8" cy="300.0" r="0.7"/><circle cx="469.0" cy="365.6" r="1.0"/><circle cx="416.1" cy="337.4" r="1.0"/><circle cx="496.2" cy="331.4" r="0.9"/><circle cx="475.1" cy="291.8" r="1.0"/><circle cx="488.6" cy="333.2" r="0.9"/><circle cx="464.2" cy="324.0" r="0.9"/><circle cx="416.4" cy="322.7" r="1.0"/><circle cx="413.8" cy="357.5" r="1.2"/><circle cx="490.7" cy="297.9" r="1.0"/><circle cx="481.1" cy="355.9" r="1.1"/><circle cx="424.8" cy="305.6" r="0.9"/><circle cx="482.6" cy="339.6" r="1.2"/><circle cx="458.6" cy="327.0" r="0.9"/><circle cx="477.1" cy="292.3" r="1.2"/><circle cx="454.1" cy="337.9" r="1.1"/><circle cx="489.5" cy="337.0" r="0.8"/><circle cx="423.8" cy="363.7" r="1.2"/><circle cx="470.5" cy="315.0" r="1.0"/><circle cx="495.3" cy="365.0" r="0.8"/><circle cx="478.7" cy="305.1" r="1.2"/><circle cx="485.5" cy="364.5" r="0.8"/><circle cx="429.4" cy="371.6" r="1.2"/><circle cx="445.8" cy="318.7" r="1.1"/><circle cx="434.7" cy="330.3" r="1.1"/><circle cx="493.1" cy="357.9" r="0.9"/><circle cx="424.2" cy="370.1" r="1.1"/><circle cx="431.5" cy="342.1" r="1.1"/><circle cx="455.9" cy="325.5" r="1.1"/><circle cx="476.8" cy="346.1" r="1.0"/><circle cx="462.9" cy="347.7" r="1.0"/><circle cx="460.3" cy="370.0" r="1.1"/><circle cx="492.5" cy="363.3" r="1.0"/><circle cx="421.4" cy="322.8" r="1.3"/><circle cx="457.8" cy="313.8" r="1.0"/><circle cx="448.2" cy="314.9" r="1.0"/><circle cx="412.7" cy="354.1" r="0.8"/><circle cx="464.8" cy="319.9" r="1.2"/><circle cx="476.1" cy="320.9" r="1.0"/><circle cx="457.9" cy="348.7" r="0.8"/><circle cx="486.8" cy="372.9" r="1.2"/><circle cx="475.7" cy="304.0" r="1.1"/><circle cx="431.5" cy="338.4" r="1.0"/><circle cx="477.5" cy="326.1" r="0.7"/><circle cx="464.9" cy="312.4" r="1.2"/><circle cx="417.0" cy="321.3" r="1.1"/><circle cx="479.5" cy="357.7" r="1.3"/><circle cx="437.4" cy="370.7" r="1.0"/><circle cx="429.0" cy="315.7" r="1.2"/><circle cx="470.4" cy="348.3" r="1.2"/><circle cx="486.9" cy="320.6" r="1.0"/><circle cx="456.0" cy="324.3" r="1.0"/><circle cx="452.8" cy="303.9" r="1.1"/><circle cx="461.3" cy="359.7" r="0.8"/><circle cx="440.2" cy="370.8" r="1.0"/><circle cx="425.1" cy="307.8" r="1.1"/><circle cx="437.5" cy="349.0" r="0.8"/><circle cx="493.0" cy="319.1" r="1.3"/><circle cx="496.9" cy="296.1" r="1.0"/><circle cx="452.3" cy="314.2" r="1.3"/><circle cx="475.9" cy="341.2" r="1.2"/><circle cx="418.9" cy="355.3" r="1.1"/><circle cx="461.1" cy="317.4" r="0.8"/><circle cx="423.7" cy="317.7" r="1.3"/><circle cx="461.6" cy="306.4" r="1.0"/><circle cx="433.5" cy="330.5" r="0.7"/><circle cx="479.6" cy="308.2" r="1.2"/><circle cx="444.9" cy="328.5" r="1.3"/><circle cx="483.4" cy="328.0" r="1.2"/><circle cx="439.2" cy="346.0" r="0.7"/><circle cx="485.8" cy="321.9" r="0.8"/><circle cx="441.8" cy="317.4" r="1.1"/><circle cx="492.7" cy="302.9" r="0.8"/><circle cx="442.0" cy="322.1" r="1.0"/><circle cx="472.5" cy="372.2" r="1.3"/><circle cx="479.5" cy="358.5" r="0.9"/><circle cx="492.4" cy="331.6" r="0.7"/><circle cx="484.6" cy="338.5" r="1.1"/><circle cx="415.3" cy="298.8" r="1.3"/><circle cx="459.5" cy="369.6" r="0.8"/><circle cx="431.1" cy="309.3" r="1.0"/><circle cx="470.2" cy="298.7" r="1.2"/><circle cx="417.0" cy="356.2" r="1.2"/><circle cx="485.4" cy="372.6" r="1.3"/><circle cx="433.6" cy="341.4" r="1.3"/><circle cx="460.7" cy="321.8" r="0.9"/><circle cx="425.6" cy="349.8" r="0.9"/><circle cx="474.9" cy="323.8" r="0.9"/><circle cx="468.6" cy="338.0" r="0.9"/><circle cx="488.0" cy="350.0" r="1.1"/><circle cx="491.4" cy="355.6" r="1.2"/><circle cx="475.2" cy="309.7" r="1.1"/><circle cx="477.8" cy="334.7" r="0.9"/><circle cx="443.3" cy="302.6" r="1.0"/><circle cx="421.6" cy="356.7" r="1.0"/><circle cx="458.8" cy="330.0" r="1.0"/><circle cx="454.6" cy="330.5" r="0.9"/><circle cx="491.0" cy="345.5" r="1.1"/><circle cx="424.6" cy="316.2" r="0.7"/><circle cx="483.3" cy="307.9" r="1.3"/><circle cx="485.7" cy="332.1" r="0.8"/><circle cx="415.6" cy="326.5" r="1.0"/><circle cx="493.5" cy="293.0" r="0.8"/><circle cx="494.2" cy="339.2" r="0.9"/><circle cx="456.5" cy="294.3" r="0.9"/><circle cx="426.5" cy="303.5" r="0.8"/><circle cx="465.1" cy="344.2" r="0.9"/><circle cx="489.0" cy="305.1" r="0.9"/><circle cx="486.9" cy="292.7" r="1.0"/><circle cx="422.8" cy="354.8" r="1.1"/><circle cx="498.5" cy="305.8" r="1.0"/><circle cx="468.7" cy="345.1" r="0.8"/><circle cx="430.0" cy="324.3" r="1.3"/><circle cx="463.6" cy="347.7" r="0.7"/><circle cx="475.2" cy="329.2" r="0.9"/><circle cx="439.6" cy="316.7" r="1.2"/><circle cx="467.9" cy="317.1" r="1.0"/><circle cx="451.6" cy="360.7" r="0.9"/><circle cx="487.4" cy="366.5" r="1.0"/><circle cx="414.6" cy="300.7" r="0.9"/><circle cx="473.3" cy="347.1" r="1.2"/><circle cx="413.6" cy="351.9" r="0.7"/><circle cx="459.4" cy="300.6" r="1.1"/><circle cx="418.2" cy="320.0" r="0.8"/><circle cx="481.3" cy="310.2" r="1.3"/><circle cx="481.6" cy="329.9" r="1.1"/><circle cx="444.7" cy="351.5" r="0.7"/><circle cx="447.5" cy="353.2" r="0.7"/><circle cx="442.4" cy="311.1" r="1.0"/><circle cx="437.3" cy="341.0" r="1.2"/><circle cx="462.2" cy="300.0" r="1.2"/><circle cx="451.4" cy="339.3" r="1.0"/><circle cx="497.0" cy="368.8" r="0.9"/><circle cx="427.0" cy="321.0" r="1.1"/><circle cx="417.5" cy="329.1" r="1.0"/><circle cx="449.4" cy="300.5" r="0.8"/><circle cx="477.9" cy="304.2" r="0.9"/><circle cx="427.0" cy="348.4" r="1.3"/><circle cx="429.2" cy="338.0" r="1.2"/><circle cx="475.7" cy="345.7" r="1.0"/><circle cx="417.7" cy="372.2" r="1.2"/><circle cx="465.2" cy="325.9" r="0.9"/><circle cx="467.0" cy="344.1" r="1.1"/><circle cx="423.2" cy="358.8" r="1.1"/><circle cx="428.8" cy="343.4" r="0.9"/><circle cx="470.6" cy="311.9" r="0.9"/><circle cx="417.9" cy="369.4" r="1.2"/><circle cx="451.2" cy="365.4" r="0.8"/><circle cx="413.1" cy="320.3" r="1.1"/><circle cx="413.6" cy="307.1" r="1.0"/><circle cx="449.0" cy="353.3" r="0.8"/><circle cx="412.1" cy="331.4" r="0.7"/><circle cx="466.8" cy="356.8" r="0.9"/><circle cx="445.8" cy="355.1" r="1.0"/><circle cx="422.1" cy="361.7" r="1.0"/><circle cx="460.7" cy="325.9" r="0.9"/><circle cx="461.8" cy="294.3" r="0.7"/><circle cx="464.8" cy="294.2" r="1.2"/><circle cx="417.6" cy="338.6" r="1.0"/><circle cx="472.0" cy="350.0" r="1.3"/><circle cx="454.3" cy="303.9" r="0.7"/><circle cx="488.8" cy="353.9" r="0.7"/><circle cx="431.3" cy="310.1" r="1.3"/><circle cx="436.7" cy="355.1" r="0.8"/><circle cx="425.3" cy="336.4" r="0.7"/><circle cx="455.8" cy="297.1" r="1.1"/><circle cx="471.8" cy="328.3" r="0.9"/><circle cx="419.5" cy="371.1" r="0.7"/><circle cx="441.5" cy="346.0" r="0.8"/><circle cx="446.6" cy="304.7" r="1.2"/><circle cx="485.1" cy="309.8" r="1.2"/><circle cx="482.3" cy="295.3" r="1.2"/><circle cx="453.5" cy="333.7" r="1.2"/><circle cx="480.1" cy="318.1" r="0.8"/><circle cx="422.6" cy="365.7" r="0.8"/><circle cx="466.1" cy="368.1" r="1.3"/><circle cx="441.4" cy="348.1" r="1.3"/><circle cx="440.2" cy="333.7" r="0.8"/><circle cx="426.6" cy="337.3" r="1.0"/><circle cx="462.1" cy="313.8" r="1.2"/><circle cx="411.5" cy="315.3" r="1.1"/><circle cx="483.9" cy="334.6" r="1.1"/><circle cx="438.2" cy="299.1" r="1.2"/><circle cx="448.6" cy="343.4" r="1.3"/><circle cx="494.0" cy="318.8" r="1.2"/><circle cx="472.7" cy="364.4" r="1.0"/><circle cx="465.8" cy="355.4" r="0.8"/><circle cx="486.4" cy="340.4" r="0.7"/><circle cx="446.0" cy="368.9" r="0.9"/><circle cx="498.1" cy="331.9" r="1.2"/><circle cx="428.5" cy="343.8" r="0.8"/><circle cx="434.4" cy="298.4" r="1.3"/><circle cx="447.0" cy="365.9" r="0.9"/><circle cx="462.4" cy="303.6" r="1.0"/><circle cx="482.4" cy="322.0" r="1.0"/><circle cx="467.6" cy="300.7" r="0.9"/><circle cx="426.7" cy="303.8" r="1.0"/><circle cx="473.7" cy="366.7" r="1.1"/><circle cx="437.1" cy="323.6" r="0.9"/><circle cx="440.5" cy="310.8" r="0.7"/><circle cx="491.5" cy="369.9" r="1.3"/><circle cx="449.3" cy="309.7" r="0.9"/><circle cx="445.6" cy="368.2" r="0.9"/><circle cx="426.1" cy="344.7" r="0.9"/><circle cx="422.9" cy="308.2" r="1.0"/><circle cx="438.1" cy="346.9" r="1.2"/><circle cx="421.8" cy="307.8" r="0.8"/><circle cx="452.6" cy="356.9" r="0.8"/><circle cx="434.5" cy="370.2" r="0.8"/><circle cx="462.4" cy="343.7" r="1.1"/><circle cx="449.6" cy="303.8" r="0.9"/><circle cx="426.4" cy="352.0" r="0.8"/><circle cx="489.9" cy="341.2" r="1.0"/><circle cx="446.0" cy="324.3" r="1.1"/><circle cx="453.5" cy="368.9" r="1.2"/><circle cx="459.9" cy="311.6" r="0.8"/><circle cx="450.9" cy="347.3" r="0.8"/><circle cx="410.8" cy="344.3" r="0.9"/><circle cx="494.5" cy="368.9" r="1.0"/><circle cx="484.5" cy="368.6" r="0.9"/><circle cx="448.3" cy="321.2" r="1.3"/><circle cx="497.8" cy="335.4" r="0.7"/><circle cx="433.1" cy="367.8" r="0.8"/><circle cx="434.7" cy="338.9" r="0.8"/><circle cx="436.0" cy="338.5" r="1.3"/><circle cx="461.7" cy="314.1" r="1.2"/><circle cx="487.1" cy="372.1" r="1.2"/><circle cx="485.1" cy="300.7" r="1.2"/><circle cx="461.4" cy="355.9" r="0.8"/><circle cx="460.3" cy="310.8" r="1.2"/><circle cx="445.3" cy="331.4" r="1.1"/><circle cx="485.3" cy="304.0" r="1.1"/><circle cx="441.9" cy="339.9" r="1.3"/><circle cx="494.3" cy="354.7" r="1.0"/><circle cx="481.9" cy="338.9" r="1.1"/><circle cx="474.6" cy="346.5" r="0.8"/><circle cx="487.5" cy="312.2" r="1.1"/><circle cx="435.2" cy="357.3" r="1.2"/><circle cx="441.0" cy="368.9" r="1.3"/><circle cx="491.1" cy="364.0" r="0.8"/><circle cx="437.4" cy="370.2" r="0.9"/><circle cx="450.9" cy="346.9" r="1.1"/><circle cx="492.0" cy="307.1" r="0.8"/><circle cx="438.0" cy="318.3" r="1.1"/><circle cx="438.3" cy="364.8" r="1.1"/><circle cx="441.3" cy="339.7" r="1.3"/><circle cx="465.4" cy="367.6" r="1.0"/><circle cx="458.9" cy="323.7" r="1.2"/><circle cx="438.4" cy="314.9" r="1.0"/><circle cx="466.5" cy="332.0" r="0.8"/><circle cx="482.0" cy="293.2" r="1.0"/><circle cx="425.3" cy="361.4" r="0.9"/><circle cx="486.5" cy="365.1" r="0.7"/><circle cx="465.7" cy="350.7" r="1.2"/><circle cx="433.9" cy="337.8" r="0.9"/><circle cx="487.9" cy="337.6" r="1.3"/><circle cx="482.5" cy="295.2" r="0.7"/><circle cx="443.9" cy="329.7" r="1.2"/><circle cx="427.0" cy="296.2" r="1.2"/><circle cx="462.7" cy="343.4" r="1.0"/><circle cx="442.7" cy="345.2" r="1.1"/><circle cx="462.6" cy="301.0" r="1.0"/><circle cx="462.5" cy="371.2" r="1.0"/><circle cx="462.9" cy="330.4" r="1.0"/><circle cx="454.5" cy="353.0" r="0.7"/><circle cx="438.1" cy="353.6" r="0.8"/><circle cx="496.9" cy="347.5" r="0.8"/><circle cx="433.8" cy="314.3" r="1.3"/><circle cx="471.4" cy="322.7" r="1.1"/><circle cx="486.4" cy="368.0" r="1.1"/><circle cx="451.8" cy="319.6" r="0.9"/><circle cx="414.8" cy="365.6" r="1.1"/><circle cx="453.5" cy="333.0" r="0.8"/><circle cx="495.4" cy="310.5" r="0.7"/><circle cx="467.8" cy="358.0" r="1.1"/></g>
<g fill="#a26a8c"><circle cx="492.1" cy="360.6" r="1.2"/><circle cx="459.7" cy="354.5" r="1.0"/><circle cx="488.1" cy="346.9" r="1.0"/><circle cx="491.3" cy="318.4" r="1.2"/><circle cx="439.7" cy="307.1" r="1.2"/><circle cx="458.0" cy="322.3" r="0.9"/><circle cx="440.0" cy="315.5" r="0.9"/><circle cx="459.3" cy="368.9" r="0.9"/><circle cx="438.7" cy="347.2" r="0.8"/><circle cx="463.2" cy="363.9" r="1.3"/><circle cx="476.9" cy="340.8" r="1.1"/><circle cx="481.0" cy="306.2" r="1.0"/><circle cx="496.8" cy="358.2" r="1.0"/><circle cx="429.0" cy="305.2" r="0.7"/><circle cx="454.1" cy="305.2" r="0.9"/><circle cx="433.9" cy="333.2" r="1.0"/><circle cx="467.6" cy="360.6" r="0.8"/><circle cx="415.9" cy="311.3" r="1.3"/><circle cx="461.4" cy="313.7" r="0.9"/><circle cx="432.1" cy="349.2" r="0.9"/><circle cx="462.6" cy="330.9" r="0.7"/><circle cx="465.7" cy="310.5" r="1.1"/><circle cx="475.0" cy="323.2" r="0.9"/><circle cx="459.2" cy="299.6" r="1.2"/><circle cx="481.5" cy="299.0" r="1.1"/><circle cx="456.1" cy="303.6" r="1.2"/><circle cx="447.3" cy="346.9" r="1.3"/><circle cx="427.1" cy="353.1" r="0.9"/><circle cx="430.4" cy="339.2" r="1.1"/><circle cx="421.0" cy="363.6" r="1.1"/><circle cx="494.5" cy="296.9" r="1.2"/><circle cx="414.6" cy="339.6" r="0.8"/><circle cx="478.8" cy="368.0" r="1.3"/><circle cx="448.7" cy="345.3" r="1.1"/><circle cx="444.1" cy="364.5" r="1.2"/><circle cx="416.6" cy="317.7" r="1.2"/><circle cx="437.4" cy="334.6" r="1.2"/><circle cx="454.9" cy="346.3" r="0.9"/><circle cx="453.3" cy="352.9" r="1.1"/><circle cx="469.0" cy="293.8" r="0.7"/><circle cx="495.7" cy="330.2" r="1.2"/><circle cx="428.5" cy="301.6" r="1.2"/><circle cx="413.2" cy="304.5" r="0.7"/><circle cx="411.5" cy="367.2" r="1.2"/><circle cx="429.0" cy="347.0" r="1.0"/><circle cx="432.0" cy="346.7" r="1.1"/><circle cx="420.4" cy="360.3" r="0.8"/><circle cx="419.5" cy="327.7" r="1.1"/><circle cx="455.4" cy="321.8" r="1.2"/><circle cx="490.1" cy="306.8" r="1.0"/><circle cx="433.1" cy="317.2" r="1.1"/><circle cx="421.5" cy="346.1" r="0.7"/><circle cx="474.7" cy="311.7" r="1.3"/><circle cx="434.8" cy="327.4" r="0.9"/><circle cx="425.4" cy="329.8" r="0.8"/><circle cx="435.2" cy="300.5" r="0.8"/><circle cx="491.3" cy="295.9" r="0.9"/><circle cx="431.5" cy="305.6" r="0.8"/><circle cx="477.9" cy="313.3" r="0.8"/><circle cx="424.3" cy="314.6" r="1.1"/><circle cx="459.6" cy="309.1" r="1.1"/><circle cx="457.4" cy="320.4" r="1.1"/><circle cx="439.9" cy="349.7" r="1.3"/><circle cx="480.3" cy="359.9" r="1.2"/><circle cx="430.2" cy="357.4" r="0.8"/><circle cx="445.8" cy="321.2" r="1.2"/><circle cx="491.4" cy="308.7" r="0.8"/><circle cx="498.7" cy="306.1" r="0.8"/><circle cx="497.1" cy="335.4" r="1.1"/><circle cx="454.1" cy="344.3" r="0.9"/><circle cx="424.1" cy="348.7" r="1.0"/><circle cx="469.6" cy="339.1" r="1.3"/><circle cx="437.9" cy="324.4" r="1.1"/><circle cx="436.8" cy="306.9" r="0.7"/><circle cx="441.9" cy="370.0" r="0.8"/><circle cx="455.3" cy="364.0" r="0.7"/><circle cx="420.4" cy="297.1" r="0.7"/><circle cx="487.1" cy="336.3" r="0.9"/><circle cx="469.2" cy="373.0" r="1.2"/><circle cx="481.0" cy="346.6" r="1.1"/><circle cx="435.3" cy="336.1" r="1.0"/><circle cx="473.8" cy="296.1" r="0.7"/><circle cx="463.9" cy="345.0" r="1.0"/><circle cx="461.1" cy="367.8" r="1.2"/><circle cx="429.5" cy="328.0" r="0.8"/><circle cx="467.6" cy="347.8" r="0.9"/><circle cx="492.7" cy="306.6" r="1.2"/><circle cx="488.6" cy="336.6" r="0.9"/><circle cx="489.9" cy="311.3" r="0.9"/><circle cx="424.7" cy="292.2" r="1.2"/><circle cx="414.9" cy="348.1" r="0.9"/><circle cx="495.9" cy="368.3" r="0.8"/><circle cx="459.5" cy="337.8" r="1.0"/><circle cx="483.2" cy="359.3" r="0.9"/><circle cx="497.0" cy="323.5" r="0.8"/><circle cx="442.6" cy="302.9" r="1.2"/><circle cx="453.5" cy="308.4" r="0.8"/><circle cx="497.9" cy="307.2" r="0.9"/><circle cx="468.6" cy="317.4" r="1.0"/><circle cx="425.9" cy="299.7" r="0.9"/><circle cx="423.6" cy="293.3" r="1.2"/><circle cx="457.1" cy="354.4" r="1.2"/><circle cx="447.2" cy="331.2" r="1.1"/><circle cx="430.9" cy="313.2" r="1.2"/><circle cx="479.9" cy="346.6" r="1.0"/><circle cx="425.7" cy="370.2" r="1.1"/><circle cx="432.5" cy="299.3" r="0.9"/><circle cx="416.5" cy="315.9" r="0.7"/><circle cx="456.0" cy="310.6" r="0.9"/><circle cx="463.3" cy="358.7" r="0.9"/><circle cx="410.7" cy="339.5" r="0.8"/><circle cx="422.8" cy="296.5" r="1.2"/><circle cx="434.7" cy="294.1" r="1.0"/><circle cx="424.4" cy="354.5" r="1.2"/><circle cx="430.4" cy="312.3" r="1.2"/><circle cx="429.1" cy="369.9" r="1.1"/><circle cx="420.0" cy="306.4" r="0.8"/><circle cx="485.4" cy="367.9" r="1.3"/><circle cx="444.7" cy="297.4" r="1.1"/><circle cx="490.2" cy="321.3" r="1.0"/><circle cx="480.6" cy="306.1" r="0.7"/><circle cx="438.8" cy="358.3" r="1.2"/><circle cx="447.5" cy="345.3" r="0.9"/><circle cx="487.0" cy="361.9" r="1.0"/><circle cx="450.7" cy="335.2" r="1.0"/><circle cx="440.8" cy="345.7" r="1.2"/><circle cx="445.0" cy="329.1" r="0.8"/><circle cx="423.4" cy="362.1" r="0.9"/><circle cx="481.7" cy="342.6" r="1.2"/><circle cx="490.9" cy="323.5" r="0.8"/><circle cx="442.5" cy="323.5" r="0.7"/><circle cx="433.3" cy="298.9" r="1.3"/><circle cx="497.4" cy="323.3" r="0.9"/><circle cx="450.0" cy="368.6" r="1.3"/><circle cx="435.2" cy="332.3" r="0.9"/><circle cx="435.0" cy="295.8" r="1.2"/><circle cx="448.9" cy="363.6" r="1.1"/><circle cx="450.4" cy="337.2" r="1.2"/><circle cx="460.7" cy="343.0" r="1.3"/><circle cx="478.1" cy="344.1" r="1.3"/><circle cx="431.8" cy="366.3" r="1.1"/><circle cx="413.1" cy="311.8" r="1.2"/><circle cx="480.6" cy="351.9" r="1.0"/><circle cx="487.9" cy="353.5" r="0.8"/><circle cx="433.1" cy="329.3" r="0.9"/><circle cx="412.2" cy="293.1" r="0.7"/><circle cx="432.6" cy="315.0" r="1.3"/><circle cx="494.4" cy="302.3" r="0.9"/><circle cx="472.1" cy="297.2" r="1.1"/><circle cx="480.7" cy="338.7" r="0.7"/><circle cx="435.5" cy="304.3" r="0.8"/><circle cx="441.7" cy="353.6" r="0.8"/><circle cx="417.2" cy="325.1" r="1.1"/><circle cx="466.8" cy="329.2" r="0.8"/><circle cx="486.4" cy="356.0" r="0.8"/><circle cx="432.2" cy="360.1" r="1.2"/><circle cx="476.3" cy="302.6" r="0.7"/><circle cx="433.4" cy="354.8" r="1.3"/><circle cx="458.9" cy="326.8" r="0.7"/><circle cx="420.1" cy="303.5" r="1.1"/><circle cx="466.5" cy="357.0" r="0.9"/><circle cx="476.2" cy="372.9" r="1.2"/><circle cx="460.5" cy="353.1" r="1.2"/><circle cx="497.0" cy="369.7" r="1.1"/><circle cx="415.7" cy="334.3" r="1.2"/><circle cx="418.8" cy="351.6" r="1.2"/><circle cx="491.3" cy="329.0" r="1.0"/><circle cx="456.8" cy="339.3" r="1.0"/><circle cx="424.5" cy="322.2" r="0.7"/><circle cx="454.6" cy="295.0" r="1.0"/><circle cx="450.2" cy="354.5" r="1.2"/><circle cx="462.1" cy="306.3" r="1.2"/><circle cx="423.6" cy="350.5" r="1.1"/><circle cx="433.0" cy="354.0" r="1.1"/><circle cx="474.3" cy="349.7" r="0.9"/><circle cx="427.6" cy="324.2" r="0.9"/><circle cx="423.3" cy="330.6" r="1.1"/><circle cx="492.4" cy="309.9" r="1.1"/><circle cx="487.7" cy="312.7" r="1.1"/><circle cx="483.6" cy="322.9" r="1.0"/><circle cx="461.4" cy="295.3" r="0.7"/><circle cx="448.9" cy="295.8" r="0.7"/><circle cx="427.7" cy="319.8" r="1.1"/><circle cx="451.1" cy="367.8" r="1.0"/><circle cx="418.0" cy="304.5" r="1.1"/><circle cx="447.3" cy="296.0" r="0.7"/><circle cx="468.3" cy="320.3" r="1.2"/><circle cx="425.5" cy="348.1" r="1.0"/><circle cx="428.9" cy="296.8" r="1.0"/><circle cx="473.3" cy="364.4" r="1.0"/><circle cx="456.1" cy="339.6" r="0.8"/><circle cx="445.2" cy="325.1" r="0.7"/><circle cx="419.7" cy="366.7" r="1.0"/><circle cx="473.9" cy="363.1" r="1.0"/><circle cx="494.1" cy="356.8" r="0.9"/><circle cx="473.0" cy="298.5" r="0.7"/><circle cx="464.2" cy="303.7" r="1.2"/><circle cx="434.2" cy="339.5" r="0.9"/><circle cx="461.5" cy="359.6" r="1.0"/><circle cx="468.7" cy="303.1" r="1.0"/><circle cx="487.7" cy="299.2" r="1.0"/><circle cx="491.4" cy="346.5" r="1.2"/><circle cx="474.1" cy="305.4" r="0.9"/><circle cx="449.5" cy="354.0" r="0.9"/><circle cx="498.6" cy="314.2" r="1.0"/><circle cx="479.2" cy="328.9" r="0.9"/><circle cx="474.1" cy="304.5" r="1.2"/><circle cx="431.0" cy="341.0" r="0.9"/><circle cx="433.5" cy="307.8" r="1.1"/><circle cx="416.4" cy="329.2" r="0.7"/><circle cx="471.1" cy="299.8" r="0.9"/><circle cx="469.2" cy="312.4" r="0.8"/><circle cx="491.4" cy="335.7" r="1.1"/><circle cx="437.9" cy="359.9" r="1.0"/><circle cx="419.3" cy="355.0" r="0.9"/><circle cx="422.2" cy="330.8" r="0.8"/><circle cx="432.5" cy="315.2" r="1.1"/><circle cx="496.4" cy="297.6" r="1.3"/><circle cx="483.4" cy="296.6" r="0.9"/><circle cx="464.6" cy="315.3" r="0.9"/><circle cx="446.5" cy="307.4" r="1.2"/><circle cx="452.9" cy="316.9" r="0.9"/><circle cx="476.1" cy="368.5" r="1.1"/><circle cx="421.6" cy="298.2" r="0.8"/><circle cx="483.9" cy="335.2" r="0.8"/><circle cx="474.4" cy="323.8" r="1.1"/><circle cx="478.8" cy="350.2" r="1.3"/><circle cx="424.5" cy="301.4" r="1.0"/><circle cx="473.4" cy="331.2" r="0.7"/><circle cx="497.0" cy="307.6" r="0.8"/><circle cx="416.5" cy="297.7" r="1.1"/><circle cx="429.9" cy="318.1" r="1.1"/><circle cx="452.3" cy="306.3" r="1.3"/><circle cx="495.1" cy="358.3" r="0.8"/><circle cx="435.3" cy="355.7" r="0.8"/><circle cx="465.9" cy="358.5" r="1.0"/><circle cx="457.8" cy="296.7" r="1.1"/><circle cx="448.0" cy="362.2" r="1.1"/><circle cx="473.6" cy="357.1" r="1.2"/><circle cx="414.3" cy="294.8" r="1.1"/><circle cx="467.0" cy="318.5" r="1.1"/><circle cx="448.6" cy="345.6" r="0.9"/><circle cx="413.3" cy="340.8" r="0.7"/><circle cx="477.2" cy="294.1" r="0.9"/><circle cx="491.2" cy="330.4" r="1.0"/><circle cx="489.7" cy="291.8" r="0.7"/><circle cx="483.9" cy="311.8" r="1.0"/><circle cx="477.1" cy="350.5" r="1.1"/><circle cx="439.1" cy="313.4" r="0.8"/><circle cx="410.8" cy="369.0" r="1.1"/><circle cx="479.9" cy="365.4" r="0.8"/><circle cx="464.3" cy="310.2" r="0.7"/><circle cx="486.4" cy="352.3" r="0.8"/><circle cx="456.1" cy="354.5" r="1.1"/><circle cx="496.4" cy="314.3" r="1.1"/><circle cx="469.6" cy="315.5" r="0.8"/><circle cx="498.6" cy="318.0" r="1.3"/><circle cx="494.3" cy="292.8" r="0.7"/><circle cx="476.3" cy="371.6" r="0.9"/><circle cx="474.1" cy="339.4" r="1.1"/><circle cx="448.0" cy="369.8" r="0.8"/><circle cx="461.5" cy="372.7" r="1.0"/><circle cx="434.8" cy="309.6" r="0.9"/><circle cx="440.9" cy="308.3" r="1.0"/><circle cx="433.9" cy="347.0" r="1.1"/><circle cx="471.6" cy="368.8" r="1.0"/><circle cx="444.3" cy="315.0" r="0.9"/><circle cx="468.1" cy="362.2" r="1.2"/><circle cx="465.0" cy="299.5" r="1.0"/><circle cx="497.7" cy="303.4" r="1.0"/><circle cx="463.9" cy="326.4" r="0.8"/><circle cx="426.0" cy="323.6" r="0.9"/><circle cx="436.6" cy="302.9" r="0.9"/><circle cx="454.3" cy="370.8" r="1.0"/><circle cx="441.3" cy="340.8" r="0.7"/><circle cx="431.6" cy="358.5" r="1.1"/><circle cx="460.0" cy="339.8" r="0.9"/><circle cx="466.3" cy="338.3" r="1.0"/><circle cx="437.9" cy="347.7" r="0.7"/><circle cx="481.9" cy="367.8" r="1.1"/><circle cx="425.9" cy="324.8" r="0.8"/><circle cx="443.3" cy="361.8" r="0.7"/><circle cx="434.7" cy="358.9" r="1.1"/><circle cx="415.4" cy="349.9" r="1.0"/><circle cx="424.5" cy="366.5" r="0.8"/><circle cx="492.1" cy="326.5" r="1.2"/><circle cx="441.5" cy="338.9" r="0.7"/><circle cx="487.3" cy="351.7" r="1.2"/><circle cx="496.1" cy="314.6" r="1.3"/><circle cx="415.9" cy="364.2" r="0.7"/><circle cx="483.3" cy="315.1" r="1.2"/><circle cx="486.6" cy="293.9" r="0.9"/><circle cx="473.7" cy="309.2" r="1.0"/><circle cx="438.4" cy="365.9" r="1.1"/><circle cx="488.4" cy="324.9" r="0.9"/><circle cx="465.6" cy="348.8" r="1.0"/><circle cx="495.0" cy="308.0" r="0.9"/><circle cx="422.1" cy="315.3" r="0.8"/><circle cx="466.6" cy="332.6" r="1.1"/><circle cx="498.0" cy="333.3" r="1.3"/><circle cx="455.1" cy="315.5" r="1.0"/><circle cx="494.2" cy="320.9" r="0.8"/><circle cx="496.2" cy="308.2" r="1.3"/><circle cx="474.0" cy="293.8" r="0.8"/><circle cx="413.7" cy="333.9" r="1.1"/><circle cx="431.5" cy="328.8" r="1.2"/><circle cx="450.9" cy="359.3" r="1.0"/><circle cx="413.7" cy="355.0" r="1.2"/><circle cx="448.3" cy="345.3" r="1.3"/><circle cx="498.3" cy="300.8" r="0.8"/><circle cx="463.8" cy="302.8" r="1.1"/><circle cx="491.5" cy="358.1" r="0.9"/><circle cx="485.0" cy="313.9" r="1.1"/><circle cx="470.8" cy="331.4" r="1.1"/><circle cx="457.9" cy="301.7" r="1.0"/><circle cx="436.2" cy="320.7" r="0.9"/><circle cx="481.8" cy="310.6" r="1.2"/><circle cx="448.9" cy="337.3" r="0.9"/><circle cx="460.1" cy="308.9" r="0.9"/><circle cx="445.6" cy="303.8" r="1.0"/><circle cx="452.2" cy="361.3" r="0.9"/><circle cx="412.3" cy="300.6" r="1.1"/><circle cx="488.2" cy="319.1" r="1.1"/></g>
<g fill="#bd88a7"><circle cx="426.2" cy="294.7" r="0.8"/><circle cx="423.7" cy="295.7" r="1.0"/><circle cx="474.6" cy="359.4" r="0.8"/><circle cx="479.7" cy="332.2" r="1.3"/><circle cx="466.4" cy="365.3" r="1.3"/><circle cx="488.8" cy="322.4" r="0.8"/><circle cx="483.2" cy="359.5" r="1.0"/><circle cx="450.9" cy="352.9" r="1.0"/><circle cx="495.0" cy="367.0" r="0.9"/><circle cx="492.3" cy="351.5" r="1.2"/><circle cx="477.8" cy="341.3" r="1.0"/><circle cx="476.1" cy="324.2" r="1.0"/><circle cx="477.1" cy="304.7" r="0.9"/><circle cx="436.4" cy="311.0" r="1.0"/><circle cx="473.1" cy="315.4" r="1.2"/><circle cx="461.3" cy="336.3" r="0.7"/><circle cx="413.2" cy="356.0" r="1.1"/><circle cx="489.7" cy="346.2" r="1.0"/><circle cx="422.6" cy="372.7" r="0.7"/><circle cx="429.0" cy="324.6" r="0.8"/><circle cx="476.8" cy="310.0" r="0.8"/><circle cx="425.4" cy="359.9" r="1.0"/><circle cx="482.5" cy="299.5" r="1.0"/><circle cx="429.7" cy="362.2" r="1.3"/><circle cx="479.0" cy="300.3" r="0.9"/><circle cx="438.7" cy="306.4" r="1.2"/><circle cx="489.9" cy="303.2" r="0.8"/><circle cx="426.8" cy="370.9" r="1.1"/><circle cx="432.9" cy="323.8" r="0.9"/><circle cx="454.9" cy="313.5" r="0.9"/><circle cx="455.0" cy="313.4" r="1.1"/><circle cx="427.3" cy="294.8" r="1.3"/><circle cx="433.8" cy="320.8" r="1.3"/><circle cx="490.8" cy="366.4" r="1.0"/><circle cx="440.2" cy="370.9" r="1.2"/><circle cx="497.4" cy="315.6" r="1.0"/><circle cx="436.6" cy="309.2" r="0.8"/><circle cx="442.2" cy="326.5" r="1.1"/><circle cx="472.3" cy="324.8" r="1.0"/><circle cx="484.5" cy="308.6" r="1.1"/><circle cx="443.0" cy="352.6" r="0.9"/><circle cx="483.2" cy="372.9" r="1.3"/><circle cx="428.8" cy="364.6" r="0.9"/><circle cx="490.5" cy="315.4" r="0.9"/><circle cx="469.5" cy="365.3" r="1.1"/><circle cx="493.9" cy="312.4" r="0.9"/><circle cx="465.7" cy="353.3" r="1.2"/><circle cx="422.5" cy="305.1" r="1.0"/><circle cx="433.9" cy="309.2" r="1.2"/><circle cx="415.6" cy="317.1" r="1.1"/><circle cx="476.6" cy="321.6" r="0.9"/><circle cx="471.1" cy="308.8" r="1.3"/><circle cx="465.7" cy="371.9" r="1.3"/><circle cx="460.0" cy="354.4" r="0.8"/><circle cx="443.0" cy="306.8" r="1.1"/><circle cx="438.0" cy="327.2" r="1.0"/><circle cx="429.8" cy="326.6" r="1.0"/><circle cx="466.3" cy="313.9" r="1.0"/><circle cx="496.2" cy="312.5" r="0.9"/><circle cx="496.3" cy="309.5" r="0.9"/><circle cx="437.3" cy="321.1" r="1.0"/><circle cx="448.0" cy="331.7" r="1.1"/><circle cx="490.3" cy="346.1" r="0.7"/><circle cx="445.9" cy="309.1" r="1.1"/><circle cx="486.5" cy="373.1" r="0.8"/><circle cx="447.7" cy="370.1" r="0.8"/><circle cx="416.7" cy="309.8" r="1.1"/><circle cx="484.8" cy="303.9" r="1.3"/><circle cx="411.7" cy="361.2" r="0.9"/><circle cx="491.2" cy="302.5" r="1.0"/><circle cx="430.3" cy="322.2" r="0.7"/><circle cx="422.2" cy="315.5" r="1.2"/><circle cx="413.4" cy="339.8" r="1.2"/><circle cx="411.6" cy="345.0" r="1.2"/><circle cx="489.4" cy="318.3" r="0.8"/><circle cx="414.2" cy="299.6" r="1.1"/><circle cx="486.2" cy="337.0" r="1.1"/><circle cx="443.3" cy="365.5" r="0.9"/><circle cx="482.0" cy="345.9" r="1.0"/><circle cx="442.7" cy="336.7" r="1.2"/><circle cx="434.0" cy="305.1" r="0.7"/><circle cx="435.9" cy="318.2" r="0.8"/><circle cx="432.3" cy="367.8" r="0.7"/><circle cx="442.2" cy="362.8" r="1.2"/><circle cx="463.6" cy="307.6" r="1.3"/><circle cx="480.8" cy="296.3" r="0.9"/><circle cx="429.6" cy="292.8" r="1.1"/><circle cx="495.4" cy="303.4" r="1.2"/><circle cx="431.4" cy="300.2" r="0.8"/><circle cx="487.6" cy="325.5" r="0.9"/><circle cx="426.2" cy="365.8" r="0.8"/><circle cx="433.0" cy="297.8" r="0.9"/><circle cx="468.7" cy="321.7" r="0.8"/><circle cx="414.7" cy="309.2" r="1.2"/><circle cx="444.7" cy="368.2" r="0.8"/><circle cx="420.5" cy="362.2" r="0.9"/><circle cx="446.4" cy="335.9" r="0.8"/><circle cx="440.0" cy="321.2" r="1.0"/><circle cx="437.3" cy="346.6" r="1.2"/><circle cx="414.3" cy="339.7" r="1.1"/><circle cx="421.2" cy="325.9" r="1.1"/><circle cx="478.0" cy="331.4" r="1.3"/><circle cx="436.4" cy="308.6" r="1.1"/><circle cx="446.1" cy="334.6" r="1.0"/><circle cx="455.3" cy="353.3" r="0.7"/><circle cx="490.2" cy="344.6" r="1.2"/><circle cx="477.5" cy="318.7" r="1.3"/><circle cx="433.3" cy="321.0" r="0.9"/><circle cx="411.6" cy="357.4" r="1.1"/><circle cx="468.6" cy="346.4" r="0.7"/><circle cx="488.3" cy="294.4" r="1.1"/><circle cx="471.4" cy="320.0" r="0.7"/><circle cx="445.2" cy="298.4" r="1.0"/><circle cx="489.4" cy="356.5" r="1.2"/><circle cx="465.0" cy="322.4" r="1.2"/><circle cx="416.7" cy="305.0" r="1.0"/><circle cx="453.0" cy="335.4" r="1.0"/><circle cx="434.4" cy="366.9" r="0.9"/><circle cx="420.9" cy="332.7" r="0.8"/><circle cx="468.2" cy="337.4" r="0.9"/><circle cx="440.8" cy="297.0" r="0.9"/><circle cx="455.4" cy="300.2" r="1.1"/><circle cx="472.7" cy="329.9" r="1.0"/><circle cx="466.4" cy="304.9" r="0.9"/><circle cx="490.7" cy="331.9" r="1.2"/><circle cx="488.5" cy="366.4" r="0.8"/><circle cx="416.5" cy="310.9" r="0.9"/><circle cx="457.6" cy="334.5" r="0.9"/><circle cx="492.1" cy="345.3" r="0.7"/><circle cx="470.3" cy="349.5" r="1.3"/><circle cx="498.4" cy="339.5" r="0.7"/><circle cx="464.6" cy="365.8" r="1.2"/><circle cx="489.6" cy="332.7" r="0.8"/><circle cx="449.0" cy="310.0" r="1.1"/><circle cx="452.8" cy="362.2" r="0.8"/><circle cx="485.5" cy="305.6" r="1.2"/><circle cx="440.7" cy="360.7" r="1.0"/><circle cx="489.5" cy="327.9" r="0.8"/><circle cx="419.3" cy="347.9" r="1.3"/><circle cx="448.8" cy="338.4" r="0.9"/><circle cx="457.5" cy="341.8" r="1.2"/><circle cx="460.4" cy="333.6" r="0.9"/><circle cx="436.6" cy="328.7" r="0.8"/><circle cx="491.0" cy="332.0" r="1.0"/><circle cx="478.7" cy="370.7" r="1.0"/><circle cx="424.7" cy="329.3" r="0.8"/><circle cx="483.6" cy="301.8" r="1.3"/><circle cx="431.8" cy="343.2" r="1.0"/><circle cx="495.8" cy="372.7" r="1.2"/><circle cx="459.2" cy="348.0" r="0.7"/><circle cx="461.5" cy="348.6" r="1.1"/><circle cx="484.9" cy="327.3" r="0.8"/><circle cx="431.4" cy="327.0" r="0.7"/><circle cx="444.3" cy="316.9" r="1.0"/><circle cx="495.4" cy="355.4" r="0.9"/><circle cx="431.3" cy="337.4" r="1.0"/><circle cx="485.6" cy="343.1" r="0.7"/><circle cx="449.6" cy="291.7" r="0.8"/><circle cx="428.1" cy="370.7" r="1.2"/><circle cx="437.1" cy="334.0" r="0.7"/><circle cx="497.4" cy="302.1" r="1.2"/><circle cx="461.7" cy="298.8" r="0.7"/><circle cx="446.1" cy="309.7" r="1.1"/><circle cx="429.1" cy="292.0" r="1.3"/><circle cx="489.1" cy="347.4" r="0.9"/><circle cx="438.5" cy="311.8" r="0.7"/><circle cx="493.9" cy="369.2" r="1.2"/><circle cx="419.2" cy="330.9" r="1.1"/><circle cx="445.2" cy="342.8" r="0.7"/><circle cx="426.2" cy="331.0" r="1.2"/><circle cx="475.9" cy="358.9" r="1.0"/><circle cx="472.8" cy="358.0" r="0.7"/><circle cx="483.5" cy="360.8" r="0.8"/><circle cx="458.2" cy="365.5" r="1.2"/><circle cx="493.7" cy="315.6" r="1.2"/><circle cx="417.9" cy="301.7" r="0.8"/><circle cx="471.7" cy="323.7" r="1.0"/><circle cx="486.7" cy="369.6" r="1.3"/><circle cx="413.8" cy="332.3" r="1.2"/><circle cx="418.1" cy="363.0" r="1.1"/><circle cx="472.4" cy="363.6" r="0.9"/><circle cx="420.6" cy="336.1" r="1.3"/><circle cx="428.2" cy="331.3" r="0.8"/><circle cx="431.9" cy="371.5" r="1.3"/><circle cx="469.0" cy="334.7" r="1.0"/><circle cx="459.6" cy="321.4" r="0.7"/><circle cx="494.0" cy="357.5" r="0.8"/><circle cx="453.1" cy="307.6" r="1.0"/><circle cx="449.3" cy="352.4" r="1.2"/><circle cx="439.8" cy="326.0" r="1.0"/><circle cx="453.8" cy="342.7" r="0.8"/><circle cx="439.8" cy="361.6" r="0.9"/><circle cx="492.9" cy="310.9" r="0.9"/><circle cx="429.4" cy="340.5" r="1.0"/><circle cx="475.9" cy="338.4" r="0.8"/><circle cx="478.0" cy="316.7" r="1.1"/><circle cx="480.9" cy="316.9" r="0.8"/><circle cx="489.0" cy="358.7" r="0.9"/><circle cx="411.8" cy="312.4" r="0.9"/><circle cx="479.6" cy="320.5" r="1.3"/><circle cx="477.6" cy="346.0" r="0.8"/><circle cx="492.0" cy="365.1" r="0.9"/><circle cx="425.1" cy="356.4" r="1.2"/><circle cx="442.5" cy="310.7" r="0.9"/><circle cx="460.5" cy="343.4" r="1.3"/><circle cx="482.5" cy="341.0" r="0.9"/><circle cx="445.5" cy="312.1" r="0.9"/><circle cx="434.6" cy="322.9" r="1.0"/><circle cx="458.9" cy="337.2" r="0.9"/><circle cx="436.7" cy="323.6" r="1.0"/><circle cx="440.6" cy="358.4" r="0.9"/><circle cx="465.1" cy="361.5" r="1.2"/><circle cx="465.4" cy="291.7" r="1.2"/><circle cx="493.8" cy="328.4" r="1.0"/><circle cx="440.7" cy="355.0" r="0.9"/><circle cx="437.2" cy="336.9" r="1.1"/><circle cx="431.4" cy="324.2" r="0.8"/><circle cx="434.8" cy="368.7" r="0.9"/><circle cx="427.3" cy="293.9" r="0.9"/><circle cx="477.1" cy="332.5" r="1.1"/><circle cx="496.1" cy="343.2" r="1.2"/><circle cx="456.9" cy="345.7" r="0.9"/><circle cx="471.5" cy="351.9" r="0.8"/><circle cx="495.8" cy="329.4" r="0.9"/><circle cx="435.5" cy="334.4" r="0.9"/><circle cx="435.5" cy="329.2" r="0.7"/><circle cx="476.3" cy="353.4" r="1.2"/><circle cx="467.9" cy="295.4" r="0.9"/><circle cx="427.5" cy="335.3" r="1.1"/><circle cx="458.6" cy="318.9" r="1.1"/><circle cx="482.9" cy="345.7" r="1.1"/><circle cx="425.6" cy="356.6" r="1.3"/><circle cx="467.0" cy="320.4" r="1.2"/><circle cx="476.6" cy="363.6" r="1.2"/><circle cx="460.6" cy="298.9" r="0.7"/><circle cx="467.4" cy="347.9" r="1.2"/><circle cx="441.6" cy="292.3" r="1.1"/><circle cx="430.8" cy="317.1" r="0.9"/><circle cx="442.2" cy="345.1" r="1.0"/><circle cx="412.9" cy="345.7" r="1.2"/><circle cx="481.6" cy="327.3" r="0.7"/><circle cx="454.9" cy="326.2" r="1.3"/><circle cx="423.5" cy="357.9" r="1.0"/><circle cx="481.1" cy="361.1" r="0.7"/><circle cx="469.3" cy="358.6" r="0.8"/><circle cx="417.0" cy="327.8" r="0.8"/><circle cx="447.1" cy="372.3" r="1.0"/><circle cx="419.0" cy="315.0" r="1.2"/><circle cx="487.8" cy="342.4" r="1.1"/><circle cx="485.3" cy="299.1" r="0.9"/><circle cx="495.1" cy="299.5" r="1.2"/><circle cx="446.9" cy="344.4" r="1.1"/><circle cx="471.6" cy="326.4" r="1.2"/><circle cx="439.6" cy="293.4" r="1.2"/><circle cx="465.9" cy="328.4" r="0.9"/><circle cx="428.0" cy="348.6" r="0.9"/><circle cx="428.1" cy="297.9" r="1.1"/><circle cx="486.5" cy="351.6" r="1.0"/><circle cx="449.7" cy="304.2" r="0.8"/><circle cx="480.5" cy="308.8" r="1.3"/><circle cx="490.9" cy="314.4" r="0.8"/><circle cx="449.1" cy="361.2" r="0.7"/><circle cx="484.4" cy="334.7" r="0.8"/><circle cx="496.6" cy="315.7" r="1.1"/><circle cx="455.9" cy="323.1" r="0.9"/><circle cx="436.4" cy="354.4" r="0.8"/><circle cx="432.9" cy="329.4" r="1.0"/><circle cx="485.1" cy="324.7" r="1.2"/><circle cx="485.8" cy="302.1" r="1.2"/><circle cx="462.8" cy="344.2" r="1.1"/><circle cx="439.2" cy="323.1" r="0.9"/><circle cx="411.3" cy="371.1" r="1.3"/><circle cx="424.7" cy="338.0" r="1.2"/><circle cx="422.6" cy="372.3" r="1.0"/><circle cx="437.5" cy="354.8" r="1.3"/><circle cx="420.4" cy="349.8" r="0.8"/><circle cx="422.5" cy="351.2" r="0.9"/><circle cx="468.2" cy="367.1" r="1.0"/><circle cx="494.9" cy="369.1" r="0.8"/><circle cx="450.6" cy="308.1" r="0.8"/><circle cx="456.7" cy="319.0" r="1.0"/><circle cx="479.5" cy="343.4" r="1.1"/><circle cx="431.5" cy="323.6" r="1.2"/><circle cx="430.1" cy="299.8" r="1.0"/><circle cx="437.9" cy="324.3" r="1.0"/><circle cx="428.4" cy="329.8" r="1.1"/><circle cx="417.0" cy="301.3" r="1.0"/><circle cx="436.7" cy="309.0" r="1.2"/><circle cx="435.3" cy="349.0" r="0.9"/><circle cx="462.5" cy="364.6" r="0.9"/><circle cx="473.7" cy="364.9" r="1.0"/><circle cx="490.4" cy="356.2" r="1.2"/><circle cx="481.8" cy="310.1" r="1.1"/><circle cx="447.4" cy="342.0" r="1.1"/><circle cx="459.7" cy="368.5" r="0.7"/><circle cx="427.1" cy="305.4" r="0.9"/><circle cx="467.6" cy="320.9" r="0.8"/><circle cx="445.3" cy="317.5" r="1.1"/><circle cx="468.7" cy="305.8" r="1.2"/><circle cx="461.0" cy="342.6" r="0.8"/><circle cx="489.3" cy="297.4" r="0.9"/><circle cx="462.7" cy="295.5" r="1.3"/><circle cx="440.0" cy="313.7" r="1.2"/><circle cx="450.5" cy="292.3" r="1.2"/><circle cx="456.8" cy="335.5" r="1.0"/><circle cx="485.1" cy="317.2" r="1.1"/><circle cx="438.5" cy="310.8" r="0.8"/><circle cx="415.5" cy="329.6" r="1.0"/><circle cx="476.7" cy="328.1" r="1.1"/><circle cx="477.7" cy="329.9" r="1.2"/><circle cx="489.1" cy="291.9" r="0.8"/><circle cx="463.5" cy="368.2" r="1.0"/><circle cx="489.8" cy="364.4" r="0.8"/><circle cx="443.3" cy="360.9" r="0.8"/><circle cx="431.7" cy="334.5" r="0.7"/><circle cx="498.6" cy="364.8" r="1.3"/><circle cx="495.4" cy="358.6" r="1.0"/><circle cx="421.2" cy="305.3" r="1.2"/><circle cx="455.2" cy="313.7" r="1.1"/><circle cx="466.4" cy="353.4" r="1.0"/><circle cx="426.3" cy="363.7" r="0.8"/><circle cx="434.7" cy="294.1" r="0.9"/><circle cx="427.2" cy="352.0" r="0.9"/><circle cx="466.0" cy="323.2" r="1.2"/></g>
<g fill="#9a6184"><circle cx="435.6" cy="313.8" r="0.9"/><circle cx="424.7" cy="298.1" r="0.9"/><circle cx="426.5" cy="356.3" r="0.9"/><circle cx="491.9" cy="368.1" r="1.2"/><circle cx="463.9" cy="322.7" r="1.0"/><circle cx="432.2" cy="367.2" r="0.8"/><circle cx="452.9" cy="299.2" r="1.3"/><circle cx="434.5" cy="316.0" r="0.9"/><circle cx="482.0" cy="324.3" r="0.9"/><circle cx="483.0" cy="299.9" r="0.9"/><circle cx="431.2" cy="371.3" r="1.0"/><circle cx="475.1" cy="373.0" r="0.9"/><circle cx="492.8" cy="294.8" r="0.9"/><circle cx="472.6" cy="372.0" r="1.0"/><circle cx="447.2" cy="354.9" r="0.7"/><circle cx="456.3" cy="352.2" r="1.1"/><circle cx="463.4" cy="327.3" r="1.2"/><circle cx="458.2" cy="339.3" r="0.7"/><circle cx="496.2" cy="323.3" r="1.2"/><circle cx="493.5" cy="314.1" r="0.8"/><circle cx="461.9" cy="366.0" r="0.7"/><circle cx="472.5" cy="295.5" r="1.1"/><circle cx="416.0" cy="360.6" r="1.0"/><circle cx="458.6" cy="333.2" r="1.3"/><circle cx="471.7" cy="298.2" r="1.2"/><circle cx="470.5" cy="315.5" r="1.2"/><circle cx="474.1" cy="331.1" r="0.9"/><circle cx="483.0" cy="350.8" r="1.2"/><circle cx="477.6" cy="344.0" r="0.9"/><circle cx="422.2" cy="312.7" r="0.7"/><circle cx="465.0" cy="335.0" r="1.1"/><circle cx="472.2" cy="298.4" r="1.0"/><circle cx="467.4" cy="322.2" r="1.0"/><circle cx="450.2" cy="370.6" r="1.0"/><circle cx="414.4" cy="373.1" r="1.3"/><circle cx="411.5" cy="371.7" r="1.0"/><circle cx="442.7" cy="307.3" r="1.2"/><circle cx="481.4" cy="372.4" r="0.8"/><circle cx="488.3" cy="293.7" r="1.0"/><circle cx="454.1" cy="333.4" r="0.8"/><circle cx="474.6" cy="303.8" r="1.2"/><circle cx="471.8" cy="331.7" r="1.0"/><circle cx="414.1" cy="295.2" r="1.3"/><circle cx="444.0" cy="320.1" r="0.7"/><circle cx="450.8" cy="335.1" r="1.0"/><circle cx="420.3" cy="371.8" r="1.2"/><circle cx="482.1" cy="295.5" r="0.9"/><circle cx="431.5" cy="361.8" r="1.1"/><circle cx="429.0" cy="331.4" r="1.1"/><circle cx="444.1" cy="362.3" r="0.8"/><circle cx="427.1" cy="345.9" r="1.2"/><circle cx="477.7" cy="356.9" r="1.0"/><circle cx="459.4" cy="355.6" r="0.8"/><circle cx="459.0" cy="358.8" r="0.8"/><circle cx="443.7" cy="301.2" r="1.1"/><circle cx="419.6" cy="355.0" r="0.9"/><circle cx="469.5" cy="296.2" r="0.8"/><circle cx="472.6" cy="303.7" r="0.9"/><circle cx="476.9" cy="295.2" r="1.2"/><circle cx="484.8" cy="315.5" r="1.2"/><circle cx="429.3" cy="314.4" r="0.7"/><circle cx="435.1" cy="343.7" r="1.0"/><circle cx="498.5" cy="292.4" r="0.9"/><circle cx="456.4" cy="336.4" r="1.1"/><circle cx="424.4" cy="370.6" r="0.9"/><circle cx="452.8" cy="327.9" r="1.1"/><circle cx="411.7" cy="351.6" r="0.8"/><circle cx="428.6" cy="321.5" r="0.9"/><circle cx="424.3" cy="357.2" r="0.7"/><circle cx="473.3" cy="327.0" r="1.3"/><circle cx="463.5" cy="345.0" r="1.3"/><circle cx="424.4" cy="339.7" r="1.2"/><circle cx="461.6" cy="352.8" r="0.9"/><circle cx="472.5" cy="367.3" r="0.9"/><circle cx="493.1" cy="363.7" r="0.8"/><circle cx="485.6" cy="372.5" r="1.1"/><circle cx="435.3" cy="332.3" r="1.2"/><circle cx="450.3" cy="304.5" r="1.2"/><circle cx="451.6" cy="294.5" r="0.8"/><circle cx="436.5" cy="309.6" r="1.0"/><circle cx="422.6" cy="349.4" r="1.2"/><circle cx="426.9" cy="332.1" r="0.9"/><circle cx="495.7" cy="361.2" r="1.2"/><circle cx="465.9" cy="361.2" r="1.0"/><circle cx="444.5" cy="339.6" r="1.2"/><circle cx="422.6" cy="327.1" r="0.8"/><circle cx="468.9" cy="324.3" r="1.2"/><circle cx="412.8" cy="338.6" r="1.2"/><circle cx="476.9" cy="315.1" r="0.8"/><circle cx="444.2" cy="372.4" r="0.8"/><circle cx="477.0" cy="324.5" r="1.1"/><circle cx="448.8" cy="363.7" r="0.8"/><circle cx="481.9" cy="318.4" r="0.9"/><circle cx="433.3" cy="317.9" r="1.2"/><circle cx="421.3" cy="333.9" r="0.7"/><circle cx="428.4" cy="296.5" r="1.2"/><circle cx="478.8" cy="296.7" r="1.0"/><circle cx="433.1" cy="315.6" r="1.2"/><circle cx="465.1" cy="356.7" r="1.1"/><circle cx="458.1" cy="298.1" r="1.2"/><circle cx="437.3" cy="369.7" r="1.1"/><circle cx="489.4" cy="365.4" r="1.0"/><circle cx="425.5" cy="319.6" r="1.0"/><circle cx="444.4" cy="368.9" r="0.8"/><circle cx="424.4" cy="359.2" r="1.1"/><circle cx="443.3" cy="336.4" r="1.3"/><circle cx="488.2" cy="358.5" r="0.8"/><circle cx="432.0" cy="325.5" r="0.8"/><circle cx="453.0" cy="324.2" r="1.1"/><circle cx="438.9" cy="355.1" r="0.8"/><circle cx="462.7" cy="372.6" r="1.2"/><circle cx="439.8" cy="359.8" r="0.8"/><circle cx="498.0" cy="327.5" r="1.2"/><circle cx="443.7" cy="343.6" r="1.3"/><circle cx="479.3" cy="349.4" r="1.1"/><circle cx="457.0" cy="348.6" r="0.9"/><circle cx="421.7" cy="314.6" r="0.8"/><circle cx="449.0" cy="321.8" r="1.1"/><circle cx="456.3" cy="371.5" r="0.8"/><circle cx="465.7" cy="342.8" r="0.7"/><circle cx="480.5" cy="356.0" r="0.8"/><circle cx="489.5" cy="356.1" r="1.0"/><circle cx="436.6" cy="362.5" r="1.3"/><circle cx="459.5" cy="350.5" r="1.2"/><circle cx="477.3" cy="324.9" r="1.0"/><circle cx="430.8" cy="307.0" r="0.7"/><circle cx="436.7" cy="343.6" r="0.9"/><circle cx="465.7" cy="329.1" r="0.8"/><circle cx="440.2" cy="309.0" r="1.2"/><circle cx="493.2" cy="313.5" r="0.9"/><circle cx="444.7" cy="350.5" r="1.0"/><circle cx="428.1" cy="325.4" r="1.0"/><circle cx="473.4" cy="363.5" r="1.1"/><circle cx="431.3" cy="300.5" r="0.9"/><circle cx="453.0" cy="357.9" r="1.1"/><circle cx="497.3" cy="345.0" r="1.2"/><circle cx="486.4" cy="308.3" r="0.9"/><circle cx="454.9" cy="363.9" r="0.7"/><circle cx="452.4" cy="324.2" r="0.8"/><circle cx="488.9" cy="308.9" r="1.2"/><circle cx="474.4" cy="317.9" r="0.8"/><circle cx="430.6" cy="308.8" r="0.9"/><circle cx="441.0" cy="331.9" r="0.8"/><circle cx="434.5" cy="345.6" r="0.8"/><circle cx="443.8" cy="310.5" r="0.8"/><circle cx="423.1" cy="343.9" r="1.2"/><circle cx="473.7" cy="317.3" r="1.2"/><circle cx="421.8" cy="327.2" r="1.2"/><circle cx="440.0" cy="326.2" r="0.7"/><circle cx="495.0" cy="357.5" r="1.2"/><circle cx="474.9" cy="332.7" r="0.9"/><circle cx="455.0" cy="369.6" r="1.3"/><circle cx="424.5" cy="297.3" r="1.3"/><circle cx="494.0" cy="328.5" r="1.0"/><circle cx="447.1" cy="338.2" r="1.3"/><circle cx="411.2" cy="363.1" r="1.3"/><circle cx="470.0" cy="339.2" r="1.3"/><circle cx="475.5" cy="312.3" r="1.0"/><circle cx="416.9" cy="343.0" r="0.8"/><circle cx="498.5" cy="332.5" r="1.0"/><circle cx="486.5" cy="372.6" r="1.3"/><circle cx="447.4" cy="339.7" r="0.8"/><circle cx="469.8" cy="292.1" r="0.8"/><circle cx="414.7" cy="364.0" r="0.9"/><circle cx="434.0" cy="368.5" r="1.1"/><circle cx="417.7" cy="347.1" r="1.1"/><circle cx="464.0" cy="342.9" r="0.8"/><circle cx="424.2" cy="354.8" r="1.0"/><circle cx="473.7" cy="353.2" r="1.2"/><circle cx="463.8" cy="323.3" r="1.0"/><circle cx="411.4" cy="351.5" r="0.9"/><circle cx="485.0" cy="325.3" r="0.9"/><circle cx="483.2" cy="298.7" r="1.2"/><circle cx="489.6" cy="302.5" r="1.0"/><circle cx="466.2" cy="334.0" r="0.8"/><circle cx="453.6" cy="294.2" r="0.8"/><circle cx="445.9" cy="300.7" r="1.0"/><circle cx="487.4" cy="354.5" r="0.8"/><circle cx="412.9" cy="327.7" r="0.7"/><circle cx="422.5" cy="316.1" r="0.8"/><circle cx="453.6" cy="331.9" r="1.1"/><circle cx="481.7" cy="326.9" r="1.2"/><circle cx="413.8" cy="348.4" r="1.1"/><circle cx="428.7" cy="370.9" r="0.8"/><circle cx="419.5" cy="361.3" r="0.8"/><circle cx="411.6" cy="365.5" r="0.8"/><circle cx="456.7" cy="311.6" r="1.0"/><circle cx="464.0" cy="318.5" r="0.9"/><circle cx="423.8" cy="371.0" r="0.8"/><circle cx="443.9" cy="301.8" r="1.3"/><circle cx="495.9" cy="298.8" r="1.1"/><circle cx="482.6" cy="337.9" r="1.2"/><circle cx="434.6" cy="308.4" r="0.8"/><circle cx="497.1" cy="306.5" r="0.8"/><circle cx="462.0" cy="302.8" r="1.1"/><circle cx="471.4" cy="332.6" r="0.7"/><circle cx="482.7" cy="357.8" r="0.8"/><circle cx="468.4" cy="293.8" r="0.9"/><circle cx="491.5" cy="343.4" r="1.1"/><circle cx="454.5" cy="339.7" r="1.0"/><circle cx="423.0" cy="326.9" r="0.9"/><circle cx="415.4" cy="309.7" r="0.9"/><circle cx="449.9" cy="351.5" r="0.7"/><circle cx="466.9" cy="355.2" r="1.0"/><circle cx="460.0" cy="358.5" r="1.2"/><circle cx="434.0" cy="302.2" r="0.8"/><circle cx="461.1" cy="297.8" r="0.9"/><circle cx="483.1" cy="325.0" r="0.7"/><circle cx="494.3" cy="324.2" r="1.1"/><circle cx="451.6" cy="318.8" r="1.2"/><circle cx="485.5" cy="368.7" r="0.8"/><circle cx="444.1" cy="316.8" r="1.1"/><circle cx="483.3" cy="355.6" r="1.3"/><circle cx="412.9" cy="292.7" r="0.9"/><circle cx="456.0" cy="359.5" r="0.9"/><circle cx="429.1" cy="340.0" r="0.7"/><circle cx="493.6" cy="312.1" r="1.0"/><circle cx="448.4" cy="296.6" r="0.7"/><circle cx="491.4" cy="358.4" r="0.8"/><circle cx="466.3" cy="347.9" r="1.0"/><circle cx="437.0" cy="361.7" r="0.9"/><circle cx="428.0" cy="333.9" r="0.8"/><circle cx="410.6" cy="309.1" r="1.3"/><circle cx="495.8" cy="359.1" r="0.8"/><circle cx="480.2" cy="373.2" r="1.0"/><circle cx="436.5" cy="371.7" r="1.1"/><circle cx="443.5" cy="344.9" r="0.9"/><circle cx="463.9" cy="355.6" r="1.2"/><circle cx="430.0" cy="320.4" r="1.0"/><circle cx="456.4" cy="318.0" r="0.9"/><circle cx="435.6" cy="363.7" r="1.0"/><circle cx="420.9" cy="366.5" r="0.7"/><circle cx="463.8" cy="371.5" r="1.2"/><circle cx="466.2" cy="351.7" r="0.9"/><circle cx="446.5" cy="313.9" r="1.2"/><circle cx="411.4" cy="332.9" r="1.1"/><circle cx="465.8" cy="335.6" r="1.2"/><circle cx="455.2" cy="347.4" r="0.9"/><circle cx="491.8" cy="343.7" r="1.3"/><circle cx="453.5" cy="310.0" r="1.3"/><circle cx="435.9" cy="318.0" r="1.0"/><circle cx="488.0" cy="329.2" r="1.0"/><circle cx="418.3" cy="339.1" r="1.1"/><circle cx="488.9" cy="352.2" r="1.3"/><circle cx="457.5" cy="326.4" r="0.9"/><circle cx="428.7" cy="326.0" r="1.0"/><circle cx="411.9" cy="352.2" r="1.1"/><circle cx="442.3" cy="358.5" r="0.8"/><circle cx="498.2" cy="292.0" r="1.3"/><circle cx="472.6" cy="351.3" r="1.2"/><circle cx="495.9" cy="306.0" r="1.0"/><circle cx="472.1" cy="328.7" r="1.1"/><circle cx="446.3" cy="324.0" r="1.2"/><circle cx="461.0" cy="309.9" r="0.9"/><circle cx="442.8" cy="306.0" r="1.1"/><circle cx="467.1" cy="303.5" r="0.8"/><circle cx="458.4" cy="357.5" r="0.9"/><circle cx="429.2" cy="312.7" r="0.9"/><circle cx="474.9" cy="341.9" r="0.7"/><circle cx="424.3" cy="315.3" r="1.2"/><circle cx="449.5" cy="352.0" r="1.1"/><circle cx="447.3" cy="301.1" r="0.9"/><circle cx="477.5" cy="322.2" r="0.7"/><circle cx="471.3" cy="315.9" r="1.1"/><circle cx="410.7" cy="357.9" r="0.9"/><circle cx="460.6" cy="363.1" r="1.3"/><circle cx="443.9" cy="318.0" r="1.0"/><circle cx="471.0" cy="311.9" r="1.1"/><circle cx="426.4" cy="362.9" r="0.9"/><circle cx="491.7" cy="368.2" r="1.2"/><circle cx="481.9" cy="345.0" r="1.0"/><circle cx="468.6" cy="298.7" r="0.8"/><circle cx="456.0" cy="309.1" r="1.2"/><circle cx="418.6" cy="347.9" r="1.3"/><circle cx="493.5" cy="363.8" r="0.8"/><circle cx="451.1" cy="348.0" r="0.8"/><circle cx="420.1" cy="349.0" r="1.3"/><circle cx="413.0" cy="353.6" r="1.1"/><circle cx="465.2" cy="305.4" r="1.2"/><circle cx="463.1" cy="330.1" r="1.1"/><circle cx="490.7" cy="369.2" r="0.8"/><circle cx="494.8" cy="319.0" r="1.2"/><circle cx="430.8" cy="313.5" r="0.7"/><circle cx="421.3" cy="345.2" r="0.7"/><circle cx="467.4" cy="354.5" r="1.1"/><circle cx="471.1" cy="341.2" r="1.1"/><circle cx="458.3" cy="324.4" r="1.1"/><circle cx="472.9" cy="349.6" r="1.2"/><circle cx="481.3" cy="333.4" r="1.1"/><circle cx="422.4" cy="362.1" r="1.1"/><circle cx="496.9" cy="297.0" r="1.0"/><circle cx="415.7" cy="359.9" r="0.8"/><circle cx="473.9" cy="309.9" r="1.2"/><circle cx="453.4" cy="366.6" r="1.2"/><circle cx="488.3" cy="349.5" r="1.0"/><circle cx="417.5" cy="315.2" r="0.7"/><circle cx="467.0" cy="323.9" r="1.0"/><circle cx="428.6" cy="346.7" r="1.1"/><circle cx="457.3" cy="341.9" r="0.7"/><circle cx="474.2" cy="357.6" r="1.2"/><circle cx="465.5" cy="362.8" r="1.1"/><circle cx="438.5" cy="297.7" r="0.9"/><circle cx="485.2" cy="328.3" r="0.8"/><circle cx="487.0" cy="308.6" r="0.8"/><circle cx="429.0" cy="327.5" r="1.1"/><circle cx="433.2" cy="309.2" r="0.9"/><circle cx="473.0" cy="324.6" r="1.1"/><circle cx="442.9" cy="363.0" r="1.2"/><circle cx="450.9" cy="321.9" r="1.0"/><circle cx="469.5" cy="302.4" r="1.2"/><circle cx="462.4" cy="356.2" r="1.3"/><circle cx="461.8" cy="353.6" r="1.2"/><circle cx="463.3" cy="292.2" r="0.7"/><circle cx="467.5" cy="341.9" r="1.2"/><circle cx="431.3" cy="337.6" r="1.2"/><circle cx="434.9" cy="362.6" r="1.0"/><circle cx="486.4" cy="346.1" r="0.8"/><circle cx="462.5" cy="319.4" r="1.3"/><circle cx="444.1" cy="297.3" r="1.1"/><circle cx="420.7" cy="364.2" r="0.8"/><circle cx="417.8" cy="310.5" r="1.0"/><circle cx="467.5" cy="342.5" r="0.8"/><circle cx="451.0" cy="305.6" r="0.9"/><circle cx="417.2" cy="337.4" r="1.0"/><circle cx="485.1" cy="353.8" r="0.8"/><circle cx="444.0" cy="355.0" r="1.0"/><circle cx="463.9" cy="341.1" r="1.0"/><circle cx="475.4" cy="323.2" r="1.0"/><circle cx="444.2" cy="313.5" r="0.8"/><circle cx="442.0" cy="347.9" r="1.1"/><circle cx="462.1" cy="303.1" r="1.0"/><circle cx="491.8" cy="314.6" r="0.8"/><circle cx="454.6" cy="365.1" r="1.2"/><circle cx="439.9" cy="368.8" r="1.1"/><circle cx="434.5" cy="373.0" r="1.2"/><circle cx="494.1" cy="316.9" r="0.8"/><circle cx="474.1" cy="319.3" r="1.2"/><circle cx="489.8" cy="318.9" r="0.7"/><circle cx="495.3" cy="295.9" r="0.8"/><circle cx="489.4" cy="357.5" r="0.9"/><circle cx="478.0" cy="364.5" r="0.8"/><circle cx="487.9" cy="368.7" r="1.2"/><circle cx="497.1" cy="330.2" r="0.9"/><circle cx="464.3" cy="336.3" r="0.9"/></g>
<path d="M405,290 L452.1,290 C450,300 448,310 446.3,317.7 C443,326 440,333 436.6,337 C433,341 430,345 427.4,348 L426.3,353.5 L428.5,356 C425.5,360 424,366 422.8,375 L405,375 Z" fill="#b592a8" stroke="#f4eef2" stroke-width="1.2"/>
</g></g>
<rect x="412.6" y="293.5" width="84.09999999999997" height="77.69999999999999" fill="none" stroke="#2a2a2a" stroke-width="1.3"/>
<line x1="412.5" y1="353.2" x2="426.5" y2="353.2" stroke="#6f5a86" stroke-width="1.0"/>
<ellipse cx="430" cy="308.8" rx="0.9" ry="1.5" transform="rotate(30 430 308.8)" fill="#c6aebd"/>
<ellipse cx="425.8" cy="318" rx="0.9" ry="1.5" transform="rotate(30 425.8 318)" fill="#c6aebd"/>
<ellipse cx="416.6" cy="318.5" rx="0.9" ry="1.5" transform="rotate(30 416.6 318.5)" fill="#c6aebd"/>
<ellipse cx="420.5" cy="327.3" rx="0.9" ry="1.5" transform="rotate(30 420.5 327.3)" fill="#c6aebd"/>
<ellipse cx="427.8" cy="329.6" rx="0.9" ry="1.5" transform="rotate(30 427.8 329.6)" fill="#c6aebd"/>
<ellipse cx="443.2" cy="303" rx="0.9" ry="1.5" transform="rotate(30 443.2 303)" fill="#c6aebd"/>
<ellipse cx="415" cy="343" rx="0.9" ry="1.5" transform="rotate(30 415 343)" fill="#c6aebd"/>
<text x="334.0" y="222.8" font-size="8.2" text-anchor="start" font-weight="bold" fill="#000" textLength="26.2" lengthAdjust="spacingAndGlyphs">control</text>
<text x="419.4" y="222.7" font-size="8.2" text-anchor="start" font-weight="bold" fill="#000" textLength="26.2" lengthAdjust="spacingAndGlyphs">control</text>
<text x="330.6" y="302.3" font-size="8.2" text-anchor="start" font-weight="bold" fill="#000" textLength="19.2" lengthAdjust="spacingAndGlyphs">Ruxo</text>
<text x="416.2" y="302.3" font-size="8.2" text-anchor="start" font-weight="bold" fill="#000" textLength="19.2" lengthAdjust="spacingAndGlyphs">Ruxo</text>
<line x1="390.4" y1="287.4" x2="406.3" y2="287.4" stroke="#000" stroke-width="1.6"/>
<line x1="477.1" y1="287.7" x2="493.1" y2="287.7" stroke="#000" stroke-width="1.6"/>
<line x1="391.2" y1="368.1" x2="407.5" y2="368.1" stroke="#000" stroke-width="1.6"/>
<line x1="477.7" y1="368.1" x2="493.5" y2="368.1" stroke="#000" stroke-width="1.6"/>
<path d="M391.2,232.8 L396.3,223.7 L396.2,227.9 L400.5,228.0 Z" fill="#000"/>
<path d="M346.2,286.4 L351.3,277.3 L351.2,281.5 L355.5,281.6 Z" fill="#000"/>
<path d="M453.1,277.7 L458.2,268.6 L458.1,272.8 L462.4,272.9 Z" fill="#000"/>
<path d="M356.5,325.4 L361.6,316.3 L361.5,320.5 L365.8,320.6 Z" fill="#000"/>
<path d="M374.8,355.6 L379.9,346.5 L379.8,350.7 L384.1,350.8 Z" fill="#000"/>
<text x="8.3" y="408.4" font-size="12.8" text-anchor="start" font-weight="bold" fill="#000">E</text>
<line x1="62" y1="416.3" x2="62" y2="532.4000000000001" stroke="#161616" stroke-width="1.55"/>
<line x1="58.7" y1="531.7" x2="62" y2="531.7" stroke="#1a1a1a" stroke-width="1.1"/>
<text x="55.2" y="534.8" font-size="8.7" text-anchor="end" fill="#1a1a1a" textLength="4.5" lengthAdjust="spacingAndGlyphs">0</text>
<line x1="58.7" y1="520.48" x2="62" y2="520.48" stroke="#1a1a1a" stroke-width="1.1"/>
<text x="55.2" y="523.58" font-size="8.7" text-anchor="end" fill="#1a1a1a" textLength="11.26" lengthAdjust="spacingAndGlyphs">0,2</text>
<line x1="58.7" y1="509.26000000000005" x2="62" y2="509.26000000000005" stroke="#1a1a1a" stroke-width="1.1"/>
<text x="55.2" y="512.36" font-size="8.7" text-anchor="end" fill="#1a1a1a" textLength="11.26" lengthAdjust="spacingAndGlyphs">0,4</text>
<line x1="58.7" y1="498.04" x2="62" y2="498.04" stroke="#1a1a1a" stroke-width="1.1"/>
<text x="55.2" y="501.14" font-size="8.7" text-anchor="end" fill="#1a1a1a" textLength="11.26" lengthAdjust="spacingAndGlyphs">0,6</text>
<line x1="58.7" y1="486.82000000000005" x2="62" y2="486.82000000000005" stroke="#1a1a1a" stroke-width="1.1"/>
<text x="55.2" y="489.92" font-size="8.7" text-anchor="end" fill="#1a1a1a" textLength="11.26" lengthAdjust="spacingAndGlyphs">0,8</text>
<line x1="58.7" y1="475.6" x2="62" y2="475.6" stroke="#1a1a1a" stroke-width="1.1"/>
<text x="55.2" y="478.7" font-size="8.7" text-anchor="end" fill="#1a1a1a" textLength="4.5" lengthAdjust="spacingAndGlyphs">1</text>
<line x1="58.7" y1="464.38000000000005" x2="62" y2="464.38000000000005" stroke="#1a1a1a" stroke-width="1.1"/>
<text x="55.2" y="467.48" font-size="8.7" text-anchor="end" fill="#1a1a1a" textLength="11.26" lengthAdjust="spacingAndGlyphs">1,2</text>
<line x1="58.7" y1="453.16" x2="62" y2="453.16" stroke="#1a1a1a" stroke-width="1.1"/>
<text x="55.2" y="456.26" font-size="8.7" text-anchor="end" fill="#1a1a1a" textLength="11.26" lengthAdjust="spacingAndGlyphs">1,4</text>
<line x1="58.7" y1="441.94000000000005" x2="62" y2="441.94000000000005" stroke="#1a1a1a" stroke-width="1.1"/>
<text x="55.2" y="445.04" font-size="8.7" text-anchor="end" fill="#1a1a1a" textLength="11.26" lengthAdjust="spacingAndGlyphs">1,6</text>
<line x1="58.7" y1="430.72" x2="62" y2="430.72" stroke="#1a1a1a" stroke-width="1.1"/>
<text x="55.2" y="433.82" font-size="8.7" text-anchor="end" fill="#1a1a1a" textLength="11.26" lengthAdjust="spacingAndGlyphs">1,8</text>
<line x1="58.7" y1="419.50000000000006" x2="62" y2="419.50000000000006" stroke="#1a1a1a" stroke-width="1.1"/>
<text x="55.2" y="422.6" font-size="8.7" text-anchor="end" fill="#1a1a1a" textLength="4.5" lengthAdjust="spacingAndGlyphs">2</text>
<line x1="60.3" y1="526.09" x2="62" y2="526.09" stroke="#1a1a1a" stroke-width="1.0"/>
<line x1="60.3" y1="514.87" x2="62" y2="514.87" stroke="#1a1a1a" stroke-width="1.0"/>
<line x1="60.3" y1="503.65000000000003" x2="62" y2="503.65000000000003" stroke="#1a1a1a" stroke-width="1.0"/>
<line x1="60.3" y1="492.43000000000006" x2="62" y2="492.43000000000006" stroke="#1a1a1a" stroke-width="1.0"/>
<line x1="60.3" y1="481.21000000000004" x2="62" y2="481.21000000000004" stroke="#1a1a1a" stroke-width="1.0"/>
<line x1="60.3" y1="469.99" x2="62" y2="469.99" stroke="#1a1a1a" stroke-width="1.0"/>
<line x1="60.3" y1="458.77000000000004" x2="62" y2="458.77000000000004" stroke="#1a1a1a" stroke-width="1.0"/>
<line x1="60.3" y1="447.55" x2="62" y2="447.55" stroke="#1a1a1a" stroke-width="1.0"/>
<line x1="60.3" y1="436.33000000000004" x2="62" y2="436.33000000000004" stroke="#1a1a1a" stroke-width="1.0"/>
<line x1="60.3" y1="425.11" x2="62" y2="425.11" stroke="#1a1a1a" stroke-width="1.0"/>
<rect x="68.1" y="475.6" width="25.1" height="56.1" fill="#2e4b80"/>
<rect x="68.50" y="476.00" width="24.30" height="55.70" fill="none" stroke="#213d70" stroke-width="0.8"/>
<rect x="105.8" y="471.1" width="24.9" height="60.60000000000002" fill="#a4002e"/>
<rect x="106.20" y="471.50" width="24.10" height="60.20" fill="none" stroke="#8a0025" stroke-width="0.8"/>
<line x1="60.5" y1="531.7" x2="136.9" y2="531.7" stroke="#1a1a1a" stroke-width="1.25"/>
<line x1="80.5" y1="531.7" x2="80.5" y2="534.9000000000001" stroke="#1a1a1a" stroke-width="1.1"/>
<line x1="118.2" y1="531.7" x2="118.2" y2="534.9000000000001" stroke="#1a1a1a" stroke-width="1.1"/>
<text x="80.45" y="545.8" font-size="8.3" text-anchor="middle" fill="#1a1a1a" textLength="26.2" lengthAdjust="spacingAndGlyphs">control</text>
<text x="118.05" y="545.8" font-size="8.3" text-anchor="middle" fill="#1a1a1a" textLength="19.0" lengthAdjust="spacingAndGlyphs">Ruxo</text>
<text transform="translate(26.8,474.2) rotate(-90)" x="0" y="0" font-size="10.5" text-anchor="middle" fill="#1a1a1a" stroke="#1a1a1a" stroke-width="0.28" textLength="15.4" lengthAdjust="spacingAndGlyphs">WBC</text>
<text transform="translate(37.3,474.6) rotate(-90)" x="0" y="0" font-size="8.5" text-anchor="middle" fill="#1a1a1a" stroke="#1a1a1a" stroke-width="0.28" textLength="58.5" lengthAdjust="spacingAndGlyphs">(relative to control)</text>
<line x1="80.3" y1="471.3" x2="80.3" y2="479.1" stroke="#000" stroke-width="1.1"/>
<line x1="74.3" y1="471.3" x2="86.3" y2="471.3" stroke="#000" stroke-width="1.1"/>
<line x1="74.3" y1="479.1" x2="86.3" y2="479.1" stroke="#000" stroke-width="1.1"/>
<circle cx="80.2" cy="449.1" r="1.65" fill="#000"/>
<circle cx="69.8" cy="473.8" r="1.65" fill="#000"/>
<circle cx="76.8" cy="473.4" r="1.65" fill="#000"/>
<circle cx="84" cy="473.1" r="1.65" fill="#000"/>
<circle cx="91.3" cy="470.7" r="1.65" fill="#000"/>
<circle cx="69.8" cy="477.5" r="1.65" fill="#000"/>
<circle cx="76.8" cy="477.9" r="1.65" fill="#000"/>
<circle cx="84" cy="480.6" r="1.65" fill="#000"/>
<circle cx="91.3" cy="477.9" r="1.65" fill="#000"/>
<circle cx="80.2" cy="502.1" r="1.65" fill="#000"/>
<line x1="118" y1="465.3" x2="118" y2="477.4" stroke="#000" stroke-width="1.1"/>
<line x1="111.9" y1="465.3" x2="124.1" y2="465.3" stroke="#000" stroke-width="1.1"/>
<line x1="111.9" y1="477.4" x2="124.1" y2="477.4" stroke="#000" stroke-width="1.1"/>
<rect x="116.30" y="441.30" width="3.2" height="3.2" fill="#000"/>
<rect x="116.30" y="448.70" width="3.2" height="3.2" fill="#000"/>
<rect x="116.30" y="452.50" width="3.2" height="3.2" fill="#000"/>
<rect x="109.40" y="468.20" width="3.2" height="3.2" fill="#000"/>
<rect x="116.30" y="465.50" width="3.2" height="3.2" fill="#000"/>
<rect x="123.20" y="467.80" width="3.2" height="3.2" fill="#000"/>
<rect x="116.30" y="476.70" width="3.2" height="3.2" fill="#000"/>
<rect x="116.30" y="483.90" width="3.2" height="3.2" fill="#000"/>
<rect x="119.90" y="493.90" width="3.2" height="3.2" fill="#000"/>
<rect x="113.00" y="497.30" width="3.2" height="3.2" fill="#000"/>
<line x1="190.4" y1="416.2" x2="190.4" y2="532.2" stroke="#161616" stroke-width="1.55"/>
<line x1="187.1" y1="531.5" x2="190.4" y2="531.5" stroke="#1a1a1a" stroke-width="1.1"/>
<text x="183.6" y="534.6" font-size="8.7" text-anchor="end" fill="#1a1a1a" textLength="4.5" lengthAdjust="spacingAndGlyphs">0</text>
<line x1="187.1" y1="515.53" x2="190.4" y2="515.53" stroke="#1a1a1a" stroke-width="1.1"/>
<text x="183.6" y="518.63" font-size="8.7" text-anchor="end" fill="#1a1a1a" textLength="11.26" lengthAdjust="spacingAndGlyphs">0,2</text>
<line x1="187.1" y1="499.56" x2="190.4" y2="499.56" stroke="#1a1a1a" stroke-width="1.1"/>
<text x="183.6" y="502.66" font-size="8.7" text-anchor="end" fill="#1a1a1a" textLength="11.26" lengthAdjust="spacingAndGlyphs">0,4</text>
<line x1="187.1" y1="483.59" x2="190.4" y2="483.59" stroke="#1a1a1a" stroke-width="1.1"/>
<text x="183.6" y="486.69" font-size="8.7" text-anchor="end" fill="#1a1a1a" textLength="11.26" lengthAdjust="spacingAndGlyphs">0,6</text>
<line x1="187.1" y1="467.62" x2="190.4" y2="467.62" stroke="#1a1a1a" stroke-width="1.1"/>
<text x="183.6" y="470.72" font-size="8.7" text-anchor="end" fill="#1a1a1a" textLength="11.26" lengthAdjust="spacingAndGlyphs">0,8</text>
<line x1="187.1" y1="451.65" x2="190.4" y2="451.65" stroke="#1a1a1a" stroke-width="1.1"/>
<text x="183.6" y="454.75" font-size="8.7" text-anchor="end" fill="#1a1a1a" textLength="4.5" lengthAdjust="spacingAndGlyphs">1</text>
<line x1="187.1" y1="435.68" x2="190.4" y2="435.68" stroke="#1a1a1a" stroke-width="1.1"/>
<text x="183.6" y="438.78" font-size="8.7" text-anchor="end" fill="#1a1a1a" textLength="11.26" lengthAdjust="spacingAndGlyphs">1,2</text>
<line x1="187.1" y1="419.71" x2="190.4" y2="419.71" stroke="#1a1a1a" stroke-width="1.1"/>
<text x="183.6" y="422.81" font-size="8.7" text-anchor="end" fill="#1a1a1a" textLength="11.26" lengthAdjust="spacingAndGlyphs">1,4</text>
<line x1="188.70000000000002" y1="523.515" x2="190.4" y2="523.515" stroke="#1a1a1a" stroke-width="1.0"/>
<line x1="188.70000000000002" y1="507.545" x2="190.4" y2="507.545" stroke="#1a1a1a" stroke-width="1.0"/>
<line x1="188.70000000000002" y1="491.575" x2="190.4" y2="491.575" stroke="#1a1a1a" stroke-width="1.0"/>
<line x1="188.70000000000002" y1="475.605" x2="190.4" y2="475.605" stroke="#1a1a1a" stroke-width="1.0"/>
<line x1="188.70000000000002" y1="459.635" x2="190.4" y2="459.635" stroke="#1a1a1a" stroke-width="1.0"/>
<line x1="188.70000000000002" y1="443.665" x2="190.4" y2="443.665" stroke="#1a1a1a" stroke-width="1.0"/>
<line x1="188.70000000000002" y1="427.695" x2="190.4" y2="427.695" stroke="#1a1a1a" stroke-width="1.0"/>
<rect x="197.2" y="451.65" width="24.8" height="79.85" fill="#2e4b80"/>
<rect x="197.60" y="452.05" width="24.00" height="79.45" fill="none" stroke="#213d70" stroke-width="0.8"/>
<rect x="234.4" y="469.2" width="24.9" height="62.30000000000001" fill="#a4002e"/>
<rect x="234.80" y="469.60" width="24.10" height="61.90" fill="none" stroke="#8a0025" stroke-width="0.8"/>
<line x1="188.8" y1="531.5" x2="264.4" y2="531.5" stroke="#1a1a1a" stroke-width="1.25"/>
<line x1="209.6" y1="531.5" x2="209.6" y2="534.7" stroke="#1a1a1a" stroke-width="1.1"/>
<line x1="246.8" y1="531.5" x2="246.8" y2="534.7" stroke="#1a1a1a" stroke-width="1.1"/>
<text x="209.35" y="545.8" font-size="8.3" text-anchor="middle" fill="#1a1a1a" textLength="26.2" lengthAdjust="spacingAndGlyphs">control</text>
<text x="246.65" y="545.8" font-size="8.3" text-anchor="middle" fill="#1a1a1a" textLength="19.0" lengthAdjust="spacingAndGlyphs">Ruxo</text>
<text transform="translate(155.0,473.9) rotate(-90)" x="0" y="0" font-size="10" text-anchor="middle" fill="#1a1a1a" stroke="#1a1a1a" stroke-width="0.28" textLength="36.2" lengthAdjust="spacingAndGlyphs">Hemoglobin</text>
<text transform="translate(166.5,474.0) rotate(-90)" x="0" y="0" font-size="8.5" text-anchor="middle" fill="#1a1a1a" stroke="#1a1a1a" stroke-width="0.28" textLength="58.1" lengthAdjust="spacingAndGlyphs">(relative to control)</text>
<line x1="203.7" y1="432.9" x2="251" y2="432.9" stroke="#4a4a4a" stroke-width="1.5"/>
<circle cx="227.1" cy="428.4" r="1.25" fill="#000"/>
<line x1="208.8" y1="450.6" x2="208.8" y2="452.6" stroke="#000" stroke-width="1.1"/>
<line x1="203.10000000000002" y1="450.6" x2="214.5" y2="450.6" stroke="#000" stroke-width="1.1"/>
<line x1="203.10000000000002" y1="452.6" x2="214.5" y2="452.6" stroke="#000" stroke-width="1.1"/>
<circle cx="198.4" cy="446.4" r="1.65" fill="#000"/>
<circle cx="205.5" cy="448.5" r="1.65" fill="#000"/>
<circle cx="212.9" cy="448.5" r="1.65" fill="#000"/>
<circle cx="220.3" cy="446.4" r="1.65" fill="#000"/>
<circle cx="198.4" cy="451.2" r="1.65" fill="#000"/>
<circle cx="198.4" cy="454.9" r="1.65" fill="#000"/>
<circle cx="212.9" cy="451.8" r="1.65" fill="#000"/>
<circle cx="212.9" cy="455.2" r="1.65" fill="#000"/>
<circle cx="220.3" cy="454.5" r="1.65" fill="#000"/>
<circle cx="205.5" cy="458.6" r="1.65" fill="#000"/>
<line x1="246.7" y1="463" x2="246.7" y2="475.1" stroke="#000" stroke-width="1.1"/>
<line x1="240.5" y1="463" x2="252.89999999999998" y2="463" stroke="#000" stroke-width="1.1"/>
<line x1="240.5" y1="475.1" x2="252.89999999999998" y2="475.1" stroke="#000" stroke-width="1.1"/>
<rect x="245.20" y="439.10" width="3.2" height="3.2" fill="#000"/>
<rect x="245.20" y="449.60" width="3.2" height="3.2" fill="#000"/>
<rect x="241.90" y="454.90" width="3.2" height="3.2" fill="#000"/>
<rect x="248.60" y="453.60" width="3.2" height="3.2" fill="#000"/>
<rect x="245.20" y="461.00" width="3.2" height="3.2" fill="#000"/>
<rect x="245.20" y="465.30" width="3.2" height="3.2" fill="#000"/>
<rect x="245.20" y="477.50" width="3.2" height="3.2" fill="#000"/>
<rect x="238.20" y="492.40" width="3.2" height="3.2" fill="#000"/>
<rect x="245.20" y="489.90" width="3.2" height="3.2" fill="#000"/>
<rect x="251.70" y="490.60" width="3.2" height="3.2" fill="#000"/>
<line x1="319.4" y1="416.3" x2="319.4" y2="445.5" stroke="#1a1a1a" stroke-width="1.25"/>
<line x1="316.2" y1="445.5" x2="322.9" y2="445.5" stroke="#1a1a1a" stroke-width="1.25"/>
<line x1="319.4" y1="453.8" x2="319.4" y2="532.1" stroke="#1a1a1a" stroke-width="1.25"/>
<line x1="316.2" y1="453.8" x2="322.9" y2="453.8" stroke="#1a1a1a" stroke-width="1.25"/>
<line x1="316.2" y1="419.5" x2="319.4" y2="419.5" stroke="#1a1a1a" stroke-width="1.1"/>
<text x="312.3" y="422.6" font-size="8.7" text-anchor="end" fill="#1a1a1a" textLength="4.5" lengthAdjust="spacingAndGlyphs">4</text>
<line x1="316.2" y1="432.5" x2="319.4" y2="432.5" stroke="#1a1a1a" stroke-width="1.1"/>
<text x="312.3" y="435.6" font-size="8.7" text-anchor="end" fill="#1a1a1a" textLength="11.26" lengthAdjust="spacingAndGlyphs">3,5</text>
<text x="312.3" y="448.6" font-size="8.7" text-anchor="end" fill="#1a1a1a" textLength="4.5" lengthAdjust="spacingAndGlyphs">3</text>
<line x1="317.7" y1="439.0" x2="319.4" y2="439.0" stroke="#1a1a1a" stroke-width="1.0"/>
<line x1="317.7" y1="426.0" x2="319.4" y2="426.0" stroke="#1a1a1a" stroke-width="1.0"/>
<line x1="316.2" y1="531.5" x2="319.4" y2="531.5" stroke="#1a1a1a" stroke-width="1.1"/>
<text x="312.3" y="534.6" font-size="8.7" text-anchor="end" fill="#1a1a1a" textLength="4.5" lengthAdjust="spacingAndGlyphs">0</text>
<line x1="316.2" y1="512.17" x2="319.4" y2="512.17" stroke="#1a1a1a" stroke-width="1.1"/>
<text x="312.3" y="515.27" font-size="8.7" text-anchor="end" fill="#1a1a1a" textLength="11.26" lengthAdjust="spacingAndGlyphs">0,5</text>
<line x1="316.2" y1="492.84000000000003" x2="319.4" y2="492.84000000000003" stroke="#1a1a1a" stroke-width="1.1"/>
<text x="312.3" y="495.94" font-size="8.7" text-anchor="end" fill="#1a1a1a" textLength="4.5" lengthAdjust="spacingAndGlyphs">1</text>
<line x1="316.2" y1="473.51" x2="319.4" y2="473.51" stroke="#1a1a1a" stroke-width="1.1"/>
<text x="312.3" y="476.61" font-size="8.7" text-anchor="end" fill="#1a1a1a" textLength="11.26" lengthAdjust="spacingAndGlyphs">1,5</text>
<text x="312.3" y="457.28" font-size="8.7" text-anchor="end" fill="#1a1a1a" textLength="4.5" lengthAdjust="spacingAndGlyphs">2</text>
<line x1="317.7" y1="521.835" x2="319.4" y2="521.835" stroke="#1a1a1a" stroke-width="1.0"/>
<line x1="317.7" y1="502.505" x2="319.4" y2="502.505" stroke="#1a1a1a" stroke-width="1.0"/>
<line x1="317.7" y1="483.175" x2="319.4" y2="483.175" stroke="#1a1a1a" stroke-width="1.0"/>
<line x1="317.7" y1="463.845" x2="319.4" y2="463.845" stroke="#1a1a1a" stroke-width="1.0"/>
<rect x="325.9" y="492.84000000000003" width="24.4" height="38.66" fill="#2e4b80"/>
<rect x="326.30" y="493.24" width="23.60" height="38.26" fill="none" stroke="#213d70" stroke-width="0.8"/>
<rect x="363.2" y="473.5" width="24.7" height="58.0" fill="#a4002e"/>
<rect x="363.60" y="473.90" width="23.90" height="57.60" fill="none" stroke="#8a0025" stroke-width="0.8"/>
<line x1="317.8" y1="531.5" x2="394.2" y2="531.5" stroke="#1a1a1a" stroke-width="1.25"/>
<line x1="338.1" y1="531.5" x2="338.1" y2="534.7" stroke="#1a1a1a" stroke-width="1.1"/>
<line x1="375.5" y1="531.5" x2="375.5" y2="534.7" stroke="#1a1a1a" stroke-width="1.1"/>
<text x="337.8" y="545.8" font-size="8.3" text-anchor="middle" fill="#1a1a1a" textLength="26.2" lengthAdjust="spacingAndGlyphs">control</text>
<text x="375.35" y="545.8" font-size="8.3" text-anchor="middle" fill="#1a1a1a" textLength="19.0" lengthAdjust="spacingAndGlyphs">Ruxo</text>
<text transform="translate(284.2,473.4) rotate(-90)" x="0" y="0" font-size="10" text-anchor="middle" fill="#1a1a1a" stroke="#1a1a1a" stroke-width="0.28" textLength="43.3" lengthAdjust="spacingAndGlyphs">Thrombocytes</text>
<text transform="translate(294.6,474.3) rotate(-90)" x="0" y="0" font-size="8.5" text-anchor="middle" fill="#1a1a1a" stroke="#1a1a1a" stroke-width="0.28" textLength="57.7" lengthAdjust="spacingAndGlyphs">(relative to control)</text>
<line x1="338.2" y1="488.8" x2="338.2" y2="496.6" stroke="#000" stroke-width="1.1"/>
<line x1="333.2" y1="488.8" x2="343.2" y2="488.8" stroke="#000" stroke-width="1.1"/>
<line x1="333.2" y1="496.6" x2="343.2" y2="496.6" stroke="#000" stroke-width="1.1"/>
<circle cx="338" cy="471.4" r="1.65" fill="#000"/>
<circle cx="338" cy="479.1" r="1.65" fill="#000"/>
<circle cx="331.2" cy="486.7" r="1.65" fill="#000"/>
<circle cx="338" cy="488.5" r="1.65" fill="#000"/>
<circle cx="331.2" cy="493.9" r="1.65" fill="#000"/>
<circle cx="344.3" cy="493.9" r="1.65" fill="#000"/>
<circle cx="338" cy="495.7" r="1.65" fill="#000"/>
<circle cx="338" cy="498.7" r="1.65" fill="#000"/>
<circle cx="338" cy="506.5" r="1.65" fill="#000"/>
<circle cx="338" cy="514.6" r="1.65" fill="#000"/>
<line x1="375.4" y1="460.5" x2="375.4" y2="486.3" stroke="#000" stroke-width="1.1"/>
<line x1="369.29999999999995" y1="460.5" x2="381.5" y2="460.5" stroke="#000" stroke-width="1.1"/>
<line x1="369.29999999999995" y1="486.3" x2="381.5" y2="486.3" stroke="#000" stroke-width="1.1"/>
<rect x="373.70" y="431.90" width="3.2" height="3.2" fill="#000"/>
<rect x="373.70" y="441.30" width="3.2" height="3.2" fill="#000"/>
<rect x="373.70" y="464.70" width="3.2" height="3.2" fill="#000"/>
<rect x="373.70" y="470.10" width="3.2" height="3.2" fill="#000"/>
<rect x="373.70" y="475.20" width="3.2" height="3.2" fill="#000"/>
<rect x="370.30" y="489.20" width="3.2" height="3.2" fill="#000"/>
<rect x="377.00" y="490.50" width="3.2" height="3.2" fill="#000"/>
<rect x="373.70" y="495.90" width="3.2" height="3.2" fill="#000"/>
<rect x="373.70" y="512.10" width="3.2" height="3.2" fill="#000"/>
<rect x="373.70" y="516.60" width="3.2" height="3.2" fill="#000"/>
<rect x="0" y="0" width="520" height="1" fill="#000"/>
<rect x="0" y="0" width="1" height="555" fill="#000"/>
<rect x="519" y="0" width="1" height="555" fill="#000"/>
<rect x="518" y="0" width="1" height="555" fill="#000" opacity="0.3"/>
<rect x="0" y="554" width="520" height="1" fill="#000"/>
<rect x="0" y="553" width="520" height="1" fill="#000" opacity="0.3"/>
</svg>
</body></html>
